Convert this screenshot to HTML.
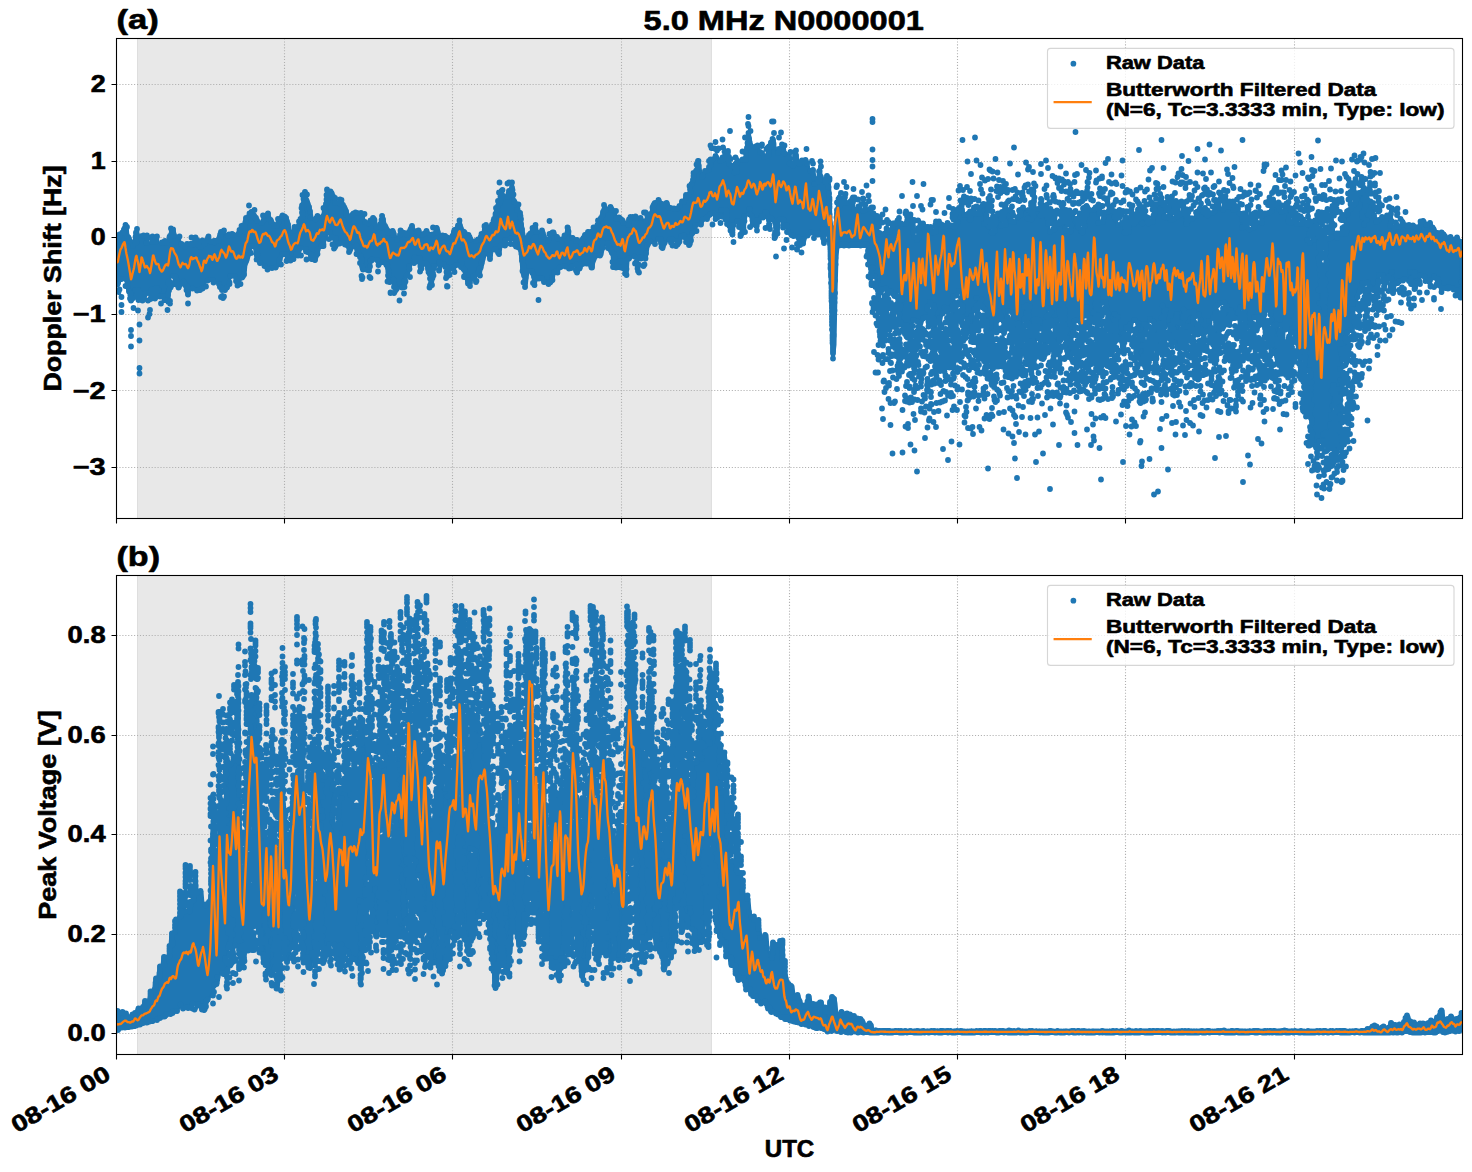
<!DOCTYPE html>
<html><head><meta charset="utf-8"><title>5.0 MHz N0000001</title>
<style>
html,body{margin:0;padding:0;background:#fff}
svg{display:block}
text{font-family:"Liberation Sans",sans-serif;font-weight:bold;fill:#000;stroke:#000;stroke-width:0.6px;stroke-linejoin:round}
.grid{stroke:#b0b0b0;stroke-width:1.1;stroke-dasharray:1.1 1.83;fill:none}
.tick{stroke:#000;stroke-width:1.1;fill:none}
.frame{stroke:#000;stroke-width:1.1;fill:none}
.dots{stroke:#1f77b4;stroke-width:5.8;stroke-linecap:round;fill:none}
.core{fill:#1f77b4;stroke:#1f77b4;stroke-width:2;stroke-linejoin:round}
.filt{stroke:#ff7f0e;stroke-width:2.35;stroke-linejoin:round;stroke-linecap:butt;fill:none}
</style></head><body>
<svg width="1472" height="1172" viewBox="0 0 1472 1172">
<rect width="1472" height="1172" fill="#fff"/>
<defs><clipPath id="ca"><rect x="116.5" y="38.5" width="1346" height="480"/></clipPath>
<clipPath id="cb"><rect x="116.5" y="575.5" width="1346" height="479"/></clipPath></defs>

<rect x="137" y="38.5" width="574.9" height="480.0" fill="#e8e8e8"/>
<path d="M137.5 38.5V518.5M711.4 38.5V518.5" stroke="#dedede" stroke-width="1" fill="none"/>
<path class="grid" d="M284.50 38.5V518.5M452.50 38.5V518.5M621.50 38.5V518.5M789.50 38.5V518.5M957.50 38.5V518.5M1125.50 38.5V518.5M1294.50 38.5V518.5M116.5 84.50H1462.5M116.5 161.50H1462.5M116.5 237.50H1462.5M116.5 314.50H1462.5M116.5 390.50H1462.5M116.5 467.50H1462.5"/>
<g clip-path="url(#ca)"><path class="core" d="M117.5 240.5L118.5 233.5L119.5 233.0L120.5 233.0L121.5 232.0L122.5 229.0L123.5 228.0L124.5 224.0L125.5 223.5L126.5 224.0L127.5 225.0L128.5 236.0L129.5 237.0L130.5 238.0L131.5 240.5L132.5 244.5L133.5 244.5L134.5 233.0L135.5 232.0L136.5 228.0L137.5 227.5L138.5 233.0L139.5 236.5L140.5 236.0L141.5 235.0L142.5 235.0L143.5 234.5L144.5 235.0L145.5 235.5L146.5 235.0L147.5 234.5L148.5 242.5L149.5 243.0L150.5 242.5L151.5 235.5L152.5 235.0L153.5 235.5L154.5 236.5L155.5 236.5L156.5 235.5L157.5 235.5L158.5 242.0L159.5 243.0L160.5 242.5L161.5 241.5L162.5 241.0L163.5 240.5L164.5 240.0L165.5 240.0L166.5 240.5L167.5 240.5L168.5 236.0L169.5 235.0L170.5 227.5L171.5 227.5L172.5 228.0L173.5 228.0L174.5 228.5L175.5 234.5L176.5 236.0L177.5 236.5L178.5 236.0L179.5 235.0L180.5 242.5L181.5 242.5L182.5 243.0L183.5 244.0L184.5 244.5L185.5 244.0L186.5 243.0L187.5 242.5L188.5 243.0L189.5 243.0L190.5 242.5L191.5 242.5L192.5 242.5L193.5 242.0L194.5 236.5L195.5 236.0L196.5 236.5L197.5 237.5L198.5 240.0L199.5 240.5L200.5 245.5L201.5 245.5L202.5 239.5L203.5 239.5L204.5 240.0L205.5 240.0L206.5 236.5L207.5 235.5L208.5 235.0L209.5 235.5L210.5 240.5L211.5 240.5L212.5 240.5L213.5 240.0L214.5 239.5L215.5 239.5L216.5 239.5L217.5 239.5L218.5 234.0L219.5 232.0L220.5 231.0L221.5 230.5L222.5 230.0L223.5 229.0L224.5 229.0L225.5 236.0L226.5 235.5L227.5 234.0L228.5 233.0L229.5 233.0L230.5 233.0L231.5 233.0L232.5 232.5L233.5 233.0L234.5 233.5L235.5 234.5L236.5 234.5L237.5 232.0L238.5 230.0L239.5 229.0L240.5 225.0L241.5 224.5L242.5 230.5L243.5 224.0L244.5 218.0L245.5 217.0L246.5 216.5L247.5 215.5L248.5 213.0L249.5 212.0L250.5 211.0L251.5 210.5L252.5 210.0L253.5 209.0L254.5 214.5L255.5 215.0L256.5 216.0L257.5 218.0L258.5 220.0L259.5 222.5L260.5 222.5L261.5 222.0L262.5 220.0L263.5 214.5L264.5 215.0L265.5 215.0L266.5 213.0L267.5 212.0L268.5 212.0L269.5 213.0L270.5 218.5L271.5 218.5L272.5 219.5L273.5 222.0L274.5 224.0L275.5 224.5L276.5 224.5L277.5 218.0L278.5 217.5L279.5 217.5L280.5 215.5L281.5 214.5L282.5 214.0L283.5 214.5L284.5 215.5L285.5 216.0L286.5 216.5L287.5 217.0L288.5 221.0L289.5 224.0L290.5 229.5L291.5 232.0L292.5 232.0L293.5 227.0L294.5 226.0L295.5 226.0L296.5 226.5L297.5 225.5L298.5 221.0L299.5 219.0L300.5 217.5L301.5 205.0L302.5 203.5L303.5 191.5L304.5 190.5L305.5 190.5L306.5 191.5L307.5 199.5L308.5 200.5L309.5 203.5L310.5 206.5L311.5 211.0L312.5 217.5L313.5 219.5L314.5 218.5L315.5 216.5L316.5 215.5L317.5 215.0L318.5 215.5L319.5 216.5L320.5 216.5L321.5 216.0L322.5 214.0L323.5 206.5L324.5 204.0L325.5 199.5L326.5 189.0L327.5 188.5L328.5 195.0L329.5 190.0L330.5 190.0L331.5 190.5L332.5 191.5L333.5 193.0L334.5 195.5L335.5 196.5L336.5 202.5L337.5 202.5L338.5 200.0L339.5 199.0L340.5 198.5L341.5 199.0L342.5 199.0L343.5 204.0L344.5 205.0L345.5 206.5L346.5 207.5L347.5 210.0L348.5 215.0L349.5 219.0L350.5 215.0L351.5 214.0L352.5 213.5L353.5 212.5L354.5 212.5L355.5 211.5L356.5 211.5L357.5 211.5L358.5 212.5L359.5 212.5L360.5 212.0L361.5 212.0L362.5 213.0L363.5 213.0L364.5 221.0L365.5 221.0L366.5 222.0L367.5 222.0L368.5 222.0L369.5 220.0L370.5 219.0L371.5 218.0L372.5 217.0L373.5 216.5L374.5 217.0L375.5 218.0L376.5 223.0L377.5 226.5L378.5 227.5L379.5 227.5L380.5 219.5L381.5 215.0L382.5 214.5L383.5 215.0L384.5 219.0L385.5 224.0L386.5 225.5L387.5 226.5L388.5 229.0L389.5 230.0L390.5 236.5L391.5 230.5L392.5 229.5L393.5 229.5L394.5 230.5L395.5 233.5L396.5 238.5L397.5 238.5L398.5 235.0L399.5 230.0L400.5 229.0L401.5 229.0L402.5 230.0L403.5 231.5L404.5 231.5L405.5 232.0L406.5 232.0L407.5 232.0L408.5 231.5L409.5 228.0L410.5 225.5L411.5 224.5L412.5 224.5L413.5 225.5L414.5 230.5L415.5 230.5L416.5 230.0L417.5 229.5L418.5 229.0L419.5 229.5L420.5 230.5L421.5 234.0L422.5 234.0L423.5 233.0L424.5 231.5L425.5 230.5L426.5 230.0L427.5 230.5L428.5 231.5L429.5 233.5L430.5 233.5L431.5 233.5L432.5 233.5L433.5 233.5L434.5 232.5L435.5 227.0L436.5 226.5L437.5 226.5L438.5 227.5L439.5 231.5L440.5 235.5L441.5 235.0L442.5 234.0L443.5 234.0L444.5 234.5L445.5 234.5L446.5 235.0L447.5 236.0L448.5 237.0L449.5 237.5L450.5 236.0L451.5 235.0L452.5 230.5L453.5 229.5L454.5 229.0L455.5 228.0L456.5 225.5L457.5 224.5L458.5 224.0L459.5 219.0L460.5 219.0L461.5 225.5L462.5 227.5L463.5 230.0L464.5 230.5L465.5 231.0L466.5 232.0L467.5 234.0L468.5 234.0L469.5 234.5L470.5 235.5L471.5 237.5L472.5 239.5L473.5 240.5L474.5 240.5L475.5 240.0L476.5 239.5L477.5 238.5L478.5 238.0L479.5 235.5L480.5 234.0L481.5 233.0L482.5 232.5L483.5 226.0L484.5 225.0L485.5 224.0L486.5 224.0L487.5 225.0L488.5 226.5L489.5 226.5L490.5 224.5L491.5 223.5L492.5 219.5L493.5 218.5L494.5 213.5L495.5 207.0L496.5 206.5L497.5 205.5L498.5 199.5L499.5 191.5L500.5 190.0L501.5 189.0L502.5 188.5L503.5 194.5L504.5 195.0L505.5 196.0L506.5 196.0L507.5 191.0L508.5 190.0L509.5 189.5L510.5 187.5L511.5 181.5L512.5 181.5L513.5 187.5L514.5 200.0L515.5 201.0L516.5 202.0L517.5 203.0L518.5 203.0L519.5 210.0L520.5 211.5L521.5 212.0L522.5 222.5L523.5 229.0L524.5 235.0L525.5 237.0L526.5 237.0L527.5 235.0L528.5 234.0L529.5 233.5L530.5 232.5L531.5 227.5L532.5 227.0L533.5 227.0L534.5 225.0L535.5 224.0L536.5 224.0L537.5 230.0L538.5 232.5L539.5 234.5L540.5 230.5L541.5 229.5L542.5 229.5L543.5 230.5L544.5 232.5L545.5 236.5L546.5 239.0L547.5 239.0L548.5 238.0L549.5 232.5L550.5 232.5L551.5 232.0L552.5 231.5L553.5 231.5L554.5 232.0L555.5 233.0L556.5 235.5L557.5 235.5L558.5 236.5L559.5 239.0L560.5 239.0L561.5 238.5L562.5 238.5L563.5 235.0L564.5 234.0L565.5 234.0L566.5 227.0L567.5 226.0L568.5 226.0L569.5 227.0L570.5 236.5L571.5 237.0L572.5 236.5L573.5 236.5L574.5 237.5L575.5 238.5L576.5 238.5L577.5 238.5L578.5 239.5L579.5 242.0L580.5 242.0L581.5 239.5L582.5 238.0L583.5 234.5L584.5 233.5L585.5 233.5L586.5 232.0L587.5 231.0L588.5 231.0L589.5 231.0L590.5 230.5L591.5 230.5L592.5 226.5L593.5 226.0L594.5 226.0L595.5 225.5L596.5 224.0L597.5 220.0L598.5 219.5L599.5 218.0L600.5 217.0L601.5 212.5L602.5 210.5L603.5 204.0L604.5 204.0L605.5 205.0L606.5 207.5L607.5 208.5L608.5 208.5L609.5 207.0L610.5 206.0L611.5 206.0L612.5 207.0L613.5 209.0L614.5 210.0L615.5 210.0L616.5 216.5L617.5 217.0L618.5 216.5L619.5 216.0L620.5 216.5L621.5 217.5L622.5 219.0L623.5 219.5L624.5 220.5L625.5 223.0L626.5 224.5L627.5 220.0L628.5 217.5L629.5 216.5L630.5 216.0L631.5 216.0L632.5 216.0L633.5 216.0L634.5 216.0L635.5 215.5L636.5 216.0L637.5 216.5L638.5 217.5L639.5 217.5L640.5 217.0L641.5 217.5L642.5 218.5L643.5 220.5L644.5 220.5L645.5 219.5L646.5 211.5L647.5 212.5L648.5 214.0L649.5 213.5L650.5 213.0L651.5 205.5L652.5 203.5L653.5 202.5L654.5 202.0L655.5 202.0L656.5 202.0L657.5 200.0L658.5 199.0L659.5 199.0L660.5 200.0L661.5 202.5L662.5 202.5L663.5 203.5L664.5 203.5L665.5 202.5L666.5 201.5L667.5 201.5L668.5 202.5L669.5 206.0L670.5 207.0L671.5 207.0L672.5 207.5L673.5 207.0L674.5 207.0L675.5 207.5L676.5 207.5L677.5 206.5L678.5 205.5L679.5 205.0L680.5 201.5L681.5 200.5L682.5 200.5L683.5 200.5L684.5 195.0L685.5 194.0L686.5 194.0L687.5 194.0L688.5 193.0L689.5 184.5L690.5 183.5L691.5 180.5L692.5 173.0L693.5 172.0L694.5 171.0L695.5 170.0L696.5 161.0L697.5 160.0L698.5 160.0L699.5 160.5L700.5 165.5L701.5 175.0L702.5 175.0L703.5 171.0L704.5 170.0L705.5 170.0L706.5 170.0L707.5 167.5L708.5 165.5L709.5 159.5L710.5 158.5L711.5 158.5L712.5 158.5L713.5 158.5L714.5 156.0L715.5 155.0L716.5 155.0L717.5 156.0L718.5 157.5L719.5 159.0L720.5 159.0L721.5 157.5L722.5 156.5L723.5 156.0L724.5 147.0L725.5 151.0L726.5 151.0L727.5 156.5L728.5 150.0L729.5 155.5L730.5 163.5L731.5 164.5L732.5 164.5L733.5 172.0L734.5 171.5L735.5 162.5L736.5 156.5L737.5 157.5L738.5 160.0L739.5 160.5L740.5 159.5L741.5 158.5L742.5 158.0L743.5 158.0L744.5 158.0L745.5 148.0L746.5 143.0L747.5 142.0L748.5 132.0L749.5 131.0L750.5 137.5L751.5 142.5L752.5 145.5L753.5 146.5L754.5 146.0L755.5 145.0L756.5 145.0L757.5 144.5L758.5 144.5L759.5 150.5L760.5 151.0L761.5 152.0L762.5 152.0L763.5 153.0L764.5 155.5L765.5 155.5L766.5 154.5L767.5 146.5L768.5 145.5L769.5 142.0L770.5 141.0L771.5 138.5L772.5 137.5L773.5 137.5L774.5 138.5L775.5 147.5L776.5 152.5L777.5 149.5L778.5 148.5L779.5 148.0L780.5 148.0L781.5 144.0L782.5 143.5L783.5 144.0L784.5 144.0L785.5 152.0L786.5 153.0L787.5 153.5L788.5 152.5L789.5 151.5L790.5 151.0L791.5 163.0L792.5 163.0L793.5 162.5L794.5 150.5L795.5 149.5L796.5 149.5L797.5 155.0L798.5 161.5L799.5 161.5L800.5 161.0L801.5 160.0L802.5 159.5L803.5 160.0L804.5 160.0L805.5 159.0L806.5 159.0L807.5 160.0L808.5 162.5L809.5 170.5L810.5 170.0L811.5 169.5L812.5 168.5L813.5 168.5L814.5 169.5L815.5 182.0L816.5 182.0L817.5 178.0L818.5 170.5L819.5 166.0L820.5 160.0L821.5 175.0L822.5 176.0L823.5 180.0L824.5 180.0L825.5 175.5L826.5 174.5L827.5 174.5L828.5 175.5L829.5 177.0L830.5 192.5L831.5 221.0L832.5 227.0L833.5 228.0L834.5 228.0L835.5 210.0L836.5 209.0L837.5 198.5L838.5 197.5L839.5 193.0L840.5 203.0L841.5 202.5L842.5 198.0L843.5 197.5L844.5 193.5L845.5 193.0L846.5 202.0L847.5 202.0L848.5 202.0L849.5 201.5L850.5 198.5L851.5 197.5L852.5 196.5L853.5 196.0L854.5 208.0L855.5 209.0L856.5 209.0L857.5 206.5L858.5 205.5L859.5 205.5L860.5 204.0L861.5 210.0L862.5 210.0L863.5 209.5L864.5 208.5L865.5 203.0L866.5 208.5L867.5 209.0L868.5 209.0L869.5 208.0L870.5 207.0L871.5 206.0L872.5 212.5L873.5 212.5L874.5 213.0L875.5 214.0L876.5 214.5L877.5 215.0L878.5 232.0L879.5 232.0L880.5 232.5L881.5 232.5L882.5 233.0L883.5 233.0L884.5 232.5L885.5 228.5L886.5 227.5L887.5 227.5L888.5 228.5L889.5 229.5L890.5 229.5L891.5 223.0L892.5 222.5L893.5 222.5L894.5 222.5L895.5 221.0L896.5 220.0L897.5 218.0L898.5 217.0L899.5 216.5L900.5 222.0L901.5 222.0L902.5 222.5L903.5 223.5L904.5 223.5L905.5 220.5L906.5 210.0L907.5 211.0L908.5 213.0L909.5 220.0L910.5 220.0L911.5 213.5L912.5 218.5L913.5 219.0L914.5 236.0L915.5 237.0L916.5 238.0L917.5 238.0L918.5 226.5L919.5 220.0L920.5 221.0L921.5 222.5L922.5 222.0L923.5 222.0L924.5 223.0L925.5 226.0L926.5 226.0L927.5 225.5L928.5 226.0L929.5 226.5L930.5 226.0L931.5 226.0L932.5 231.5L933.5 231.5L934.5 228.5L935.5 220.0L936.5 220.0L937.5 220.5L938.5 220.5L939.5 220.5L940.5 221.5L941.5 223.0L942.5 223.5L943.5 224.5L944.5 225.0L945.5 224.5L946.5 223.0L947.5 222.0L948.5 222.0L949.5 223.0L950.5 224.5L951.5 224.5L952.5 225.5L953.5 225.5L954.5 224.5L955.5 209.0L956.5 208.5L957.5 208.0L958.5 207.0L959.5 206.5L960.5 199.0L961.5 199.0L962.5 196.5L963.5 210.0L964.5 214.0L965.5 214.0L966.5 213.5L967.5 220.0L968.5 220.0L969.5 218.5L970.5 210.5L971.5 210.5L972.5 207.5L973.5 206.5L974.5 206.0L975.5 212.0L976.5 213.0L977.5 213.5L978.5 206.0L979.5 206.0L980.5 206.0L981.5 204.0L982.5 203.0L983.5 202.5L984.5 203.0L985.5 203.5L986.5 227.0L987.5 227.0L988.5 218.5L989.5 218.5L990.5 231.0L991.5 231.0L992.5 231.0L993.5 224.0L994.5 215.5L995.5 215.5L996.5 213.5L997.5 212.5L998.5 212.5L999.5 218.0L1000.5 217.5L1001.5 224.0L1002.5 225.0L1003.5 225.0L1004.5 204.0L1005.5 203.0L1006.5 202.0L1007.5 209.5L1008.5 209.5L1009.5 209.0L1010.5 206.5L1011.5 205.5L1012.5 220.5L1013.5 221.0L1014.5 221.0L1015.5 221.0L1016.5 217.0L1017.5 216.5L1018.5 215.0L1019.5 209.0L1020.5 208.5L1021.5 207.5L1022.5 206.5L1023.5 206.0L1024.5 206.5L1025.5 211.0L1026.5 210.5L1027.5 209.5L1028.5 209.0L1029.5 218.5L1030.5 219.0L1031.5 202.0L1032.5 201.5L1033.5 188.5L1034.5 182.0L1035.5 207.0L1036.5 208.0L1037.5 208.0L1038.5 207.5L1039.5 214.5L1040.5 214.5L1041.5 197.5L1042.5 198.5L1043.5 208.0L1044.5 208.5L1045.5 216.5L1046.5 216.5L1047.5 209.0L1048.5 209.0L1049.5 230.5L1050.5 230.5L1051.5 230.5L1052.5 228.5L1053.5 210.5L1054.5 210.5L1055.5 210.5L1056.5 221.5L1057.5 221.5L1058.5 221.5L1059.5 221.0L1060.5 220.0L1061.5 202.5L1062.5 201.5L1063.5 201.5L1064.5 208.5L1065.5 227.5L1066.5 228.5L1067.5 229.5L1068.5 229.5L1069.5 229.5L1070.5 210.0L1071.5 211.0L1072.5 212.0L1073.5 211.5L1074.5 217.5L1075.5 217.5L1076.5 217.5L1077.5 217.5L1078.5 212.5L1079.5 232.5L1080.5 232.5L1081.5 228.5L1082.5 228.0L1083.5 207.5L1084.5 214.5L1085.5 214.5L1086.5 204.5L1087.5 204.5L1088.5 205.5L1089.5 207.5L1090.5 209.0L1091.5 210.0L1092.5 210.0L1093.5 209.0L1094.5 207.5L1095.5 206.5L1096.5 204.5L1097.5 213.0L1098.5 203.0L1099.5 222.0L1100.5 222.0L1101.5 221.0L1102.5 217.0L1103.5 212.0L1104.5 211.5L1105.5 211.5L1106.5 211.5L1107.5 210.5L1108.5 197.5L1109.5 204.0L1110.5 206.0L1111.5 206.0L1112.5 204.5L1113.5 209.5L1114.5 210.0L1115.5 216.0L1116.5 224.5L1117.5 224.5L1118.5 224.0L1119.5 224.0L1120.5 223.0L1121.5 222.0L1122.5 221.5L1123.5 220.0L1124.5 231.5L1125.5 231.5L1126.5 231.5L1127.5 217.0L1128.5 217.0L1129.5 216.0L1130.5 213.0L1131.5 204.0L1132.5 204.0L1133.5 222.5L1134.5 222.5L1135.5 219.5L1136.5 209.5L1137.5 208.5L1138.5 218.0L1139.5 202.0L1140.5 203.0L1141.5 204.0L1142.5 206.5L1143.5 206.0L1144.5 223.5L1145.5 223.5L1146.5 216.0L1147.5 216.0L1148.5 217.0L1149.5 218.0L1150.5 220.5L1151.5 220.5L1152.5 215.0L1153.5 208.0L1154.5 203.5L1155.5 203.5L1156.5 203.5L1157.5 203.5L1158.5 202.5L1159.5 201.5L1160.5 192.5L1161.5 193.0L1162.5 197.5L1163.5 201.5L1164.5 202.0L1165.5 216.0L1166.5 216.0L1167.5 216.0L1168.5 221.0L1169.5 220.5L1170.5 196.0L1171.5 195.0L1172.5 217.5L1173.5 217.5L1174.5 218.0L1175.5 218.0L1176.5 200.0L1177.5 200.5L1178.5 201.5L1179.5 213.0L1180.5 213.0L1181.5 211.0L1182.5 200.5L1183.5 201.5L1184.5 222.5L1185.5 222.5L1186.5 208.0L1187.5 208.0L1188.5 208.5L1189.5 217.0L1190.5 217.5L1191.5 217.0L1192.5 217.0L1193.5 217.5L1194.5 217.5L1195.5 211.5L1196.5 210.5L1197.5 210.0L1198.5 208.0L1199.5 207.0L1200.5 195.5L1201.5 208.0L1202.5 208.5L1203.5 208.5L1204.5 216.0L1205.5 216.0L1206.5 207.5L1207.5 208.5L1208.5 209.5L1209.5 210.5L1210.5 212.5L1211.5 212.5L1212.5 212.0L1213.5 211.0L1214.5 205.5L1215.5 198.5L1216.5 199.0L1217.5 199.5L1218.5 199.5L1219.5 199.0L1220.5 207.5L1221.5 209.0L1222.5 208.5L1223.5 195.5L1224.5 195.5L1225.5 195.0L1226.5 205.0L1227.5 206.0L1228.5 206.0L1229.5 200.5L1230.5 200.5L1231.5 200.5L1232.5 208.5L1233.5 200.0L1234.5 200.0L1235.5 204.5L1236.5 205.0L1237.5 205.5L1238.5 204.5L1239.5 212.5L1240.5 212.5L1241.5 226.0L1242.5 226.0L1243.5 212.5L1244.5 212.5L1245.5 212.5L1246.5 206.0L1247.5 205.5L1248.5 227.0L1249.5 228.0L1250.5 228.0L1251.5 228.5L1252.5 228.0L1253.5 227.0L1254.5 212.0L1255.5 211.0L1256.5 211.0L1257.5 221.0L1258.5 222.0L1259.5 222.5L1260.5 221.0L1261.5 210.5L1262.5 211.5L1263.5 212.0L1264.5 212.0L1265.5 212.0L1266.5 213.0L1267.5 213.0L1268.5 212.0L1269.5 211.5L1270.5 210.5L1271.5 202.5L1272.5 198.0L1273.5 198.0L1274.5 198.5L1275.5 203.5L1276.5 203.5L1277.5 202.0L1278.5 208.0L1279.5 208.0L1280.5 202.0L1281.5 211.0L1282.5 211.0L1283.5 210.5L1284.5 205.0L1285.5 203.5L1286.5 202.5L1287.5 201.5L1288.5 200.5L1289.5 206.5L1290.5 221.0L1291.5 221.5L1292.5 220.5L1293.5 207.5L1294.5 211.5L1295.5 211.5L1296.5 212.0L1297.5 213.0L1298.5 223.0L1299.5 224.0L1300.5 224.0L1301.5 215.0L1302.5 216.0L1303.5 218.5L1304.5 219.5L1305.5 221.0L1306.5 221.0L1307.5 221.0L1308.5 199.5L1309.5 240.5L1310.5 241.5L1311.5 241.5L1312.5 220.5L1313.5 220.0L1314.5 219.0L1315.5 238.5L1316.5 219.5L1317.5 212.0L1318.5 227.0L1319.5 227.0L1320.5 296.0L1321.5 303.0L1322.5 311.5L1323.5 311.5L1324.5 264.5L1325.5 226.5L1326.5 238.5L1327.5 238.5L1328.5 237.5L1329.5 237.5L1330.5 209.5L1331.5 206.0L1332.5 219.5L1333.5 223.0L1334.5 237.5L1335.5 232.5L1336.5 232.5L1337.5 232.5L1338.5 232.5L1339.5 232.5L1340.5 232.0L1341.5 227.5L1342.5 233.0L1343.5 233.5L1344.5 226.0L1345.5 215.0L1346.5 210.5L1347.5 210.0L1348.5 209.0L1349.5 209.0L1350.5 197.5L1351.5 203.0L1352.5 203.5L1353.5 203.5L1354.5 178.0L1355.5 191.5L1356.5 192.5L1357.5 192.5L1358.5 192.0L1359.5 192.0L1360.5 192.0L1361.5 191.0L1362.5 176.0L1363.5 223.0L1364.5 187.0L1365.5 187.5L1366.5 188.5L1367.5 188.5L1368.5 198.5L1369.5 199.5L1370.5 200.5L1371.5 201.0L1372.5 201.5L1373.5 201.5L1374.5 214.0L1375.5 215.0L1376.5 220.0L1377.5 219.5L1378.5 219.0L1379.5 219.0L1380.5 217.5L1381.5 216.5L1382.5 216.0L1383.5 216.5L1384.5 217.0L1385.5 215.5L1386.5 214.5L1387.5 214.0L1388.5 214.0L1389.5 214.0L1390.5 206.0L1391.5 207.0L1392.5 226.0L1393.5 226.0L1394.5 226.0L1395.5 221.0L1396.5 221.0L1397.5 222.0L1398.5 224.5L1399.5 225.0L1400.5 225.5L1401.5 218.0L1402.5 219.0L1403.5 221.0L1404.5 222.0L1405.5 224.5L1406.5 224.5L1407.5 224.5L1408.5 224.0L1409.5 224.0L1410.5 225.0L1411.5 225.0L1412.5 224.0L1413.5 224.0L1414.5 225.0L1415.5 226.5L1416.5 226.5L1417.5 226.5L1418.5 226.5L1419.5 221.5L1420.5 220.5L1421.5 220.5L1422.5 220.0L1423.5 219.5L1424.5 220.0L1425.5 221.0L1426.5 223.5L1427.5 223.5L1428.5 222.5L1429.5 221.5L1430.5 221.5L1431.5 222.5L1432.5 226.0L1433.5 226.5L1434.5 227.5L1435.5 229.0L1436.5 231.5L1437.5 231.5L1438.5 232.0L1439.5 232.5L1440.5 232.0L1441.5 231.0L1442.5 231.0L1443.5 232.0L1444.5 233.0L1445.5 234.0L1446.5 236.0L1447.5 238.0L1448.5 238.0L1449.5 237.0L1450.5 236.0L1451.5 236.0L1452.5 237.0L1453.5 238.5L1454.5 238.5L1455.5 237.0L1456.5 236.0L1457.5 236.0L1458.5 237.0L1459.5 240.0L1460.5 241.0L1461.5 241.0L1461.5 299.0L1460.5 299.0L1459.5 293.5L1458.5 293.5L1457.5 295.5L1456.5 296.5L1455.5 290.5L1454.5 290.5L1453.5 290.5L1452.5 289.5L1451.5 288.5L1450.5 288.5L1449.5 289.0L1448.5 289.5L1447.5 289.5L1446.5 289.5L1445.5 289.5L1444.5 288.5L1443.5 288.0L1442.5 293.5L1441.5 293.5L1440.5 288.5L1439.5 287.5L1438.5 286.0L1437.5 285.5L1436.5 287.0L1435.5 278.5L1434.5 278.5L1433.5 277.5L1432.5 277.5L1431.5 280.0L1430.5 287.5L1429.5 286.5L1428.5 282.5L1427.5 281.5L1426.5 281.5L1425.5 282.0L1424.5 281.5L1423.5 277.5L1422.5 276.0L1421.5 276.0L1420.5 276.5L1419.5 285.0L1418.5 284.0L1417.5 284.0L1416.5 289.0L1415.5 290.0L1414.5 290.5L1413.5 290.0L1412.5 272.0L1411.5 272.0L1410.5 284.5L1409.5 283.5L1408.5 281.5L1407.5 280.5L1406.5 279.5L1405.5 280.0L1404.5 281.0L1403.5 281.5L1402.5 281.0L1401.5 281.0L1400.5 281.5L1399.5 283.5L1398.5 284.5L1397.5 284.5L1396.5 284.5L1395.5 285.0L1394.5 294.0L1393.5 294.5L1392.5 294.0L1391.5 293.0L1390.5 271.5L1389.5 271.0L1388.5 284.5L1387.5 282.5L1386.5 282.5L1385.5 289.5L1384.5 289.5L1383.5 282.5L1382.5 282.5L1381.5 276.0L1380.5 276.0L1379.5 276.5L1378.5 298.0L1377.5 298.0L1376.5 309.5L1375.5 309.5L1374.5 291.0L1373.5 291.0L1372.5 290.5L1371.5 290.5L1370.5 291.0L1369.5 304.0L1368.5 304.5L1367.5 284.0L1366.5 284.0L1365.5 284.0L1364.5 284.0L1363.5 284.0L1362.5 290.5L1361.5 291.5L1360.5 292.5L1359.5 293.0L1358.5 298.0L1357.5 298.5L1356.5 309.0L1355.5 308.5L1354.5 308.5L1353.5 340.5L1352.5 331.0L1351.5 331.0L1350.5 331.5L1349.5 332.5L1348.5 333.5L1347.5 334.0L1346.5 366.0L1345.5 366.5L1344.5 359.5L1343.5 349.0L1342.5 349.0L1341.5 423.5L1340.5 441.0L1339.5 441.0L1338.5 451.5L1337.5 452.5L1336.5 461.0L1335.5 463.0L1334.5 387.5L1333.5 387.5L1332.5 407.0L1331.5 449.0L1330.5 449.5L1329.5 450.5L1328.5 451.0L1327.5 452.0L1326.5 452.5L1325.5 435.0L1324.5 435.0L1323.5 451.0L1322.5 450.0L1321.5 442.0L1320.5 442.0L1319.5 442.5L1318.5 453.0L1317.5 458.5L1316.5 458.5L1315.5 448.0L1314.5 447.0L1313.5 445.5L1312.5 445.0L1311.5 445.5L1310.5 422.0L1309.5 418.5L1308.5 372.5L1307.5 370.5L1306.5 371.0L1305.5 371.5L1304.5 371.5L1303.5 328.5L1302.5 328.0L1301.5 382.0L1300.5 380.5L1299.5 379.5L1298.5 357.5L1297.5 357.5L1296.5 343.5L1295.5 343.0L1294.5 343.5L1293.5 333.5L1292.5 333.0L1291.5 333.0L1290.5 365.0L1289.5 365.0L1288.5 300.5L1287.5 300.5L1286.5 331.0L1285.5 331.0L1284.5 331.0L1283.5 375.0L1282.5 375.0L1281.5 346.0L1280.5 325.0L1279.5 324.5L1278.5 325.0L1277.5 365.0L1276.5 364.5L1275.5 356.0L1274.5 354.5L1273.5 354.5L1272.5 355.5L1271.5 295.5L1270.5 296.5L1269.5 315.5L1268.5 311.5L1267.5 310.5L1266.5 310.5L1265.5 315.0L1264.5 338.0L1263.5 328.5L1262.5 324.5L1261.5 325.0L1260.5 326.0L1259.5 326.0L1258.5 330.5L1257.5 331.5L1256.5 318.0L1255.5 318.0L1254.5 319.0L1253.5 319.0L1252.5 319.0L1251.5 345.5L1250.5 326.5L1249.5 326.5L1248.5 327.0L1247.5 328.0L1246.5 328.0L1245.5 333.5L1244.5 333.0L1243.5 317.5L1242.5 309.0L1241.5 309.0L1240.5 309.0L1239.5 335.0L1238.5 319.5L1237.5 314.0L1236.5 318.0L1235.5 319.0L1234.5 319.0L1233.5 319.5L1232.5 319.5L1231.5 320.0L1230.5 326.5L1229.5 311.0L1228.5 310.5L1227.5 325.5L1226.5 325.5L1225.5 322.5L1224.5 303.5L1223.5 303.0L1222.5 303.0L1221.5 304.0L1220.5 304.5L1219.5 305.5L1218.5 306.5L1217.5 306.5L1216.5 364.5L1215.5 364.5L1214.5 321.5L1213.5 319.0L1212.5 319.0L1211.5 321.0L1210.5 343.5L1209.5 343.5L1208.5 332.0L1207.5 332.0L1206.5 333.0L1205.5 334.0L1204.5 351.5L1203.5 351.0L1202.5 334.0L1201.5 333.5L1200.5 334.0L1199.5 335.0L1198.5 316.0L1197.5 316.5L1196.5 317.0L1195.5 317.0L1194.5 324.5L1193.5 346.5L1192.5 312.0L1191.5 312.0L1190.5 341.5L1189.5 341.5L1188.5 327.5L1187.5 327.5L1186.5 336.0L1185.5 336.0L1184.5 350.0L1183.5 311.5L1182.5 311.5L1181.5 324.5L1180.5 324.5L1179.5 324.5L1178.5 349.5L1177.5 349.5L1176.5 348.5L1175.5 344.0L1174.5 314.0L1173.5 346.5L1172.5 347.5L1171.5 347.5L1170.5 341.5L1169.5 339.5L1168.5 326.0L1167.5 325.5L1166.5 327.0L1165.5 328.0L1164.5 355.0L1163.5 307.0L1162.5 307.0L1161.5 323.5L1160.5 323.5L1159.5 353.5L1158.5 354.0L1157.5 359.0L1156.5 373.5L1155.5 336.0L1154.5 335.0L1153.5 334.5L1152.5 322.0L1151.5 321.0L1150.5 321.0L1149.5 320.5L1148.5 320.5L1147.5 336.0L1146.5 335.0L1145.5 326.0L1144.5 325.5L1143.5 367.0L1142.5 365.0L1141.5 365.0L1140.5 364.5L1139.5 360.0L1138.5 359.5L1137.5 334.0L1136.5 323.0L1135.5 321.0L1134.5 321.0L1133.5 321.5L1132.5 323.5L1131.5 332.0L1130.5 332.0L1129.5 340.5L1128.5 339.5L1127.5 329.5L1126.5 329.0L1125.5 329.0L1124.5 355.0L1123.5 355.0L1122.5 354.0L1121.5 353.0L1120.5 341.0L1119.5 340.5L1118.5 340.0L1117.5 340.0L1116.5 342.5L1115.5 315.0L1114.5 315.0L1113.5 378.0L1112.5 331.0L1111.5 331.0L1110.5 330.5L1109.5 330.5L1108.5 331.0L1107.5 331.0L1106.5 314.5L1105.5 303.0L1104.5 303.0L1103.5 303.5L1102.5 303.5L1101.5 305.0L1100.5 320.0L1099.5 324.0L1098.5 324.0L1097.5 371.5L1096.5 371.5L1095.5 288.0L1094.5 288.0L1093.5 323.0L1092.5 322.0L1091.5 322.0L1090.5 336.0L1089.5 336.5L1088.5 329.0L1087.5 316.0L1086.5 316.0L1085.5 308.5L1084.5 308.5L1083.5 318.5L1082.5 356.5L1081.5 357.0L1080.5 346.5L1079.5 322.5L1078.5 321.5L1077.5 321.5L1076.5 322.0L1075.5 322.0L1074.5 335.5L1073.5 336.0L1072.5 336.5L1071.5 362.0L1070.5 359.0L1069.5 358.5L1068.5 358.0L1067.5 358.0L1066.5 358.5L1065.5 350.0L1064.5 326.0L1063.5 326.0L1062.5 306.0L1061.5 305.5L1060.5 306.0L1059.5 319.5L1058.5 320.0L1057.5 355.0L1056.5 354.5L1055.5 356.0L1054.5 378.5L1053.5 326.0L1052.5 326.0L1051.5 327.0L1050.5 327.0L1049.5 310.0L1048.5 310.0L1047.5 310.0L1046.5 341.0L1045.5 347.0L1044.5 346.5L1043.5 346.5L1042.5 330.0L1041.5 330.0L1040.5 330.0L1039.5 330.0L1038.5 328.5L1037.5 321.0L1036.5 321.0L1035.5 368.0L1034.5 367.5L1033.5 321.0L1032.5 321.0L1031.5 383.5L1030.5 373.5L1029.5 371.0L1028.5 341.5L1027.5 306.5L1026.5 306.5L1025.5 307.0L1024.5 320.5L1023.5 320.5L1022.5 320.5L1021.5 357.5L1020.5 375.0L1019.5 375.0L1018.5 375.0L1017.5 326.0L1016.5 324.5L1015.5 325.0L1014.5 342.0L1013.5 343.0L1012.5 353.0L1011.5 312.5L1010.5 311.5L1009.5 311.5L1008.5 312.0L1007.5 312.0L1006.5 330.5L1005.5 333.5L1004.5 334.5L1003.5 334.5L1002.5 322.0L1001.5 321.0L1000.5 320.0L999.5 320.0L998.5 313.5L997.5 313.5L996.5 333.5L995.5 333.0L994.5 333.0L993.5 333.5L992.5 370.0L991.5 385.5L990.5 361.5L989.5 361.0L988.5 334.0L987.5 334.0L986.5 379.5L985.5 310.5L984.5 310.5L983.5 309.5L982.5 308.5L981.5 308.0L980.5 308.0L979.5 298.0L978.5 298.0L977.5 331.0L976.5 310.0L975.5 310.0L974.5 311.0L973.5 311.0L972.5 343.0L971.5 342.5L970.5 330.5L969.5 333.0L968.5 334.0L967.5 334.5L966.5 339.5L965.5 318.5L964.5 317.0L963.5 317.5L962.5 326.5L961.5 325.5L960.5 294.0L959.5 292.0L958.5 292.0L957.5 296.5L956.5 297.0L955.5 297.0L954.5 297.5L953.5 379.5L952.5 342.0L951.5 310.0L950.5 308.5L949.5 308.5L948.5 325.0L947.5 313.0L946.5 312.5L945.5 312.0L944.5 309.5L943.5 314.0L942.5 314.5L941.5 318.0L940.5 328.5L939.5 352.0L938.5 322.5L937.5 323.0L936.5 323.5L935.5 385.0L934.5 339.0L933.5 338.0L932.5 336.5L931.5 305.0L930.5 303.5L929.5 303.5L928.5 328.0L927.5 327.5L926.5 318.5L925.5 318.5L924.5 319.5L923.5 320.0L922.5 322.5L921.5 323.5L920.5 332.0L919.5 332.0L918.5 348.5L917.5 323.0L916.5 322.5L915.5 321.5L914.5 321.5L913.5 321.5L912.5 321.5L911.5 364.0L910.5 337.5L909.5 325.0L908.5 325.5L907.5 326.5L906.5 326.5L905.5 337.0L904.5 335.5L903.5 334.5L902.5 331.0L901.5 325.5L900.5 325.5L899.5 292.0L898.5 291.5L897.5 291.5L896.5 298.5L895.5 297.0L894.5 297.0L893.5 296.0L892.5 295.0L891.5 294.0L890.5 293.5L889.5 294.0L888.5 295.0L887.5 328.5L886.5 328.5L885.5 289.5L884.5 289.0L883.5 289.5L882.5 293.5L881.5 293.5L880.5 294.0L879.5 299.5L878.5 299.5L877.5 327.0L876.5 289.5L875.5 278.0L874.5 278.0L873.5 277.5L872.5 278.0L871.5 262.5L870.5 262.5L869.5 269.0L868.5 265.5L867.5 258.0L866.5 246.0L865.5 246.5L864.5 246.5L863.5 246.5L862.5 246.5L861.5 246.5L860.5 246.5L859.5 246.5L858.5 246.5L857.5 246.5L856.5 246.5L855.5 246.5L854.5 246.5L853.5 246.5L852.5 246.5L851.5 246.5L850.5 246.5L849.5 246.5L848.5 246.5L847.5 246.5L846.5 246.5L845.5 246.5L844.5 246.5L843.5 246.5L842.5 246.5L841.5 246.5L840.5 246.5L839.5 246.5L838.5 246.5L837.5 257.5L836.5 293.0L835.5 345.0L834.5 353.5L833.5 359.5L832.5 359.0L831.5 353.5L830.5 312.0L829.5 260.5L828.5 244.5L827.5 235.0L826.5 234.0L825.5 234.0L824.5 244.0L823.5 244.0L822.5 243.0L821.5 229.5L820.5 229.5L819.5 235.0L818.5 235.5L817.5 235.0L816.5 234.5L815.5 234.5L814.5 239.5L813.5 233.0L812.5 233.0L811.5 233.5L810.5 233.5L809.5 235.5L808.5 236.5L807.5 237.0L806.5 237.0L805.5 239.5L804.5 244.5L803.5 245.0L802.5 245.0L801.5 245.5L800.5 240.0L799.5 240.0L798.5 250.5L797.5 239.0L796.5 237.0L795.5 236.5L794.5 237.0L793.5 237.5L792.5 237.0L791.5 236.5L790.5 236.0L789.5 235.0L788.5 233.0L787.5 233.5L786.5 227.0L785.5 227.5L784.5 228.5L783.5 229.0L782.5 228.5L781.5 220.5L780.5 220.5L779.5 220.5L778.5 234.5L777.5 235.5L776.5 238.5L775.5 239.5L774.5 227.5L773.5 222.0L772.5 220.5L771.5 220.5L770.5 220.5L769.5 230.0L768.5 229.0L767.5 220.5L766.5 217.5L765.5 213.5L764.5 213.5L763.5 219.0L762.5 218.5L761.5 217.5L760.5 216.0L759.5 216.0L758.5 225.5L757.5 231.5L756.5 231.0L755.5 226.5L754.5 225.5L753.5 225.5L752.5 226.5L751.5 227.5L750.5 216.5L749.5 215.0L748.5 210.5L747.5 211.0L746.5 215.5L745.5 223.0L744.5 233.0L743.5 233.0L742.5 236.0L741.5 237.0L740.5 229.0L739.5 228.0L738.5 227.5L737.5 222.5L736.5 222.5L735.5 224.5L734.5 225.5L733.5 235.5L732.5 236.0L731.5 235.5L730.5 234.5L729.5 227.0L728.5 226.5L727.5 225.5L726.5 225.0L725.5 221.0L724.5 211.0L723.5 211.0L722.5 217.5L721.5 217.5L720.5 217.5L719.5 217.5L718.5 218.5L717.5 219.0L716.5 220.0L715.5 220.5L714.5 220.5L713.5 214.5L712.5 214.5L711.5 215.0L710.5 216.0L709.5 217.5L708.5 219.0L707.5 220.0L706.5 220.0L705.5 219.0L704.5 219.0L703.5 220.0L702.5 224.5L701.5 225.5L700.5 225.5L699.5 224.5L698.5 224.5L697.5 225.0L696.5 226.0L695.5 232.0L694.5 232.5L693.5 233.5L692.5 236.5L691.5 245.0L690.5 246.0L689.5 246.5L688.5 246.0L687.5 245.0L686.5 243.0L685.5 242.5L684.5 238.0L683.5 237.5L682.5 237.5L681.5 238.0L680.5 243.0L679.5 244.5L678.5 245.5L677.5 246.5L676.5 247.5L675.5 241.5L674.5 240.5L673.5 240.5L672.5 247.0L671.5 246.0L670.5 243.5L669.5 242.5L668.5 240.0L667.5 240.0L666.5 243.5L665.5 244.5L664.5 247.5L663.5 248.5L662.5 249.0L661.5 248.5L660.5 247.5L659.5 243.0L658.5 240.0L657.5 239.5L656.5 239.5L655.5 245.0L654.5 244.5L653.5 243.5L652.5 242.0L651.5 242.5L650.5 243.0L649.5 245.5L648.5 247.0L647.5 254.0L646.5 259.0L645.5 259.5L644.5 259.0L643.5 259.0L642.5 259.5L641.5 260.0L640.5 259.5L639.5 258.5L638.5 258.5L637.5 272.0L636.5 264.5L635.5 258.5L634.5 257.5L633.5 257.0L632.5 256.5L631.5 258.0L630.5 259.0L629.5 259.5L628.5 261.0L627.5 276.0L626.5 276.0L625.5 275.0L624.5 274.5L623.5 269.0L622.5 269.0L621.5 262.0L620.5 262.0L619.5 268.5L618.5 268.0L617.5 268.0L616.5 269.0L615.5 269.0L614.5 268.5L613.5 268.5L612.5 268.5L611.5 254.5L610.5 253.5L609.5 251.5L608.5 249.5L607.5 249.5L606.5 248.5L605.5 243.0L604.5 243.0L603.5 249.0L602.5 255.0L601.5 256.0L600.5 256.5L599.5 256.0L598.5 256.0L597.5 256.5L596.5 257.0L595.5 259.5L594.5 261.0L593.5 267.5L592.5 268.5L591.5 268.5L590.5 268.0L589.5 267.0L588.5 264.5L587.5 264.5L586.5 265.0L585.5 264.5L584.5 264.5L583.5 265.0L582.5 265.0L581.5 268.5L580.5 269.5L579.5 269.5L578.5 273.0L577.5 274.0L576.5 274.0L575.5 265.5L574.5 266.0L573.5 267.0L572.5 268.5L571.5 269.5L570.5 269.5L569.5 270.0L568.5 269.5L567.5 268.5L566.5 267.5L565.5 267.5L564.5 267.5L563.5 267.0L562.5 267.5L561.5 268.5L560.5 268.5L559.5 268.5L558.5 274.0L557.5 274.0L556.5 273.0L555.5 273.0L554.5 274.0L553.5 280.5L552.5 282.5L551.5 283.5L550.5 284.0L549.5 285.0L548.5 285.0L547.5 284.0L546.5 283.0L545.5 283.0L544.5 283.5L543.5 283.0L542.5 282.0L541.5 279.5L540.5 279.5L539.5 280.0L538.5 280.0L537.5 279.5L536.5 280.0L535.5 286.5L534.5 286.5L533.5 285.5L532.5 277.0L531.5 273.5L530.5 272.5L529.5 271.5L528.5 271.5L527.5 278.5L526.5 287.5L525.5 288.0L524.5 287.5L523.5 276.0L522.5 275.0L521.5 272.5L520.5 260.5L519.5 251.0L518.5 248.5L517.5 247.5L516.5 247.5L515.5 247.5L514.5 246.5L513.5 240.0L512.5 238.5L511.5 239.0L510.5 245.0L509.5 239.0L508.5 238.5L507.5 240.0L506.5 245.5L505.5 246.5L504.5 246.5L503.5 245.5L502.5 245.5L501.5 246.0L500.5 254.5L499.5 255.5L498.5 255.5L497.5 254.5L496.5 252.0L495.5 250.5L494.5 250.5L493.5 250.5L492.5 250.5L491.5 259.0L490.5 260.0L489.5 260.0L488.5 259.0L487.5 254.5L486.5 254.5L485.5 255.5L484.5 259.0L483.5 263.5L482.5 267.5L481.5 269.5L480.5 277.0L479.5 276.5L478.5 275.5L477.5 273.0L476.5 275.0L475.5 283.0L474.5 282.0L473.5 279.5L472.5 278.5L471.5 278.5L470.5 287.5L469.5 287.0L468.5 286.0L467.5 284.5L466.5 283.5L465.5 278.0L464.5 278.0L463.5 271.0L462.5 270.0L461.5 268.5L460.5 268.5L459.5 260.0L458.5 260.0L457.5 265.5L456.5 266.0L455.5 267.0L454.5 273.0L453.5 272.0L452.5 269.0L451.5 269.0L450.5 270.0L449.5 276.5L448.5 277.5L447.5 278.5L446.5 279.0L445.5 268.0L444.5 267.0L443.5 265.5L442.5 265.5L441.5 266.5L440.5 271.5L439.5 272.0L438.5 265.5L437.5 263.5L436.5 265.5L435.5 268.5L434.5 269.5L433.5 279.0L432.5 286.5L431.5 287.5L430.5 288.5L429.5 279.5L428.5 274.0L427.5 273.0L426.5 268.5L425.5 264.5L424.5 264.5L423.5 265.5L422.5 269.5L421.5 272.0L420.5 273.0L419.5 273.0L418.5 263.0L417.5 258.0L416.5 258.0L415.5 264.0L414.5 264.5L413.5 264.0L412.5 263.5L411.5 263.5L410.5 270.5L409.5 270.5L408.5 277.0L407.5 277.0L406.5 277.0L405.5 288.0L404.5 288.0L403.5 288.0L402.5 288.5L401.5 288.0L400.5 287.0L399.5 287.0L398.5 289.5L397.5 290.5L396.5 292.5L395.5 293.5L394.5 294.0L393.5 282.0L392.5 282.0L391.5 282.5L390.5 283.5L389.5 283.5L388.5 282.5L387.5 282.5L386.5 268.5L385.5 265.0L384.5 264.0L383.5 263.5L382.5 263.5L381.5 263.5L380.5 265.0L379.5 266.0L378.5 266.0L377.5 265.0L376.5 261.0L375.5 260.0L374.5 260.0L373.5 260.5L372.5 261.5L371.5 262.0L370.5 271.5L369.5 272.0L368.5 271.5L367.5 271.5L366.5 270.5L365.5 270.0L364.5 270.5L363.5 271.0L362.5 270.5L361.5 269.5L360.5 265.5L359.5 258.5L358.5 256.5L357.5 255.5L356.5 255.5L355.5 250.0L354.5 246.0L353.5 246.5L352.5 248.5L351.5 251.5L350.5 252.5L349.5 253.0L348.5 252.5L347.5 248.5L346.5 246.0L345.5 245.5L344.5 245.0L343.5 244.5L342.5 244.0L341.5 244.0L340.5 245.0L339.5 245.0L338.5 244.5L337.5 246.5L336.5 247.5L335.5 249.0L334.5 250.0L333.5 239.0L332.5 239.0L331.5 238.5L330.5 239.0L329.5 234.0L328.5 233.5L327.5 233.5L326.5 239.0L325.5 239.5L324.5 246.5L323.5 247.0L322.5 247.0L321.5 247.0L320.5 247.5L319.5 249.5L318.5 255.0L317.5 257.0L316.5 260.5L315.5 261.5L314.5 261.5L313.5 260.5L312.5 260.0L311.5 260.0L310.5 259.0L309.5 258.5L308.5 253.5L307.5 253.5L306.5 253.0L305.5 252.5L304.5 251.5L303.5 248.0L302.5 248.0L301.5 249.0L300.5 250.5L299.5 256.5L298.5 256.5L297.5 256.0L296.5 255.0L295.5 255.0L294.5 260.5L293.5 260.5L292.5 260.5L291.5 261.5L290.5 261.5L289.5 261.5L288.5 261.5L287.5 262.0L286.5 262.0L285.5 255.0L284.5 255.0L283.5 255.5L282.5 256.0L281.5 259.5L280.5 266.0L279.5 265.0L278.5 265.0L277.5 268.0L276.5 269.0L275.5 269.0L274.5 268.5L273.5 268.5L272.5 269.0L271.5 268.5L270.5 268.5L269.5 269.5L268.5 270.5L267.5 270.5L266.5 269.5L265.5 267.0L264.5 267.0L263.5 266.0L262.5 263.5L261.5 263.5L260.5 264.5L259.5 264.5L258.5 263.5L257.5 261.0L256.5 261.0L255.5 255.0L254.5 250.0L253.5 247.0L252.5 247.0L251.5 247.0L250.5 254.5L249.5 256.0L248.5 260.5L247.5 263.0L246.5 264.0L245.5 275.5L244.5 277.5L243.5 278.5L242.5 279.0L241.5 279.0L240.5 279.0L239.5 285.5L238.5 286.5L237.5 287.0L236.5 286.5L235.5 282.5L234.5 277.0L233.5 276.5L232.5 276.5L231.5 277.5L230.5 277.5L229.5 285.0L228.5 288.0L227.5 289.0L226.5 290.5L225.5 291.5L224.5 291.5L223.5 291.0L222.5 291.0L221.5 291.0L220.5 290.0L219.5 288.5L218.5 287.5L217.5 284.0L216.5 282.5L215.5 282.5L214.5 283.5L213.5 283.5L212.5 282.5L211.5 281.0L210.5 280.5L209.5 281.0L208.5 282.0L207.5 282.0L206.5 281.5L205.5 282.0L204.5 288.5L203.5 289.5L202.5 290.0L201.5 290.5L200.5 291.5L199.5 291.5L198.5 291.5L197.5 291.5L196.5 291.0L195.5 290.0L194.5 289.0L193.5 289.5L192.5 289.5L191.5 288.5L190.5 288.0L189.5 295.0L188.5 296.0L187.5 296.0L186.5 295.0L185.5 290.5L184.5 286.5L183.5 284.0L182.5 284.0L181.5 285.0L180.5 288.0L179.5 289.0L178.5 289.0L177.5 288.0L176.5 287.0L175.5 285.0L174.5 285.0L173.5 277.5L172.5 277.0L171.5 276.0L170.5 276.0L169.5 304.0L168.5 303.0L167.5 302.5L166.5 301.5L165.5 301.0L164.5 301.0L163.5 300.0L162.5 297.5L161.5 297.5L160.5 298.0L159.5 297.5L158.5 297.0L157.5 298.5L156.5 289.5L155.5 289.5L154.5 290.0L153.5 290.0L152.5 290.5L151.5 300.0L150.5 300.0L149.5 294.5L148.5 294.0L147.5 294.0L146.5 295.0L145.5 298.5L144.5 300.5L143.5 301.5L142.5 302.0L141.5 301.5L140.5 301.0L139.5 301.0L138.5 301.0L137.5 291.0L136.5 291.0L135.5 297.0L134.5 298.5L133.5 300.0L132.5 301.0L131.5 301.5L130.5 301.0L129.5 300.0L128.5 293.0L127.5 291.5L126.5 287.5L125.5 280.5L124.5 279.5L123.5 279.5L122.5 280.0L121.5 280.0L120.5 280.5L119.5 284.5L118.5 285.5L117.5 285.5Z"/><path class="dots" transform="scale(0.5)" style="stroke-width:11.6" d="M233 502h0m0 3h0m0 12h0m0 6h0m0 3h0m0 12h0m0 5h0m0 3h0m0 13h0m1-71h0m0 5h0m0 6h0m0 1h0m0 4h0m0 5h0m0 5h0m0 5h0m0 11h0m0 4h0m0 15h0m0 1h0m0 5h0m1-42h0m0 55h0m1-4h0m1 20h0m1-104h0m0 79h0m1-90h0m0 3h0m0 107h0m4-21h0m0 36h0m0 16h0m0 14h0m2-159h0m3-6h0m0 3h0m1-5h0m2-7h0m0 122h0m2-13h0m1-105h0m0 18h0m1 90h0m0 6h0m0 5h0m2-98h0m1 108h0m2-101h0m0 115h0m1-10h0m0 4h0m1 10h0m0 59h0m0 12h0m0 21h0m1-96h0m3-105h0m0 104h0m1 20h0m4-142h0m0 9h0m0 97h0m1-115h0m0 11h0m0 2h0m0 3h0m1 4h0m0 106h0m1-133h0m2 122h0m0 41h0m1-21h0m2-4h0m0 53h0m0 32h0m0 55h0m0 11h0m1-161h0m4-114h0m1 129h0m2-130h0m0 125h0m4-9h0m2-101h0m1-15h0m1 5h0m1 125h0m0 34h0m2-49h0m1 42h0m1-8h0m1-32h0m0 10h0m2-19h0m2-106h0m0 5h0m0 4h0m0 2h0m1-4h0m2 98h0m2 19h0m1-9h0m0 5h0m1-110h0m2-10h0m0 103h0m3 4h0m3 13h0m2 14h0m2-122h0m1 107h0m2-108h0m2 116h0m1-118h0m3 2h0m0 2h0m2 134h0m1-33h0m0 2h0m1-26h0m0 4h0m0 37h0m1-23h0m1-107h0m1-2h0m0 7h0m0 123h0m0 5h0m1-42h0m0 10h0m1-118h0m0 116h0m2-107h0m1 102h0m1-109h0m1 93h0m1-81h0m2 97h0m1-15h0m2 7h0m4 15h0m2-102h0m1 96h0m3-81h0m4 75h0m3-72h0m0 2h0m0 76h0m2 3h0m1 8h0m1-92h0m1 85h0m1 14h0m0 2h0m0 18h0m5-119h0m2-13h0m0 13h0m2 89h0m2-88h0m1-2h0m2-3h0m1-9h0m3 106h0m3-99h0m0 8h0m3 90h0m1-86h0m2 83h0m2-96h0m0 96h0m4-89h0m3 85h0m3-93h0m0 81h0m2-88h0m5 10h0m3 77h0m2 5h0m1-83h0m1 3h0m2-3h0m1 0h0m3-1h0m3 0h0m0 87h0m1-93h0m1 99h0m1-106h0m0 4h0m0 2h0m1-10h0m0 130h0m2-14h0m1 12h0m1 4h0m1-133h0m1-2h0m0 132h0m2-14h0m0 1h0m4-5h0m2-104h0m2-2h0m1 96h0m0 3h0m2-16h0m3-84h0m0 1h0m3 1h0m2 82h0m3 10h0m3 9h0m1-12h0m1-91h0m2-8h0m0 4h0m0 93h0m2 11h0m2-116h0m1 103h0m2-104h0m2 87h0m0 11h0m1-86h0m1-10h0m0 2h0m0 72h0m1-83h0m1-8h0m0 85h0m3-10h0m1-77h0m2-23h0m1 16h0m3 79h0m1-82h0m0 68h0m3-61h0m2 0h0m1-11h0m0 73h0m2-57h0m1 0h0m0 59h0m1 5h0m0 9h0m0 10h0m1-78h0m0 61h0m0 8h0m1-1h0m5 17h0m3-80h0m3-15h0m1 10h0m2 91h0m5-102h0m1 109h0m1-112h0m2 11h0m3 2h0m1 4h0m2 92h0m4-84h0m1-2h0m2 85h0m3-83h0m2-14h0m1 7h0m2 74h0m0 7h0m3 3h0m2-20h0m1-78h0m2 3h0m1 0h0m0 74h0m1-75h0m1 1h0m2 2h0m1 72h0m0 14h0m1-79h0m1 6h0m1 0h0m1 10h0m0 57h0m2 4h0m1-54h0m1 55h0m3-3h0m3 0h0m2-64h0m0 7h0m4 47h0m2-1h0m1 3h0m0 1h0m1-10h0m1-58h0m0 8h0m2-9h0m0 3h0m1-7h0m0 13h0m0 45h0m1 15h0m1-95h0m1-5h0m0 6h0m0 8h0m1-35h0m0 44h0m1-7h0m0 5h0m0 1h0m1-35h0m0 9h0m3-23h0m2 114h0m0 5h0m1-102h0m0 118h0m1-130h0m1 18h0m0 97h0m3-90h0m2 9h0m1 12h0m1 74h0m1 6h0m0 3h0m1-3h0m4 3h0m2 2h0m1-81h0m0 74h0m2-77h0m2-4h0m0 67h0m0 9h0m8-16h0m3-59h0m0 57h0m1-74h0m0 63h0m0 10h0m0 3h0m1-61h0m1-13h0m0 1h0m1 6h0m1-3h0m0 5h0m1-19h0m1-18h0m0 9h0m0 8h0m1-28h0m0 1h0m0 23h0m1-1h0m3 63h0m0 13h0m1-14h0m1-72h0m1-9h0m2 3h0m0 89h0m2 0h0m0 14h0m1-96h0m2 104h0m2-101h0m0 10h0m0 88h0m1-18h0m1 5h0m7-75h0m0 1h0m0 80h0m1-88h0m3 1h0m3 10h0m2 4h0m0 72h0m2 3h0m2-66h0m0 64h0m1-57h0m0 60h0m4 2h0m1-52h0m0 64h0m1-7h0m1 1h0m3-4h0m1-64h0m3-3h0m4-2h0m2 66h0m0 17h0m1-82h0m0 70h0m1 2h0m0 2h0m2 7h0m3 7h0m0 12h0m2-100h0m0 87h0m1 5h0m0 5h0m0 29h0m1-20h0m0 26h0m1-22h0m0 19h0m1-16h0m3-111h0m1 16h0m5 96h0m2-93h0m1 94h0m1 13h0m1-21h0m1-92h0m0 81h0m0 34h0m2-35h0m1-2h0m2-83h0m3 4h0m0 7h0m4 8h0m1 65h0m2 23h0m1-13h0m4-82h0m2-8h0m0 15h0m1-23h0m0 11h0m0 11h0m1 70h0m1-85h0m1 9h0m3 4h0m2 76h0m1 2h0m1-70h0m1 103h0m1-98h0m0 69h0m0 2h0m0 15h0m1-9h0m0 2h0m0 4h0m1-4h0m1 20h0m2 21h0m0 1h0m4-124h0m2 5h0m0 3h0m0 89h0m1 3h0m0 12h0m0 12h0m1-15h0m4 7h0m1-98h0m5 121h0m1-131h0m1-9h0m2 3h0m1 111h0m4-109h0m0 121h0m1-25h0m0 12h0m1-9h0m1-2h0m2-96h0m0 84h0m1-82h0m1 80h0m3-85h0m0 69h0m1 5h0m1 16h0m1-95h0m1 6h0m1-10h0m1-3h0m4 74h0m1-11h0m5-53h0m2 0h0m1-1h0m0 3h0m0 59h0m2-7h0m1 27h0m1-10h0m2-2h0m0 6h0m2-67h0m3 57h0m1-60h0m4-5h0m0 65h0m2 4h0m1 4h0m0 3h0m1 6h0m1 1h0m1 2h0m0 28h0m1-105h0m0 87h0m0 14h0m2-5h0m2 4h0m1-101h0m0 87h0m1-101h0m0 83h0m0 9h0m1-10h0m0 14h0m1-19h0m4-67h0m1-9h0m2 8h0m3 76h0m0 1h0m1-17h0m1 7h0m3-56h0m2-4h0m2 1h0m0 56h0m3-56h0m1 62h0m1 22h0m1-12h0m0 9h0m1-78h0m0 60h0m0 37h0m0 1h0m1 0h0m2-22h0m1-3h0m1 2h0m1-13h0m4-63h0m1-2h0m1 1h0m1-4h0m0 65h0m1-70h0m0 6h0m1-10h0m0 3h0m0 81h0m4-14h0m2-74h0m1-5h0m1 0h0m2-10h0m1 11h0m1 4h0m1 78h0m1-13h0m1 1h0m0 4h0m2-63h0m1 75h0m1-74h0m0 89h0m0 1h0m1-14h0m4-70h0m3 91h0m0 6h0m1-97h0m2 4h0m1 91h0m0 7h0m1-93h0m5 74h0m1 4h0m2-6h0m3-69h0m0 82h0m1-2h0m3-83h0m1 65h0m1-5h0m2-62h0m0 74h0m1-75h0m0 60h0m1-63h0m1-5h0m0 58h0m2-8h0m1-49h0m1 42h0m2-59h0m0 1h0m0 55h0m1-51h0m0 3h0m0 2h0m2-12h0m6 6h0m2 54h0m0 8h0m4-69h0m1 2h0m2-9h0m1-4h0m0 8h0m1 53h0m2-71h0m0 4h0m1-16h0m0 13h0m0 69h0m1-69h0m2-6h0m1-21h0m0 10h0m0 93h0m2-120h0m0 123h0m1-143h0m1 41h0m1-14h0m0 8h0m0 91h0m2-109h0m2-2h0m1 12h0m4 99h0m1-11h0m0 9h0m4-122h0m0 27h0m2-6h0m1-23h0m0 17h0m3 95h0m0 11h0m3-123h0m0 11h0m1 4h0m0 9h0m2 0h0m1 13h0m1 2h0m0 85h0m1-11h0m1 2h0m0 1h0m1-2h0m0 14h0m2-73h0m3-11h0m0 86h0m3-69h0m0 18h0m1-12h0m0 65h0m1-59h0m0 11h0m0 50h0m0 2h0m1 3h0m0 4h0m1-49h0m0 11h0m0 37h0m0 5h0m0 4h0m0 5h0m1-16h0m0 15h0m0 3h0m0 19h0m1-18h0m0 2h0m0 10h0m1-5h0m0 4h0m0 11h0m0 19h0m1-14h0m2 9h0m0 5h0m0 9h0m1-18h0m4-79h0m0 65h0m1-66h0m2-6h0m0 1h0m3-4h0m3 76h0m1-87h0m0 90h0m1 20h0m2-13h0m1 17h0m1-110h0m0 99h0m1-109h0m2 14h0m4 136h0m1-43h0m4-85h0m2-11h0m0 5h0m0 91h0m1-91h0m3 8h0m0 90h0m8-83h0m1-2h0m0 89h0m2-126h0m0 26h0m1 97h0m4-9h0m1-91h0m0 95h0m2-95h0m1 80h0m3-2h0m3-69h0m1 3h0m0 68h0m4-10h0m2-1h0m2-55h0m1 3h0m5-11h0m0 61h0m2 1h0m4-78h0m1 7h0m1 1h0m1 74h0m3-2h0m1 1h0m2-3h0m1-57h0m7 6h0m0 59h0m1-59h0m0 47h0m1-49h0m0 65h0m5-8h0m3-8h0m1-43h0m0 2h0m2-9h0m0 49h0m2-52h0m3-6h0m0 3h0m1 52h0m2-55h0m0 57h0m2-1h0m0 1h0m1-63h0m1 0h0m4 0h0m2 71h0m1-2h0m0 2h0m2-14h0m1-66h0m0 64h0m1-58h0m3 51h0m4-62h0m1-9h0m4 70h0m2-75h0m3-5h0m0 54h0m0 11h0m1-72h0m0 2h0m2-16h0m0 11h0m2-4h0m2 3h0m4 66h0m0 10h0m1-5h0m3 7h0m1-84h0m2 89h0m1-83h0m0 86h0m1 1h0m0 17h0m1 10h0m1-12h0m1-14h0m0 19h0m1-12h0m3-93h0m0 15h0m0 96h0m0 2h0m4-10h0m2-90h0m0 99h0m3-96h0m0 84h0m1 13h0m2-95h0m1 1h0m2 5h0m0 78h0m0 8h0m1-5h0m0 10h0m1-1h0m1 11h0m1-2h0m2-24h0m0 17h0m0 12h0m4-100h0m1-11h0m0 2h0m0 76h0m3-83h0m4 0h0m2 1h0m2 78h0m1 14h0m1-94h0m0 1h0m1 1h0m0 90h0m2-9h0m1 21h0m1 5h0m1-13h0m1 1h0m0 15h0m2-30h0m1-79h0m1 81h0m1-2h0m4 17h0m1-107h0m1 104h0m2-104h0m0 92h0m1-75h0m0 65h0m2-78h0m0 62h0m1-1h0m1-54h0m5-8h0m0 55h0m4-68h0m1-1h0m0 1h0m0 6h0m1-10h0m0 8h0m2-12h0m1-1h0m0 82h0m7-88h0m0 78h0m4 0h0m1 8h0m1 8h0m1-86h0m1 88h0m3-9h0m2-77h0m3-4h0m4 9h0m2 64h0m2-63h0m1 69h0m3-6h0m0 12h0m3-74h0m4 75h0m2-10h0m1-65h0m0 72h0m2-3h0m2-74h0m0 71h0m3-10h0m2-70h0m4 1h0m0 67h0m0 3h0m4-84h0m0 6h0m0 88h0m2-3h0m1-1h0m3-91h0m0 101h0m1-118h0m0 115h0m1-109h0m0 96h0m1-90h0m1 97h0m1-113h0m2 98h0m1-106h0m1-14h0m0 6h0m3 99h0m2-109h0m0 108h0m1-121h0m0 12h0m0 121h0m3-140h0m0 8h0m0 4h0m1-12h0m0 9h0m5 118h0m2-95h0m1 85h0m1-88h0m4-9h0m3 93h0m1 0h0m0 3h0m3-98h0m1-18h0m0 12h0m2 95h0m1-138h0m0 28h0m0 11h0m2-34h0m2 23h0m0 130h0m1-23h0m3-129h0m2-13h0m0 28h0m0 126h0m1-124h0m0 116h0m0 7h0m2-136h0m1 134h0m2-138h0m3 24h0m1 125h0m2-26h0m0 13h0m2-154h0m0 36h0m0 4h0m0 1h0m1-25h0m2 19h0m1-11h0m1 9h0m1 127h0m1-3h0m1-15h0m0 1h0m0 5h0m0 7h0m0 2h0m1-7h0m0 19h0m2-146h0m0 2h0m0 15h0m0 129h0m2-134h0m0 13h0m1 125h0m1-190h0m1 56h0m0 143h0m1-130h0m0 1h0m3 128h0m0 5h0m0 4h0m2-19h0m0 34h0m2-139h0m1-11h0m1-19h0m0 13h0m2-2h0m1 10h0m0 3h0m0 4h0m1-21h0m0 120h0m3 12h0m2-9h0m0 7h0m1 17h0m0 3h0m2-16h0m1 10h0m1-163h0m0 16h0m1 128h0m1 9h0m2-153h0m0 129h0m0 10h0m1-167h0m0 189h0m2-157h0m0 8h0m0 4h0m2-23h0m1-10h0m1-38h0m0 44h0m1-58h0m0 18h0m0 14h0m0 10h0m0 9h0m1-8h0m1 8h0m0 133h0m1-127h0m0 138h0m0 25h0m1-192h0m3 171h0m1 8h0m0 8h0m6-156h0m2 156h0m0 3h0m1-7h0m0 16h0m1-170h0m0 149h0m3 3h0m2-139h0m3-12h0m1-3h0m0 17h0m0 126h0m2 3h0m2-121h0m3 110h0m0 32h0m2-158h0m0 127h0m1-113h0m1-16h0m1-1h0m0 139h0m1-132h0m0 8h0m1-17h0m0 147h0m0 9h0m1 1h0m1 8h0m2-173h0m1 152h0m0 1h0m1-195h0m1 35h0m1 3h0m1-38h0m0 44h0m0 1h0m0 6h0m1-28h0m1 204h0m0 6h0m1-32h0m0 21h0m1 6h0m1-16h0m0 7h0m0 51h0m1-67h0m1 9h0m0 3h0m1 9h0m1-161h0m2-31h0m0 23h0m1 141h0m3-174h0m2 24h0m1 150h0m1 12h0m0 4h0m1-15h0m1 57h0m1-206h0m0 16h0m4 173h0m1-29h0m0 13h0m2-1h0m3-136h0m2-23h0m2 166h0m1 25h0m2-164h0m1 141h0m1-145h0m1-23h0m0 13h0m1-5h0m2-11h0m0 10h0m0 2h0m2 175h0m0 11h0m2-25h0m1-149h0m1 152h0m1-149h0m1 162h0m3 15h0m1-184h0m0 2h0m2 158h0m0 6h0m1-9h0m3-155h0m1-3h0m2-22h0m1 29h0m1 144h0m6-129h0m1 123h0m2-143h0m1 20h0m1-15h0m0 13h0m0 11h0m2 5h0m0 120h0m1-108h0m1 98h0m3 1h0m3-1h0m1-109h0m0 6h0m0 106h0m1-126h0m1-1h0m0 8h0m0 11h0m2-38h0m0 30h0m1-20h0m4 125h0m0 8h0m0 5h0m0 5h0m1-18h0m0 10h0m1-6h0m0 21h0m0 2h0m0 1h0m1-5h0m2-121h0m0 4h0m1-2h0m0 102h0m2-112h0m1 113h0m1-91h0m1 0h0m0 95h0m1-82h0m0 37h0m0 4h0m1-71h0m0 3h0m0 36h0m0 3h0m0 2h0m0 7h0m0 5h0m0 2h0m0 14h0m0 5h0m0 8h0m0 2h0m0 26h0m1 3h0m0 1h0m0 2h0m0 3h0m0 2h0m0 3h0m0 1h0m0 1h0m0 2h0m1 3h0m0 5h0m0 3h0m0 5h0m0 4h0m0 4h0m0 5h0m0 12h0m0 6h0m0 2h0m1-31h0m0 10h0m0 4h0m0 11h0m0 8h0m0 2h0m0 6h0m0 2h0m0 2h0m0 2h0m0 13h0m1-21h0m0 5h0m0 8h0m0 5h0m0 5h0m0 2h0m0 2h0m0 3h0m0 1h0m0 6h0m0 2h0m0 3h0m0 3h0m0 2h0m0 4h0m0 6h0m1-145h0m0 146h0m0 3h0m0 5h0m0 5h0m0 7h0m0 1h0m0 9h0m0 5h0m0 6h0m0 6h0m0 9h0m1-28h0m0 14h0m0 2h0m0 5h0m0 4h0m0 3h0m0 3h0m0 8h0m0 2h0m0 4h0m0 5h0m0 5h0m1-23h0m0 5h0m0 11h0m0 9h0m0 3h0m0 5h0m0 4h0m0 3h0m0 1h0m0 2h0m0 11h0m1-48h0m0 2h0m0 1h0m1-70h0m0 9h0m0 5h0m0 2h0m0 8h0m0 2h0m0 6h0m1-47h0m0 9h0m0 9h0m0 16h0m1-99h0m0 4h0m0 8h0m0 5h0m0 8h0m0 2h0m0 12h0m0 25h0m1-128h0m0 58h0m0 13h0m1-72h0m1-83h0m0 61h0m0 10h0m0 7h0m1-81h0m0 34h0m0 15h0m0 7h0m0 13h0m0 7h0m1-25h0m0 9h0m2-33h0m1 93h0m1-96h0m0 17h0m1 78h0m1 0h0m1-104h0m0 103h0m1 1h0m2-84h0m0 84h0m2-91h0m1-35h0m0 125h0m0 2h0m2-97h0m0 94h0m0 2h0m1-102h0m2-14h0m0 32h0m1 84h0m2 0h0m2 1h0m2-1h0m1-87h0m3 87h0m1-93h0m0 93h0m1-95h0m0 9h0m0 84h0m0 2h0m1-112h0m1 41h0m0 71h0m1-95h0m0 95h0m1-68h0m4 68h0m2-91h0m0 21h0m0 69h0m1-76h0m0 77h0m4 1h0m1-1h0m1-82h0m1-24h0m0 106h0m2-93h0m1 1h0m0 24h0m0 68h0m1-2h0m2-70h0m0 2h0m0 70h0m1-81h0m1 80h0m1-118h0m0 117h0m0 25h0m1-2h0m2-9h0m0 5h0m0 22h0m1-138h0m0 162h0m1-151h0m0 101h0m2-85h0m0 101h0m0 2h0m1 35h0m1-18h0m0 8h0m1-131h0m0 133h0m0 18h0m0 2h0m0 2h0m1 36h0m0 1h0m1-369h0m0 6h0m0 55h0m0 21h0m0 13h0m0 29h0m0 162h0m0 100h0m1-209h0m0 121h0m1-109h0m0 125h0m0 61h0m0 5h0m1-51h0m0 3h0m0 26h0m0 108h0m2-151h0m0 14h0m1 7h0m0 30h0m0 27h0m0 114h0m1-313h0m1 215h0m1-215h0m0 11h0m1 119h0m0 17h0m0 32h0m0 7h0m0 33h0m0 59h0m1-243h0m0 128h0m0 150h0m1-157h0m0 9h0m0 13h0m0 9h0m0 18h0m0 53h0m0 29h0m1-266h0m0 172h0m1-159h0m0 3h0m0 193h0m0 1h0m1-226h0m0 8h0m0 22h0m0 118h0m0 27h0m0 35h0m0 22h0m0 4h0m1-51h0m0 34h0m0 26h0m1-214h0m0 169h0m1-34h0m0 23h0m0 43h0m1-90h0m0 70h0m0 38h0m0 26h0m0 104h0m1-388h0m0 16h0m0 174h0m0 52h0m0 8h0m0 47h0m1-125h0m0 9h0m0 16h0m0 10h0m0 39h0m0 16h0m0 19h0m0 128h0m1-229h0m0 43h0m0 6h0m0 105h0m1-124h0m0 122h0m1-169h0m0 82h0m0 110h0m1-317h0m0 147h0m0 6h0m0 7h0m0 39h0m0 14h0m1-261h0m0 180h0m0 54h0m0 27h0m0 1h0m0 37h0m1-141h0m0 14h0m0 27h0m0 7h0m0 151h0m1-319h0m1-17h0m0 167h0m0 25h0m0 15h0m0 4h0m1-69h0m0 6h0m0 11h0m1-152h0m0 153h0m0 11h0m0 24h0m0 83h0m0 49h0m1-323h0m0 155h0m0 58h0m0 41h0m0 8h0m0 92h0m1-158h0m0 66h0m0 60h0m0 5h0m1-307h0m0 196h0m1-199h0m0 210h0m0 10h0m0 61h0m1-17h0m0 81h0m0 44h0m1-267h0m0 23h0m0 11h0m0 29h0m0 3h0m0 77h0m1-86h0m0 38h0m1-50h0m0 84h0m1-81h0m0 56h0m0 54h0m0 166h0m1-460h0m0 7h0m0 134h0m0 103h0m0 18h0m0 46h0m1-134h0m0 8h0m0 1h0m0 23h0m0 40h0m1-246h0m0 192h0m0 12h0m0 38h0m0 117h0m1-214h0m0 87h0m1-232h0m0 163h0m0 57h0m0 29h0m0 107h0m2-164h0m0 73h0m1-98h0m0 36h0m0 10h0m0 33h0m0 65h0m1-116h0m0 41h0m0 18h0m0 39h0m0 38h0m1-337h0m0 3h0m0 163h0m0 1h0m0 14h0m0 63h0m0 47h0m1-134h0m0 22h0m0 30h0m1 47h0m0 18h0m0 12h0m0 19h0m1-310h0m0 200h0m0 12h0m0 18h0m0 28h0m0 30h0m0 28h0m1-329h0m0 206h0m0 49h0m0 31h0m1-127h0m0 11h0m0 25h0m0 31h0m0 38h0m0 5h0m0 35h0m1-115h0m0 50h0m0 55h0m0 20h0m1-290h0m0 153h0m0 45h0m0 65h0m0 3h0m0 17h0m1 5h0m1-343h0m0 196h0m0 11h0m0 100h0m0 1h0m0 41h0m0 2h0m1 77h0m0 85h0m1-254h0m1 8h0m0 54h0m0 22h0m2 0h0m1-67h0m0 123h0m0 11h0m1-375h0m0 21h0m0 405h0m1-430h0m0 266h0m0 15h0m0 27h0m0 41h0m1-99h0m0 41h0m0 83h0m0 6h0m1-371h0m0 219h0m0 45h0m0 29h0m0 39h0m1-336h0m0 13h0m0 234h0m0 42h0m1 131h0m0 8h0m1-196h0m0 8h0m0 63h0m1-18h0m0 37h0m1-58h0m0 81h0m0 3h0m0 29h0m1-135h0m0 15h0m0 63h0m0 48h0m1-367h0m0 236h0m0 83h0m0 141h0m1-216h0m0 27h0m0 11h0m0 84h0m1-135h0m1-7h0m0 68h0m0 2h0m0 32h0m0 49h0m1-440h0m0 76h0m0 242h0m0 15h0m0 60h0m1-345h0m0 33h0m0 7h0m0 13h0m0 187h0m0 13h0m0 42h0m0 17h0m0 23h0m1-107h0m0 52h0m0 11h0m0 24h0m0 101h0m1-388h0m0 34h0m0 260h0m0 2h0m0 10h0m0 38h0m1-45h0m0 21h0m0 19h0m0 20h0m0 102h0m1-61h0m1-379h0m0 210h0m0 10h0m0 19h0m0 15h0m0 3h0m0 53h0m2-103h0m0 6h0m0 10h0m0 27h0m0 17h0m1-336h0m0 88h0m0 216h0m0 247h0m1-300h0m0 19h0m0 114h0m0 24h0m1-359h0m0 222h0m0 24h0m0 37h0m1-268h0m0 198h0m0 76h0m1-263h0m0 1h0m0 8h0m0 277h0m1-287h0m0 276h0m0 7h0m1-56h0m0 51h0m1-293h0m0 195h0m0 15h0m0 12h0m0 6h0m1-267h0m0 244h0m0 49h0m0 60h0m0 8h0m0 44h0m0 6h0m1-65h0m1-51h0m0 96h0m1-384h0m0 239h0m0 20h0m0 26h0m1-257h0m0 190h0m0 33h0m0 42h0m0 30h0m0 6h0m1-380h0m0 378h0m0 44h0m1-129h0m1 2h0m0 162h0m1-143h0m0 111h0m0 4h0m0 79h0m1-210h0m0 37h0m0 10h0m0 22h0m1-101h0m0 35h0m0 21h0m0 123h0m2-359h0m0 232h0m0 47h0m0 37h0m0 10h0m1-167h0m0 3h0m0 3h0m0 69h0m0 5h0m0 65h0m0 6h0m0 91h0m1-401h0m0 180h0m0 80h0m0 66h0m0 3h0m1-146h0m0 7h0m0 9h0m0 65h0m0 52h0m1-120h0m0 19h0m0 171h0m0 1h0m1-170h0m0 11h0m0 135h0m0 20h0m1-381h0m0 148h0m0 78h0m1-273h0m0 45h0m0 170h0m0 11h0m0 5h0m0 51h0m0 31h0m0 43h0m1-118h0m0 63h0m0 38h0m0 36h0m0 10h0m0 14h0m1-408h0m0 369h0m0 40h0m1-143h0m0 30h0m0 19h0m0 29h0m1-279h0m0 161h0m0 24h0m0 56h0m0 6h0m1-312h0m0 211h0m0 11h0m0 14h0m0 35h0m0 50h0m1-111h0m0 50h0m0 101h0m0 4h0m0 79h0m1-197h0m0 61h0m0 10h0m0 25h0m0 81h0m1-207h0m0 51h0m0 30h0m0 47h0m0 22h0m1-106h0m0 16h0m0 10h0m0 1h0m0 8h0m0 5h0m0 21h0m0 11h0m1-284h0m0 15h0m0 247h0m1-287h0m0 19h0m0 14h0m0 2h0m0 186h0m0 82h0m0 15h0m0 112h0m1-102h0m0 3h0m0 51h0m1-164h0m2 18h0m0 35h0m0 41h0m1-68h0m0 7h0m0 6h0m0 141h0m1-379h0m0 4h0m0 219h0m0 23h0m0 29h0m1-82h0m0 8h0m0 27h0m0 67h0m0 23h0m0 6h0m1-101h0m0 58h0m0 3h0m0 15h0m0 21h0m0 4h0m0 38h0m1-133h0m0 42h0m0 74h0m1-85h0m0 67h0m1-321h0m0 201h0m0 4h0m0 13h0m0 7h0m0 15h0m0 3h0m1-25h0m0 35h0m0 8h0m1-83h0m0 88h0m0 88h0m1-130h0m0 10h0m0 50h0m0 165h0m1-444h0m0 238h0m0 90h0m2-356h0m0 189h0m0 107h0m0 4h0m0 17h0m1-54h0m0 13h0m0 99h0m1-156h0m0 13h0m0 12h0m0 65h0m0 15h0m0 2h0m0 10h0m1-311h0m0 267h0m0 8h0m0 58h0m1-116h0m0 10h0m0 25h0m1-80h0m0 13h0m0 52h0m0 21h0m0 122h0m1-385h0m0 171h0m0 51h0m1-26h0m0 26h0m0 13h0m0 11h0m0 62h0m0 37h0m0 129h0m1-224h0m0 26h0m1-326h0m0 18h0m0 218h0m0 10h0m0 88h0m1-71h0m0 49h0m0 27h0m1-66h0m0 47h0m1-66h0m1-199h0m0 179h0m0 18h0m0 61h0m0 52h0m0 8h0m0 17h0m0 1h0m0 6h0m1-95h0m0 31h0m0 154h0m1-247h0m0 24h0m0 7h0m1-239h0m0 7h0m0 177h0m0 8h0m0 62h0m0 28h0m0 110h0m1-402h0m0 175h0m0 84h0m0 19h0m0 25h0m0 12h0m0 14h0m0 45h0m1-353h0m0 195h0m0 9h0m0 72h0m0 14h0m0 7h0m0 21h0m1-102h0m0 99h0m0 59h0m1-377h0m0 18h0m0 249h0m1-94h0m0 97h0m0 65h0m1-321h0m0 156h0m0 14h0m0 69h0m0 1h0m0 24h0m0 6h0m1-292h0m0 222h0m0 5h0m0 13h0m0 7h0m0 21h0m1-276h0m0 26h0m0 145h0m0 20h0m0 23h0m1-9h0m0 3h0m0 51h0m0 141h0m1-376h0m0 197h0m0 19h0m0 43h0m0 33h0m0 8h0m0 30h0m0 5h0m1-107h0m0 17h0m1-308h0m0 224h0m0 68h0m0 36h0m1-293h0m0 166h0m0 93h0m0 32h0m0 13h0m1-90h0m0 36h0m0 30h0m0 10h0m0 183h0m1-517h0m0 250h0m0 71h0m0 45h0m0 66h0m1-403h0m0 276h0m1-80h0m0 94h0m0 32h0m1-312h0m0 199h0m0 33h0m0 2h0m0 38h0m1-276h0m0 13h0m0 165h0m0 49h0m0 79h0m0 66h0m1-499h0m0 309h0m0 23h0m0 8h0m0 31h0m0 55h0m1-326h0m0 242h0m0 85h0m0 43h0m1-89h0m0 20h0m1-288h0m0 12h0m0 242h0m0 18h0m0 62h0m1-328h0m0 31h0m0 241h0m0 63h0m0 97h0m0 14h0m1-186h0m0 34h0m0 10h0m1-51h0m0 24h0m0 78h0m0 79h0m1-134h0m0 32h0m0 83h0m1-167h0m0 56h0m0 121h0m1-450h0m0 22h0m0 8h0m0 25h0m0 237h0m1-343h0m0 315h0m0 71h0m0 49h0m0 43h0m1-155h0m0 139h0m0 4h0m0 11h0m0 56h0m1-446h0m0 17h0m1 286h0m0 27h0m0 30h0m1 25h0m1-413h0m0 41h0m0 3h0m0 13h0m0 331h0m1-367h0m0 297h0m0 29h0m1-381h0m0 49h0m0 40h0m0 238h0m0 8h0m0 37h0m0 71h0m0 66h0m1-225h0m0 48h0m0 107h0m1-126h0m1-7h0m0 4h0m0 26h0m0 47h0m0 3h0m0 30h0m0 90h0m1-431h0m0 229h0m0 32h0m0 19h0m0 18h0m0 42h0m0 105h0m1-203h0m0 2h0m0 10h0m0 116h0m1-378h0m0 204h0m0 1h0m0 85h0m0 23h0m1-330h0m0 283h0m0 76h0m0 17h0m0 11h0m1-510h0m0 152h0m0 221h0m0 11h0m0 25h0m0 17h0m0 56h0m1-121h0m0 74h0m0 53h0m1-121h0m0 91h0m0 4h0m0 80h0m1-496h0m0 92h0m0 183h0m0 15h0m0 25h0m0 3h0m1-4h0m0 42h0m1-58h0m0 9h0m0 17h0m0 31h0m0 63h0m0 6h0m1-25h0m1-319h0m0 14h0m0 213h0m0 3h0m0 30h0m0 28h0m0 7h0m0 2h0m0 93h0m0 11h0m1-384h0m0 1h0m0 189h0m0 46h0m0 19h0m0 27h0m0 8h0m0 22h0m0 15h0m1-330h0m0 13h0m0 179h0m0 7h0m0 101h0m0 139h0m1-486h0m1-38h0m0 353h0m0 64h0m1-368h0m0 307h0m1-87h0m0 13h0m0 36h0m0 24h0m0 3h0m0 9h0m0 177h0m1-506h0m0 347h0m0 13h0m1-328h0m0 251h0m0 2h0m0 150h0m1-381h0m0 206h0m0 16h0m0 20h0m0 59h0m1-302h0m0 225h0m0 54h0m0 8h0m0 24h0m0 25h0m0 33h0m0 7h0m1-336h0m0 183h0m0 48h0m0 43h0m1-104h0m0 27h0m0 59h0m0 12h0m0 24h0m0 57h0m0 40h0m1-476h0m0 312h0m0 51h0m0 11h0m1-48h0m0 61h0m0 26h0m1-341h0m0 228h0m0 76h0m1-307h0m0 12h0m0 200h0m0 4h0m0 4h0m0 15h0m0 58h0m0 7h0m0 100h0m1-201h0m0 25h0m1-246h0m0 349h0m0 31h0m1-430h0m0 59h0m0 5h0m0 204h0m0 40h0m0 13h0m0 19h0m0 19h0m0 220h0m1-540h0m0 313h0m0 23h0m1-294h0m0 14h0m0 257h0m1-371h0m0 407h0m0 6h0m0 86h0m1-446h0m0 17h0m0 40h0m0 232h0m0 23h0m0 11h0m1-374h0m0 79h0m0 248h0m0 23h0m0 3h0m0 65h0m1-380h0m0 62h0m0 6h0m0 227h0m0 1h0m1-263h0m0 41h0m0 12h0m0 258h0m0 44h0m0 62h0m1-428h0m0 310h0m0 21h0m0 38h0m0 46h0m1-473h0m0 80h0m0 29h0m0 226h0m0 36h0m0 118h0m1-399h0m0 33h0m0 215h0m0 7h0m0 12h0m0 14h0m0 5h0m0 18h0m1-380h0m0 395h0m1-89h0m0 28h0m0 3h0m0 12h0m0 65h0m0 3h0m0 19h0m1-33h0m0 40h0m1-366h0m0 16h0m0 11h0m0 263h0m0 36h0m1-442h0m0 121h0m0 224h0m0 36h0m0 34h0m0 18h0m0 13h0m0 40h0m1-361h0m0 208h0m0 58h0m1-327h0m0 261h0m0 14h0m0 8h0m0 13h0m0 71h0m1-376h0m0 251h0m0 109h0m0 24h0m0 22h0m0 22h0m1-456h0m0 295h0m0 22h0m0 29h0m0 38h0m1-335h0m0 33h0m0 289h0m1 17h0m0 49h0m1-422h0m0 263h0m0 74h0m0 6h0m0 123h0m1-190h0m0 45h0m0 9h0m0 33h0m0 63h0m1-148h0m0 69h0m0 84h0m1-417h0m0 12h0m0 244h0m0 27h0m0 3h0m0 29h0m0 15h0m1-324h0m0 71h0m0 261h0m1-303h0m0 28h0m0 259h0m0 70h0m1-342h0m0 3h0m0 230h0m0 19h0m0 23h0m0 15h0m1-275h0m0 217h0m0 23h0m0 8h0m0 46h0m1-371h0m0 357h0m0 9h0m1-86h0m0 20h0m0 61h0m0 42h0m0 94h0m1-427h0m0 220h0m0 14h0m0 158h0m1-452h0m0 10h0m0 42h0m1-8h0m0 27h0m0 245h0m0 7h0m1-245h0m0 208h0m0 24h0m0 23h0m0 6h0m0 30h0m0 12h0m1-385h0m0 40h0m0 329h0m0 14h0m1-44h0m0 7h0m0 17h0m0 19h0m1-365h0m0 257h0m0 134h0m1-142h0m0 13h0m0 36h0m0 112h0m1-415h0m0 23h0m0 219h0m0 109h0m0 9h0m0 12h0m0 2h0m1-104h0m0 132h0m0 85h0m1-466h0m0 309h0m1-290h0m0 255h0m0 10h0m0 40h0m0 20h0m0 9h0m1-427h0m0 344h0m0 67h0m0 79h0m1-159h0m1-216h0m0 205h0m0 32h0m0 43h0m0 15h0m0 14h0m0 34h0m1-145h0m0 21h0m0 25h0m0 18h0m0 15h0m0 4h0m0 70h0m1-380h0m0 211h0m0 28h0m0 44h0m0 2h0m0 55h0m0 4h0m0 25h0m1-402h0m0 45h0m0 239h0m0 157h0m0 52h0m1-475h0m0 323h0m0 21h0m1-311h0m0 204h0m0 45h0m0 2h0m0 47h0m0 23h0m0 20h0m1-477h0m0 103h0m0 46h0m0 186h0m0 200h0m0 56h0m1-238h0m0 49h0m1-319h0m0 282h0m0 12h0m0 39h0m0 17h0m0 189h0m1-524h0m0 339h0m0 7h0m0 95h0m1-172h0m0 39h0m0 52h0m0 39h0m0 56h0m1-187h0m0 55h0m0 81h0m1-398h0m0 266h0m0 25h0m0 43h0m0 223h0m1-571h0m0 50h0m0 312h0m1-398h0m0 52h0m0 278h0m0 17h0m1-49h0m0 1h0m0 27h0m0 9h0m0 19h0m0 10h0m0 10h0m0 88h0m1-390h0m0 232h0m0 63h0m0 148h0m1-462h0m0 29h0m0 272h0m0 24h0m0 56h0m1-363h0m0 238h0m0 55h0m0 21h0m1-308h0m0 341h0m1-338h0m0 253h0m0 26h0m0 40h0m1-62h0m0 49h0m0 12h0m0 38h0m1-394h0m0 287h0m0 156h0m1-449h0m0 281h0m0 25h0m0 47h0m1-345h0m0 3h0m0 19h0m0 336h0m0 22h0m0 41h0m1-142h0m1-58h0m0 25h0m0 17h0m0 43h0m0 77h0m0 16h0m1-417h0m0 25h0m0 250h0m0 41h0m0 50h0m0 7h0m1-111h0m0 14h0m0 20h0m0 53h0m0 2h0m0 38h0m1-393h0m0 332h0m0 3h0m0 44h0m0 30h0m0 89h0m1-544h0m0 354h0m0 34h0m0 15h0m0 14h0m0 29h0m1-145h0m0 66h0m0 5h0m1-86h0m0 53h0m0 17h0m1-244h0m0 208h0m0 62h0m1-368h0m0 30h0m0 267h0m0 125h0m0 10h0m1-351h0m0 201h0m0 28h0m1-315h0m0 49h0m0 248h0m0 31h0m0 56h0m0 11h0m0 74h0m1-136h0m0 4h0m1-58h0m0 42h0m0 53h0m0 4h0m1 27h0m0 97h0m1-430h0m0 5h0m0 272h0m0 5h0m0 4h0m0 7h0m1-320h0m0 60h0m0 246h0m0 55h0m0 7h0m1-337h0m0 16h0m0 277h0m0 85h0m0 11h0m0 5h0m1-415h0m0 35h0m0 258h0m0 53h0m0 19h0m0 7h0m1-417h0m0 380h0m0 42h0m0 32h0m1-416h0m0 50h0m0 265h0m0 11h0m1-341h0m0 35h0m0 249h0m0 10h0m0 11h0m0 43h0m0 43h0m1-363h0m0 244h0m0 3h0m0 27h0m0 18h0m0 30h0m1-299h0m0 235h0m0 104h0m0 112h0m1-497h0m0 360h0m1 192h0m1-285h0m0 15h0m0 81h0m0 30h0m1-99h0m0 25h0m1-39h0m0 48h0m0 7h0m0 27h0m0 42h0m0 59h0m1-182h0m0 43h0m0 13h0m0 83h0m1-152h0m0 73h0m0 33h0m0 29h0m1-98h0m0 186h0m1-446h0m0 225h0m1 15h0m0 31h0m1-281h0m0 24h0m0 250h0m0 94h0m1-447h0m0 20h0m0 50h0m0 15h0m0 318h0m1-331h0m0 292h0m0 25h0m1-46h0m0 42h0m0 56h0m0 38h0m1-381h0m0 244h0m0 22h0m0 9h0m0 4h0m1-275h0m0 274h0m0 14h0m0 189h0m1-488h0m0 240h0m0 43h0m0 8h0m1-284h0m0 246h0m0 43h0m1-337h0m0 287h0m0 2h0m0 13h0m1 29h0m0 56h0m0 65h0m1-185h0m0 6h0m0 41h0m0 50h0m1-421h0m0 102h0m1-52h0m0 19h0m0 20h0m0 223h0m0 39h0m0 4h0m0 79h0m1-360h0m0 266h0m0 103h0m0 31h0m1-374h0m0 15h0m0 199h0m0 20h0m0 129h0m1-448h0m0 97h0m0 14h0m0 191h0m0 67h0m0 46h0m1-134h0m0 13h0m0 32h0m0 20h0m0 18h0m0 30h0m0 39h0m1-126h0m0 22h0m0 29h0m0 6h0m1-296h0m0 321h0m0 17h0m1-337h0m0 25h0m0 33h0m0 203h0m0 66h0m0 9h0m0 237h0m1-560h0m0 22h0m0 206h0m0 6h0m0 165h0m1-392h0m0 21h0m0 246h0m0 99h0m1-167h0m0 17h0m0 8h0m0 30h0m0 5h0m0 69h0m1-79h0m1-322h0m0 298h0m0 19h0m0 10h0m0 106h0m1-392h0m0 288h0m0 39h0m0 129h0m1-459h0m0 2h0m0 8h0m0 58h0m0 227h0m0 28h0m0 17h0m0 62h0m1-398h0m0 277h0m0 26h0m0 9h0m0 37h0m0 2h0m1-318h0m0 7h0m0 17h0m0 8h0m1-104h0m0 68h0m0 302h0m0 29h0m1-397h0m0 46h0m0 265h0m0 56h0m0 11h0m1-95h0m0 17h0m0 6h0m0 27h0m0 5h0m1-249h0m0 211h0m0 46h0m0 34h0m1-316h0m0 268h0m0 39h0m0 8h0m0 49h0m1-419h0m0 61h0m0 237h0m0 105h0m0 22h0m1-24h0m1-58h0m0 21h0m0 63h0m1-436h0m0 19h0m0 29h0m0 216h0m0 3h0m0 49h0m0 32h0m0 185h0m1-443h0m0 205h0m0 8h0m0 22h0m0 41h0m0 5h0m1-78h0m0 52h0m0 93h0m0 12h0m1-474h0m0 109h0m0 179h0m0 9h0m0 2h0m0 48h0m0 15h0m0 21h0m0 29h0m0 30h0m0 17h0m1-416h0m0 232h0m0 54h0m0 12h0m0 22h0m1-314h0m0 29h0m0 13h0m0 7h0m0 209h0m0 19h0m0 79h0m1-379h0m0 287h0m0 47h0m1-332h0m0 56h0m0 10h0m1-21h0m0 205h0m0 25h0m0 7h0m1-235h0m0 14h0m0 16h0m0 6h0m0 317h0m0 13h0m0 10h0m1-421h0m0 6h0m0 60h0m0 10h0m1 181h0m0 5h0m0 2h0m0 23h0m0 15h0m0 4h0m0 49h0m1-261h0m0 180h0m0 39h0m0 18h0m1-29h0m0 23h0m0 27h0m1-368h0m0 36h0m0 37h0m0 41h0m0 364h0m1-139h0m0 61h0m0 31h0m0 7h0m0 26h0m1-152h0m0 17h0m0 25h0m0 128h0m1-431h0m1-34h0m0 68h0m0 17h0m0 13h0m0 245h0m0 54h0m0 74h0m1-399h0m1-35h0m0 41h0m0 272h0m1-293h0m0 8h0m0 325h0m1-386h0m0 20h0m0 59h0m0 339h0m1-408h0m0 85h0m0 306h0m1-309h0m0 223h0m0 10h0m0 16h0m0 29h0m0 21h0m0 85h0m1-393h0m1 268h0m0 30h0m1-78h0m1-285h0m0 20h0m0 2h0m0 279h0m0 19h0m0 18h0m1-331h0m0 271h0m1-239h0m0 274h0m0 20h0m0 62h0m0 1h0m1-418h0m0 278h0m0 102h0m0 3h0m0 76h0m0 43h0m1-516h0m0 56h0m0 248h0m0 92h0m1-482h0m0 122h0m0 36h0m0 246h0m0 22h0m0 18h0m0 49h0m1-319h0m0 203h0m0 79h0m0 48h0m1-385h0m0 347h0m0 1h0m0 4h0m0 59h0m1-446h0m0 36h0m0 56h0m0 231h0m0 89h0m1-104h0m0 26h0m0 10h0m0 198h0m1-504h0m0 60h0m0 5h0m0 240h0m0 11h0m0 52h0m0 17h0m1-334h0m0 18h0m0 232h0m0 16h0m0 17h0m1-315h0m0 2h0m0 264h0m0 60h0m0 42h0m1-346h0m0 287h0m0 69h0m1-4h0m1-345h0m0 210h0m0 103h0m1-360h0m0 42h0m0 17h0m0 223h0m0 56h0m0 7h0m0 29h0m1-431h0m0 73h0m0 24h0m0 211h0m0 22h0m0 7h0m0 77h0m0 38h0m1-396h0m0 232h0m0 34h0m0 25h0m0 7h0m0 75h0m1-358h0m0 64h0m0 228h0m0 18h0m0 32h0m0 7h0m1-356h0m0 23h0m0 23h0m0 18h0m0 2h0m0 286h0m0 6h0m0 11h0m1-333h0m0 1h0m0 13h0m0 254h0m0 9h0m0 72h0m1-120h0m0 6h0m0 9h0m0 36h0m0 51h0m1-346h0m0 21h0m1-39h0m0 22h0m0 33h0m0 194h0m0 108h0m0 16h0m1-139h0m0 76h0m0 19h0m0 8h0m1-394h0m0 339h0m0 17h0m0 30h0m0 20h0m1-334h0m0 18h0m0 184h0m0 11h0m0 2h0m0 18h0m0 9h0m0 14h0m0 96h0m0 20h0m1-402h0m0 5h0m0 319h0m0 153h0m1-495h0m0 11h0m0 334h0m0 13h0m0 64h0m1-421h0m0 265h0m0 53h0m1-291h0m0 302h0m0 45h0m1-384h0m0 65h0m0 235h0m0 15h0m0 37h0m0 91h0m1-452h0m0 290h0m0 76h0m0 5h0m0 4h0m0 9h0m0 27h0m1-116h0m0 1h0m0 40h0m0 14h0m0 64h0m1-57h0m1-304h0m0 263h0m0 54h0m0 174h0m1-502h0m0 276h0m0 24h0m0 29h0m0 11h0m0 17h0m0 46h0m0 4h0m0 33h0m1-171h0m0 28h0m0 86h0m1-132h0m0 23h0m0 64h0m1-325h0m0 268h0m0 25h0m0 155h0m1-263h0m0 39h0m0 82h0m0 44h0m0 122h0m1-454h0m0 223h0m0 239h0m1-236h0m0 68h0m0 51h0m1-64h0m0 78h0m0 2h0m0 7h0m1-372h0m0 179h0m0 3h0m0 11h0m0 58h0m0 58h0m0 34h0m0 79h0m1-496h0m0 24h0m0 50h0m0 195h0m0 23h0m0 6h0m0 50h0m0 48h0m0 4h0m0 12h0m1-392h0m0 255h0m0 61h0m0 24h0m0 27h0m1-153h0m0 9h0m0 22h0m0 50h0m0 4h0m0 27h0m0 89h0m1-146h0m0 16h0m0 29h0m0 34h0m0 28h0m1-150h0m0 10h0m0 21h0m0 76h0m0 24h0m0 9h0m1-318h0m0 37h0m0 241h0m0 24h0m0 88h0m1-412h0m0 41h0m0 270h0m0 13h0m0 22h0m0 39h0m0 6h0m1-421h0m0 63h0m0 190h0m0 60h0m0 46h0m0 180h0m1-519h0m0 15h0m0 245h0m0 26h0m0 25h0m0 57h0m0 55h0m1-118h0m0 11h0m0 21h0m1-30h0m0 4h0m0 55h0m0 92h0m0 124h0m1-547h0m0 207h0m0 30h0m0 15h0m0 6h0m0 1h0m0 33h0m0 22h0m1-373h0m0 3h0m0 269h0m0 6h0m0 29h0m0 71h0m1-319h0m0 314h0m0 16h0m0 34h0m0 22h0m1-414h0m0 58h0m0 2h0m0 161h0m0 20h0m0 94h0m0 2h0m0 32h0m1-48h0m0 60h0m0 1h0m0 66h0m1-436h0m0 29h0m0 9h0m0 209h0m0 17h0m0 34h0m0 20h0m1-94h0m0 60h0m0 47h0m0 61h0m1-410h0m0 289h0m1-341h0m0 278h0m0 12h0m0 27h0m0 16h0m0 14h0m0 17h0m0 87h0m0 14h0m0 45h0m1-217h0m0 5h0m0 34h0m0 12h0m0 17h0m0 11h0m0 48h0m1-347h0m0 214h0m0 43h0m0 108h0m1-114h0m0 28h0m0 31h0m0 11h0m1-323h0m0 11h0m0 217h0m0 75h0m0 32h0m1-414h0m0 310h0m0 8h0m0 162h0m1-375h0m0 222h0m0 14h0m0 19h0m1-314h0m0 313h0m0 30h0m1-51h0m0 53h0m1-295h0m0 256h0m0 16h0m0 8h0m0 33h0m1-338h0m0 313h0m0 33h0m0 24h0m1-374h0m0 371h0m1-407h0m0 18h0m0 341h0m1-48h0m0 16h0m0 45h0m0 7h0m0 15h0m0 44h0m0 9h0m1-409h0m0 339h0m0 48h0m0 10h0m1-362h0m0 229h0m0 2h0m0 140h0m1-383h0m0 282h0m0 43h0m0 11h0m1-51h0m0 4h0m0 55h0m1-320h0m0 194h0m0 13h0m0 8h0m0 22h0m0 14h0m1-262h0m0 260h0m0 31h0m0 6h0m0 19h0m1-374h0m0 38h0m0 265h0m1-268h0m0 34h0m0 5h0m0 206h0m0 10h0m0 43h0m0 33h0m0 18h0m0 94h0m1-475h0m0 294h0m0 34h0m0 39h0m1-61h0m0 25h0m1-263h0m0 274h0m1-285h0m0 25h0m0 184h0m0 67h0m0 42h0m0 44h0m1-68h0m0 17h0m0 5h0m0 39h0m1-101h0m0 77h0m1-336h0m0 15h0m0 269h0m1-275h0m1-4h0m0 342h0m1-362h0m0 25h0m0 399h0m1-478h0m0 330h0m0 22h0m0 54h0m1-331h0m0 20h0m0 237h0m0 20h0m0 31h0m0 18h0m0 21h0m1-452h0m0 51h0m0 438h0m1-388h0m0 265h0m0 45h0m0 192h0m1-523h0m0 1h0m0 265h0m0 9h0m0 14h0m0 5h0m0 8h0m0 39h0m1-35h0m0 52h0m0 20h0m0 24h0m1-357h0m0 19h0m0 220h0m0 76h0m1-321h0m0 14h0m0 224h0m1-293h0m0 49h0m0 290h0m0 19h0m1-277h0m0 189h0m0 75h0m0 122h0m1-429h0m0 315h0m0 34h0m1-392h0m0 43h0m1 24h0m0 222h0m0 2h0m0 76h0m0 18h0m0 47h0m1-137h0m0 25h0m0 59h0m1-376h0m0 71h0m0 204h0m0 15h0m0 93h0m0 36h0m1-344h0m0 5h0m0 303h0m0 26h0m1-383h0m0 36h0m0 234h0m0 190h0m1-486h0m1 265h0m0 30h0m0 30h0m0 21h0m1-296h0m0 228h0m0 17h0m0 37h0m1-297h0m0 334h0m0 44h0m0 57h0m1-426h0m0 10h0m0 252h0m0 76h0m0 74h0m1-450h0m0 22h0m0 271h0m0 2h0m0 89h0m2-113h0m0 33h0m0 24h0m1-269h0m0 226h0m0 118h0m1-152h0m0 19h0m0 31h0m0 4h0m0 56h0m0 95h0m1-416h0m0 249h0m0 43h0m0 16h0m0 11h0m0 29h0m1-112h0m0 52h0m1-318h0m0 45h0m0 260h0m0 8h0m0 140h0m1-472h0m0 1h0m0 47h0m0 271h0m0 13h0m0 24h0m1-297h0m0 289h0m0 55h0m1-380h0m0 253h0m0 26h0m0 6h0m0 27h0m0 19h0m1-315h0m0 227h0m0 33h0m0 17h0m1 49h0m1-445h0m0 108h0m1 262h0m0 123h0m0 10h0m1-388h0m0 330h0m0 140h0m1-510h0m0 431h0m0 76h0m1-448h0m0 285h0m0 32h0m1-24h0m0 38h0m0 167h0m1-505h0m0 295h0m0 24h0m0 177h0m1-476h0m0 320h0m0 28h0m1-117h0m0 13h0m0 97h0m1-76h0m0 54h0m0 37h0m0 30h0m1-419h0m0 5h0m0 229h0m0 21h0m1-267h0m0 265h0m0 56h0m0 4h0m0 43h0m1-387h0m0 365h0m0 1h0m0 38h0m0 38h0m1-403h0m0 11h0m0 230h0m0 72h0m0 66h0m1-365h0m0 252h0m0 15h0m0 17h0m0 23h0m0 56h0m1-147h0m0 59h0m0 46h0m1-378h0m0 30h0m0 26h0m0 262h0m0 5h0m1-267h0m0 10h0m0 239h0m0 12h0m0 15h0m1-269h0m0 228h0m0 58h0m0 15h0m0 45h0m1-429h0m0 84h0m0 4h0m0 205h0m0 71h0m0 13h0m1-83h0m0 16h0m0 9h0m0 46h0m0 61h0m1-390h0m0 300h0m0 21h0m0 202h0m1-577h0m0 297h0m0 2h0m0 49h0m0 71h0m1-352h0m0 266h0m0 8h0m0 54h0m1-332h0m0 252h0m0 10h0m0 11h0m0 16h0m0 20h0m0 22h0m0 50h0m1-84h0m0 6h0m0 70h0m1-441h0m0 341h0m0 5h0m0 4h0m0 91h0m1-370h0m0 12h0m0 262h0m0 35h0m0 81h0m0 6h0m1-369h0m0 9h0m0 223h0m0 96h0m0 40h0m1-371h0m0 212h0m1 14h0m0 80h0m0 8h0m0 32h0m0 212h0m1-600h0m0 29h0m0 233h0m0 82h0m1-307h0m0 269h0m0 70h0m1-80h0m0 30h0m0 11h0m0 1h0m1-361h0m0 31h0m0 12h0m0 289h0m1-320h0m0 293h0m0 10h0m0 36h0m0 15h0m1-365h0m0 340h0m0 65h0m0 4h0m0 4h0m1-412h0m0 310h0m0 27h0m0 40h0m0 25h0m1-4h0m0 217h0m1-606h0m0 270h0m0 47h0m0 42h0m0 32h0m1-67h0m1-46h0m0 7h0m1-274h0m0 17h0m0 453h0m1-191h0m0 33h0m1-28h0m0 117h0m1-509h0m0 116h0m0 239h0m0 52h0m0 64h0m0 9h0m0 44h0m0 92h0m1-234h0m0 117h0m0 59h0m1-227h0m0 36h0m0 39h0m0 22h0m0 2h0m0 30h0m0 17h0m1-79h0m0 51h0m1-393h0m0 38h0m0 32h0m0 4h0m0 237h0m0 30h0m0 4h0m0 22h0m0 18h0m1-288h0m0 208h0m0 33h0m0 20h0m0 52h0m0 11h0m1-134h0m0 8h0m0 23h0m0 28h0m0 51h0m0 40h0m0 12h0m1-120h0m0 24h0m0 60h0m0 21h0m1-21h0m1-329h0m0 15h0m0 185h0m0 85h0m0 2h0m0 20h0m0 5h0m0 26h0m1-88h0m0 30h0m0 22h0m0 56h0m0 11h0m0 43h0m1-417h0m0 275h0m0 90h0m1-386h0m0 9h0m0 299h0m0 8h0m1 16h0m0 9h0m0 26h0m0 178h0m1-524h0m0 254h0m0 6h0m1-244h0m1-31h0m0 22h0m1 229h0m0 9h0m0 18h0m0 37h0m1-293h0m0 237h0m0 63h0m0 3h0m0 21h0m1-306h0m0 295h0m0 1h0m1-329h0m0 276h0m0 94h0m1-384h0m0 11h0m0 289h0m0 48h0m0 3h0m0 6h0m0 96h0m1-483h0m0 342h0m0 76h0m1-359h0m0 3h0m0 217h0m0 6h0m0 25h0m0 115h0m0 1h0m0 23h0m1-374h0m0 286h0m0 6h0m0 41h0m1-112h0m0 26h0m0 40h0m0 60h0m1-372h0m0 251h0m0 52h0m0 5h0m0 38h0m0 32h0m1-405h0m0 258h0m0 84h0m0 16h0m1-379h0m0 504h0m1-467h0m0 343h0m0 29h0m0 70h0m1-434h0m0 12h0m0 6h0m0 207h0m1-7h0m0 47h0m0 70h0m0 17h0m0 28h0m1-436h0m0 79h0m0 263h0m1-283h0m0 252h0m0 28h0m1-346h0m0 369h0m1-308h0m0 237h0m0 25h0m0 135h0m1-159h0m0 78h0m0 17h0m0 41h0m1-352h0m0 277h0m0 30h0m0 31h0m1-400h0m0 298h0m0 14h0m0 6h0m0 10h0m0 21h0m0 96h0m1-448h0m0 343h0m0 55h0m1-425h0m0 65h0m0 255h0m0 34h0m0 21h0m1-401h0m0 115h0m0 309h0m1-386h0m0 15h0m0 347h0m0 20h0m1-99h0m0 14h0m0 2h0m0 24h0m0 48h0m0 130h0m1-444h0m0 7h0m0 2h0m0 5h0m0 198h0m0 48h0m1-45h0m0 61h0m0 1h0m1-47h0m0 44h0m0 13h0m0 3h0m1-62h0m0 110h0m0 125h0m1-494h0m0 276h0m0 121h0m1-419h0m0 13h0m0 339h0m0 2h0m0 37h0m0 40h0m0 37h0m1-419h0m0 28h0m0 17h0m0 181h0m0 35h0m0 28h0m0 44h0m0 104h0m1-421h0m0 17h0m0 271h0m0 17h0m0 31h0m1-313h0m0 293h0m1-63h0m0 10h0m0 30h0m1-390h0m0 102h0m0 251h0m1-276h0m0 254h0m0 11h0m1-274h0m0 234h0m0 40h0m0 106h0m1-406h0m0 335h0m0 32h0m0 42h0m0 73h0m1-409h0m0 216h0m0 41h0m0 53h0m0 60h0m1-408h0m0 19h0m0 276h0m0 21h0m0 51h0m0 6h0m1-335h0m0 216h0m0 96h0m1-357h0m0 46h0m0 238h0m0 7h0m0 84h0m1-330h0m0 225h0m0 47h0m1-74h0m0 1h0m0 39h0m0 28h0m0 148h0m1-440h0m0 233h0m1-21h0m0 9h0m0 32h0m0 19h0m0 8h0m0 17h0m0 23h0m0 69h0m1-419h0m0 264h0m0 78h0m0 19h0m0 72h0m1-156h0m0 8h0m0 24h0m0 17h0m0 11h0m0 38h0m1-389h0m0 38h0m1 20h0m0 207h0m0 86h0m0 13h0m0 21h0m0 20h0m1-75h0m1-266h0m0 279h0m1-412h0m0 47h0m0 29h0m0 49h0m0 230h0m0 11h0m0 5h0m0 24h0m1-45h0m0 3h0m0 4h0m0 14h0m0 56h0m0 18h0m0 16h0m1-362h0m0 335h0m0 64h0m1-167h0m0 38h0m0 71h0m0 19h0m0 106h0m1-181h0m0 19h0m0 6h0m0 30h0m1-320h0m0 272h0m1-49h0m0 18h0m0 114h0m0 11h0m0 47h0m1-423h0m0 257h0m0 17h0m0 12h0m0 7h0m1-39h0m0 29h0m0 28h0m0 18h0m0 14h0m1-359h0m1 357h0m0 58h0m0 26h0m1-485h0m0 442h0m1-400h0m0 35h0m0 244h0m0 9h0m0 73h0m1-373h0m0 299h0m0 7h0m0 17h0m0 44h0m1 57h0m1-482h0m0 56h0m0 41h0m0 300h0m1-333h0m0 281h0m0 65h0m0 11h0m1-382h0m0 385h0m0 5h0m1-85h0m0 30h0m0 122h0m1-436h0m0 320h0m0 3h0m1-300h0m0 19h0m0 10h0m1-5h0m0 255h0m0 63h0m0 23h0m0 33h0m1-410h0m0 16h0m1 236h0m0 42h0m1-395h0m0 415h0m1-318h0m0 288h0m0 116h0m1-135h0m0 11h0m0 46h0m0 9h0m1-376h0m0 359h0m1-18h0m0 59h0m0 7h0m0 7h0m0 11h0m1-66h0m1-291h0m0 13h0m0 238h0m0 135h0m1-410h0m0 246h0m0 54h0m1-315h0m0 369h0m1-343h0m0 271h0m0 9h0m0 34h0m0 9h0m0 15h0m0 47h0m1-413h0m0 324h0m0 30h0m1-305h0m0 274h0m0 10h0m0 21h0m0 15h0m0 2h0m0 173h0m1-516h0m0 213h0m0 13h0m0 32h0m0 69h0m0 47h0m0 3h0m1-140h0m0 7h0m0 7h0m0 26h0m0 115h0m1-169h0m0 2h0m0 87h0m0 8h0m0 46h0m0 1h0m2-359h0m0 202h0m0 166h0m1-70h0m0 57h0m0 59h0m1-407h0m0 220h0m0 51h0m0 68h0m1-391h0m0 22h0m0 258h0m0 26h0m0 6h0m0 21h0m0 178h0m1-214h0m0 75h0m0 7h0m0 15h0m0 23h0m0 3h0m1-384h0m0 207h0m0 45h0m0 25h0m0 28h0m0 67h0m0 16h0m1-398h0m0 240h0m0 44h0m0 12h0m0 21h0m0 118h0m1-523h0m0 325h0m0 11h0m0 5h0m1 6h0m0 97h0m0 36h0m1-96h0m1-28h0m0 106h0m1-361h0m0 17h0m0 198h0m0 6h0m0 52h0m0 7h0m1-289h0m0 235h0m0 15h0m0 10h0m0 149h0m1-422h0m0 314h0m0 47h0m1-326h0m0 190h0m0 117h0m1-311h0m0 205h0m0 22h0m0 39h0m0 27h0m1-312h0m0 8h0m0 315h0m0 75h0m1-170h0m0 52h0m0 200h0m2-533h0m0 273h0m0 79h0m0 2h0m0 5h0m1-316h0m0 285h0m0 41h0m0 102h0m0 1h0m1-463h0m0 289h0m0 2h0m0 10h0m1 15h0m0 23h0m0 25h0m0 111h0m0 3h0m1-413h0m0 278h0m1-325h0m0 37h0m0 230h0m0 17h0m0 52h0m0 5h0m0 93h0m1-161h0m0 51h0m0 31h0m1-57h0m0 51h0m0 41h0m0 44h0m1-179h0m0 77h0m1-290h0m0 222h0m0 70h0m0 38h0m0 17h0m0 62h0m1-191h0m0 119h0m1-389h0m0 334h0m0 6h0m1-323h0m0 30h0m0 233h0m0 95h0m0 10h0m1-365h0m0 44h0m0 249h0m0 38h0m0 18h0m1-35h0m0 85h0m1-441h0m0 330h0m1-28h0m0 16h0m0 62h0m0 58h0m1-360h0m0 292h0m0 18h0m0 40h0m0 3h0m1-24h0m0 60h0m0 9h0m0 3h0m0 10h0m1-157h0m0 8h0m0 56h0m1-331h0m0 263h0m0 15h0m1 87h0m1-347h0m0 208h0m0 97h0m0 3h0m0 59h0m0 7h0m1-133h0m0 10h0m0 35h0m0 10h0m0 2h0m0 17h0m0 28h0m1-366h0m0 265h0m0 115h0m1-347h0m0 228h0m1-40h0m0 23h0m0 93h0m1-353h0m0 30h0m0 224h0m0 16h0m1-19h0m0 35h0m1 30h0m0 1h0m0 18h0m0 41h0m0 45h0m1-390h0m0 24h0m0 6h0m0 16h0m0 229h0m0 87h0m1-491h0m0 113h0m0 270h0m0 12h0m0 107h0m1-125h0m0 41h0m0 23h0m0 20h0m0 62h0m0 161h0m1-537h0m0 4h0m0 194h0m0 26h0m0 13h0m1-47h0m0 13h0m0 73h0m1-318h0m0 309h0m1-304h0m0 37h0m0 18h0m0 177h0m0 12h0m0 2h0m0 8h0m0 36h0m0 5h0m1 29h0m1-325h0m0 323h0m0 37h0m0 13h0m1-308h0m0 200h0m0 104h0m1-322h0m0 231h0m0 41h0m0 46h0m0 5h0m1-345h0m0 260h0m0 12h0m0 19h0m0 45h0m1-362h0m0 55h0m0 1h0m0 299h0m0 168h0m1-492h0m0 298h0m0 18h0m1-66h0m0 31h0m1-315h0m0 74h0m0 253h0m0 2h0m0 44h0m1-95h0m0 74h0m0 192h0m1-560h0m0 41h0m0 36h0m0 199h0m0 35h0m0 135h0m1-153h0m0 27h0m0 71h0m1-361h0m0 30h0m0 223h0m0 12h0m0 1h0m1-228h0m0 245h0m0 30h0m0 60h0m1-333h0m0 284h0m0 16h0m0 67h0m1-158h0m0 67h0m0 22h0m0 20h0m1-301h0m0 192h0m0 25h0m0 4h0m0 17h0m0 20h0m1-287h0m0 208h0m0 37h0m0 44h0m1-286h0m0 232h0m0 56h0m0 41h0m0 26h0m1-332h0m0 199h0m0 29h0m0 5h0m0 23h0m1-328h0m0 44h0m0 21h0m0 255h0m0 28h0m0 24h0m1-371h0m0 272h0m1-209h0m0 206h0m0 10h0m1-266h0m0 303h0m0 72h0m1-338h0m0 202h0m0 84h0m1-29h0m0 67h0m0 122h0m1-507h0m0 43h0m0 262h0m0 36h0m1-286h0m0 215h0m0 4h0m0 3h0m0 76h0m0 11h0m0 15h0m1-100h0m0 39h0m1-301h0m0 294h0m0 9h0m0 37h0m0 12h0m0 57h0m1-373h0m0 2h0m0 275h0m0 66h0m0 24h0m0 18h0m1-76h0m0 16h0m1-316h0m0 248h0m0 81h0m0 125h0m1-445h0m0 3h0m0 267h0m0 26h0m0 3h0m0 13h0m1-70h0m1 48h0m0 1h0m1-391h0m0 297h0m0 70h0m0 115h0m1-50h0m0 26h0m1-471h0m0 5h0m0 295h0m0 19h0m0 26h0m0 14h0m0 8h0m0 37h0m0 9h0m0 101h0m1-416h0m0 229h0m0 49h0m0 14h0m0 32h0m0 10h0m1-96h0m0 6h0m0 45h0m0 3h0m1-314h0m0 244h0m0 39h0m0 24h0m1-383h0m0 421h0m0 68h0m1-124h0m0 34h0m0 28h0m1-138h0m0 24h0m0 99h0m1-337h0m0 6h0m0 245h0m0 5h0m0 21h0m0 72h0m1-343h0m0 16h0m0 168h0m0 17h0m0 57h0m1 9h0m0 10h0m0 5h0m0 36h0m1-333h0m0 209h0m0 12h0m0 5h0m0 102h0m1-314h0m0 235h0m0 66h0m0 2h0m1-83h0m0 94h0m1-106h0m0 4h0m0 5h0m0 39h0m0 73h0m0 35h0m1-361h0m0 10h0m0 217h0m0 17h0m0 14h0m0 15h0m0 17h0m0 3h0m0 42h0m1-361h0m0 221h0m0 83h0m1-284h0m0 350h0m1-372h0m0 15h0m0 202h0m0 62h0m0 81h0m0 74h0m1-218h0m0 52h0m0 78h0m1-138h0m0 137h0m0 68h0m1-418h0m0 300h0m0 27h0m0 76h0m0 14h0m1-420h0m1-26h0m0 356h0m0 38h0m0 11h0m0 8h0m1-353h0m0 296h0m0 40h0m1-370h0m0 2h0m0 271h0m0 131h0m1-90h0m0 22h0m0 1h0m0 71h0m0 14h0m1-120h0m0 8h0m0 6h0m0 26h0m0 8h0m1 19h0m1-358h0m0 18h0m0 297h0m0 71h0m1-413h0m0 58h0m0 312h0m0 18h0m0 13h0m1-95h0m0 118h0m0 24h0m1-147h0m0 9h0m0 9h0m0 180h0m1-474h0m0 326h0m0 17h0m0 55h0m0 4h0m1-104h0m0 22h0m1-364h0m0 19h0m0 64h0m0 226h0m0 63h0m0 4h0m0 21h0m1-66h0m0 2h0m0 16h0m0 10h0m0 47h0m0 56h0m1-454h0m0 36h0m0 26h0m0 270h0m0 39h0m1-17h0m0 19h0m1 106h0m1-443h0m0 299h0m0 46h0m1-336h0m0 322h0m0 22h0m0 34h0m1-400h0m0 49h0m0 324h0m1-127h0m0 5h0m0 18h0m0 18h0m0 47h0m0 95h0m1-466h0m0 25h0m0 252h0m0 19h0m0 19h0m0 48h0m0 12h0m0 40h0m1-343h0m0 7h0m0 220h0m0 114h0m0 81h0m1-172h0m0 77h0m1-44h0m0 30h0m0 10h0m1-315h0m0 201h0m0 11h0m0 70h0m0 46h0m0 12h0m1-351h0m0 38h0m0 155h0m0 80h0m0 113h0m1-358h0m0 12h0m0 198h0m0 31h0m0 8h0m0 9h0m0 17h0m0 8h0m0 62h0m1-397h0m0 233h0m0 96h0m1-108h0m0 25h0m0 21h0m0 75h0m0 26h0m1-385h0m0 31h0m0 236h0m0 47h0m0 39h0m0 35h0m1-334h0m0 4h0m0 25h0m0 160h0m0 11h0m0 47h0m0 75h0m0 34h0m1-383h0m0 224h0m0 92h0m0 24h0m1-35h0m0 8h0m0 61h0m0 20h0m1-352h0m0 289h0m1-20h0m0 4h0m0 9h0m0 37h0m1-72h0m0 5h0m1-300h0m0 56h0m0 304h0m1-301h0m0 223h0m0 95h0m1-324h0m0 268h0m0 18h0m0 24h0m1-396h0m0 63h0m0 12h0m0 287h0m0 95h0m0 6h0m1-386h0m1-30h0m0 12h0m0 270h0m1-232h0m1-45h0m0 283h0m1-255h0m0 269h0m1-393h0m0 107h0m0 22h0m1 258h0m0 11h0m0 22h0m0 25h0m2-427h0m0 354h0m0 36h0m1-299h0m0 3h0m0 14h0m0 236h0m0 64h0m0 10h0m0 44h0m1-58h0m0 29h0m1-310h0m1-55h0m0 48h0m0 303h0m0 45h0m0 17h0m1-460h0m0 470h0m1-410h0m0 33h0m0 260h0m0 54h0m0 2h0m0 66h0m1-117h0m0 31h0m0 27h0m0 2h0m0 34h0m1-376h0m0 352h0m0 13h0m0 2h0m0 34h0m1-432h0m0 263h0m0 3h0m0 19h0m0 13h0m0 40h0m0 35h0m0 11h0m0 49h0m1-142h0m0 26h0m0 9h0m0 4h0m0 34h0m0 11h0m0 7h0m0 5h0m0 30h0m1-126h0m0 16h0m0 15h0m0 27h0m0 1h0m0 11h0m0 45h0m0 5h0m1-424h0m0 38h0m0 246h0m0 4h0m0 5h0m0 11h0m0 5h0m0 6h0m0 69h0m0 3h0m0 21h0m0 3h0m0 32h0m0 12h0m1-388h0m0 323h0m0 3h0m0 39h0m0 6h0m0 70h0m1-487h0m0 374h0m0 17h0m1-379h0m0 38h0m0 31h0m0 299h0m1-424h0m0 67h0m0 11h0m0 440h0m0 55h0m1-526h0m0 397h0m0 32h0m0 60h0m1-533h0m0 58h0m0 52h0m0 272h0m0 18h0m1-316h0m0 337h0m0 28h0m0 4h0m0 80h0m1-445h0m0 40h0m0 338h0m0 8h0m0 22h0m0 27h0m1-437h0m0 17h0m0 285h0m0 30h0m0 14h0m0 26h0m0 45h0m0 16h0m1-459h0m0 333h0m0 1h0m0 26h0m0 58h0m0 49h0m0 28h0m1-599h0m0 58h0m0 100h0m0 293h0m0 45h0m0 28h0m1-498h0m0 77h0m0 37h0m0 391h0m0 24h0m0 10h0m0 62h0m1-589h0m0 515h0m1-526h0m0 129h0m0 470h0m1-18h0m1-542h0m0 78h0m0 21h0m1-137h0m0 43h0m0 505h0m0 42h0m1-491h0m1-44h0m1 4h0m0 1h0m0 49h0m0 13h0m0 431h0m1 41h0m0 35h0m1-541h0m0 475h0m0 10h0m0 14h0m0 60h0m1-49h0m1-659h0m0 613h0m0 36h0m1-506h0m0 37h0m0 5h0m0 8h0m0 42h0m0 64h0m1-187h0m0 41h0m0 6h0m0 46h0m0 5h0m0 33h0m0 3h0m0 356h0m0 52h0m0 18h0m1-496h0m0 40h0m0 19h0m0 23h0m0 67h0m1-210h0m0 35h0m0 6h0m0 34h0m0 20h0m0 4h0m0 21h0m0 3h0m0 17h0m0 14h0m0 28h0m0 3h0m1-243h0m0 158h0m0 16h0m0 17h0m0 34h0m1-118h0m0 59h0m0 44h0m0 22h0m0 327h0m1-472h0m0 6h0m0 465h0m0 100h0m1-626h0m0 78h0m0 1h0m0 27h0m0 6h0m0 50h0m0 21h0m0 72h0m0 270h0m0 16h0m0 1h0m0 63h0m1-577h0m1 43h0m0 24h0m0 23h0m0 63h0m0 31h0m0 10h0m0 4h0m0 1h0m0 13h0m0 259h0m0 14h0m1-493h0m0 71h0m0 7h0m0 118h0m0 297h0m0 42h0m0 16h0m0 28h0m1-495h0m0 63h0m0 4h0m0 1h0m0 27h0m0 45h0m0 14h0m0 322h0m0 27h0m1-586h0m0 79h0m0 11h0m0 27h0m0 7h0m0 65h0m0 20h0m0 26h0m0 263h0m1-519h0m0 69h0m0 21h0m0 34h0m0 36h0m0 29h0m0 44h0m0 13h0m0 287h0m1-478h0m0 8h0m0 22h0m0 34h0m0 41h0m0 35h0m0 300h0m0 75h0m1-499h0m0 56h0m0 9h0m0 31h0m0 53h0m1-190h0m0 26h0m0 95h0m0 381h0m0 20h0m0 13h0m0 29h0m1-540h0m0 104h0m0 355h0m0 34h0m1-499h0m0 3h0m0 21h0m0 431h0m0 60h0m1-479h0m0 417h0m0 10h0m0 9h0m0 6h0m1-432h0m0 408h0m0 26h0m0 40h0m1-576h0m0 69h0m0 34h0m0 12h0m1 501h0m1-599h0m0 54h0m0 23h0m0 396h0m0 13h0m0 59h0m0 44h0m0 2h0m1-572h0m0 43h0m0 407h0m0 22h0m0 62h0m0 36h0m1-631h0m0 103h0m0 390h0m0 4h0m1-359h0m0 306h0m0 79h0m0 29h0m0 21h0m0 22h0m0 23h0m1-494h0m0 455h0m0 14h0m1-518h0m0 35h0m0 365h0m0 61h0m0 81h0m1-535h0m0 353h0m0 15h0m0 92h0m0 18h0m0 30h0m1-475h0m0 318h0m0 17h0m0 24h0m1-411h0m0 31h0m0 394h0m0 14h0m0 15h0m0 12h0m0 34h0m1-493h0m0 43h0m0 435h0m0 22h0m0 8h0m0 4h0m0 28h0m1-150h0m0 90h0m1-504h0m0 405h0m0 35h0m0 12h0m1-514h0m0 104h0m0 368h0m0 52h0m0 27h0m0 16h0m1-471h0m0 50h0m0 337h0m1-397h0m0 68h0m0 303h0m0 25h0m0 15h0m0 41h0m0 22h0m0 22h0m0 33h0m0 8h0m0 17h0m1-111h0m1-383h0m0 453h0m1-521h0m0 533h0m2-575h0m0 535h0m1-468h0m0 274h0m0 40h0m0 57h0m0 42h0m0 19h0m0 7h0m0 32h0m1-457h0m0 29h0m0 293h0m0 40h0m0 16h0m0 14h0m0 29h0m0 54h0m1-531h0m0 432h0m0 106h0m1-522h0m0 37h0m0 5h0m0 266h0m0 2h0m0 70h0m0 96h0m0 21h0m0 69h0m1-641h0m0 81h0m0 30h0m0 34h0m0 251h0m0 43h0m0 8h0m0 75h0m1-389h0m0 332h0m0 94h0m0 23h0m0 19h0m0 37h0m0 1h0m1-532h0m0 315h0m0 4h0m0 183h0m1-492h0m0 270h0m0 22h0m0 14h0m0 194h0m1-486h0m0 389h0m0 24h0m0 3h0m0 19h0m1-431h0m0 239h0m0 34h0m0 26h0m0 30h0m0 36h0m0 89h0m1-564h0m0 362h0m0 73h0m0 35h0m0 17h0m0 24h0m1-391h0m0 208h0m0 3h0m0 51h0m0 49h0m1-321h0m0 224h0m0 70h0m0 29h0m0 4h0m0 120h0m0 28h0m1-579h0m0 95h0m0 14h0m0 217h0m0 45h0m0 23h0m0 18h0m1-343h0m0 242h0m0 40h0m0 13h0m0 115h0m0 44h0m1-448h0m0 285h0m0 95h0m0 28h0m1-450h0m0 296h0m0 11h0m0 26h0m0 37h0m0 9h0m0 59h0m0 2h0m0 7h0m0 12h0m0 13h0m0 24h0m1-525h0m0 13h0m0 28h0m0 22h0m0 276h0m0 73h0m0 69h0m0 7h0m0 21h0m1-170h0m0 23h0m0 72h0m0 4h0m0 10h0m0 10h0m1-449h0m0 431h0m0 99h0m1-221h0m0 2h0m0 63h0m0 56h0m0 36h0m0 4h0m0 31h0m1-502h0m0 18h0m0 24h0m0 252h0m0 18h0m0 13h0m0 103h0m0 3h0m1-380h0m0 257h0m0 34h0m0 77h0m0 24h0m1-414h0m0 265h0m0 177h0m0 13h0m1-531h0m0 92h0m0 207h0m0 104h0m0 52h0m1-395h0m0 250h0m0 95h0m0 50h0m0 6h0m0 38h0m1-429h0m0 290h0m0 85h0m0 41h0m1-431h0m0 36h0m0 302h0m0 81h0m0 16h0m0 73h0m1-540h0m0 291h0m0 35h0m0 54h0m0 40h0m1-451h0m0 54h0m0 278h0m0 2h0m0 100h0m0 15h0m1-374h0m0 10h0m0 3h0m0 252h0m0 79h0m0 24h0m0 4h0m1-400h0m0 48h0m0 241h0m0 31h0m1-286h0m0 401h0m1-395h0m0 324h0m1-399h0m0 331h0m0 161h0m1-467h0m0 246h0m0 24h0m0 53h0m0 92h0m1-442h0m0 287h0m0 82h0m0 60h0m1-383h0m0 267h0m0 13h0m0 45h0m0 67h0m1-373h0m0 257h0m1-59h0m0 37h0m0 11h0m0 62h0m0 29h0m1-353h0m0 243h0m0 43h0m0 29h0m0 85h0m1-456h0m0 5h0m0 261h0m1-217h0m0 309h0m0 9h0m0 7h0m1-374h0m0 40h0m0 221h0m0 32h0m0 11h0m0 31h0m0 106h0m1-396h0m0 8h0m0 17h0m0 43h0m0 257h0m0 64h0m1-381h0m0 67h0m0 132h0m1-167h0m0 202h0m0 129h0m1-423h0m1 50h0m0 19h0m0 45h0m0 28h0m1-124h0m0 76h0m0 177h0m0 16h0m0 5h0m0 50h0m1-244h0m0 8h0m0 153h0m0 18h0m0 24h0m0 33h0m0 21h0m0 61h0m1-365h0m0 34h0m0 174h0m0 28h0m0 13h0m0 4h0m0 21h0m0 22h0m1-275h0m0 32h0m0 242h0m1-213h0m0 141h0m0 17h0m0 22h0m1-221h0m0 198h0m0 1h0m0 27h0m0 7h0m1-25h0m0 47h0m0 187h0m1-276h0m0 42h0m0 13h0m0 65h0m1-298h0m0 206h0m0 13h0m0 51h0m1-327h0m0 250h0m0 96h0m0 61h0m1-163h0m0 24h0m0 47h0m0 77h0m1-356h0m0 5h0m0 2h0m0 8h0m1-37h0m0 9h0m0 50h0m0 189h0m1-205h0m0 253h0m0 29h0m1-31h0m1-320h0m0 331h0m0 3h0m1-302h0m0 37h0m1 19h0m0 174h0m0 39h0m1-41h0m0 98h0m1-262h0m0 17h0m0 170h0m1-255h0m0 247h0m0 18h0m1-244h0m0 4h0m0 280h0m0 3h0m1-338h0m0 69h0m0 221h0m1-213h0m0 26h0m1 25h0m0 186h0m1-46h0m0 86h0m1-96h0m0 119h0m0 17h0m1-142h0m0 25h0m1-198h0m0 8h0m0 20h0m0 17h0m0 122h0m0 51h0m0 7h0m1-238h0m0 31h0m0 137h0m0 30h0m0 73h0m1-232h0m0 185h0m1-260h0m0 62h0m0 154h0m0 119h0m3-70h0m1-200h0m0 23h0m0 150h0m0 35h0m1-69h0m0 13h0m1 47h0m1-12h0m1-25h0m0 4h0m0 15h0m0 29h0m0 29h0m1-93h0m0 8h0m1 34h0m1 60h0m0 22h0m1-281h0m1 163h0m0 38h0m1-170h0m0 169h0m0 34h0m3-52h0m0 17h0m1-185h0m0 139h0m1-156h0m0 274h0m1-219h0m1 118h0m0 5h0m1-147h0m0 144h0m0 60h0m1-190h0m0 116h0m1-141h0m0 127h0m1-124h0m0 239h0m1-89h0m0 16h0m1-5h0m1-126h0m0 114h0m3-124h0m0 198h0m1-191h0m1-58h0m0 56h0m1-26h0m0 6h0m1-13h0m0 10h0m0 139h0m2 78h0m1-191h0m0 110h0m0 17h0m2 5h0m1-147h0m1 167h0m1 41h0m1-71h0m0 1h0m1-132h0m1 6h0m0 111h0m1 28h0m1-11h0m1-20h0m2-134h0m2 27h0m0 136h0m3-135h0m2-2h0m0 112h0m0 24h0m0 12h0m0 10h0m2-64h0m2 13h0m0 3h0m0 8h0m0 49h0m3-164h0m1-2h0m1 114h0m1 32h0m0 14h0m1-63h0m0 25h0m0 5h0m1-33h0m0 31h0m1-25h0m1-96h0m2 0h0m0 2h0m0 109h0m3-109h0m2 106h0m0 22h0m1-34h0m0 17h0m1-125h0m0 7h0m3 150h0m2-158h0m1 110h0m3 2h0m1 8h0m2-112h0m1 135h0m4-22h0m2-117h0m0 114h0m1 11h0m0 2h0m4-118h0m2 3h0m1 95h0m0 21h0m0 22h0m0 3h0m1-44h0m3-89h0m1 103h0m2-103h0m1 92h0m1 6h0m0 6h0m5 48h0m1-153h0m0 111h0m0 8h0m4-115h0m3 4h0m0 2h0m1 101h0m5 1h0m1-3h0m4-100h0m3 5h0m0 97h0m3 3h0m4 12h0m2-11h0m1-105h0m2 6h0m5 114h0m1-8h0m0 8h0m1-91h0m0 2h0m0 7h0m0 1h0m0 50h0m1-80h0m0 19h0m0 8h0m0 8h0m0 26h0m0 6h0m0 27h0m0 4h0m1-97h0m0 3h0m0 6h0m0 4h0m0 3h0m0 20h0m0 1h0m0 3h0m0 7h0m0 4h0m0 1h0"/><path class="filt" d="M116.5 259.9L117.0 261.4L117.5 262.3L118.0 260.8L118.5 258.3L119.0 255.7L119.5 253.5L120.0 251.5L120.5 249.5L121.0 248.8L121.5 248.0L122.0 246.8L122.5 245.5L123.0 244.3L123.5 243.4L124.0 242.7L124.5 242.2L125.0 244.1L125.5 248.0L126.0 251.3L126.5 254.0L127.0 256.3L127.5 258.6L128.0 261.1L128.5 263.7L129.0 266.7L129.5 269.8L130.0 272.9L130.5 276.1L131.0 279.3L131.5 278.0L132.0 275.9L132.5 273.7L133.0 271.7L133.5 270.0L134.0 267.9L134.5 265.0L135.0 261.7L135.5 258.8L136.0 256.4L136.5 255.8L137.0 258.3L137.5 260.4L138.0 262.6L138.5 265.2L139.0 268.6L139.5 272.1L140.0 269.3L140.5 265.8L141.0 261.6L141.5 257.4L142.0 257.7L142.5 259.5L143.0 261.3L143.5 262.9L144.0 264.4L144.5 266.3L145.0 267.5L145.5 267.3L146.0 266.7L146.5 266.0L147.0 266.1L147.5 267.3L148.0 267.9L148.5 268.4L149.0 269.4L149.5 271.1L150.0 273.1L150.5 271.0L151.0 268.3L151.5 265.3L152.0 262.2L152.5 259.0L153.0 255.7L153.5 255.5L154.0 257.3L154.5 259.4L155.0 261.2L155.5 262.5L156.0 263.6L156.5 264.2L157.0 264.0L157.5 264.0L158.0 264.0L158.5 264.3L159.0 266.3L159.5 268.1L160.0 269.3L160.5 269.8L161.0 270.3L161.5 271.6L162.0 271.6L162.5 271.0L163.0 270.1L163.5 269.1L164.0 268.0L164.5 266.7L165.0 265.7L165.5 265.0L166.0 264.5L166.5 264.2L167.0 264.5L167.5 265.3L168.0 265.5L168.5 263.3L169.0 259.8L169.5 255.8L170.0 252.4L170.5 250.1L171.0 248.2L171.5 248.4L172.0 248.5L172.5 248.4L173.0 248.9L173.5 250.2L174.0 251.6L174.5 252.8L175.0 253.7L175.5 254.3L176.0 255.1L176.5 256.2L177.0 257.7L177.5 259.7L178.0 261.9L178.5 263.8L179.0 264.9L179.5 265.6L180.0 266.3L180.5 267.4L181.0 266.2L181.5 264.9L182.0 263.8L182.5 262.8L183.0 263.4L183.5 264.1L184.0 264.2L184.5 264.2L185.0 264.1L185.5 264.0L186.0 264.3L186.5 265.3L187.0 266.5L187.5 267.6L188.0 268.2L188.5 267.3L189.0 266.0L189.5 263.8L190.0 261.2L190.5 258.8L191.0 257.3L191.5 257.2L192.0 258.3L192.5 259.2L193.0 259.0L193.5 258.3L194.0 258.1L194.5 258.2L195.0 258.2L195.5 257.8L196.0 257.4L196.5 257.7L197.0 259.4L197.5 260.7L198.0 261.6L198.5 262.6L199.0 263.9L199.5 265.4L200.0 266.8L200.5 268.0L201.0 269.3L201.5 271.2L202.0 270.3L202.5 268.4L203.0 265.9L203.5 262.4L204.0 260.6L204.5 260.6L205.0 261.0L205.5 262.3L206.0 262.9L206.5 261.4L207.0 259.8L207.5 258.6L208.0 257.8L208.5 257.0L209.0 255.8L209.5 256.4L210.0 256.5L210.5 256.2L211.0 256.3L211.5 257.4L212.0 259.4L212.5 259.8L213.0 258.8L213.5 257.1L214.0 255.1L214.5 254.3L215.0 255.2L215.5 256.6L216.0 258.5L216.5 260.0L217.0 260.9L217.5 260.9L218.0 259.3L218.5 258.4L219.0 257.7L219.5 256.4L220.0 254.4L220.5 252.3L221.0 250.7L221.5 249.8L222.0 250.6L222.5 251.6L223.0 252.2L223.5 252.7L224.0 253.2L224.5 253.8L225.0 255.0L225.5 256.7L226.0 257.6L226.5 256.5L227.0 255.3L227.5 253.5L228.0 251.1L228.5 248.6L229.0 246.5L229.5 247.3L230.0 248.7L230.5 250.3L231.0 251.4L231.5 251.6L232.0 251.3L232.5 251.2L233.0 251.5L233.5 252.3L234.0 253.7L234.5 255.2L235.0 256.5L235.5 257.6L236.0 258.4L236.5 258.7L237.0 258.6L237.5 258.0L238.0 256.7L238.5 255.7L239.0 255.6L239.5 256.5L240.0 257.6L240.5 257.6L241.0 257.0L241.5 256.5L242.0 256.9L242.5 257.7L243.0 256.7L243.5 254.3L244.0 251.6L244.5 248.9L245.0 246.3L245.5 244.0L246.0 242.6L246.5 242.4L247.0 241.6L247.5 239.8L248.0 237.2L248.5 234.7L249.0 232.7L249.5 231.5L250.0 231.3L250.5 231.9L251.0 232.0L251.5 231.1L252.0 230.0L252.5 229.9L253.0 230.8L253.5 231.9L254.0 232.0L254.5 231.7L255.0 231.7L255.5 232.2L256.0 233.4L256.5 235.0L257.0 236.6L257.5 238.5L258.0 239.8L258.5 241.4L259.0 242.6L259.5 242.8L260.0 242.4L260.5 242.0L261.0 240.3L261.5 238.2L262.0 236.3L262.5 234.8L263.0 234.1L263.5 233.9L264.0 234.1L264.5 234.3L265.0 233.7L265.5 233.0L266.0 232.9L266.5 233.6L267.0 234.4L267.5 235.4L268.0 235.9L268.5 235.9L269.0 235.8L269.5 236.4L270.0 237.4L270.5 238.3L271.0 239.4L271.5 240.8L272.0 242.0L272.5 242.5L273.0 242.4L273.5 242.7L274.0 243.9L274.5 245.4L275.0 246.4L275.5 246.0L276.0 243.9L276.5 241.9L277.0 240.5L277.5 240.0L278.0 239.8L278.5 239.4L279.0 239.2L279.5 238.5L280.0 237.5L280.5 236.7L281.0 236.3L281.5 235.9L282.0 234.9L282.5 233.6L283.0 232.2L283.5 231.2L284.0 230.6L284.5 230.2L285.0 230.4L285.5 231.8L286.0 233.0L286.5 234.6L287.0 236.7L287.5 239.0L288.0 241.2L288.5 242.8L289.0 244.0L289.5 245.1L290.0 246.3L290.5 247.9L291.0 249.7L291.5 249.5L292.0 248.4L292.5 246.9L293.0 245.6L293.5 244.7L294.0 244.1L294.5 243.6L295.0 243.3L295.5 242.9L296.0 242.8L296.5 242.8L297.0 243.0L297.5 243.3L298.0 241.9L298.5 240.3L299.0 237.9L299.5 235.5L300.0 233.6L300.5 232.2L301.0 231.3L301.5 230.4L302.0 229.3L302.5 228.3L303.0 226.8L303.5 225.0L304.0 224.2L304.5 225.2L305.0 227.2L305.5 229.7L306.0 231.3L306.5 231.0L307.0 230.6L307.5 230.3L308.0 230.0L308.5 231.1L309.0 231.5L309.5 232.0L310.0 233.5L310.5 236.2L311.0 239.0L311.5 240.1L312.0 240.1L312.5 240.2L313.0 240.7L313.5 240.4L314.0 239.3L314.5 238.4L315.0 237.8L315.5 236.9L316.0 235.5L316.5 234.0L317.0 233.2L317.5 233.2L318.0 233.9L318.5 233.7L319.0 232.3L319.5 230.7L320.0 229.8L320.5 229.9L321.0 230.2L321.5 230.1L322.0 229.6L322.5 229.3L323.0 229.6L323.5 230.4L324.0 230.3L324.5 228.5L325.0 225.6L325.5 222.4L326.0 219.7L326.5 217.4L327.0 215.9L327.5 217.1L328.0 218.6L328.5 220.1L329.0 221.4L329.5 222.2L330.0 222.6L330.5 221.1L331.0 219.6L331.5 218.6L332.0 217.7L332.5 218.2L333.0 219.5L333.5 220.5L334.0 221.5L334.5 222.7L335.0 224.0L335.5 224.9L336.0 224.8L336.5 225.0L337.0 225.1L337.5 224.8L338.0 224.0L338.5 223.1L339.0 222.0L339.5 221.0L340.0 220.2L340.5 219.4L341.0 220.5L341.5 222.4L342.0 224.2L342.5 225.7L343.0 227.0L343.5 228.3L344.0 229.4L344.5 230.4L345.0 231.5L345.5 232.1L346.0 232.4L346.5 232.7L347.0 233.4L347.5 234.5L348.0 235.3L348.5 235.8L349.0 236.7L349.5 238.3L350.0 239.8L350.5 238.9L351.0 236.7L351.5 234.3L352.0 232.2L352.5 230.0L353.0 227.9L353.5 226.6L354.0 226.3L354.5 226.7L355.0 227.6L355.5 228.6L356.0 229.5L356.5 230.4L357.0 232.2L357.5 232.9L358.0 232.7L358.5 232.3L359.0 232.6L359.5 234.0L360.0 236.1L360.5 238.0L361.0 239.5L361.5 240.5L362.0 241.5L362.5 242.9L363.0 244.5L363.5 245.7L364.0 246.4L364.5 246.5L365.0 246.3L365.5 245.9L366.0 245.9L366.5 246.6L367.0 247.6L367.5 247.2L368.0 246.2L368.5 244.8L369.0 243.6L369.5 242.5L370.0 241.6L370.5 241.0L371.0 241.0L371.5 241.1L372.0 240.6L372.5 239.2L373.0 237.5L373.5 235.7L374.0 234.3L374.5 234.9L375.0 237.9L375.5 240.9L376.0 243.0L376.5 244.3L377.0 244.9L377.5 245.4L378.0 244.3L378.5 243.7L379.0 243.6L379.5 243.8L380.0 243.6L380.5 242.7L381.0 241.9L381.5 241.6L382.0 241.5L382.5 241.1L383.0 240.1L383.5 239.0L384.0 238.9L384.5 240.1L385.0 241.3L385.5 241.8L386.0 241.8L386.5 242.2L387.0 243.2L387.5 245.4L388.0 248.0L388.5 251.0L389.0 253.8L389.5 256.0L390.0 258.0L390.5 257.9L391.0 257.0L391.5 255.7L392.0 254.3L392.5 253.2L393.0 252.7L393.5 252.9L394.0 253.5L394.5 253.8L395.0 253.9L395.5 254.3L396.0 254.8L396.5 255.3L397.0 254.7L397.5 254.8L398.0 255.4L398.5 255.5L399.0 254.5L399.5 252.6L400.0 250.6L400.5 248.7L401.0 247.9L401.5 247.8L402.0 247.9L402.5 248.0L403.0 247.7L403.5 247.8L404.0 248.0L404.5 247.6L405.0 247.3L405.5 246.8L406.0 246.2L406.5 245.2L407.0 243.8L407.5 243.0L408.0 242.2L408.5 241.8L409.0 241.9L409.5 242.0L410.0 241.7L410.5 240.9L411.0 240.2L411.5 239.6L412.0 238.8L412.5 238.0L413.0 238.2L413.5 240.1L414.0 242.5L414.5 244.0L415.0 244.7L415.5 244.6L416.0 243.5L416.5 242.1L417.0 241.0L417.5 240.2L418.0 239.5L418.5 239.4L419.0 241.9L419.5 244.5L420.0 246.6L420.5 247.5L421.0 248.0L421.5 248.9L422.0 248.7L422.5 248.7L423.0 248.5L423.5 247.6L424.0 246.2L424.5 245.0L425.0 244.6L425.5 244.6L426.0 244.5L426.5 244.2L427.0 244.2L427.5 244.9L428.0 246.6L428.5 248.9L429.0 250.4L429.5 250.4L430.0 249.3L430.5 247.9L431.0 247.5L431.5 247.7L432.0 248.2L432.5 248.7L433.0 249.0L433.5 248.3L434.0 247.3L434.5 246.3L435.0 245.2L435.5 243.7L436.0 241.9L436.5 240.8L437.0 241.8L437.5 243.8L438.0 246.9L438.5 250.2L439.0 252.6L439.5 253.4L440.0 251.9L440.5 250.4L441.0 249.3L441.5 248.3L442.0 247.5L442.5 246.8L443.0 246.3L443.5 245.8L444.0 245.6L444.5 245.9L445.0 247.3L445.5 249.1L446.0 250.3L446.5 251.0L447.0 251.4L447.5 251.3L448.0 251.3L448.5 251.9L449.0 252.8L449.5 253.7L450.0 254.2L450.5 252.8L451.0 251.1L451.5 249.4L452.0 247.8L452.5 246.1L453.0 244.2L453.5 243.2L454.0 243.3L454.5 243.6L455.0 243.4L455.5 242.4L456.0 240.9L456.5 239.5L457.0 238.3L457.5 237.1L458.0 235.5L458.5 233.7L459.0 232.1L459.5 231.2L460.0 232.9L460.5 235.2L461.0 237.7L461.5 239.7L462.0 240.5L462.5 240.3L463.0 239.6L463.5 239.4L464.0 240.0L464.5 241.0L465.0 241.9L465.5 242.7L466.0 244.0L466.5 246.1L467.0 248.4L467.5 250.4L468.0 252.2L468.5 253.9L469.0 255.6L469.5 256.2L470.0 256.4L470.5 256.2L471.0 255.6L471.5 255.3L472.0 255.5L472.5 256.0L473.0 256.5L473.5 257.1L474.0 257.3L474.5 256.8L475.0 255.8L475.5 255.1L476.0 254.6L476.5 254.6L477.0 254.4L477.5 254.0L478.0 253.6L478.5 253.2L479.0 252.3L479.5 251.8L480.0 251.1L480.5 249.5L481.0 247.7L481.5 246.0L482.0 244.9L482.5 244.2L483.0 243.5L483.5 242.7L484.0 241.7L484.5 240.4L485.0 238.9L485.5 237.4L486.0 236.3L486.5 236.0L487.0 236.4L487.5 237.6L488.0 238.2L488.5 238.8L489.0 240.0L489.5 240.3L490.0 240.0L490.5 239.1L491.0 237.9L491.5 236.7L492.0 235.7L492.5 235.0L493.0 234.9L493.5 235.3L494.0 235.2L494.5 234.4L495.0 233.1L495.5 232.0L496.0 231.3L496.5 231.5L497.0 232.3L497.5 232.2L498.0 231.7L498.5 231.2L499.0 228.5L499.5 225.5L500.0 222.0L500.5 218.8L501.0 219.5L501.5 221.4L502.0 223.4L502.5 224.9L503.0 225.8L503.5 226.4L504.0 227.1L504.5 228.1L505.0 229.0L505.5 229.2L506.0 228.0L506.5 225.0L507.0 221.9L507.5 218.9L508.0 216.8L508.5 219.9L509.0 222.9L509.5 225.6L510.0 228.3L510.5 226.9L511.0 225.0L511.5 223.2L512.0 221.7L512.5 222.7L513.0 224.8L513.5 226.6L514.0 228.4L514.5 230.1L515.0 231.9L515.5 232.9L516.0 233.0L516.5 233.5L517.0 233.6L517.5 232.8L518.0 233.3L518.5 233.8L519.0 234.8L519.5 236.1L520.0 237.4L520.5 238.8L521.0 241.4L521.5 244.4L522.0 247.0L522.5 249.3L523.0 251.6L523.5 254.2L524.0 255.6L524.5 255.3L525.0 254.5L525.5 253.7L526.0 253.3L526.5 252.7L527.0 252.3L527.5 251.4L528.0 250.0L528.5 248.3L529.0 246.3L529.5 246.5L530.0 247.1L530.5 247.8L531.0 248.3L531.5 247.4L532.0 246.2L532.5 245.2L533.0 244.2L533.5 244.0L534.0 244.4L534.5 245.5L535.0 246.9L535.5 248.3L536.0 249.8L536.5 251.0L537.0 252.2L537.5 253.3L538.0 254.5L538.5 252.8L539.0 250.8L539.5 249.1L540.0 247.5L540.5 246.0L541.0 245.8L541.5 246.2L542.0 246.9L542.5 247.5L543.0 248.8L543.5 250.3L544.0 251.3L544.5 251.9L545.0 252.2L545.5 252.9L546.0 254.2L546.5 255.7L547.0 256.3L547.5 256.5L548.0 257.5L548.5 257.9L549.0 258.5L549.5 258.5L550.0 258.1L550.5 257.6L551.0 257.0L551.5 256.5L552.0 255.7L552.5 255.2L553.0 255.2L553.5 255.7L554.0 256.1L554.5 256.1L555.0 255.8L555.5 254.9L556.0 253.3L556.5 252.0L557.0 251.4L557.5 251.9L558.0 254.3L558.5 256.2L559.0 257.4L559.5 258.3L560.0 257.0L560.5 255.7L561.0 254.5L561.5 253.0L562.0 252.6L562.5 252.6L563.0 253.0L563.5 253.7L564.0 254.6L564.5 255.5L565.0 255.2L565.5 253.2L566.0 251.2L566.5 249.7L567.0 248.4L567.5 247.4L568.0 250.5L568.5 253.5L569.0 255.7L569.5 257.2L570.0 258.5L570.5 257.9L571.0 257.3L571.5 256.8L572.0 255.8L572.5 254.4L573.0 253.1L573.5 252.2L574.0 251.9L574.5 252.0L575.0 252.0L575.5 251.8L576.0 251.3L576.5 250.5L577.0 250.4L577.5 250.5L578.0 251.3L578.5 253.0L579.0 254.0L579.5 254.8L580.0 254.8L580.5 254.2L581.0 253.5L581.5 253.2L582.0 252.8L582.5 252.6L583.0 252.4L583.5 251.5L584.0 249.8L584.5 248.2L585.0 248.2L585.5 249.0L586.0 250.1L586.5 251.1L587.0 251.5L587.5 250.1L588.0 248.6L588.5 247.6L589.0 246.8L589.5 247.4L590.0 248.0L590.5 248.9L591.0 250.8L591.5 251.3L592.0 250.7L592.5 248.5L593.0 245.5L593.5 242.9L594.0 241.2L594.5 240.2L595.0 239.8L595.5 239.5L596.0 239.2L596.5 238.2L597.0 236.3L597.5 234.3L598.0 233.5L598.5 233.7L599.0 234.7L599.5 236.4L600.0 236.8L600.5 236.8L601.0 236.0L601.5 234.4L602.0 232.3L602.5 230.2L603.0 229.0L603.5 228.2L604.0 227.4L604.5 227.1L605.0 227.1L605.5 227.0L606.0 226.6L606.5 226.4L607.0 226.8L607.5 227.5L608.0 227.9L608.5 227.9L609.0 227.4L609.5 227.6L610.0 227.9L610.5 228.7L611.0 230.0L611.5 231.4L612.0 232.5L612.5 233.3L613.0 234.4L613.5 235.8L614.0 237.3L614.5 239.0L615.0 240.4L615.5 241.2L616.0 241.8L616.5 242.9L617.0 244.2L617.5 244.8L618.0 244.7L618.5 244.4L619.0 244.1L619.5 244.5L620.0 245.1L620.5 245.7L621.0 244.2L621.5 242.1L622.0 240.3L622.5 239.0L623.0 240.4L623.5 243.9L624.0 247.4L624.5 250.4L625.0 251.2L625.5 248.6L626.0 246.0L626.5 243.5L627.0 241.2L627.5 239.2L628.0 237.2L628.5 236.8L629.0 236.0L629.5 235.0L630.0 234.2L630.5 233.9L631.0 233.9L631.5 233.6L632.0 232.6L632.5 230.9L633.0 229.3L633.5 228.5L634.0 229.0L634.5 230.0L635.0 230.7L635.5 230.9L636.0 231.9L636.5 233.5L637.0 235.6L637.5 237.6L638.0 239.6L638.5 241.7L639.0 242.7L639.5 242.8L640.0 242.1L640.5 241.4L641.0 240.7L641.5 240.1L642.0 239.0L642.5 237.9L643.0 237.4L643.5 237.4L644.0 237.5L644.5 236.8L645.0 235.5L645.5 234.6L646.0 234.0L646.5 233.7L647.0 232.8L647.5 231.2L648.0 229.4L648.5 228.1L649.0 227.7L649.5 227.6L650.0 227.1L650.5 226.3L651.0 225.7L651.5 224.7L652.0 223.2L652.5 221.1L653.0 218.8L653.5 216.9L654.0 215.6L654.5 214.5L655.0 214.2L655.5 214.8L656.0 215.4L656.5 215.9L657.0 216.4L657.5 216.8L658.0 216.8L658.5 216.4L659.0 216.1L659.5 216.2L660.0 216.9L660.5 218.0L661.0 219.9L661.5 221.8L662.0 223.3L662.5 224.7L663.0 226.3L663.5 227.9L664.0 228.5L664.5 227.7L665.0 226.5L665.5 225.3L666.0 224.4L666.5 223.5L667.0 222.9L667.5 222.9L668.0 222.8L668.5 223.2L669.0 224.4L669.5 226.4L670.0 228.1L670.5 228.3L671.0 227.4L671.5 226.3L672.0 225.8L672.5 225.8L673.0 226.3L673.5 226.8L674.0 226.7L674.5 225.5L675.0 223.9L675.5 223.0L676.0 223.3L676.5 224.3L677.0 224.8L677.5 224.7L678.0 224.3L678.5 224.0L679.0 223.4L679.5 222.4L680.0 221.3L680.5 221.0L681.0 221.3L681.5 222.0L682.0 222.4L682.5 222.3L683.0 221.6L683.5 220.0L684.0 218.1L684.5 217.0L685.0 216.7L685.5 217.0L686.0 217.5L686.5 217.8L687.0 217.9L687.5 218.5L688.0 219.3L688.5 219.5L689.0 219.2L689.5 218.5L690.0 217.0L690.5 214.8L691.0 212.7L691.5 210.0L692.0 207.4L692.5 205.4L693.0 203.4L693.5 202.4L694.0 202.6L694.5 202.8L695.0 202.9L695.5 202.7L696.0 202.5L696.5 202.5L697.0 201.2L697.5 199.7L698.0 198.0L698.5 198.6L699.0 200.3L699.5 202.3L700.0 204.4L700.5 206.4L701.0 206.7L701.5 206.4L702.0 205.9L702.5 204.6L703.0 202.9L703.5 201.3L704.0 200.6L704.5 201.2L705.0 201.8L705.5 201.6L706.0 200.9L706.5 200.2L707.0 200.2L707.5 198.9L708.0 197.9L708.5 196.5L709.0 194.8L709.5 192.5L710.0 192.8L710.5 192.3L711.0 191.8L711.5 192.5L712.0 194.5L712.5 196.0L713.0 196.2L713.5 196.2L714.0 195.9L714.5 194.9L715.0 193.3L715.5 194.4L716.0 195.7L716.5 197.5L717.0 199.6L717.5 198.0L718.0 195.6L718.5 192.9L719.0 189.8L719.5 187.0L720.0 185.9L720.5 185.6L721.0 185.1L721.5 184.1L722.0 182.7L722.5 181.3L723.0 180.3L723.5 181.5L724.0 183.5L724.5 184.9L725.0 186.8L725.5 190.0L726.0 194.1L726.5 196.4L727.0 194.8L727.5 192.7L728.0 191.2L728.5 190.6L729.0 192.3L729.5 193.0L730.0 193.6L730.5 195.4L731.0 198.5L731.5 201.6L732.0 203.4L732.5 204.0L733.0 204.2L733.5 204.5L734.0 202.6L734.5 199.4L735.0 196.8L735.5 194.7L736.0 192.4L736.5 189.3L737.0 186.9L737.5 188.0L738.0 189.5L738.5 191.3L739.0 193.1L739.5 194.8L740.0 196.6L740.5 195.1L741.0 193.6L741.5 192.8L742.0 192.9L742.5 193.7L743.0 194.0L743.5 193.1L744.0 191.2L744.5 189.8L745.0 189.0L745.5 188.5L746.0 187.8L746.5 186.5L747.0 184.4L747.5 182.3L748.0 180.9L748.5 180.4L749.0 181.3L749.5 182.1L750.0 183.3L750.5 185.0L751.0 186.5L751.5 187.6L752.0 187.0L752.5 185.8L753.0 184.6L753.5 183.7L754.0 184.0L754.5 184.9L755.0 186.4L755.5 188.8L756.0 191.6L756.5 193.7L757.0 194.4L757.5 192.7L758.0 191.2L758.5 189.7L759.0 188.0L759.5 185.3L760.0 182.0L760.5 182.5L761.0 183.6L761.5 185.6L762.0 188.9L762.5 189.6L763.0 188.6L763.5 186.5L764.0 184.0L764.5 183.8L765.0 185.1L765.5 185.4L766.0 184.4L766.5 183.2L767.0 182.6L767.5 182.5L768.0 182.0L768.5 182.4L769.0 183.2L769.5 184.3L770.0 185.5L770.5 186.4L771.0 185.1L771.5 182.7L772.0 179.7L772.5 176.9L773.0 174.4L773.5 175.6L774.0 182.0L774.5 188.6L775.0 196.2L775.5 202.2L776.0 199.5L776.5 195.7L777.0 191.2L777.5 186.8L778.0 183.6L778.5 182.0L779.0 181.1L779.5 184.1L780.0 185.4L780.5 186.0L781.0 187.1L781.5 186.2L782.0 185.0L782.5 183.6L783.0 181.7L783.5 181.5L784.0 182.2L784.5 182.9L785.0 184.1L785.5 186.0L786.0 188.5L786.5 190.4L787.0 189.9L787.5 189.1L788.0 187.7L788.5 186.1L789.0 187.3L789.5 189.8L790.0 192.9L790.5 195.4L791.0 198.0L791.5 200.1L792.0 201.9L792.5 203.7L793.0 201.1L793.5 196.5L794.0 193.1L794.5 190.3L795.0 186.7L795.5 186.8L796.0 189.6L796.5 192.7L797.0 196.0L797.5 199.7L798.0 203.7L798.5 203.1L799.0 202.8L799.5 201.9L800.0 200.3L800.5 201.4L801.0 201.8L801.5 201.8L802.0 202.8L802.5 205.2L803.0 208.3L803.5 207.1L804.0 202.2L804.5 196.9L805.0 191.4L805.5 186.5L806.0 183.4L806.5 189.3L807.0 195.0L807.5 200.0L808.0 204.4L808.5 208.9L809.0 208.8L809.5 209.7L810.0 210.6L810.5 210.4L811.0 208.3L811.5 205.0L812.0 201.7L812.5 199.0L813.0 199.4L813.5 202.1L814.0 205.4L814.5 208.9L815.0 212.0L815.5 214.6L816.0 214.9L816.5 211.1L817.0 208.1L817.5 204.9L818.0 201.0L818.5 196.2L819.0 190.9L819.5 193.2L820.0 195.9L820.5 198.5L821.0 201.0L821.5 203.8L822.0 206.7L822.5 210.2L823.0 213.5L823.5 216.3L824.0 218.8L824.5 217.9L825.0 213.8L825.5 210.3L826.0 207.7L826.5 207.0L827.0 210.7L827.5 214.4L828.0 218.5L828.5 222.8L829.0 225.1L829.5 222.3L830.0 218.9L830.5 215.8L831.0 225.9L831.5 238.7L832.0 258.0L832.5 291.6L833.0 287.8L833.5 261.1L834.0 242.5L834.5 231.4L835.0 223.8L835.5 221.0L836.0 218.3L836.5 215.7L837.0 213.1L837.5 210.2L838.0 208.0L838.5 212.6L839.0 217.5L839.5 222.2L840.0 226.8L840.5 231.1L841.0 235.5L841.5 235.6L842.0 234.3L842.5 233.2L843.0 232.6L843.5 232.5L844.0 232.4L844.5 232.3L845.0 232.2L845.5 232.3L846.0 232.8L846.5 233.1L847.0 233.0L847.5 232.4L848.0 231.6L848.5 231.2L849.0 231.1L849.5 230.6L850.0 231.9L850.5 233.3L851.0 234.9L851.5 236.9L852.0 237.2L852.5 236.5L853.0 235.8L853.5 235.5L854.0 235.5L854.5 235.2L855.0 233.2L855.5 228.9L856.0 224.7L856.5 220.8L857.0 217.4L857.5 214.5L858.0 219.0L858.5 224.0L859.0 228.9L859.5 233.6L860.0 238.2L860.5 237.5L861.0 235.7L861.5 233.7L862.0 231.7L862.5 229.8L863.0 227.8L863.5 227.0L864.0 227.4L864.5 228.0L865.0 228.8L865.5 229.7L866.0 230.5L866.5 231.3L867.0 232.0L867.5 232.9L868.0 233.6L868.5 234.1L869.0 234.6L869.5 235.3L870.0 233.5L870.5 231.4L871.0 229.2L871.5 226.9L872.0 224.6L872.5 225.2L873.0 229.5L873.5 233.6L874.0 237.4L874.5 241.0L875.0 243.6L875.5 243.9L876.0 244.6L876.5 245.7L877.0 247.2L877.5 248.7L878.0 250.4L878.5 252.2L879.0 254.0L879.5 256.1L880.0 258.6L880.5 263.4L881.0 267.3L881.5 270.4L882.0 274.0L882.5 273.2L883.0 269.9L883.5 266.4L884.0 262.5L884.5 258.5L885.0 254.0L885.5 248.7L886.0 242.9L886.5 239.3L887.0 243.6L887.5 249.1L888.0 254.0L888.5 257.4L889.0 252.7L889.5 249.0L890.0 246.8L890.5 245.4L891.0 244.1L891.5 245.2L892.0 248.0L892.5 249.7L893.0 250.5L893.5 250.8L894.0 249.7L894.5 247.3L895.0 245.5L895.5 243.8L896.0 242.6L896.5 241.6L897.0 240.0L897.5 238.0L898.0 235.7L898.5 233.3L899.0 230.4L899.5 241.1L900.0 253.3L900.5 266.2L901.0 278.7L901.5 290.5L902.0 294.1L902.5 289.0L903.0 284.7L903.5 280.6L904.0 276.2L904.5 274.9L905.0 278.0L905.5 279.7L906.0 280.4L906.5 278.4L907.0 267.0L907.5 257.4L908.0 249.1L908.5 257.8L909.0 269.1L909.5 279.7L910.0 290.2L910.5 300.9L911.0 297.8L911.5 290.4L912.0 282.9L912.5 275.3L913.0 268.5L913.5 262.9L914.0 265.3L914.5 275.8L915.0 284.5L915.5 292.0L916.0 299.8L916.5 308.6L917.0 298.6L917.5 288.6L918.0 278.6L918.5 268.5L919.0 258.7L919.5 264.2L920.0 271.1L920.5 277.4L921.0 283.2L921.5 274.9L922.0 260.8L922.5 258.7L923.0 264.5L923.5 269.7L924.0 274.4L924.5 278.9L925.0 284.0L925.5 285.4L926.0 275.5L926.5 265.7L927.0 255.9L927.5 245.2L928.0 233.8L928.5 235.7L929.0 241.9L929.5 248.4L930.0 254.0L930.5 259.2L931.0 264.3L931.5 270.3L932.0 276.4L932.5 282.0L933.0 287.4L933.5 293.1L934.0 291.2L934.5 278.9L935.0 266.5L935.5 255.6L936.0 259.6L936.5 262.6L937.0 265.3L937.5 269.3L938.0 274.7L938.5 272.7L939.0 269.2L939.5 264.5L940.0 260.6L940.5 258.5L941.0 256.7L941.5 254.1L942.0 249.8L942.5 244.4L943.0 239.3L943.5 235.8L944.0 236.9L944.5 249.2L945.0 261.5L945.5 272.6L946.0 282.5L946.5 289.6L947.0 283.4L947.5 276.8L948.0 269.0L948.5 261.1L949.0 254.0L949.5 254.2L950.0 257.3L950.5 260.4L951.0 263.5L951.5 266.2L952.0 265.5L952.5 263.7L953.0 263.3L953.5 263.6L954.0 263.9L954.5 263.1L955.0 260.2L955.5 255.6L956.0 252.1L956.5 249.2L957.0 245.9L957.5 244.5L958.0 242.2L958.5 240.2L959.0 238.4L959.5 244.5L960.0 252.4L960.5 261.0L961.0 269.1L961.5 276.2L962.0 283.0L962.5 287.8L963.0 291.4L963.5 295.5L964.0 299.0L964.5 298.7L965.0 292.3L965.5 286.2L966.0 280.5L966.5 277.3L967.0 287.5L967.5 297.2L968.0 291.7L968.5 286.1L969.0 280.5L969.5 275.1L970.0 269.3L970.5 271.2L971.0 272.8L971.5 274.5L972.0 276.5L972.5 279.0L973.0 279.8L973.5 278.6L974.0 277.1L974.5 274.8L975.0 271.7L975.5 267.7L976.0 269.6L976.5 272.5L977.0 276.6L977.5 281.1L978.0 284.8L978.5 279.7L979.0 274.3L979.5 269.5L980.0 264.8L980.5 259.8L981.0 254.6L981.5 249.7L982.0 250.0L982.5 257.6L983.0 265.3L983.5 272.4L984.0 279.2L984.5 282.0L985.0 276.9L985.5 271.3L986.0 266.2L986.5 263.2L987.0 268.1L987.5 273.7L988.0 279.7L988.5 285.6L989.0 290.2L989.5 292.9L990.0 294.3L990.5 296.4L991.0 300.0L991.5 304.2L992.0 307.7L992.5 310.5L993.0 313.1L993.5 315.4L994.0 312.4L994.5 301.4L995.0 290.5L995.5 280.0L996.0 269.9L996.5 260.0L997.0 251.6L997.5 263.2L998.0 274.3L998.5 285.0L999.0 295.9L999.5 294.1L1000.0 289.6L1000.5 284.0L1001.0 278.7L1001.5 282.5L1002.0 292.2L1002.5 301.9L1003.0 304.1L1003.5 289.1L1004.0 274.4L1004.5 260.9L1005.0 249.2L1005.5 257.3L1006.0 264.3L1006.5 270.8L1007.0 277.2L1007.5 283.5L1008.0 277.2L1008.5 271.4L1009.0 266.7L1009.5 262.9L1010.0 259.0L1010.5 283.8L1011.0 294.5L1011.5 292.7L1012.0 280.2L1012.5 263.1L1013.0 252.2L1013.5 253.2L1014.0 262.0L1014.5 270.1L1015.0 274.2L1015.5 279.7L1016.0 291.2L1016.5 305.3L1017.0 314.4L1017.5 311.4L1018.0 294.4L1018.5 272.1L1019.0 259.0L1019.5 262.4L1020.0 276.9L1020.5 287.7L1021.0 286.6L1021.5 279.4L1022.0 274.2L1022.5 273.9L1023.0 279.7L1023.5 289.5L1024.0 293.5L1024.5 282.8L1025.0 264.8L1025.5 254.9L1026.0 258.7L1026.5 269.7L1027.0 275.7L1027.5 271.2L1028.0 262.5L1028.5 259.1L1029.0 266.7L1029.5 283.5L1030.0 298.5L1030.5 299.4L1031.0 287.3L1031.5 272.3L1032.0 258.5L1032.5 245.8L1033.0 238.0L1033.5 239.5L1034.0 250.4L1034.5 266.4L1035.0 281.9L1035.5 292.3L1036.0 293.6L1036.5 287.0L1037.0 280.1L1037.5 279.2L1038.0 283.4L1038.5 285.3L1039.0 278.7L1039.5 264.0L1040.0 248.8L1040.5 242.1L1041.0 248.7L1041.5 267.0L1042.0 287.8L1042.5 301.3L1043.0 306.2L1043.5 305.7L1044.0 298.6L1044.5 283.4L1045.0 265.8L1045.5 253.6L1046.0 250.3L1046.5 255.6L1047.0 267.2L1047.5 280.2L1048.0 288.0L1048.5 286.1L1049.0 275.4L1049.5 263.1L1050.0 257.0L1050.5 261.0L1051.0 274.6L1051.5 292.4L1052.0 304.0L1052.5 299.6L1053.0 280.8L1053.5 259.4L1054.0 246.4L1054.5 245.4L1055.0 255.4L1055.5 272.2L1056.0 289.7L1056.5 300.4L1057.0 300.0L1057.5 291.3L1058.0 281.5L1058.5 275.4L1059.0 272.9L1059.5 273.0L1060.0 277.5L1060.5 284.7L1061.0 284.3L1061.5 269.0L1062.0 248.3L1062.5 236.1L1063.0 237.0L1063.5 249.0L1064.0 267.6L1064.5 287.5L1065.0 300.2L1065.5 297.7L1066.0 284.2L1066.5 271.3L1067.0 264.0L1067.5 261.0L1068.0 261.6L1068.5 266.2L1069.0 272.6L1069.5 277.9L1070.0 281.7L1070.5 285.2L1071.0 288.2L1071.5 291.9L1072.0 296.3L1072.5 296.3L1073.0 286.5L1073.5 270.7L1074.0 258.2L1074.5 254.0L1075.0 256.9L1075.5 261.7L1076.0 265.2L1076.5 270.5L1077.0 281.2L1077.5 293.7L1078.0 300.5L1078.5 298.8L1079.0 289.9L1079.5 277.3L1080.0 270.2L1080.5 277.4L1081.0 298.7L1081.5 320.3L1082.0 323.3L1082.5 305.1L1083.0 281.4L1083.5 265.3L1084.0 258.8L1084.5 259.4L1085.0 266.7L1085.5 279.0L1086.0 288.5L1086.5 286.1L1087.0 271.9L1087.5 256.9L1088.0 252.7L1088.5 262.3L1089.0 278.9L1089.5 290.6L1090.0 293.8L1090.5 294.2L1091.0 295.3L1091.5 294.2L1092.0 287.1L1092.5 274.6L1093.0 259.5L1093.5 245.5L1094.0 237.5L1094.5 238.3L1095.0 246.5L1095.5 257.6L1096.0 266.6L1096.5 272.6L1097.0 275.4L1097.5 277.1L1098.0 281.6L1098.5 286.7L1099.0 283.2L1099.5 270.1L1100.0 259.3L1100.5 258.9L1101.0 267.2L1101.5 275.7L1102.0 278.2L1102.5 276.7L1103.0 277.4L1103.5 282.3L1104.0 287.4L1104.5 286.8L1105.0 278.4L1105.5 266.1L1106.0 256.9L1106.5 254.9L1107.0 261.2L1107.5 274.7L1108.0 289.4L1108.5 295.1L1109.0 289.4L1109.5 281.3L1110.0 280.0L1110.5 286.6L1111.0 294.9L1111.5 295.7L1112.0 285.9L1112.5 272.0L1113.0 262.7L1113.5 261.8L1114.0 268.2L1114.5 277.0L1115.0 283.5L1115.5 287.4L1116.0 289.5L1116.5 287.8L1117.0 281.4L1117.5 274.8L1118.0 272.7L1118.5 276.4L1119.0 284.0L1119.5 290.3L1120.0 289.5L1120.5 283.3L1121.0 278.5L1121.5 277.4L1122.0 278.5L1122.5 280.1L1123.0 282.0L1123.5 282.6L1124.0 281.4L1124.5 280.2L1125.0 281.1L1125.5 284.5L1126.0 289.0L1126.5 291.7L1127.0 289.9L1127.5 283.4L1128.0 274.5L1128.5 266.8L1129.0 263.1L1129.5 263.2L1130.0 265.0L1130.5 266.9L1131.0 269.1L1131.5 272.1L1132.0 275.1L1132.5 278.7L1133.0 282.7L1133.5 285.7L1134.0 286.3L1134.5 285.5L1135.0 284.4L1135.5 283.3L1136.0 281.1L1136.5 276.9L1137.0 272.8L1137.5 270.6L1138.0 272.1L1138.5 278.6L1139.0 287.2L1139.5 290.9L1140.0 287.2L1140.5 280.9L1141.0 275.5L1141.5 271.6L1142.0 270.7L1142.5 274.8L1143.0 283.5L1143.5 293.6L1144.0 300.1L1144.5 298.6L1145.0 289.3L1145.5 277.6L1146.0 269.3L1146.5 266.1L1147.0 266.3L1147.5 268.2L1148.0 273.0L1148.5 282.4L1149.0 292.8L1149.5 296.3L1150.0 291.1L1150.5 284.7L1151.0 282.4L1151.5 282.3L1152.0 279.9L1152.5 274.2L1153.0 268.2L1153.5 264.2L1154.0 263.2L1154.5 265.0L1155.0 269.1L1155.5 274.6L1156.0 280.2L1156.5 283.2L1157.0 282.2L1157.5 278.5L1158.0 275.1L1158.5 274.4L1159.0 276.1L1159.5 278.3L1160.0 278.1L1160.5 274.4L1161.0 270.1L1161.5 268.3L1162.0 268.5L1162.5 267.2L1163.0 264.7L1163.5 265.3L1164.0 271.2L1164.5 278.5L1165.0 280.6L1165.5 276.4L1166.0 271.0L1166.5 270.1L1167.0 275.5L1167.5 284.1L1168.0 289.8L1168.5 289.5L1169.0 285.6L1169.5 283.7L1170.0 287.5L1170.5 295.4L1171.0 299.9L1171.5 295.3L1172.0 285.1L1172.5 277.0L1173.0 273.5L1173.5 271.4L1174.0 268.7L1174.5 267.7L1175.0 270.7L1175.5 275.0L1176.0 275.9L1176.5 273.6L1177.0 271.4L1177.5 270.3L1178.0 270.5L1178.5 273.5L1179.0 277.7L1179.5 277.9L1180.0 274.6L1180.5 274.2L1181.0 277.7L1181.5 278.6L1182.0 274.6L1182.5 272.5L1183.0 276.7L1183.5 283.5L1184.0 286.5L1184.5 285.2L1185.0 285.3L1185.5 289.1L1186.0 291.7L1186.5 287.6L1187.0 281.0L1187.5 279.4L1188.0 281.2L1188.5 280.8L1189.0 278.5L1189.5 278.1L1190.0 279.4L1190.5 279.6L1191.0 278.2L1191.5 276.5L1192.0 275.1L1192.5 273.6L1193.0 272.9L1193.5 275.1L1194.0 280.2L1194.5 284.4L1195.0 284.5L1195.5 282.8L1196.0 283.2L1196.5 287.5L1197.0 294.4L1197.5 301.1L1198.0 303.0L1198.5 298.0L1199.0 289.8L1199.5 284.3L1200.0 281.3L1200.5 275.7L1201.0 266.8L1201.5 260.9L1202.0 263.9L1202.5 275.5L1203.0 288.4L1203.5 294.8L1204.0 295.4L1204.5 295.6L1205.0 296.4L1205.5 294.7L1206.0 287.5L1206.5 275.5L1207.0 263.4L1207.5 256.2L1208.0 256.3L1208.5 263.9L1209.0 277.1L1209.5 289.4L1210.0 294.2L1210.5 290.6L1211.0 284.1L1211.5 279.7L1212.0 277.9L1212.5 275.9L1213.0 272.2L1213.5 269.0L1214.0 269.5L1214.5 274.9L1215.0 284.1L1215.5 292.0L1216.0 290.6L1216.5 277.8L1217.0 262.1L1217.5 252.0L1218.0 248.8L1218.5 250.4L1219.0 255.6L1219.5 263.1L1220.0 268.1L1220.5 266.9L1221.0 262.4L1221.5 258.3L1222.0 257.4L1222.5 261.7L1223.0 271.7L1223.5 281.5L1224.0 281.2L1224.5 269.4L1225.0 254.8L1225.5 245.8L1226.0 244.4L1226.5 250.3L1227.0 260.6L1227.5 272.4L1228.0 276.1L1228.5 264.2L1229.0 246.3L1229.5 238.2L1230.0 246.3L1230.5 264.9L1231.0 278.0L1231.5 275.0L1232.0 263.7L1232.5 257.0L1233.0 258.9L1233.5 265.8L1234.0 274.5L1234.5 281.8L1235.0 281.4L1235.5 269.5L1236.0 254.5L1236.5 248.5L1237.0 254.4L1237.5 265.4L1238.0 273.6L1238.5 278.6L1239.0 284.0L1239.5 288.8L1240.0 287.5L1240.5 279.0L1241.0 268.8L1241.5 261.1L1242.0 255.8L1242.5 253.7L1243.0 259.6L1243.5 276.1L1244.0 296.9L1244.5 308.4L1245.0 301.5L1245.5 281.1L1246.0 261.8L1246.5 255.6L1247.0 265.1L1247.5 283.2L1248.0 297.5L1248.5 300.3L1249.0 293.8L1249.5 285.7L1250.0 282.7L1250.5 287.0L1251.0 294.5L1251.5 297.8L1252.0 292.6L1252.5 281.2L1253.0 270.0L1253.5 263.7L1254.0 262.1L1254.5 264.0L1255.0 271.2L1255.5 283.6L1256.0 291.7L1256.5 288.2L1257.0 281.6L1257.5 282.2L1258.0 288.0L1258.5 291.8L1259.0 293.6L1259.5 299.5L1260.0 309.1L1260.5 311.6L1261.0 299.6L1261.5 283.3L1262.0 277.2L1262.5 282.8L1263.0 291.0L1263.5 291.6L1264.0 284.5L1264.5 277.4L1265.0 273.7L1265.5 269.8L1266.0 263.5L1266.5 258.4L1267.0 258.2L1267.5 262.0L1268.0 267.0L1268.5 271.9L1269.0 275.6L1269.5 275.7L1270.0 272.4L1270.5 268.8L1271.0 265.0L1271.5 257.5L1272.0 248.1L1272.5 243.4L1273.0 247.4L1273.5 258.1L1274.0 268.6L1274.5 274.9L1275.0 281.6L1275.5 294.0L1276.0 306.5L1276.5 304.8L1277.0 286.4L1277.5 266.7L1278.0 258.6L1278.5 260.6L1279.0 263.9L1279.5 263.5L1280.0 262.0L1280.5 263.6L1281.0 268.3L1281.5 271.9L1282.0 271.6L1282.5 270.1L1283.0 273.3L1283.5 284.4L1284.0 301.1L1284.5 314.1L1285.0 312.7L1285.5 296.1L1286.0 275.3L1286.5 263.1L1287.0 262.7L1287.5 266.7L1288.0 266.3L1288.5 261.9L1289.0 262.1L1289.5 271.9L1290.0 285.2L1290.5 290.4L1291.0 286.1L1291.5 282.8L1292.0 286.7L1292.5 293.3L1293.0 295.2L1293.5 291.7L1294.0 289.4L1294.5 291.0L1295.0 292.4L1295.5 291.3L1296.0 289.9L1296.5 286.5L1297.0 277.4L1297.5 267.4L1298.0 268.5L1298.5 288.5L1299.0 322.1L1299.5 348.3L1300.0 347.6L1300.5 324.1L1301.0 295.4L1301.5 274.5L1302.0 262.1L1302.5 255.0L1303.0 253.3L1303.5 262.6L1304.0 287.7L1304.5 323.2L1305.0 348.0L1305.5 346.1L1306.0 324.0L1306.5 299.5L1307.0 283.6L1307.5 280.3L1308.0 289.4L1308.5 303.9L1309.0 314.1L1309.5 319.3L1310.0 326.2L1310.5 334.0L1311.0 334.8L1311.5 326.8L1312.0 318.4L1312.5 315.3L1313.0 316.9L1313.5 316.8L1314.0 313.7L1314.5 312.9L1315.0 317.6L1315.5 326.6L1316.0 338.1L1316.5 350.3L1317.0 359.5L1317.5 359.0L1318.0 345.5L1318.5 326.3L1319.0 314.0L1319.5 316.6L1320.0 334.5L1320.5 359.7L1321.0 377.3L1321.5 377.8L1322.0 365.9L1322.5 352.4L1323.0 341.9L1323.5 333.8L1324.0 328.5L1324.5 327.2L1325.0 329.0L1325.5 331.4L1326.0 333.9L1326.5 337.6L1327.0 341.4L1327.5 342.8L1328.0 342.0L1328.5 339.7L1329.0 341.2L1329.5 342.7L1330.0 338.2L1330.5 327.7L1331.0 317.8L1331.5 314.2L1332.0 317.1L1332.5 321.0L1333.0 320.5L1333.5 315.4L1334.0 309.7L1334.5 311.3L1335.0 319.1L1335.5 330.2L1336.0 338.3L1336.5 339.2L1337.0 333.3L1337.5 323.0L1338.0 314.7L1338.5 310.3L1339.0 315.8L1339.5 326.2L1340.0 332.0L1340.5 325.1L1341.0 307.1L1341.5 289.2L1342.0 280.2L1342.5 280.9L1343.0 287.3L1343.5 294.6L1344.0 300.9L1344.5 308.6L1345.0 316.1L1345.5 315.0L1346.0 301.5L1346.5 283.8L1347.0 270.8L1347.5 264.5L1348.0 263.4L1348.5 266.7L1349.0 272.8L1349.5 279.0L1350.0 281.7L1350.5 279.2L1351.0 270.0L1351.5 256.6L1352.0 246.8L1352.5 246.5L1353.0 253.4L1353.5 259.4L1354.0 259.3L1354.5 256.2L1355.0 253.4L1355.5 250.8L1356.0 247.4L1356.5 244.0L1357.0 241.6L1357.5 239.3L1358.0 236.6L1358.5 235.9L1359.0 237.9L1359.5 241.9L1360.0 246.6L1360.5 249.9L1361.0 249.7L1361.5 245.4L1362.0 240.2L1362.5 237.8L1363.0 238.5L1363.5 240.9L1364.0 241.7L1364.5 240.5L1365.0 238.3L1365.5 237.3L1366.0 237.8L1366.5 238.8L1367.0 239.4L1367.5 239.4L1368.0 238.9L1368.5 238.0L1369.0 237.4L1369.5 237.6L1370.0 238.8L1370.5 240.7L1371.0 242.0L1371.5 241.2L1372.0 239.0L1372.5 237.6L1373.0 237.8L1373.5 238.1L1374.0 237.4L1374.5 236.2L1375.0 235.9L1375.5 237.3L1376.0 240.0L1376.5 242.5L1377.0 243.1L1377.5 242.3L1378.0 241.3L1378.5 241.1L1379.0 241.8L1379.5 243.5L1380.0 244.9L1380.5 244.6L1381.0 242.1L1381.5 239.0L1382.0 237.1L1382.5 237.4L1383.0 240.5L1383.5 245.4L1384.0 249.0L1384.5 248.9L1385.0 245.9L1385.5 242.6L1386.0 240.7L1386.5 240.4L1387.0 240.8L1387.5 240.5L1388.0 238.9L1388.5 236.3L1389.0 233.9L1389.5 232.9L1390.0 233.5L1390.5 235.7L1391.0 238.8L1391.5 241.7L1392.0 243.8L1392.5 244.9L1393.0 244.9L1393.5 244.0L1394.0 242.9L1394.5 241.2L1395.0 239.0L1395.5 236.6L1396.0 235.0L1396.5 234.8L1397.0 235.9L1397.5 237.3L1398.0 238.8L1398.5 240.7L1399.0 243.0L1399.5 244.6L1400.0 244.2L1400.5 241.8L1401.0 239.1L1401.5 237.1L1402.0 236.4L1402.5 236.6L1403.0 237.2L1403.5 237.6L1404.0 237.6L1404.5 238.1L1405.0 239.6L1405.5 241.2L1406.0 241.1L1406.5 239.2L1407.0 236.8L1407.5 235.3L1408.0 235.5L1408.5 237.0L1409.0 238.5L1409.5 239.0L1410.0 238.6L1410.5 238.2L1411.0 238.6L1411.5 239.2L1412.0 239.0L1412.5 237.7L1413.0 236.8L1413.5 237.7L1414.0 240.0L1414.5 241.7L1415.0 241.0L1415.5 238.5L1416.0 236.2L1416.5 235.5L1417.0 236.5L1417.5 238.2L1418.0 239.4L1418.5 239.5L1419.0 239.1L1419.5 238.4L1420.0 237.2L1420.5 235.5L1421.0 234.2L1421.5 234.0L1422.0 234.7L1422.5 235.8L1423.0 237.0L1423.5 237.9L1424.0 239.0L1424.5 240.3L1425.0 241.2L1425.5 240.4L1426.0 238.3L1426.5 236.5L1427.0 236.1L1427.5 236.6L1428.0 236.8L1428.5 236.0L1429.0 234.5L1429.5 233.3L1430.0 233.3L1430.5 235.2L1431.0 237.8L1431.5 239.2L1432.0 238.8L1432.5 237.5L1433.0 236.7L1433.5 237.1L1434.0 238.8L1434.5 240.6L1435.0 241.2L1435.5 240.5L1436.0 239.9L1436.5 240.0L1437.0 241.0L1437.5 242.2L1438.0 242.9L1438.5 243.1L1439.0 243.6L1439.5 245.0L1440.0 247.0L1440.5 247.9L1441.0 246.7L1441.5 244.5L1442.0 243.6L1442.5 243.9L1443.0 243.9L1443.5 242.9L1444.0 242.1L1444.5 242.7L1445.0 244.3L1445.5 246.0L1446.0 247.7L1446.5 249.5L1447.0 250.6L1447.5 250.5L1448.0 250.4L1448.5 251.2L1449.0 252.0L1449.5 250.9L1450.0 248.0L1450.5 245.7L1451.0 245.3L1451.5 246.6L1452.0 248.6L1452.5 250.5L1453.0 251.7L1453.5 252.0L1454.0 251.4L1454.5 250.5L1455.0 250.1L1455.5 250.5L1456.0 250.9L1456.5 250.5L1457.0 250.0L1457.5 249.3L1458.0 248.4L1458.5 247.9L1459.0 248.9L1459.5 251.8L1460.0 255.2L1460.5 256.7L1461.0 255.8L1461.5 253.5L1462.0 251.6L1462.5 250.9"/></g>
<path class="tick" d="M116.50 518.5v5M284.50 518.5v5M452.50 518.5v5M621.50 518.5v5M789.50 518.5v5M957.50 518.5v5M1125.50 518.5v5M1294.50 518.5v5M116.5 84.50h-5M116.5 161.50h-5M116.5 237.50h-5M116.5 314.50h-5M116.5 390.50h-5M116.5 467.50h-5"/>
<rect class="frame" x="116.5" y="38.5" width="1346.0" height="480.0"/>
<text x="105.60" y="92.24" font-size="23.00" text-anchor="end" textLength="14.92" lengthAdjust="spacingAndGlyphs">2</text>
<text x="105.60" y="168.84" font-size="23.00" text-anchor="end" textLength="14.92" lengthAdjust="spacingAndGlyphs">1</text>
<text x="105.60" y="245.44" font-size="23.00" text-anchor="end" textLength="14.92" lengthAdjust="spacingAndGlyphs">0</text>
<text x="105.60" y="322.04" font-size="23.00" text-anchor="end" textLength="32.89" lengthAdjust="spacingAndGlyphs">−1</text>
<text x="105.60" y="398.64" font-size="23.00" text-anchor="end" textLength="32.89" lengthAdjust="spacingAndGlyphs">−2</text>
<text x="105.60" y="475.24" font-size="23.00" text-anchor="end" textLength="32.89" lengthAdjust="spacingAndGlyphs">−3</text>
<rect x="1047.5" y="48.4" width="406.5" height="80" rx="3" ry="3" fill="#fff" fill-opacity="0.8" stroke="#ccc" stroke-opacity="0.8" stroke-width="1.1"/>
<circle cx="1073.4" cy="63.7" r="2.85" fill="#1f77b4"/>
<path d="M1054.6 102.1h36.1" stroke="#ff7f0e" stroke-width="2.08" stroke-linecap="square" fill="none"/>
<text x="1105.90" y="69.00" font-size="18.53" text-anchor="start" textLength="98.54" lengthAdjust="spacingAndGlyphs">Raw Data</text>
<text x="1105.90" y="95.60" font-size="18.53" text-anchor="start" textLength="270.53" lengthAdjust="spacingAndGlyphs">Butterworth Filtered Data</text>
<text x="1105.90" y="116.35" font-size="18.53" text-anchor="start" textLength="338.57" lengthAdjust="spacingAndGlyphs">(N=6, Tc=3.3333 min, Type: low)</text>
<rect x="137" y="575.5" width="574.9" height="479.0" fill="#e8e8e8"/>
<path d="M137.5 575.5V1054.5M711.4 575.5V1054.5" stroke="#dedede" stroke-width="1" fill="none"/>
<path class="grid" d="M284.50 575.5V1054.5M452.50 575.5V1054.5M621.50 575.5V1054.5M789.50 575.5V1054.5M957.50 575.5V1054.5M1125.50 575.5V1054.5M1294.50 575.5V1054.5M116.5 635.50H1462.5M116.5 735.50H1462.5M116.5 834.50H1462.5M116.5 934.50H1462.5M116.5 1033.50H1462.5"/>
<g clip-path="url(#cb)"><path class="core" d="M117.5 1010.0L118.5 1010.0L119.5 1011.0L120.5 1012.0L121.5 1012.0L122.5 1011.0L123.5 1011.0L124.5 1012.0L125.5 1012.5L126.5 1012.5L127.5 1013.5L128.5 1016.0L129.5 1016.0L130.5 1014.5L131.5 1013.5L132.5 1013.0L133.5 1013.0L134.5 1012.0L135.5 1012.0L136.5 1009.0L137.5 1008.0L138.5 1007.5L139.5 1007.5L140.5 1007.5L141.5 1007.0L142.5 1006.0L143.5 1001.0L144.5 1000.0L145.5 1000.0L146.5 1000.5L147.5 1000.0L148.5 999.0L149.5 991.0L150.5 990.0L151.5 990.0L152.5 990.0L153.5 989.0L154.5 978.5L155.5 977.5L156.5 977.5L157.5 977.5L158.5 966.0L159.5 965.0L160.5 965.0L161.5 965.0L162.5 957.0L163.5 956.0L164.5 955.5L165.5 956.0L166.5 956.5L167.5 956.0L168.5 945.5L169.5 945.0L170.5 933.0L171.5 932.0L172.5 932.0L173.5 932.0L174.5 919.5L175.5 918.5L176.5 918.0L177.5 918.0L178.5 916.0L179.5 890.5L180.5 890.0L181.5 890.5L182.5 891.5L183.5 892.0L184.5 891.5L185.5 911.5L186.5 911.5L187.5 910.5L188.5 901.5L189.5 901.5L190.5 901.0L191.5 901.0L192.5 892.0L193.5 885.5L194.5 871.0L195.5 870.5L196.5 871.0L197.5 888.5L198.5 891.0L199.5 890.5L200.5 890.0L201.5 890.5L202.5 891.5L203.5 904.0L204.5 903.5L205.5 903.0L206.5 903.0L207.5 902.0L208.5 901.0L209.5 896.0L210.5 857.0L211.5 831.5L212.5 793.5L213.5 793.0L214.5 901.5L215.5 901.5L216.5 850.0L217.5 850.0L218.5 835.5L219.5 804.5L220.5 785.5L221.5 797.5L222.5 799.5L223.5 833.5L224.5 834.0L225.5 756.5L226.5 727.5L227.5 757.0L228.5 758.0L229.5 762.5L230.5 763.0L231.5 761.0L232.5 753.5L233.5 755.5L234.5 756.0L235.5 756.0L236.5 751.0L237.5 681.5L238.5 681.0L239.5 681.5L240.5 802.5L241.5 866.5L242.5 867.5L243.5 867.5L244.5 848.0L245.5 831.5L246.5 783.5L247.5 761.0L248.5 746.5L249.5 737.5L250.5 737.5L251.5 693.5L252.5 694.0L253.5 694.5L254.5 697.5L255.5 697.0L256.5 687.0L257.5 688.0L258.5 721.0L259.5 820.0L260.5 819.5L261.5 806.0L262.5 807.0L263.5 807.5L264.5 863.5L265.5 863.5L266.5 831.0L267.5 863.5L268.5 840.0L269.5 827.0L270.5 818.5L271.5 819.5L272.5 820.5L273.5 821.5L274.5 822.0L275.5 828.0L276.5 848.5L277.5 860.0L278.5 860.0L279.5 859.5L280.5 803.5L281.5 739.0L282.5 738.5L283.5 770.0L284.5 803.5L285.5 808.5L286.5 833.0L287.5 833.5L288.5 833.5L289.5 838.0L290.5 838.0L291.5 802.0L292.5 790.0L293.5 789.0L294.5 801.5L295.5 774.0L296.5 771.0L297.5 770.0L298.5 769.5L299.5 706.0L300.5 706.0L301.5 747.0L302.5 747.0L303.5 772.0L304.5 807.5L305.5 808.0L306.5 809.0L307.5 809.0L308.5 798.0L309.5 829.0L310.5 829.5L311.5 829.5L312.5 822.0L313.5 792.0L314.5 773.0L315.5 774.0L316.5 774.0L317.5 747.5L318.5 828.0L319.5 818.5L320.5 747.5L321.5 751.5L322.5 771.5L323.5 773.0L324.5 774.0L325.5 775.5L326.5 775.5L327.5 746.0L328.5 746.0L329.5 752.5L330.5 755.5L331.5 755.5L332.5 772.5L333.5 774.0L334.5 821.5L335.5 824.5L336.5 824.5L337.5 853.5L338.5 799.5L339.5 787.0L340.5 787.5L341.5 787.5L342.5 787.5L343.5 778.0L344.5 777.0L345.5 777.0L346.5 743.5L347.5 750.5L348.5 795.0L349.5 776.5L350.5 768.5L351.5 793.0L352.5 793.0L353.5 804.5L354.5 804.5L355.5 804.5L356.5 804.5L357.5 804.5L358.5 804.5L359.5 804.5L360.5 716.0L361.5 716.5L362.5 717.5L363.5 719.5L364.5 744.5L365.5 744.5L366.5 753.0L367.5 764.5L368.5 738.5L369.5 737.5L370.5 771.0L371.5 792.0L372.5 782.0L373.5 781.5L374.5 771.5L375.5 777.0L376.5 777.0L377.5 764.5L378.5 765.0L379.5 758.0L380.5 758.0L381.5 762.0L382.5 762.5L383.5 763.5L384.5 764.0L385.5 731.0L386.5 731.5L387.5 736.0L388.5 737.0L389.5 765.0L390.5 810.5L391.5 799.0L392.5 799.0L392.5 803.0L391.5 804.0L390.5 835.5L389.5 836.0L388.5 961.0L387.5 936.0L386.5 935.5L385.5 936.0L384.5 849.5L383.5 830.0L382.5 830.0L381.5 831.0L380.5 831.0L379.5 831.0L378.5 936.5L377.5 937.5L376.5 937.5L375.5 937.0L374.5 936.0L373.5 933.0L372.5 932.5L371.5 932.5L370.5 787.0L369.5 767.5L368.5 761.0L367.5 878.5L366.5 879.0L365.5 951.5L364.5 951.5L363.5 943.0L362.5 979.5L361.5 902.0L360.5 902.0L359.5 969.5L358.5 964.5L357.5 964.0L356.5 963.0L355.5 961.0L354.5 961.0L353.5 960.5L352.5 961.0L351.5 963.5L350.5 964.5L349.5 955.5L348.5 955.0L347.5 954.0L346.5 951.5L345.5 951.0L344.5 961.0L343.5 962.0L342.5 946.0L341.5 946.0L340.5 971.0L339.5 971.0L338.5 970.0L337.5 965.5L336.5 960.0L335.5 959.5L334.5 955.5L333.5 946.5L332.5 945.5L331.5 944.0L330.5 944.5L329.5 956.0L328.5 955.0L327.5 953.5L326.5 954.0L325.5 962.5L324.5 963.5L323.5 964.0L322.5 963.5L321.5 850.0L320.5 850.0L319.5 948.0L318.5 953.0L317.5 824.0L316.5 824.0L315.5 877.0L314.5 947.0L313.5 947.0L312.5 957.5L311.5 968.5L310.5 969.5L309.5 969.5L308.5 968.5L307.5 968.0L306.5 967.0L305.5 958.5L304.5 963.0L303.5 963.5L302.5 963.0L301.5 934.0L300.5 832.5L299.5 830.5L298.5 830.5L297.5 942.5L296.5 809.5L295.5 797.5L294.5 948.5L293.5 948.0L292.5 948.0L291.5 949.5L290.5 950.5L289.5 958.0L288.5 963.0L287.5 963.5L286.5 963.0L285.5 962.0L284.5 954.0L283.5 938.5L282.5 938.5L281.5 960.5L280.5 836.5L279.5 980.5L278.5 990.0L277.5 970.5L276.5 870.0L275.5 870.0L274.5 976.0L273.5 975.5L272.5 976.0L271.5 976.0L270.5 975.0L269.5 973.5L268.5 973.5L267.5 976.0L266.5 860.0L265.5 966.0L264.5 965.0L263.5 964.0L262.5 963.5L261.5 954.5L260.5 954.0L259.5 954.0L258.5 816.0L257.5 933.0L256.5 926.5L255.5 845.5L254.5 845.5L253.5 927.5L252.5 751.5L251.5 750.5L250.5 838.0L249.5 838.0L248.5 849.5L247.5 850.5L246.5 850.5L245.5 962.5L244.5 962.5L243.5 968.5L242.5 963.0L241.5 969.0L240.5 970.0L239.5 957.0L238.5 946.0L237.5 946.0L236.5 947.0L235.5 947.0L234.5 947.0L233.5 962.5L232.5 965.5L231.5 966.5L230.5 919.5L229.5 919.5L228.5 956.5L227.5 957.5L226.5 989.5L225.5 977.0L224.5 975.0L223.5 975.0L222.5 974.5L221.5 974.0L220.5 973.5L219.5 976.5L218.5 983.5L217.5 984.5L216.5 985.0L215.5 986.0L214.5 986.5L213.5 996.5L212.5 996.0L211.5 995.0L210.5 995.0L209.5 999.5L208.5 1001.5L207.5 1002.5L206.5 1010.0L205.5 1011.0L204.5 1011.5L203.5 1011.0L202.5 1011.0L201.5 1011.0L200.5 1010.0L199.5 1006.5L198.5 1006.5L197.5 1006.5L196.5 1009.5L195.5 1003.5L194.5 1003.5L193.5 1004.5L192.5 1010.0L191.5 1009.5L190.5 1009.0L189.5 1009.0L188.5 1009.5L187.5 1009.0L186.5 1008.5L185.5 1008.5L184.5 1009.0L183.5 1010.0L182.5 1010.0L181.5 1009.0L180.5 1005.5L179.5 1005.5L178.5 1011.5L177.5 1012.5L176.5 1012.5L175.5 1012.5L174.5 1013.0L173.5 1014.0L172.5 1014.0L171.5 1015.0L170.5 1015.5L169.5 1015.0L168.5 1015.0L167.5 1016.0L166.5 1017.0L165.5 1018.0L164.5 1018.0L163.5 1018.0L162.5 1018.0L161.5 1018.5L160.5 1019.0L159.5 1019.0L158.5 1020.0L157.5 1021.0L156.5 1021.0L155.5 1021.0L154.5 1021.5L153.5 1022.5L152.5 1022.5L151.5 1022.0L150.5 1022.5L149.5 1023.0L148.5 1023.5L147.5 1024.0L146.5 1024.0L145.5 1023.5L144.5 1023.5L143.5 1024.5L142.5 1024.5L141.5 1025.5L140.5 1026.0L139.5 1026.0L138.5 1026.0L137.5 1026.5L136.5 1027.0L135.5 1027.0L134.5 1027.5L133.5 1027.5L132.5 1027.5L131.5 1027.5L130.5 1027.5L129.5 1028.0L128.5 1028.0L127.5 1028.5L126.5 1028.5L125.5 1028.5L124.5 1028.5L123.5 1028.5L122.5 1028.5L121.5 1028.5L120.5 1029.0L119.5 1030.0L118.5 1031.0L117.5 1031.0ZM394.5 808.0L395.5 807.5L396.5 737.0L397.5 737.0L398.5 666.5L399.5 724.5L400.5 748.0L401.5 748.0L402.5 748.0L403.5 748.5L404.5 762.0L405.5 780.5L406.5 781.0L407.5 754.0L408.5 689.5L409.5 737.5L410.5 726.0L411.5 726.0L412.5 726.0L413.5 726.0L414.5 707.5L415.5 695.0L416.5 694.5L417.5 772.0L418.5 772.0L419.5 734.5L420.5 755.0L421.5 755.5L422.5 755.5L423.5 753.5L424.5 752.5L425.5 751.5L426.5 788.0L427.5 788.5L428.5 789.5L429.5 873.5L430.5 816.5L431.5 821.0L432.5 821.0L433.5 817.5L434.5 838.5L435.5 839.5L436.5 830.0L437.5 830.0L438.5 829.0L439.5 745.5L440.5 752.0L441.5 753.0L442.5 754.0L443.5 788.5L444.5 788.5L445.5 788.0L446.5 755.5L447.5 735.0L448.5 728.0L449.5 801.0L450.5 800.5L451.5 789.5L452.5 793.5L453.5 793.5L454.5 778.0L455.5 778.0L456.5 778.5L457.5 756.0L458.5 719.0L459.5 648.5L460.5 650.0L461.5 650.0L462.5 741.5L463.5 765.0L464.5 759.0L465.5 752.0L466.5 715.5L467.5 813.5L468.5 813.0L469.5 739.0L470.5 739.5L471.5 729.5L472.5 746.0L473.5 746.0L474.5 715.0L475.5 715.0L476.5 715.0L477.5 708.5L478.5 736.0L479.5 737.0L480.5 738.0L481.5 738.5L482.5 749.5L483.5 737.5L484.5 737.0L485.5 731.0L486.5 783.5L487.5 647.0L488.5 819.5L489.5 819.5L490.5 820.5L491.5 822.0L492.5 822.0L493.5 822.5L494.5 883.5L495.5 883.0L496.5 835.5L497.5 835.5L498.5 815.0L499.5 794.0L500.5 801.5L501.5 802.0L502.5 802.0L503.5 793.5L504.5 825.0L505.5 830.0L506.5 792.0L507.5 772.0L508.5 776.5L509.5 778.0L510.5 777.5L511.5 820.0L512.5 817.5L513.5 748.0L514.5 724.5L515.5 723.5L516.5 784.0L517.5 806.0L518.5 806.0L519.5 805.5L520.5 754.0L521.5 756.5L522.5 757.0L523.5 757.0L524.5 817.0L525.5 767.5L526.5 767.5L527.5 733.0L528.5 629.0L529.5 655.0L530.5 655.0L531.5 654.0L532.5 706.0L533.5 780.0L534.5 784.5L535.5 784.5L536.5 785.5L537.5 792.0L538.5 792.5L539.5 811.0L540.5 811.0L541.5 765.0L542.5 694.0L543.5 639.0L544.5 651.5L545.5 803.0L546.5 804.5L547.5 818.5L548.5 860.0L549.5 843.0L550.5 843.0L551.5 842.5L552.5 835.0L553.5 835.0L554.5 785.5L555.5 785.5L556.5 792.0L557.5 792.0L558.5 823.0L559.5 816.0L560.5 816.0L561.5 777.0L562.5 788.5L563.5 816.0L564.5 840.5L565.5 825.0L566.5 825.5L567.5 840.0L568.5 839.5L569.5 771.5L570.5 780.5L571.5 753.5L572.5 735.0L573.5 735.0L574.5 735.0L575.5 734.5L576.5 794.0L577.5 796.0L578.5 830.0L579.5 861.5L580.5 862.5L581.5 852.5L582.5 825.0L583.5 825.0L584.5 784.0L585.5 799.0L586.5 799.0L587.5 798.5L588.5 778.0L589.5 776.0L590.5 784.0L591.5 729.5L592.5 685.0L593.5 726.5L594.5 726.5L594.5 800.5L593.5 927.0L592.5 927.5L591.5 780.0L590.5 875.0L589.5 958.5L588.5 960.5L587.5 970.5L586.5 970.5L585.5 971.0L584.5 971.5L583.5 981.5L582.5 981.0L581.5 977.0L580.5 976.0L579.5 965.0L578.5 857.5L577.5 858.0L576.5 816.0L575.5 816.0L574.5 817.0L573.5 817.5L572.5 817.5L571.5 943.5L570.5 943.0L569.5 943.5L568.5 955.5L567.5 955.5L566.5 836.0L565.5 836.5L564.5 953.5L563.5 962.5L562.5 960.0L561.5 960.0L560.5 981.0L559.5 981.5L558.5 981.0L557.5 980.0L556.5 963.5L555.5 963.5L554.5 969.0L553.5 969.0L552.5 968.5L551.5 968.5L550.5 967.5L549.5 959.0L548.5 959.0L547.5 959.5L546.5 959.5L545.5 959.5L544.5 911.0L543.5 868.0L542.5 868.0L541.5 868.0L540.5 942.5L539.5 943.0L538.5 943.0L537.5 942.0L536.5 839.0L535.5 839.0L534.5 913.5L533.5 913.5L532.5 765.0L531.5 765.5L530.5 818.5L529.5 819.5L528.5 751.5L527.5 751.5L526.5 873.5L525.5 937.5L524.5 938.5L523.5 939.0L522.5 939.0L521.5 944.5L520.5 945.5L519.5 946.0L518.5 945.5L517.5 944.5L516.5 937.5L515.5 932.5L514.5 932.5L513.5 933.0L512.5 933.0L511.5 952.0L510.5 791.5L509.5 966.5L508.5 977.0L507.5 976.0L506.5 973.0L505.5 972.5L504.5 967.0L503.5 966.5L502.5 874.0L501.5 873.5L500.5 902.0L499.5 971.5L498.5 973.5L497.5 988.0L496.5 989.0L495.5 989.0L494.5 988.0L493.5 985.5L492.5 964.0L491.5 963.0L490.5 953.5L489.5 935.0L488.5 934.0L487.5 910.5L486.5 910.5L485.5 779.0L484.5 780.0L483.5 780.0L482.5 911.0L481.5 911.0L480.5 917.0L479.5 917.5L478.5 917.5L477.5 917.5L476.5 924.0L475.5 934.0L474.5 938.0L473.5 850.5L472.5 850.5L471.5 850.0L470.5 849.5L469.5 955.5L468.5 955.5L467.5 954.5L466.5 952.0L465.5 941.5L464.5 941.0L463.5 940.5L462.5 924.0L461.5 924.0L460.5 793.5L459.5 715.0L458.5 752.0L457.5 774.5L456.5 927.5L455.5 941.0L454.5 941.5L453.5 946.5L452.5 933.0L451.5 933.0L450.5 933.0L449.5 932.0L448.5 932.0L447.5 962.0L446.5 967.5L445.5 967.5L444.5 970.5L443.5 974.5L442.5 975.0L441.5 974.5L440.5 865.0L439.5 865.0L438.5 971.5L437.5 966.5L436.5 963.5L435.5 963.5L434.5 964.0L433.5 964.0L432.5 964.0L431.5 969.0L430.5 969.0L429.5 958.5L428.5 870.0L427.5 872.5L426.5 909.0L425.5 932.0L424.5 932.5L423.5 935.5L422.5 940.5L421.5 937.0L420.5 918.5L419.5 877.0L418.5 876.5L417.5 876.5L416.5 876.5L415.5 912.0L414.5 912.0L413.5 860.5L412.5 860.5L411.5 859.5L410.5 781.0L409.5 781.0L408.5 721.5L407.5 942.5L406.5 924.5L405.5 924.5L404.5 924.5L403.5 938.5L402.5 938.0L401.5 938.0L400.5 937.5L399.5 937.0L398.5 938.0L397.5 803.5L396.5 803.5L395.5 942.5L394.5 949.0ZM596.5 807.0L597.5 825.5L598.5 840.0L599.5 796.0L600.5 797.0L601.5 797.5L602.5 774.5L603.5 719.0L604.5 718.5L605.5 760.0L606.5 760.5L607.5 760.0L608.5 760.0L609.5 759.5L610.5 760.0L611.5 827.5L612.5 830.0L613.5 830.0L614.5 829.5L615.5 845.0L616.5 845.0L617.5 832.0L618.5 819.5L619.5 811.0L620.5 825.5L621.5 825.5L622.5 841.0L623.5 827.0L624.5 827.0L625.5 803.5L626.5 772.5L627.5 707.5L628.5 706.5L629.5 650.0L630.5 682.0L631.5 682.0L632.5 681.5L633.5 652.0L634.5 764.0L635.5 713.0L636.5 744.0L637.5 744.5L638.5 722.0L639.5 727.0L640.5 728.5L641.5 730.5L642.5 730.5L643.5 752.5L644.5 752.5L645.5 817.5L646.5 724.0L647.5 759.5L648.5 760.5L649.5 760.5L650.5 759.5L651.5 770.5L652.5 683.0L653.5 745.5L654.5 746.0L655.5 798.0L656.5 786.5L657.5 787.5L658.5 788.0L659.5 886.5L660.5 835.0L661.5 844.0L662.5 843.5L663.5 843.5L664.5 821.0L665.5 823.5L666.5 857.0L667.5 857.0L668.5 817.5L669.5 818.0L670.5 818.0L671.5 818.0L672.5 813.5L673.5 813.5L674.5 699.0L675.5 769.5L676.5 775.5L677.5 776.5L678.5 665.5L679.5 665.5L680.5 719.0L681.5 770.0L682.5 783.0L683.5 784.0L684.5 784.0L685.5 784.0L686.5 761.0L687.5 761.0L688.5 780.0L689.5 780.0L690.5 779.5L691.5 796.5L692.5 796.5L693.5 762.5L694.5 762.5L695.5 760.0L696.5 759.0L697.5 742.0L698.5 759.0L699.5 759.0L700.5 715.5L701.5 716.0L702.5 717.0L703.5 731.0L704.5 736.5L705.5 736.5L706.5 745.0L707.5 731.0L708.5 729.0L709.5 667.5L710.5 697.0L711.5 697.0L712.5 673.0L713.5 673.0L714.5 691.5L715.5 732.5L716.5 732.5L717.5 732.5L718.5 732.5L719.5 742.5L720.5 774.0L721.5 792.5L722.5 792.5L723.5 791.0L724.5 789.5L725.5 751.0L726.5 760.5L727.5 761.0L728.5 796.5L729.5 861.0L730.5 861.0L731.5 860.0L732.5 859.5L733.5 860.0L734.5 860.0L735.5 818.0L736.5 815.0L737.5 814.0L738.5 869.5L739.5 871.5L740.5 871.5L741.5 871.5L742.5 879.0L743.5 879.0L744.5 892.5L745.5 895.0L746.5 895.0L747.5 894.5L748.5 895.0L749.5 899.5L750.5 911.5L751.5 916.0L752.5 916.0L753.5 915.0L754.5 915.0L755.5 920.0L756.5 920.0L757.5 919.5L758.5 918.5L759.5 918.5L760.5 929.0L761.5 937.0L762.5 937.5L763.5 935.0L764.5 934.0L765.5 933.5L766.5 934.0L767.5 935.0L768.5 948.0L769.5 957.0L770.5 957.0L771.5 942.0L772.5 941.0L773.5 941.0L774.5 942.0L775.5 944.0L776.5 944.0L777.5 944.5L778.5 944.5L779.5 940.5L780.5 940.0L781.5 939.5L782.5 939.0L783.5 939.5L784.5 960.0L785.5 960.0L786.5 974.5L787.5 978.0L788.5 982.5L789.5 982.5L790.5 983.5L791.5 984.5L792.5 985.0L793.5 986.0L794.5 995.0L795.5 995.0L796.5 994.5L797.5 994.0L798.5 994.5L799.5 995.5L800.5 999.5L801.5 1000.5L802.5 1006.0L803.5 1005.5L804.5 1004.5L805.5 1004.0L806.5 1001.5L807.5 996.0L808.5 995.0L809.5 995.0L810.5 996.0L811.5 1003.0L812.5 1003.0L813.5 1002.5L814.5 1003.0L815.5 1003.5L816.5 1003.5L817.5 1003.5L818.5 1002.0L819.5 1001.0L820.5 1001.0L821.5 1001.0L822.5 1002.0L823.5 1006.0L824.5 1006.0L825.5 1006.0L826.5 1012.0L827.5 1015.5L828.5 1002.5L829.5 1001.5L830.5 997.0L831.5 996.0L832.5 995.5L833.5 996.0L834.5 997.0L835.5 998.0L836.5 1003.5L837.5 1014.5L838.5 1014.5L839.5 1012.0L840.5 1011.0L841.5 1010.5L842.5 1010.5L843.5 1011.5L844.5 1013.0L845.5 1013.0L846.5 1012.0L847.5 1012.0L848.5 1013.0L849.5 1013.0L850.5 1013.0L851.5 1014.0L852.5 1015.0L853.5 1015.0L854.5 1015.0L855.5 1016.0L856.5 1017.0L857.5 1017.0L858.5 1017.0L859.5 1018.0L860.5 1018.0L861.5 1018.0L862.5 1019.0L863.5 1020.5L864.5 1021.5L865.5 1025.5L866.5 1025.0L867.5 1024.0L868.5 1023.0L869.5 1022.5L870.5 1023.0L871.5 1023.5L872.5 1024.5L873.5 1029.5L874.5 1029.5L875.5 1029.0L876.5 1029.0L877.5 1029.5L878.5 1029.5L879.5 1029.5L880.5 1029.5L881.5 1029.5L882.5 1029.5L883.5 1029.5L884.5 1029.5L885.5 1029.5L886.5 1029.5L887.5 1029.5L888.5 1029.5L889.5 1029.5L890.5 1030.0L891.5 1030.0L892.5 1030.0L892.5 1034.0L891.5 1034.0L890.5 1034.0L889.5 1034.0L888.5 1034.0L887.5 1033.5L886.5 1033.5L885.5 1033.5L884.5 1033.5L883.5 1033.5L882.5 1033.5L881.5 1033.5L880.5 1033.5L879.5 1034.0L878.5 1034.0L877.5 1034.0L876.5 1034.0L875.5 1034.0L874.5 1034.0L873.5 1034.0L872.5 1034.0L871.5 1034.0L870.5 1034.0L869.5 1034.0L868.5 1033.5L867.5 1033.5L866.5 1033.5L865.5 1033.5L864.5 1034.0L863.5 1034.0L862.5 1033.5L861.5 1033.0L860.5 1033.0L859.5 1033.5L858.5 1034.0L857.5 1033.5L856.5 1033.0L855.5 1033.0L854.5 1033.0L853.5 1032.5L852.5 1032.5L851.5 1033.5L850.5 1033.5L849.5 1033.5L848.5 1033.5L847.5 1033.5L846.5 1033.5L845.5 1033.5L844.5 1032.5L843.5 1032.0L842.5 1032.0L841.5 1033.0L840.5 1033.0L839.5 1032.0L838.5 1032.0L837.5 1032.5L836.5 1032.5L835.5 1031.5L834.5 1031.0L833.5 1031.0L832.5 1032.0L831.5 1032.0L830.5 1031.5L829.5 1031.5L828.5 1032.5L827.5 1032.5L826.5 1032.0L825.5 1031.0L824.5 1030.5L823.5 1030.0L822.5 1029.5L821.5 1029.5L820.5 1029.0L819.5 1029.0L818.5 1029.0L817.5 1029.0L816.5 1029.0L815.5 1028.5L814.5 1028.5L813.5 1028.0L812.5 1027.0L811.5 1026.5L810.5 1026.5L809.5 1027.0L808.5 1027.0L807.5 1026.0L806.5 1025.5L805.5 1025.5L804.5 1025.0L803.5 1025.0L802.5 1025.0L801.5 1025.5L800.5 1025.0L799.5 1024.0L798.5 1024.0L797.5 1023.0L796.5 1023.0L795.5 1023.0L794.5 1023.0L793.5 1022.5L792.5 1022.0L791.5 1022.0L790.5 1022.0L789.5 1022.0L788.5 1021.0L787.5 1020.0L786.5 1020.0L785.5 1020.0L784.5 1019.5L783.5 1018.5L782.5 1018.0L781.5 1018.5L780.5 1018.5L779.5 1017.5L778.5 1016.0L777.5 1015.5L776.5 1015.0L775.5 1014.5L774.5 1013.5L773.5 1013.0L772.5 1013.0L771.5 1013.0L770.5 1013.0L769.5 1012.0L768.5 1009.5L767.5 1009.0L766.5 1008.0L765.5 1004.0L764.5 1003.5L763.5 1003.5L762.5 1004.0L761.5 1004.5L760.5 1004.0L759.5 1003.0L758.5 1002.0L757.5 1002.0L756.5 1001.5L755.5 997.5L754.5 997.0L753.5 997.0L752.5 996.5L751.5 995.5L750.5 994.5L749.5 993.5L748.5 990.5L747.5 990.5L746.5 991.0L745.5 990.5L744.5 986.5L743.5 982.0L742.5 981.0L741.5 979.0L740.5 979.5L739.5 980.5L738.5 981.0L737.5 980.5L736.5 979.5L735.5 974.5L734.5 973.5L733.5 966.5L732.5 966.0L731.5 966.0L730.5 965.5L729.5 964.5L728.5 956.5L727.5 957.0L726.5 958.0L725.5 958.0L724.5 947.5L723.5 943.0L722.5 943.0L721.5 945.5L720.5 946.5L719.5 937.5L718.5 936.5L717.5 932.5L716.5 932.5L715.5 923.5L714.5 868.5L713.5 906.5L712.5 906.5L711.5 844.5L710.5 843.5L709.5 843.5L708.5 948.0L707.5 947.5L706.5 805.0L705.5 805.0L704.5 942.5L703.5 942.5L702.5 943.5L701.5 943.5L700.5 943.0L699.5 943.5L698.5 943.5L697.5 950.5L696.5 951.0L695.5 952.0L694.5 952.5L693.5 945.5L692.5 931.5L691.5 930.0L690.5 929.0L689.5 928.0L688.5 909.0L687.5 928.0L686.5 927.5L685.5 928.0L684.5 928.5L683.5 932.5L682.5 933.5L681.5 778.5L680.5 932.5L679.5 908.0L678.5 908.0L677.5 856.5L676.5 910.0L675.5 910.0L674.5 941.0L673.5 946.5L672.5 958.0L671.5 958.5L670.5 958.0L669.5 957.0L668.5 955.0L667.5 956.0L666.5 967.5L665.5 970.0L664.5 887.0L663.5 887.5L662.5 970.0L661.5 957.0L660.5 956.0L659.5 953.0L658.5 952.0L657.5 950.0L656.5 950.0L655.5 950.0L654.5 943.5L653.5 935.0L652.5 935.0L651.5 938.0L650.5 859.0L649.5 859.0L648.5 826.0L647.5 939.5L646.5 949.0L645.5 949.0L644.5 949.5L643.5 949.5L642.5 962.5L641.5 939.0L640.5 938.5L639.5 939.5L638.5 949.0L637.5 949.0L636.5 949.0L635.5 902.0L634.5 856.0L633.5 850.0L632.5 850.0L631.5 864.5L630.5 813.5L629.5 813.5L628.5 821.5L627.5 769.0L626.5 822.0L625.5 822.0L624.5 961.0L623.5 960.5L622.5 959.5L621.5 959.5L620.5 960.5L619.5 961.5L618.5 961.5L617.5 960.5L616.5 958.5L615.5 958.5L614.5 890.5L613.5 890.5L612.5 890.0L611.5 969.5L610.5 964.0L609.5 956.0L608.5 956.0L607.5 956.5L606.5 957.0L605.5 956.5L604.5 923.5L603.5 762.5L602.5 792.5L601.5 835.0L600.5 847.5L599.5 835.5L598.5 964.5L597.5 830.0L596.5 821.5ZM896.5 1029.5L897.5 1029.5L898.5 1029.5L899.5 1029.5L900.5 1029.5L901.5 1029.5L902.5 1030.0L903.5 1030.0L903.5 1034.0L902.5 1034.0L901.5 1034.0L900.5 1034.0L899.5 1034.0L898.5 1033.5L897.5 1033.5L896.5 1033.5ZM905.5 1029.5L906.5 1030.0L907.5 1030.0L907.5 1034.0L906.5 1034.0L905.5 1033.5ZM910.5 1029.5L911.5 1029.5L911.5 1033.5L910.5 1033.5ZM914.5 1030.0L915.5 1030.0L916.5 1030.0L917.5 1029.5L918.5 1030.0L919.5 1030.0L920.5 1030.0L921.5 1030.0L922.5 1030.0L923.5 1029.5L924.5 1030.0L925.5 1030.0L925.5 1034.0L924.5 1034.0L923.5 1034.0L922.5 1034.0L921.5 1034.0L920.5 1034.0L919.5 1034.0L918.5 1034.0L917.5 1034.0L916.5 1034.0L915.5 1034.0L914.5 1034.0ZM931.5 1029.5L932.5 1029.5L933.5 1029.5L934.5 1029.5L935.5 1030.0L935.5 1034.0L934.5 1034.0L933.5 1033.5L932.5 1033.5L931.5 1033.5ZM938.5 1030.0L939.5 1030.0L940.5 1030.0L941.5 1029.5L942.5 1029.5L942.5 1033.5L941.5 1034.0L940.5 1034.0L939.5 1034.0L938.5 1034.0ZM947.5 1029.5L948.5 1030.0L948.5 1034.0L947.5 1034.0ZM950.5 1029.5L951.5 1030.0L952.5 1030.0L953.5 1030.0L954.5 1030.0L955.5 1030.0L955.5 1034.0L954.5 1034.0L953.5 1034.0L952.5 1034.0L951.5 1034.0L950.5 1033.5ZM960.5 1029.5L961.5 1029.5L962.5 1030.0L963.5 1030.0L964.5 1030.0L965.5 1030.0L966.5 1030.0L967.5 1030.0L968.5 1030.0L969.5 1030.0L970.5 1030.0L971.5 1030.0L972.5 1030.0L973.5 1030.0L974.5 1030.0L975.5 1030.0L975.5 1034.0L974.5 1034.0L973.5 1034.0L972.5 1034.0L971.5 1034.0L970.5 1034.0L969.5 1034.0L968.5 1034.0L967.5 1034.0L966.5 1034.0L965.5 1034.0L964.5 1034.0L963.5 1034.0L962.5 1034.0L961.5 1033.5L960.5 1033.5ZM979.5 1029.5L980.5 1029.5L981.5 1030.0L982.5 1030.0L982.5 1034.0L981.5 1034.0L980.5 1034.0L979.5 1033.5ZM984.5 1029.5L985.5 1029.5L986.5 1029.5L987.5 1030.0L988.5 1030.0L989.5 1029.5L990.5 1029.5L991.5 1029.5L992.5 1029.5L993.5 1029.5L994.5 1029.5L995.5 1029.5L996.5 1030.0L997.5 1030.0L998.5 1030.0L999.5 1030.0L999.5 1034.0L998.5 1034.0L997.5 1034.0L996.5 1034.0L995.5 1033.5L994.5 1033.5L993.5 1033.5L992.5 1033.5L991.5 1033.5L990.5 1033.5L989.5 1033.5L988.5 1034.0L987.5 1034.0L986.5 1034.0L985.5 1034.0L984.5 1033.5ZM1001.5 1029.5L1002.5 1029.5L1003.5 1029.5L1004.5 1030.0L1004.5 1034.0L1003.5 1034.0L1002.5 1033.5L1001.5 1033.5ZM1008.5 1030.0L1009.5 1029.5L1010.5 1029.5L1011.5 1029.5L1012.5 1030.0L1013.5 1030.0L1014.5 1029.5L1015.5 1030.0L1016.5 1030.0L1017.5 1029.5L1018.5 1029.5L1019.5 1029.5L1020.5 1030.0L1021.5 1030.0L1022.5 1030.0L1023.5 1030.0L1024.5 1030.0L1025.5 1030.0L1026.5 1030.0L1027.5 1030.0L1028.5 1030.0L1029.5 1029.5L1030.5 1029.5L1031.5 1029.5L1032.5 1029.5L1032.5 1033.5L1031.5 1033.5L1030.5 1033.5L1029.5 1033.5L1028.5 1034.0L1027.5 1034.0L1026.5 1034.0L1025.5 1034.0L1024.5 1034.0L1023.5 1034.0L1022.5 1034.0L1021.5 1034.0L1020.5 1034.0L1019.5 1034.0L1018.5 1033.5L1017.5 1033.5L1016.5 1034.0L1015.5 1034.0L1014.5 1034.0L1013.5 1034.0L1012.5 1034.0L1011.5 1034.0L1010.5 1034.0L1009.5 1034.0L1008.5 1034.0ZM1039.5 1030.0L1040.5 1030.0L1040.5 1034.0L1039.5 1034.0ZM1043.5 1030.0L1044.5 1030.0L1045.5 1030.0L1046.5 1030.0L1047.5 1030.0L1048.5 1030.0L1049.5 1029.5L1050.5 1029.5L1050.5 1033.5L1049.5 1034.0L1048.5 1034.0L1047.5 1034.0L1046.5 1034.0L1045.5 1034.0L1044.5 1034.0L1043.5 1034.0ZM1054.5 1030.0L1055.5 1030.0L1056.5 1030.0L1057.5 1029.5L1058.5 1030.0L1059.5 1030.0L1060.5 1030.0L1061.5 1030.0L1061.5 1034.0L1060.5 1034.0L1059.5 1034.0L1058.5 1034.0L1057.5 1034.0L1056.5 1034.0L1055.5 1034.0L1054.5 1034.0ZM1063.5 1030.0L1064.5 1030.0L1065.5 1030.0L1065.5 1034.0L1064.5 1034.0L1063.5 1034.0ZM1068.5 1030.0L1069.5 1030.0L1069.5 1034.0L1068.5 1034.0ZM1071.5 1029.5L1072.5 1029.5L1073.5 1029.5L1074.5 1029.5L1075.5 1030.0L1076.5 1030.0L1077.5 1029.5L1078.5 1029.5L1079.5 1029.5L1079.5 1033.5L1078.5 1033.5L1077.5 1033.5L1076.5 1034.0L1075.5 1034.0L1074.5 1033.5L1073.5 1033.5L1072.5 1033.5L1071.5 1033.5ZM1082.5 1030.0L1083.5 1030.0L1083.5 1034.0L1082.5 1034.0ZM1085.5 1030.0L1086.5 1030.0L1087.5 1030.0L1088.5 1030.0L1089.5 1030.0L1090.5 1030.0L1091.5 1030.0L1092.5 1030.0L1093.5 1030.0L1094.5 1030.0L1095.5 1030.0L1095.5 1034.0L1094.5 1034.0L1093.5 1034.0L1092.5 1034.0L1091.5 1034.0L1090.5 1034.0L1089.5 1034.0L1088.5 1034.0L1087.5 1034.0L1086.5 1034.0L1085.5 1034.0ZM1101.5 1029.5L1102.5 1029.5L1102.5 1033.5L1101.5 1033.5ZM1110.5 1030.0L1111.5 1030.0L1112.5 1029.5L1113.5 1029.5L1113.5 1034.0L1112.5 1034.0L1111.5 1034.0L1110.5 1034.0ZM1119.5 1030.0L1120.5 1030.0L1121.5 1029.5L1122.5 1030.0L1123.5 1030.0L1124.5 1030.0L1125.5 1030.0L1126.5 1030.0L1127.5 1030.0L1128.5 1029.5L1129.5 1029.0L1130.5 1029.5L1130.5 1034.0L1129.5 1034.0L1128.5 1034.0L1127.5 1034.0L1126.5 1034.0L1125.5 1034.0L1124.5 1034.0L1123.5 1034.0L1122.5 1034.0L1121.5 1034.0L1120.5 1034.0L1119.5 1034.0ZM1133.5 1030.0L1134.5 1030.0L1134.5 1034.0L1133.5 1034.0ZM1137.5 1030.0L1138.5 1030.0L1139.5 1030.0L1140.5 1029.5L1141.5 1029.5L1141.5 1033.5L1140.5 1033.5L1139.5 1034.0L1138.5 1034.0L1137.5 1034.0ZM1144.5 1030.0L1145.5 1030.0L1146.5 1030.0L1147.5 1030.0L1148.5 1030.0L1149.5 1029.5L1150.5 1029.5L1151.5 1030.0L1152.5 1030.0L1153.5 1029.5L1154.5 1029.5L1154.5 1033.5L1153.5 1034.0L1152.5 1034.0L1151.5 1034.0L1150.5 1034.0L1149.5 1033.5L1148.5 1034.0L1147.5 1034.0L1146.5 1034.0L1145.5 1034.0L1144.5 1034.0ZM1157.5 1029.5L1158.5 1029.5L1158.5 1033.5L1157.5 1033.5ZM1165.5 1030.0L1166.5 1029.5L1167.5 1029.5L1168.5 1029.5L1169.5 1029.5L1170.5 1030.0L1171.5 1030.0L1171.5 1034.0L1170.5 1034.0L1169.5 1033.5L1168.5 1033.5L1167.5 1033.5L1166.5 1033.5L1165.5 1034.0ZM1174.5 1030.0L1175.5 1030.0L1176.5 1030.0L1176.5 1034.0L1175.5 1034.0L1174.5 1034.0ZM1181.5 1030.0L1182.5 1030.0L1183.5 1030.0L1184.5 1030.0L1184.5 1034.0L1183.5 1034.0L1182.5 1034.0L1181.5 1034.0ZM1186.5 1030.0L1187.5 1030.0L1188.5 1030.0L1189.5 1030.0L1190.5 1030.0L1191.5 1030.0L1192.5 1030.0L1193.5 1030.0L1194.5 1030.0L1195.5 1030.0L1196.5 1030.0L1197.5 1030.0L1198.5 1030.0L1199.5 1030.0L1199.5 1034.0L1198.5 1034.0L1197.5 1034.0L1196.5 1034.0L1195.5 1034.0L1194.5 1034.0L1193.5 1034.0L1192.5 1034.0L1191.5 1034.0L1190.5 1034.0L1189.5 1034.0L1188.5 1034.0L1187.5 1034.0L1186.5 1034.0ZM1201.5 1029.5L1202.5 1029.5L1203.5 1030.0L1204.5 1030.0L1205.5 1030.0L1205.5 1034.0L1204.5 1034.0L1203.5 1034.0L1202.5 1034.0L1201.5 1033.5ZM1207.5 1029.5L1208.5 1029.5L1209.5 1029.5L1210.5 1030.0L1210.5 1034.0L1209.5 1034.0L1208.5 1033.5L1207.5 1033.5ZM1218.5 1029.5L1219.5 1029.5L1220.5 1029.5L1221.5 1029.5L1222.5 1029.5L1223.5 1029.0L1224.5 1029.0L1225.5 1030.0L1226.5 1030.0L1226.5 1034.0L1225.5 1034.0L1224.5 1033.5L1223.5 1033.5L1222.5 1033.5L1221.5 1033.5L1220.5 1033.5L1219.5 1033.5L1218.5 1033.5ZM1229.5 1030.0L1230.5 1030.0L1231.5 1029.5L1231.5 1034.0L1230.5 1034.0L1229.5 1034.0ZM1233.5 1030.0L1234.5 1030.0L1235.5 1030.0L1236.5 1029.5L1237.5 1029.5L1238.5 1029.5L1239.5 1030.0L1240.5 1030.0L1240.5 1034.0L1239.5 1034.0L1238.5 1034.0L1237.5 1033.5L1236.5 1033.5L1235.5 1034.0L1234.5 1034.0L1233.5 1034.0ZM1243.5 1030.0L1244.5 1030.0L1245.5 1030.0L1246.5 1030.0L1247.5 1030.0L1248.5 1030.0L1249.5 1030.0L1249.5 1034.0L1248.5 1034.0L1247.5 1034.0L1246.5 1034.0L1245.5 1034.0L1244.5 1034.0L1243.5 1034.0ZM1253.5 1029.5L1254.5 1029.5L1255.5 1029.5L1256.5 1029.5L1257.5 1029.5L1258.5 1029.5L1258.5 1034.0L1257.5 1034.0L1256.5 1034.0L1255.5 1034.0L1254.5 1034.0L1253.5 1033.5ZM1263.5 1030.0L1264.5 1029.5L1265.5 1029.5L1266.5 1030.0L1267.5 1030.0L1267.5 1034.0L1266.5 1034.0L1265.5 1034.0L1264.5 1034.0L1263.5 1034.0ZM1269.5 1029.5L1270.5 1029.5L1271.5 1029.5L1272.5 1030.0L1272.5 1034.0L1271.5 1033.5L1270.5 1033.5L1269.5 1033.5ZM1276.5 1030.0L1277.5 1030.0L1278.5 1030.0L1279.5 1030.0L1280.5 1030.0L1281.5 1030.0L1282.5 1029.5L1283.5 1029.5L1284.5 1029.5L1285.5 1029.5L1286.5 1029.5L1287.5 1030.0L1287.5 1034.0L1286.5 1034.0L1285.5 1034.0L1284.5 1033.5L1283.5 1033.5L1282.5 1033.5L1281.5 1034.0L1280.5 1034.0L1279.5 1034.0L1278.5 1034.0L1277.5 1034.0L1276.5 1034.0ZM1292.5 1030.0L1293.5 1030.0L1293.5 1034.0L1292.5 1034.0ZM1298.5 1030.0L1299.5 1030.0L1300.5 1029.5L1301.5 1029.5L1301.5 1033.5L1300.5 1033.5L1299.5 1034.0L1298.5 1034.0ZM1303.5 1030.0L1304.5 1030.0L1304.5 1034.0L1303.5 1034.0ZM1307.5 1030.0L1308.5 1030.0L1309.5 1030.0L1310.5 1030.0L1311.5 1030.0L1312.5 1030.0L1313.5 1030.0L1314.5 1030.0L1315.5 1030.0L1315.5 1034.0L1314.5 1034.0L1313.5 1034.0L1312.5 1034.0L1311.5 1034.0L1310.5 1034.0L1309.5 1034.0L1308.5 1034.0L1307.5 1034.0ZM1318.5 1030.0L1319.5 1029.5L1320.5 1029.5L1320.5 1033.5L1319.5 1034.0L1318.5 1034.0ZM1322.5 1030.0L1323.5 1029.5L1324.5 1029.5L1325.5 1029.5L1325.5 1033.5L1324.5 1033.5L1323.5 1034.0L1322.5 1034.0ZM1327.5 1030.0L1328.5 1030.0L1328.5 1034.0L1327.5 1034.0ZM1336.5 1029.5L1337.5 1029.5L1338.5 1029.5L1339.5 1029.5L1340.5 1029.5L1341.5 1029.5L1342.5 1030.0L1343.5 1029.5L1344.5 1029.5L1345.5 1029.5L1345.5 1033.5L1344.5 1033.5L1343.5 1033.5L1342.5 1034.0L1341.5 1033.5L1340.5 1033.5L1339.5 1033.5L1338.5 1033.5L1337.5 1033.5L1336.5 1033.5ZM1347.5 1030.0L1348.5 1030.0L1349.5 1030.0L1350.5 1030.0L1350.5 1034.0L1349.5 1034.0L1348.5 1034.0L1347.5 1034.0ZM1355.5 1029.5L1356.5 1029.5L1356.5 1033.5L1355.5 1033.5ZM1359.5 1030.0L1360.5 1030.0L1361.5 1029.5L1362.5 1029.5L1363.5 1029.5L1364.5 1029.5L1365.5 1029.0L1366.5 1028.5L1367.5 1028.0L1368.5 1028.0L1369.5 1028.0L1370.5 1027.0L1371.5 1026.0L1372.5 1025.5L1373.5 1025.5L1374.5 1024.5L1375.5 1024.5L1376.5 1025.5L1377.5 1026.0L1378.5 1027.0L1379.5 1028.0L1380.5 1028.0L1381.5 1027.0L1382.5 1026.0L1383.5 1025.0L1384.5 1025.0L1385.5 1026.0L1386.5 1027.0L1387.5 1027.0L1388.5 1026.5L1389.5 1023.0L1390.5 1022.0L1391.5 1021.5L1392.5 1022.0L1393.5 1023.0L1394.5 1023.5L1395.5 1023.5L1396.5 1024.0L1397.5 1024.0L1398.5 1023.5L1399.5 1023.0L1400.5 1023.5L1401.5 1023.5L1402.5 1021.5L1403.5 1020.5L1404.5 1017.5L1405.5 1015.5L1406.5 1014.5L1407.5 1014.5L1408.5 1015.5L1409.5 1017.5L1410.5 1020.5L1411.5 1021.0L1412.5 1021.5L1413.5 1021.0L1414.5 1021.0L1415.5 1022.0L1416.5 1023.5L1417.5 1024.0L1418.5 1023.5L1419.5 1022.5L1420.5 1022.0L1421.5 1022.5L1422.5 1022.5L1423.5 1022.5L1424.5 1023.5L1425.5 1023.5L1426.5 1022.5L1427.5 1022.0L1428.5 1021.5L1429.5 1021.0L1430.5 1020.0L1431.5 1019.5L1432.5 1020.0L1433.5 1020.5L1434.5 1020.0L1435.5 1017.5L1436.5 1016.5L1437.5 1016.5L1438.5 1015.0L1439.5 1011.5L1440.5 1010.5L1441.5 1009.5L1442.5 1009.5L1443.5 1010.5L1444.5 1019.5L1445.5 1019.5L1446.5 1018.5L1447.5 1018.0L1448.5 1018.0L1449.5 1016.0L1450.5 1015.0L1451.5 1015.0L1452.5 1016.0L1453.5 1017.5L1454.5 1018.0L1455.5 1018.0L1456.5 1017.5L1457.5 1017.5L1458.5 1017.0L1459.5 1016.5L1460.5 1012.5L1461.5 1011.5L1461.5 1031.0L1460.5 1032.0L1459.5 1032.5L1458.5 1032.0L1457.5 1032.0L1456.5 1032.0L1455.5 1032.5L1454.5 1032.0L1453.5 1032.0L1452.5 1031.5L1451.5 1031.5L1450.5 1032.0L1449.5 1032.5L1448.5 1033.0L1447.5 1033.5L1446.5 1033.5L1445.5 1034.0L1444.5 1033.5L1443.5 1033.5L1442.5 1033.5L1441.5 1032.5L1440.5 1031.5L1439.5 1031.5L1438.5 1032.5L1437.5 1033.0L1436.5 1033.5L1435.5 1034.0L1434.5 1034.0L1433.5 1034.0L1432.5 1033.5L1431.5 1033.5L1430.5 1033.5L1429.5 1033.5L1428.5 1033.5L1427.5 1033.5L1426.5 1033.5L1425.5 1034.0L1424.5 1034.0L1423.5 1033.5L1422.5 1033.5L1421.5 1033.5L1420.5 1034.0L1419.5 1034.0L1418.5 1034.0L1417.5 1034.0L1416.5 1034.0L1415.5 1034.0L1414.5 1034.0L1413.5 1034.0L1412.5 1034.0L1411.5 1033.5L1410.5 1033.5L1409.5 1033.0L1408.5 1032.5L1407.5 1032.5L1406.5 1032.5L1405.5 1032.5L1404.5 1032.5L1403.5 1033.5L1402.5 1034.0L1401.5 1034.0L1400.5 1034.0L1399.5 1034.0L1398.5 1034.0L1397.5 1034.0L1396.5 1034.0L1395.5 1034.0L1394.5 1034.0L1393.5 1034.0L1392.5 1034.0L1391.5 1034.0L1390.5 1034.0L1389.5 1034.0L1388.5 1034.0L1387.5 1034.0L1386.5 1034.0L1385.5 1034.0L1384.5 1034.0L1383.5 1034.0L1382.5 1034.0L1381.5 1034.0L1380.5 1034.0L1379.5 1034.0L1378.5 1034.0L1377.5 1034.0L1376.5 1034.0L1375.5 1034.0L1374.5 1034.0L1373.5 1034.0L1372.5 1034.0L1371.5 1034.0L1370.5 1034.0L1369.5 1034.0L1368.5 1033.5L1367.5 1033.5L1366.5 1034.0L1365.5 1034.0L1364.5 1034.0L1363.5 1034.0L1362.5 1033.5L1361.5 1033.5L1360.5 1034.0L1359.5 1034.0Z"/><path class="dots" transform="scale(0.5)" style="stroke-width:11.6" d="M233 2039h0m0 4h0m0 6h0m1-2h0m0 3h0m1-28h0m0 3h0m0 7h0m0 3h0m0 2h0m0 1h0m0 17h0m0 2h0m1-27h0m0 24h0m0 6h0m1-6h0m2 2h0m5-2h0m0 1h0m1-31h0m2 2h0m1 28h0m2 1h0m1-2h0m1-26h0m0 2h0m2 25h0m1-20h0m3 18h0m0 2h0m1-1h0m2-18h0m3 15h0m0 2h0m0 1h0m1-24h0m0 3h0m3-4h0m0 24h0m1-23h0m1-3h0m0 26h0m2-1h0m5-34h0m0 1h0m0 1h0m0 30h0m3 0h0m3-32h0m0 1h0m2 28h0m1-32h0m0 32h0m1-31h0m3-13h0m0 1h0m0 2h0m0 4h0m1 35h0m2 0h0m0 1h0m1-1h0m0 1h0m1-42h0m2 1h0m1 39h0m1-2h0m0 1h0m0 1h0m2-60h0m0 1h0m0 3h0m0 2h0m0 3h0m0 3h0m4 47h0m4-63h0m0 1h0m2-14h0m0 4h0m0 3h0m0 2h0m1-18h0m0 2h0m0 1h0m0 4h0m0 2h0m2 72h0m0 2h0m5-94h0m0 4h0m0 5h0m1-22h0m0 1h0m0 1h0m0 1h0m0 5h0m0 3h0m0 92h0m7-3h0m1-119h0m0 1h0m0 1h0m0 2h0m0 4h0m0 1h0m0 1h0m0 3h0m0 3h0m1 0h0m0 103h0m3-3h0m2-2h0m5-136h0m0 1h0m0 4h0m0 1h0m0 3h0m0 1h0m0 9h0m0 2h0m2 114h0m0 1h0m3-161h0m0 1h0m0 5h0m0 2h0m0 3h0m0 3h0m0 8h0m0 1h0m1-7h0m0 6h0m0 134h0m0 3h0m5-184h0m0 1h0m0 7h0m0 5h0m0 9h0m2-25h0m0 6h0m2 177h0m6-239h0m0 2h0m0 2h0m0 5h0m0 1h0m0 6h0m0 2h0m0 7h0m0 8h0m0 1h0m0 9h0m0 7h0m1 176h0m1-177h0m4 185h0m1-217h0m0 24h0m3-13h0m1-81h0m0 2h0m0 1h0m0 4h0m0 8h0m0 2h0m0 7h0m0 8h0m0 5h0m0 2h0m0 5h0m0 11h0m0 8h0m0 10h0m0 1h0m3 211h0m2 1h0m1-194h0m2 1h0m1-91h0m0 2h0m0 5h0m0 2h0m0 3h0m0 3h0m0 13h0m0 16h0m0 14h0m0 14h0m0 11h0m1-63h0m0 20h0m0 12h0m0 26h0m1-4h0m3 201h0m0 1h0m0 9h0m2-225h0m0 1h0m0 2h0m0 3h0m0 3h0m2 218h0m1-269h0m0 11h0m0 16h0m0 6h0m1-39h0m0 1h0m0 7h0m0 10h0m0 9h0m0 10h0m4 4h0m1 223h0m0 3h0m5-229h0m3 231h0m0 6h0m4 1h0m3-211h0m0 2h0m1 192h0m0 10h0m3-14h0m3-195h0m3-235h0m0 27h0m0 11h0m0 10h0m0 1h0m0 10h0m0 4h0m0 49h0m0 44h0m0 56h0m1-128h0m0 46h0m0 4h0m0 14h0m0 5h0m0 9h0m0 8h0m0 8h0m0 9h0m0 4h0m0 3h0m0 5h0m0 24h0m0 6h0m2-42h0m0 3h0m0 5h0m0 6h0m0 4h0m0 1h0m0 12h0m1-37h0m0 37h0m0 8h0m1-302h0m0 15h0m0 41h0m0 42h0m0 22h0m0 6h0m0 13h0m0 36h0m0 6h0m0 17h0m0 7h0m0 19h0m0 13h0m0 261h0m0 16h0m1-459h0m0 41h0m0 9h0m0 11h0m0 34h0m0 6h0m0 9h0m0 5h0m0 12h0m0 5h0m0 10h0m0 3h0m0 17h0m0 5h0m1 19h0m0 1h0m0 3h0m0 16h0m0 4h0m0 15h0m0 9h0m0 189h0m0 13h0m1-364h0m0 5h0m0 16h0m0 49h0m0 18h0m0 12h0m0 26h0m0 33h0m0 28h0m1-174h0m0 26h0m0 6h0m0 19h0m0 18h0m0 62h0m0 12h0m2 29h0m1 163h0m1-178h0m0 3h0m0 11h0m1-76h0m0 18h0m0 3h0m0 23h0m0 182h0m1-199h0m1-331h0m0 2h0m0 28h0m0 2h0m0 8h0m0 23h0m0 4h0m0 13h0m0 10h0m0 16h0m0 23h0m0 19h0m0 40h0m0 24h0m0 18h0m0 19h0m0 28h0m1-309h0m0 42h0m0 24h0m0 11h0m0 4h0m0 2h0m0 10h0m0 23h0m0 10h0m0 14h0m0 29h0m0 19h0m0 3h0m0 9h0m0 22h0m0 20h0m0 14h0m0 31h0m0 315h0m1-570h0m0 14h0m0 3h0m0 2h0m0 24h0m0 26h0m0 27h0m0 14h0m0 3h0m0 3h0m0 11h0m0 45h0m0 16h0m0 13h0m0 15h0m0 18h0m1-3h0m0 31h0m0 3h0m0 3h0m2-90h0m0 6h0m0 12h0m0 6h0m0 6h0m0 3h0m0 5h0m0 2h0m0 8h0m0 15h0m1-8h0m1-73h0m0 18h0m0 8h0m0 22h0m0 26h0m1-146h0m0 47h0m0 65h0m0 322h0m1-528h0m0 11h0m0 16h0m0 13h0m0 4h0m0 27h0m0 10h0m0 35h0m0 20h0m0 18h0m0 65h0m0 14h0m1-44h0m0 7h0m0 5h0m0 31h0m0 298h0m1-316h0m3-170h0m0 3h0m0 11h0m0 11h0m0 29h0m0 28h0m0 8h0m0 1h0m0 25h0m0 30h0m0 308h0m0 5h0m1-423h0m0 26h0m0 14h0m0 26h0m0 62h0m0 16h0m0 27h0m1-238h0m0 13h0m0 14h0m0 4h0m0 18h0m0 7h0m0 17h0m0 12h0m0 32h0m0 1h0m0 35h0m0 1h0m0 10h0m0 377h0m1-377h0m0 4h0m0 2h0m0 39h0m0 17h0m0 5h0m0 264h0m0 28h0m0 11h0m0 12h0m1-448h0m0 2h0m0 325h0m0 83h0m0 5h0m0 23h0m1-441h0m0 339h0m0 30h0m3-58h0m0 24h0m0 6h0m0 21h0m0 5h0m0 15h0m0 47h0m1-550h0m0 11h0m0 3h0m0 8h0m0 1h0m0 11h0m0 3h0m0 6h0m0 11h0m0 6h0m0 20h0m0 7h0m0 6h0m0 7h0m0 346h0m0 80h0m1-425h0m0 23h0m0 332h0m1-8h0m0 26h0m0 28h0m0 6h0m0 7h0m1-50h0m0 53h0m1-524h0m0 14h0m0 1h0m0 31h0m0 3h0m0 10h0m0 10h0m0 13h0m0 366h0m0 50h0m0 28h0m2-84h0m0 9h0m0 19h0m0 36h0m0 41h0m0 20h0m1-542h0m0 46h0m0 44h0m0 7h0m0 388h0m0 14h0m1-553h0m0 3h0m0 6h0m0 26h0m0 10h0m0 1h0m0 33h0m0 18h0m3 424h0m0 27h0m0 30h0m3-573h0m0 13h0m0 15h0m0 5h0m0 15h0m0 5h0m0 2h0m0 7h0m0 2h0m0 3h0m0 9h0m0 4h0m0 31h0m0 18h0m0 9h0m1-50h0m0 6h0m0 5h0m0 2h0m0 10h0m0 8h0m1-144h0m0 14h0m0 25h0m0 4h0m0 20h0m0 16h0m0 7h0m0 18h0m0 11h0m0 16h0m0 27h0m0 1h0m0 1h0m1-221h0m0 8h0m0 37h0m0 38h0m0 11h0m0 15h0m0 8h0m0 15h0m0 38h0m0 16h0m0 1h0m0 13h0m0 2h0m0 17h0m0 15h0m0 20h0m0 11h0m0 2h0m0 16h0m0 35h0m1-70h0m0 51h0m0 2h0m0 310h0m0 7h0m0 19h0m0 6h0m0 3h0m0 3h0m0 23h0m1-475h0m0 16h0m0 16h0m0 24h0m0 5h0m0 19h0m0 16h0m0 38h0m0 6h0m0 23h0m0 10h0m0 14h0m0 1h0m0 3h0m0 2h0m0 12h0m0 14h0m0 20h0m1-177h0m0 62h0m0 27h0m0 43h0m0 34h0m1-101h0m0 83h0m0 4h0m0 5h0m0 3h0m0 26h0m0 176h0m0 4h0m1-21h0m1 25h0m2-1h0m0 3h0m0 4h0m1-252h0m0 65h0m1-201h0m0 30h0m0 15h0m0 12h0m0 9h0m0 34h0m0 29h0m0 21h0m0 32h0m1 189h0m0 1h0m0 8h0m0 19h0m1-234h0m0 11h0m0 10h0m0 38h0m0 13h0m0 16h0m0 12h0m0 6h0m0 67h0m0 16h0m0 10h0m0 22h0m1-619h0m0 21h0m0 7h0m0 19h0m0 29h0m0 22h0m0 3h0m0 61h0m0 1h0m0 58h0m0 11h0m0 146h0m0 18h0m0 26h0m0 67h0m1-449h0m0 26h0m0 30h0m0 68h0m0 34h0m0 6h0m0 39h0m0 3h0m0 40h0m0 24h0m0 12h0m0 16h0m0 8h0m0 49h0m0 39h0m0 90h0m0 31h0m0 18h0m1-501h0m0 92h0m0 88h0m0 175h0m0 8h0m0 28h0m0 24h0m0 11h0m0 35h0m0 6h0m0 25h0m1-499h0m0 17h0m0 1h0m0 3h0m0 4h0m0 15h0m0 6h0m0 9h0m0 7h0m0 7h0m0 2h0m0 9h0m0 36h0m0 28h0m0 62h0m0 74h0m0 187h0m0 44h0m1-345h0m0 56h0m0 10h0m0 21h0m0 9h0m0 21h0m0 2h0m0 40h0m0 5h0m0 12h0m0 101h0m0 5h0m0 12h0m0 14h0m0 6h0m0 21h0m1-358h0m0 37h0m0 10h0m0 24h0m0 17h0m0 10h0m0 23h0m0 14h0m0 17h0m0 10h0m0 2h0m0 19h0m0 40h0m0 89h0m1-165h0m0 52h0m0 16h0m0 45h0m0 5h0m0 17h0m0 12h0m0 44h0m0 1h0m0 4h0m0 12h0m0 7h0m0 5h0m0 8h0m0 4h0m0 11h0m1-404h0m0 44h0m0 4h0m0 10h0m0 13h0m0 6h0m0 25h0m0 85h0m0 26h0m0 9h0m0 34h0m0 10h0m0 18h0m0 10h0m0 79h0m1-371h0m0 2h0m0 36h0m0 22h0m0 3h0m0 3h0m0 4h0m0 11h0m0 40h0m0 126h0m0 148h0m1-446h0m0 29h0m0 17h0m0 226h0m0 17h0m0 15h0m0 4h0m0 24h0m0 20h0m0 12h0m0 8h0m0 38h0m0 1h0m0 37h0m1-490h0m0 9h0m0 10h0m0 4h0m0 15h0m0 74h0m0 42h0m0 8h0m0 5h0m0 2h0m0 56h0m0 42h0m0 45h0m0 25h0m0 4h0m0 53h0m0 8h0m0 8h0m1-608h0m0 8h0m0 8h0m0 23h0m0 3h0m0 3h0m0 3h0m0 9h0m0 32h0m0 23h0m0 30h0m0 54h0m0 15h0m0 17h0m0 17h0m0 5h0m0 4h0m0 1h0m0 2h0m0 19h0m0 13h0m0 15h0m0 12h0m0 33h0m0 75h0m0 34h0m1-388h0m0 22h0m0 7h0m0 42h0m0 9h0m0 50h0m0 34h0m0 73h0m0 175h0m0 51h0m0 15h0m0 14h0m0 8h0m0 46h0m0 8h0m0 29h0m1-550h0m0 1h0m0 2h0m0 10h0m0 10h0m0 2h0m0 10h0m0 6h0m0 2h0m0 36h0m0 31h0m0 21h0m0 21h0m0 18h0m0 100h0m0 17h0m0 22h0m0 15h0m0 14h0m0 24h0m0 39h0m0 23h0m1-394h0m0 56h0m0 6h0m0 294h0m0 5h0m0 4h0m0 21h0m0 55h0m0 22h0m0 31h0m0 5h0m0 4h0m0 26h0m0 16h0m0 14h0m1-463h0m0 62h0m0 33h0m0 5h0m0 29h0m0 20h0m0 7h0m0 18h0m0 11h0m0 16h0m0 38h0m0 4h0m0 6h0m0 4h0m0 20h0m0 30h0m0 39h0m0 11h0m0 88h0m1-480h0m0 73h0m0 82h0m0 49h0m0 109h0m0 14h0m0 77h0m0 27h0m0 37h0m1-354h0m0 6h0m0 29h0m0 21h0m0 95h0m0 22h0m0 74h0m0 33h0m0 12h0m0 21h0m0 7h0m0 13h0m0 8h0m0 13h0m0 9h0m1-349h0m0 27h0m0 70h0m0 20h0m0 9h0m0 6h0m0 82h0m0 5h0m0 24h0m0 12h0m0 33h0m0 5h0m0 19h0m0 29h0m0 21h0m0 6h0m0 6h0m1-595h0m0 17h0m0 9h0m0 12h0m0 5h0m0 156h0m0 50h0m0 10h0m0 91h0m0 5h0m0 66h0m0 5h0m0 47h0m1-156h0m0 67h0m0 24h0m0 9h0m0 1h0m0 6h0m0 12h0m0 12h0m0 3h0m0 34h0m0 12h0m0 7h0m1-528h0m0 3h0m0 1h0m0 3h0m0 3h0m0 11h0m0 11h0m0 63h0m0 326h0m0 70h0m0 17h0m0 57h0m0 35h0m1-115h0m0 58h0m0 72h0m0 27h0m1-573h0m0 6h0m0 2h0m0 20h0m0 7h0m0 10h0m0 21h0m0 26h0m1 188h0m0 53h0m0 14h0m0 7h0m0 7h0m0 7h0m0 31h0m0 43h0m0 50h0m1-484h0m0 27h0m0 78h0m0 9h0m0 5h0m0 23h0m0 19h0m0 3h0m0 5h0m0 24h0m0 23h0m0 29h0m0 98h0m1-365h0m0 1h0m0 2h0m0 3h0m0 3h0m0 11h0m0 26h0m0 39h0m0 61h0m0 25h0m0 78h0m0 112h0m0 122h0m1-285h0m0 1h0m0 31h0m0 24h0m0 10h0m0 12h0m0 46h0m0 32h0m0 41h0m0 3h0m0 46h0m0 7h0m0 21h0m0 21h0m0 6h0m0 16h0m0 2h0m0 10h0m0 23h0m1-209h0m0 32h0m0 3h0m0 14h0m0 13h0m0 19h0m1-351h0m0 8h0m0 6h0m0 9h0m0 22h0m0 2h0m0 7h0m0 6h0m0 10h0m0 19h0m0 57h0m0 26h0m0 18h0m0 51h0m0 21h0m0 105h0m0 86h0m0 5h0m0 16h0m0 24h0m1-301h0m0 1h0m0 8h0m0 29h0m0 14h0m0 92h0m0 20h0m0 31h0m0 4h0m0 17h0m0 45h0m1 4h0m0 4h0m0 3h0m0 2h0m0 8h0m1-75h0m0 31h0m0 18h0m0 4h0m0 4h0m0 29h0m1-397h0m0 11h0m0 4h0m0 35h0m0 18h0m0 19h0m0 30h0m0 48h0m0 21h0m1-141h0m0 13h0m0 67h0m0 17h0m0 16h0m1-130h0m0 4h0m0 8h0m0 20h0m0 10h0m0 7h0m0 39h0m0 15h0m0 4h0m0 20h0m0 59h0m1 195h0m1 5h0m0 1h0m0 1h0m0 1h0m0 8h0m1-225h0m1-162h0m0 18h0m0 24h0m0 4h0m0 9h0m0 4h0m0 3h0m0 19h0m0 4h0m0 12h0m0 4h0m0 4h0m0 3h0m0 4h0m0 3h0m0 19h0m0 44h0m1 110h0m0 10h0m0 9h0m0 8h0m1 25h0m0 8h0m0 41h0m0 3h0m0 17h0m0 4h0m1-461h0m0 42h0m0 10h0m0 77h0m0 61h0m0 4h0m0 20h0m0 14h0m0 11h0m0 15h0m0 19h0m0 10h0m0 15h0m0 171h0m1-548h0m0 3h0m0 8h0m0 3h0m0 4h0m0 11h0m0 8h0m0 19h0m0 27h0m0 7h0m0 5h0m0 13h0m0 7h0m0 4h0m0 4h0m0 8h0m0 2h0m0 3h0m0 6h0m0 2h0m0 5h0m0 4h0m0 5h0m0 4h0m0 2h0m0 9h0m0 12h0m0 4h0m0 2h0m1 27h0m0 14h0m0 22h0m0 16h0m0 10h0m0 3h0m0 12h0m0 77h0m0 77h0m1-64h0m0 12h0m0 113h0m0 10h0m0 11h0m1-207h0m0 14h0m0 61h0m0 5h0m0 57h0m0 22h0m0 5h0m0 9h0m0 4h0m1-118h0m0 30h0m0 41h0m0 1h0m1-147h0m0 35h0m0 6h0m0 28h0m0 13h0m0 143h0m1-305h0m0 23h0m0 47h0m1 13h0m1-204h0m0 32h0m0 32h0m0 64h0m1-104h0m0 14h0m0 48h0m0 3h0m0 3h0m0 33h0m0 2h0m0 9h0m0 3h0m0 14h0m0 5h0m1-329h0m0 11h0m0 4h0m0 3h0m0 2h0m0 10h0m0 17h0m0 6h0m0 74h0m0 11h0m0 3h0m0 4h0m0 14h0m0 20h0m0 5h0m0 39h0m0 12h0m0 368h0m0 16h0m1-381h0m0 31h0m0 355h0m1-511h0m0 3h0m0 9h0m0 26h0m0 3h0m0 5h0m0 4h0m0 5h0m0 10h0m0 20h0m0 62h0m0 13h0m1-21h0m0 20h0m1 132h0m0 116h0m0 32h0m0 24h0m1-184h0m0 200h0m1-93h0m0 6h0m0 17h0m0 18h0m0 6h0m0 28h0m1-578h0m0 27h0m0 20h0m0 13h0m0 12h0m0 63h0m0 105h0m0 32h0m0 10h0m0 22h0m0 14h0m0 9h0m0 8h0m0 11h0m0 69h0m0 30h0m0 87h0m1-125h0m0 71h0m0 11h0m0 50h0m0 38h0m0 14h0m0 17h0m1-438h0m0 3h0m0 3h0m0 3h0m0 19h0m0 18h0m0 5h0m0 44h0m0 12h0m0 10h0m0 17h0m0 52h0m0 13h0m0 54h0m0 29h0m0 18h0m0 16h0m1-28h0m0 92h0m0 18h0m0 44h0m0 14h0m0 8h0m1-448h0m0 15h0m0 13h0m0 13h0m0 13h0m0 5h0m0 11h0m0 9h0m0 9h0m0 30h0m0 10h0m0 26h0m0 22h0m0 202h0m0 53h0m0 7h0m0 10h0m1-343h0m0 73h0m0 15h0m0 52h0m0 7h0m0 76h0m0 5h0m1-51h0m0 27h0m0 83h0m1-138h0m0 5h0m0 71h0m0 34h0m0 7h0m0 27h0m0 4h0m0 2h0m0 8h0m1-196h0m0 54h0m0 5h0m0 7h0m0 30h0m0 34h0m0 8h0m0 25h0m0 13h0m0 6h0m0 32h0m1-151h0m0 17h0m0 7h0m0 13h0m1-122h0m0 4h0m0 13h0m0 42h0m0 6h0m0 27h0m0 37h0m0 61h0m0 8h0m0 23h0m0 6h0m1-427h0m0 17h0m0 16h0m0 6h0m0 19h0m0 13h0m0 17h0m0 15h0m0 35h0m0 9h0m0 1h0m0 21h0m0 3h0m0 13h0m0 41h0m0 22h0m0 19h0m0 70h0m0 71h0m0 28h0m1-475h0m0 12h0m0 10h0m0 5h0m0 6h0m0 11h0m0 19h0m0 6h0m0 16h0m0 12h0m0 28h0m0 30h0m0 14h0m0 45h0m0 172h0m0 81h0m0 30h0m1-478h0m0 29h0m0 32h0m0 22h0m0 5h0m0 4h0m0 4h0m0 25h0m0 40h0m0 17h0m0 36h0m0 2h0m0 55h0m1-421h0m0 33h0m0 13h0m0 14h0m0 50h0m0 17h0m0 4h0m0 3h0m0 20h0m0 3h0m0 14h0m0 17h0m0 15h0m0 1h0m0 7h0m0 14h0m0 31h0m1-313h0m0 17h0m0 13h0m0 10h0m0 10h0m0 15h0m0 7h0m0 28h0m0 8h0m0 61h0m0 189h0m0 39h0m0 9h0m0 7h0m0 22h0m0 29h0m0 126h0m0 69h0m1-408h0m0 6h0m0 15h0m0 17h0m0 23h0m0 9h0m0 105h0m0 15h0m0 28h0m0 4h0m0 136h0m0 31h0m1-248h0m0 39h0m1-312h0m0 7h0m0 5h0m0 12h0m0 6h0m0 38h0m0 15h0m0 3h0m0 29h0m0 21h0m0 29h0m0 17h0m1 0h0m0 279h0m0 15h0m0 1h0m0 7h0m0 3h0m0 4h0m0 11h0m1-583h0m0 10h0m0 6h0m0 8h0m0 22h0m0 25h0m0 18h0m0 6h0m0 19h0m0 15h0m0 44h0m0 11h0m0 45h0m0 72h0m1-119h0m0 34h0m0 79h0m1 16h0m0 24h0m1-47h0m0 24h0m0 11h0m0 12h0m0 215h0m1 40h0m0 12h0m4-37h0m1-375h0m0 15h0m0 42h0m0 2h0m0 36h0m0 31h0m0 29h0m3-42h0m0 28h0m1 229h0m0 22h0m2-320h0m0 9h0m0 9h0m0 14h0m0 1h0m0 11h0m0 5h0m0 12h0m0 17h0m1-326h0m0 17h0m0 1h0m0 3h0m0 6h0m0 12h0m0 27h0m0 17h0m0 7h0m0 9h0m0 4h0m0 25h0m0 25h0m0 13h0m0 37h0m0 35h0m0 24h0m0 16h0m0 28h0m1-219h0m0 31h0m0 1h0m0 6h0m0 5h0m0 2h0m0 10h0m0 2h0m0 6h0m0 27h0m0 33h0m0 11h0m0 11h0m0 255h0m0 11h0m0 6h0m0 57h0m1-104h0m0 27h0m0 37h0m0 19h0m0 6h0m0 24h0m0 3h0m0 2h0m1-408h0m0 91h0m0 150h0m0 5h0m0 14h0m0 65h0m1-420h0m0 26h0m0 5h0m0 1h0m0 8h0m0 17h0m0 37h0m0 76h0m0 54h0m0 99h0m0 23h0m1-124h0m0 18h0m0 57h0m0 13h0m0 24h0m0 29h0m0 16h0m0 29h0m0 35h0m0 1h0m0 14h0m0 6h0m0 21h0m1-453h0m0 7h0m0 33h0m0 15h0m0 13h0m0 10h0m0 45h0m0 61h0m0 41h0m0 36h0m0 11h0m1-202h0m0 35h0m0 22h0m0 12h0m0 3h0m0 23h0m0 23h0m0 3h0m0 10h0m0 17h0m0 16h0m0 1h0m0 17h0m0 26h0m0 4h0m0 7h0m1-507h0m0 1h0m0 4h0m0 2h0m0 7h0m0 8h0m0 1h0m0 13h0m0 19h0m0 32h0m0 6h0m0 66h0m0 4h0m0 36h0m0 14h0m0 10h0m0 31h0m0 79h0m0 119h0m0 127h0m0 40h0m0 25h0m1-351h0m0 20h0m0 17h0m0 40h0m0 26h0m0 66h0m0 55h0m0 8h0m0 10h0m0 3h0m0 53h0m0 2h0m0 11h0m0 32h0m1-431h0m0 6h0m0 17h0m0 17h0m0 7h0m0 25h0m0 18h0m0 13h0m0 117h0m0 158h0m0 56h0m0 21h0m0 4h0m0 21h0m0 14h0m1-233h0m0 4h0m0 35h0m0 6h0m0 25h0m0 19h0m0 4h0m0 9h0m0 6h0m0 8h0m0 12h0m0 17h0m1-340h0m0 17h0m0 19h0m0 79h0m0 7h0m0 19h0m0 39h0m0 3h0m0 39h0m0 38h0m0 25h0m1-403h0m0 27h0m0 13h0m0 37h0m0 32h0m0 128h0m0 50h0m0 2h0m0 36h0m1-294h0m0 26h0m0 15h0m0 10h0m0 251h0m0 106h0m1-70h0m0 25h0m0 9h0m0 4h0m0 5h0m0 45h0m1-339h0m0 28h0m0 275h0m0 12h0m0 12h0m0 6h0m0 12h0m0 8h0m0 21h0m1-359h0m0 24h0m0 130h0m0 22h0m0 40h0m0 149h0m1-412h0m0 57h0m0 134h0m0 22h0m0 22h0m0 44h0m1-499h0m0 67h0m0 3h0m0 6h0m0 39h0m0 1h0m0 48h0m0 102h0m0 253h0m0 52h0m1-482h0m0 25h0m0 15h0m0 52h0m0 15h0m0 13h0m0 20h0m0 14h0m0 17h0m0 19h0m0 133h0m0 99h0m0 101h0m0 26h0m0 16h0m0 6h0m0 3h0m1-71h0m0 3h0m0 21h0m0 6h0m0 20h0m0 5h0m0 25h0m0 19h0m1-668h0m0 8h0m0 2h0m0 14h0m0 21h0m0 1h0m0 41h0m0 35h0m0 36h0m0 5h0m0 32h0m0 5h0m0 30h0m0 72h0m0 4h0m0 36h0m1-360h0m0 21h0m0 33h0m0 5h0m0 12h0m0 22h0m0 1h0m0 8h0m0 4h0m0 20h0m0 72h0m0 11h0m0 2h0m0 19h0m0 13h0m0 25h0m0 7h0m0 38h0m0 1h0m0 20h0m0 2h0m0 10h0m4 0h0m2 311h0m0 2h0m1-372h0m0 7h0m0 1h0m0 2h0m0 8h0m0 18h0m0 17h0m0 6h0m0 17h0m0 6h0m0 13h0m0 6h0m1 2h0m0 276h0m0 3h0m0 2h0m0 3h0m0 3h0m1-575h0m0 135h0m0 4h0m0 15h0m0 19h0m0 3h0m0 13h0m0 24h0m0 9h0m0 62h0m0 17h0m2-229h0m0 42h0m0 31h0m0 58h0m0 4h0m0 18h0m0 44h0m0 307h0m1-378h0m0 6h0m0 2h0m0 18h0m0 26h0m0 2h0m0 2h0m0 19h0m3 273h0m0 3h0m1-422h0m0 10h0m0 22h0m0 19h0m0 21h0m0 16h0m0 47h0m0 8h0m1 16h0m0 115h0m0 37h0m0 5h0m1-340h0m0 31h0m0 6h0m0 11h0m0 19h0m0 17h0m0 4h0m0 16h0m0 8h0m0 18h0m0 7h0m0 31h0m0 28h0m0 105h0m0 44h0m1-246h0m0 46h0m0 27h0m0 17h0m0 6h0m0 24h0m0 143h0m0 48h0m0 12h0m0 20h0m0 8h0m0 55h0m1-677h0m0 8h0m0 4h0m0 1h0m0 32h0m0 31h0m0 16h0m0 14h0m0 26h0m0 2h0m0 6h0m0 7h0m0 4h0m0 5h0m0 32h0m0 7h0m0 11h0m0 16h0m0 5h0m0 4h0m0 13h0m1-250h0m0 78h0m0 55h0m0 5h0m0 96h0m0 18h0m0 24h0m0 23h0m0 12h0m0 18h0m0 89h0m0 74h0m0 73h0m0 41h0m0 24h0m0 8h0m0 7h0m0 1h0m0 12h0m0 7h0m0 3h0m1-711h0m0 6h0m0 18h0m0 12h0m0 51h0m0 27h0m0 27h0m0 3h0m0 14h0m0 7h0m0 15h0m0 16h0m0 1h0m0 14h0m0 53h0m0 12h0m0 41h0m0 53h0m0 156h0m1-530h0m0 1h0m0 2h0m0 14h0m0 17h0m0 78h0m0 62h0m0 102h0m0 153h0m0 116h0m0 47h0m0 16h0m0 34h0m0 13h0m0 20h0m1-377h0m0 45h0m0 16h0m0 62h0m0 11h0m0 3h0m0 57h0m0 12h0m0 10h0m0 63h0m0 5h0m0 37h0m0 12h0m0 9h0m1-313h0m0 43h0m0 109h0m0 77h0m0 3h0m0 42h0m0 3h0m0 16h0m0 4h0m0 27h0m0 9h0m0 5h0m0 19h0m1-404h0m0 2h0m0 29h0m0 3h0m0 8h0m0 12h0m0 16h0m0 9h0m0 5h0m0 16h0m0 9h0m0 10h0m0 8h0m0 36h0m0 3h0m0 19h0m0 2h0m0 17h0m0 29h0m0 82h0m1-545h0m0 10h0m0 9h0m0 10h0m0 5h0m0 13h0m0 20h0m0 54h0m0 9h0m0 40h0m0 44h0m0 28h0m0 21h0m0 111h0m0 112h0m0 31h0m0 8h0m0 80h0m1-522h0m0 31h0m0 4h0m0 5h0m0 1h0m0 20h0m0 12h0m0 29h0m0 1h0m0 10h0m0 1h0m0 11h0m0 6h0m0 10h0m0 4h0m0 2h0m0 22h0m0 13h0m0 59h0m1-303h0m0 11h0m0 25h0m0 20h0m0 18h0m0 4h0m0 41h0m0 33h0m0 26h0m0 204h0m0 3h0m0 71h0m0 88h0m0 69h0m0 16h0m1-278h0m0 34h0m0 15h0m0 2h0m0 1h0m0 11h0m0 15h0m0 19h0m0 7h0m0 28h0m0 3h0m0 5h0m0 25h0m0 49h0m1-335h0m0 4h0m0 9h0m0 20h0m0 5h0m0 140h0m0 49h0m0 15h0m0 49h0m0 36h0m1-543h0m0 17h0m0 4h0m0 14h0m0 18h0m0 10h0m0 5h0m0 1h0m0 1h0m0 14h0m0 6h0m0 17h0m0 24h0m0 20h0m0 56h0m0 12h0m0 42h0m0 8h0m0 104h0m1-45h0m0 4h0m0 42h0m0 19h0m0 27h0m0 21h0m0 6h0m0 30h0m0 27h0m0 19h0m0 16h0m0 46h0m1-124h0m0 14h0m0 8h0m0 12h0m0 26h0m0 27h0m0 12h0m0 12h0m0 28h0m1-418h0m0 5h0m0 9h0m0 3h0m0 11h0m0 37h0m0 51h0m0 87h0m0 23h0m0 80h0m0 23h0m0 55h0m0 4h0m1-384h0m0 18h0m0 21h0m0 46h0m0 38h0m0 3h0m0 92h0m0 24h0m0 122h0m1-115h0m0 41h0m0 62h0m0 53h0m0 12h0m1-194h0m0 42h0m0 36h0m0 47h0m0 43h0m0 6h0m1-206h0m0 32h0m0 29h0m1 21h0m0 115h0m0 19h0m0 1h0m0 2h0m1-366h0m0 362h0m1-10h0m1-372h0m1-37h0m0 13h0m0 6h0m0 2h0m0 5h0m0 14h0m3-163h0m0 1h0m0 3h0m0 1h0m0 3h0m0 5h0m0 9h0m0 3h0m0 6h0m0 1h0m0 7h0m0 7h0m0 12h0m0 10h0m0 20h0m0 5h0m0 10h0m0 19h0m0 11h0m0 21h0m0 16h0m1 360h0m1-14h0m0 8h0m1-368h0m0 7h0m0 11h0m1 363h0m0 14h0m1-411h0m0 32h0m1 358h0m0 16h0m0 12h0m1-463h0m0 14h0m0 4h0m0 8h0m0 21h0m0 33h0m1-35h0m0 4h0m0 8h0m0 53h0m0 52h0m1 14h0m1-111h0m0 18h0m0 18h0m0 6h0m0 39h0m1 6h0m1-248h0m0 15h0m0 28h0m0 2h0m0 21h0m0 6h0m0 7h0m0 48h0m0 10h0m0 8h0m0 13h0m0 1h0m0 20h0m0 17h0m0 34h0m0 21h0m1-43h0m0 18h0m0 9h0m0 13h0m0 32h0m0 237h0m0 2h0m1 9h0m0 8h0m1-15h0m1 14h0m1-322h0m0 77h0m0 255h0m1-373h0m0 13h0m0 7h0m0 26h0m0 12h0m0 25h0m0 39h0m0 10h0m1 5h0m0 248h0m1-497h0m0 1h0m0 25h0m0 1h0m0 22h0m0 23h0m0 27h0m0 20h0m0 69h0m0 10h0m0 6h0m1-89h0m0 2h0m0 13h0m0 2h0m0 20h0m0 18h0m0 20h0m0 9h0m0 15h0m0 42h0m0 11h0m0 10h0m1-388h0m0 5h0m0 7h0m0 6h0m0 15h0m0 2h0m0 10h0m0 6h0m0 1h0m0 7h0m0 4h0m0 15h0m0 3h0m0 24h0m0 14h0m0 8h0m0 14h0m0 1h0m0 8h0m0 20h0m0 48h0m0 13h0m0 25h0m0 34h0m0 20h0m0 24h0m1 236h0m0 8h0m0 27h0m0 12h0m0 1h0m1-291h0m0 52h0m1 235h0m2-373h0m0 34h0m0 293h0m0 20h0m1-373h0m0 2h0m0 27h0m0 12h0m1 330h0m0 7h0m0 7h0m0 1h0m3-497h0m0 11h0m0 10h0m0 19h0m0 26h0m0 10h0m0 11h0m0 1h0m0 18h0m0 3h0m0 44h0m1-254h0m0 5h0m0 2h0m0 17h0m0 6h0m0 15h0m0 7h0m0 40h0m0 4h0m0 38h0m0 9h0m0 38h0m0 52h0m0 15h0m0 327h0m0 33h0m1-484h0m0 7h0m0 10h0m0 12h0m0 12h0m0 1h0m0 6h0m0 27h0m0 4h0m0 16h0m0 400h0m1-26h0m1-400h0m0 55h0m0 4h0m1-148h0m0 29h0m0 17h0m0 61h0m0 12h0m0 15h0m0 13h0m0 3h0m3-90h0m0 22h0m0 8h0m0 10h0m0 52h0m0 323h0m0 18h0m0 8h0m2-21h0m2-503h0m0 18h0m0 4h0m0 19h0m0 3h0m0 14h0m0 1h0m0 25h0m0 51h0m0 15h0m0 371h0m1-473h0m0 47h0m0 59h0m0 31h0m1-22h0m0 7h0m1-243h0m0 22h0m0 15h0m0 11h0m0 1h0m0 1h0m0 22h0m0 10h0m0 35h0m0 28h0m0 32h0m0 9h0m0 27h0m0 43h0m0 328h0m0 1h0m0 2h0m0 18h0m1-627h0m0 4h0m0 17h0m0 21h0m0 2h0m0 3h0m0 8h0m0 26h0m0 54h0m0 11h0m0 31h0m0 15h0m0 16h0m0 22h0m1 412h0m1-359h0m0 5h0m2-229h0m0 7h0m0 11h0m0 9h0m0 2h0m0 21h0m0 19h0m0 38h0m0 31h0m0 8h0m0 12h0m0 4h0m0 15h0m0 4h0m0 17h0m0 12h0m0 33h0m1-171h0m0 16h0m0 10h0m0 18h0m0 33h0m0 10h0m0 3h0m0 2h0m0 9h0m0 13h0m0 3h0m0 23h0m1 338h0m1-354h0m0 3h0m0 7h0m0 11h0m0 8h0m1-45h0m0 27h0m0 18h0m1-25h0m0 15h0m0 8h0m0 1h0m0 18h0m2 1h0m1 244h0m0 70h0m1-480h0m0 5h0m0 2h0m0 13h0m0 24h0m0 19h0m0 5h0m0 40h0m0 18h0m0 4h0m0 10h0m0 4h0m0 3h0m1-123h0m0 10h0m0 7h0m0 14h0m0 22h0m0 1h0m0 14h0m0 2h0m0 8h0m0 11h0m0 10h0m0 232h0m0 39h0m1-475h0m0 3h0m0 3h0m0 1h0m0 7h0m0 1h0m0 5h0m0 2h0m0 19h0m0 12h0m0 52h0m0 365h0m0 25h0m1-425h0m0 7h0m0 1h0m0 18h0m0 44h0m0 51h0m0 42h0m1-121h0m0 64h0m0 273h0m0 10h0m0 5h0m0 58h0m0 22h0m0 18h0m0 9h0m0 1h0m0 1h0m0 12h0m0 6h0m0 3h0m0 7h0m1-164h0m0 49h0m0 17h0m0 7h0m0 41h0m0 53h0m1-482h0m0 13h0m0 33h0m0 14h0m0 51h0m0 7h0m1-3h0m0 215h0m0 129h0m1-528h0m0 22h0m0 2h0m0 2h0m0 4h0m0 22h0m0 110h0m0 260h0m0 55h0m0 7h0m0 11h0m0 14h0m1-45h0m0 33h0m1-437h0m1 331h0m0 8h0m0 3h0m0 49h0m1-32h0m1-57h0m0 9h0m1-32h0m0 94h0m0 11h0m0 6h0m0 13h0m0 6h0m0 13h0m1-492h0m0 11h0m0 5h0m0 30h0m0 5h0m0 21h0m0 157h0m0 165h0m0 25h0m0 98h0m1-629h0m0 45h0m0 10h0m0 45h0m0 69h0m0 204h0m0 3h0m0 82h0m0 14h0m0 53h0m0 10h0m0 10h0m0 12h0m0 74h0m1-683h0m0 4h0m0 1h0m0 5h0m0 11h0m0 14h0m0 20h0m0 4h0m0 11h0m0 27h0m0 19h0m0 54h0m0 100h0m0 42h0m0 61h0m0 28h0m1-372h0m0 12h0m0 10h0m0 13h0m0 2h0m0 4h0m0 9h0m0 6h0m0 12h0m0 8h0m0 28h0m0 22h0m0 4h0m0 14h0m0 62h0m0 8h0m0 2h0m0 20h0m0 9h0m0 14h0m0 4h0m0 17h0m0 6h0m0 14h0m1-237h0m0 29h0m0 38h0m0 55h0m0 36h0m0 2h0m0 10h0m0 72h0m0 32h0m0 78h0m0 25h0m0 14h0m0 45h0m0 74h0m0 29h0m0 11h0m0 56h0m1-607h0m0 15h0m0 3h0m0 32h0m0 39h0m0 17h0m0 43h0m0 76h0m0 7h0m0 20h0m0 8h0m0 77h0m0 11h0m0 12h0m0 118h0m1-220h0m0 19h0m0 15h0m0 10h0m0 61h0m0 12h0m0 28h0m0 8h0m0 9h0m0 26h0m0 6h0m0 5h0m0 14h0m0 1h0m0 28h0m0 21h0m0 8h0m0 28h0m0 2h0m0 2h0m1-631h0m0 2h0m0 13h0m0 50h0m0 66h0m0 16h0m0 36h0m0 83h0m0 22h0m0 91h0m0 9h0m0 9h0m0 28h0m0 17h0m0 34h0m0 31h0m1-501h0m0 3h0m0 12h0m0 4h0m0 19h0m0 4h0m0 23h0m0 4h0m0 19h0m0 19h0m0 2h0m0 54h0m0 81h0m0 7h0m0 65h0m0 20h0m0 76h0m0 96h0m0 20h0m0 75h0m0 10h0m1-630h0m0 5h0m0 4h0m0 20h0m0 13h0m0 55h0m0 29h0m0 13h0m0 12h0m0 5h0m0 32h0m0 15h0m0 1h0m0 9h0m0 9h0m0 11h0m0 58h0m0 1h0m0 18h0m0 56h0m0 57h0m0 32h0m0 29h0m1-461h0m0 46h0m0 35h0m0 193h0m0 128h0m0 19h0m0 24h0m0 5h0m0 87h0m0 1h0m0 29h0m0 9h0m0 52h0m1-429h0m0 68h0m0 57h0m0 28h0m0 37h0m0 29h0m0 68h0m0 27h0m0 8h0m1-401h0m0 21h0m0 21h0m0 11h0m0 4h0m0 21h0m0 17h0m0 8h0m0 21h0m0 2h0m0 69h0m0 216h0m0 34h0m1-307h0m0 14h0m0 25h0m0 23h0m0 116h0m0 8h0m0 10h0m0 29h0m0 61h0m0 2h0m0 6h0m0 4h0m1-227h0m0 22h0m0 22h0m0 88h0m0 11h0m0 7h0m0 11h0m0 60h0m0 26h0m1-275h0m0 122h0m0 163h0m1-375h0m0 78h0m0 14h0m1-216h0m0 9h0m0 34h0m0 22h0m0 42h0m0 17h0m0 6h0m0 51h0m1-73h0m1 30h0m0 32h0m0 25h0m1-87h0m0 17h0m0 4h0m0 22h0m0 15h0m0 26h0m0 5h0m0 307h0m0 4h0m0 19h0m0 1h0m0 3h0m1-22h0m0 28h0m1-230h0m0 83h0m0 12h0m1-220h0m0 9h0m0 107h0m0 18h0m0 38h0m1-32h0m0 69h0m0 4h0m1-440h0m0 1h0m0 13h0m0 3h0m0 3h0m0 12h0m0 24h0m0 29h0m0 4h0m0 22h0m0 74h0m0 15h0m0 22h0m0 244h0m0 7h0m0 33h0m0 29h0m0 4h0m1-502h0m0 54h0m0 24h0m0 3h0m0 45h0m0 4h0m0 189h0m0 3h0m0 22h0m0 14h0m1-264h0m0 31h0m0 4h0m0 223h0m0 35h0m0 6h0m0 14h0m0 3h0m0 38h0m0 29h0m0 1h0m0 2h0m1-392h0m0 18h0m0 6h0m0 1h0m0 24h0m0 8h0m0 159h0m0 24h0m0 64h0m0 27h0m0 17h0m0 23h0m1-431h0m0 37h0m0 3h0m0 5h0m0 24h0m0 17h0m0 190h0m0 33h0m0 44h0m0 24h0m0 67h0m1-367h0m0 69h0m0 153h0m0 20h0m0 5h0m0 101h0m0 30h0m0 8h0m0 1h0m0 5h0m0 7h0m1-599h0m0 3h0m0 9h0m0 6h0m0 4h0m0 14h0m0 2h0m0 42h0m0 10h0m0 75h0m0 100h0m0 162h0m0 9h0m0 24h0m0 45h0m0 15h0m0 30h0m0 12h0m1-96h0m0 2h0m0 6h0m0 35h0m0 32h0m0 2h0m0 41h0m0 18h0m0 5h0m0 2h0m0 14h0m1-540h0m0 3h0m0 9h0m0 31h0m0 5h0m0 5h0m0 11h0m0 3h0m0 96h0m0 24h0m0 222h0m0 36h0m1-506h0m0 2h0m0 50h0m0 58h0m0 7h0m0 49h0m0 5h0m0 19h0m0 10h0m0 20h0m0 10h0m0 229h0m1-478h0m0 5h0m0 5h0m0 61h0m0 44h0m0 43h0m0 45h0m0 206h0m0 22h0m0 100h0m0 54h0m0 13h0m0 22h0m0 16h0m0 3h0m0 2h0m0 1h0m0 10h0m0 22h0m1-694h0m0 2h0m0 3h0m0 16h0m0 2h0m0 12h0m0 20h0m0 3h0m0 63h0m0 2h0m0 70h0m0 56h0m0 190h0m0 26h0m0 8h0m0 62h0m0 10h0m0 41h0m0 11h0m1-402h0m0 41h0m0 16h0m0 15h0m0 212h0m0 40h0m0 64h0m0 31h0m0 12h0m1-522h0m0 26h0m0 2h0m0 16h0m0 48h0m0 11h0m0 14h0m0 20h0m0 11h0m0 193h0m0 8h0m0 58h0m0 31h0m0 22h0m0 11h0m0 16h0m0 15h0m1-191h0m0 7h0m0 28h0m0 2h0m0 12h0m0 12h0m0 26h0m1-374h0m0 2h0m0 4h0m0 34h0m0 6h0m0 98h0m0 179h0m0 17h0m0 1h0m0 4h0m0 13h0m0 39h0m1-294h0m0 189h0m0 42h0m0 33h0m0 3h0m0 34h0m0 13h0m0 26h0m1-529h0m0 30h0m0 36h0m0 8h0m0 1h0m0 56h0m0 110h0m0 268h0m1-483h0m0 23h0m0 5h0m0 29h0m0 1h0m0 9h0m0 25h0m0 12h0m0 35h0m0 29h0m0 43h0m0 168h0m0 9h0m0 95h0m1-125h0m0 11h0m0 5h0m0 37h0m0 28h0m0 12h0m0 30h0m0 22h0m0 49h0m0 19h0m0 17h0m0 4h0m0 15h0m1-355h0m0 14h0m0 35h0m0 8h0m0 191h0m1-275h0m0 5h0m0 19h0m0 32h0m0 6h0m0 22h0m0 233h0m0 19h0m0 15h0m0 7h0m0 1h0m0 8h0m0 6h0m0 1h0m0 9h0m0 26h0m1-704h0m0 2h0m0 10h0m0 36h0m0 4h0m0 14h0m0 3h0m0 63h0m0 20h0m0 68h0m0 32h0m0 46h0m0 13h0m0 22h0m0 23h0m0 280h0m1-377h0m0 20h0m0 12h0m0 51h0m0 122h0m0 6h0m0 5h0m0 8h0m0 15h0m0 20h0m0 28h0m1-515h0m0 16h0m0 51h0m0 46h0m0 67h0m0 53h0m0 11h0m0 89h0m0 46h0m0 45h0m0 81h0m0 19h0m0 38h0m0 9h0m0 24h0m0 2h0m1-602h0m0 2h0m0 3h0m0 4h0m0 3h0m0 7h0m0 32h0m0 14h0m0 12h0m0 140h0m0 62h0m0 8h0m0 73h0m0 106h0m0 7h0m0 60h0m0 63h0m1-121h0m0 10h0m0 17h0m0 24h0m0 23h0m0 8h0m0 8h0m0 21h0m0 11h0m0 8h0m0 11h0m0 2h0m0 14h0m0 17h0m1-613h0m0 1h0m0 6h0m0 4h0m0 6h0m0 4h0m0 42h0m0 34h0m0 56h0m0 4h0m0 6h0m0 1h0m0 53h0m0 52h0m0 95h0m0 14h0m0 62h0m0 22h0m0 60h0m0 47h0m0 2h0m0 18h0m1-566h0m0 29h0m0 31h0m0 46h0m0 31h0m0 20h0m0 30h0m0 27h0m0 28h0m0 99h0m0 19h0m0 120h0m0 10h0m0 27h0m0 69h0m0 12h0m0 4h0m0 11h0m1-588h0m0 8h0m0 32h0m0 5h0m0 5h0m0 10h0m0 11h0m0 6h0m0 9h0m0 1h0m0 28h0m0 20h0m0 4h0m0 17h0m0 12h0m0 7h0m0 56h0m0 52h0m0 60h0m0 20h0m0 26h0m0 82h0m0 61h0m1-338h0m0 53h0m0 35h0m0 21h0m0 24h0m0 13h0m0 9h0m0 76h0m0 7h0m0 15h0m0 10h0m0 30h0m1-478h0m0 13h0m0 68h0m0 4h0m0 46h0m0 41h0m0 26h0m0 26h0m0 5h0m0 36h0m0 15h0m0 1h0m0 19h0m0 1h0m0 10h0m0 25h0m0 89h0m0 98h0m0 35h0m1-634h0m0 18h0m0 2h0m0 6h0m0 7h0m0 2h0m0 25h0m0 54h0m0 34h0m0 59h0m0 163h0m0 54h0m0 13h0m0 15h0m0 16h0m0 9h0m0 42h0m1-392h0m0 11h0m0 27h0m0 8h0m0 17h0m0 14h0m0 29h0m0 11h0m0 9h0m0 6h0m0 10h0m0 30h0m0 7h0m0 76h0m0 15h0m0 1h0m0 13h0m0 31h0m0 97h0m0 43h0m1-249h0m0 3h0m0 11h0m0 9h0m0 4h0m0 44h0m0 9h0m0 6h0m0 80h0m0 34h0m0 40h0m1-147h0m0 16h0m0 12h0m0 36h0m0 17h0m0 18h0m0 33h0m0 6h0m0 27h0m0 6h0m0 58h0m1-371h0m0 15h0m0 20h0m0 17h0m0 29h0m0 9h0m0 30h0m0 181h0m0 25h0m0 31h0m1-611h0m0 19h0m0 6h0m0 41h0m0 42h0m0 17h0m0 60h0m0 50h0m0 28h0m0 25h0m0 27h0m0 96h0m0 24h0m0 3h0m0 12h0m1-405h0m0 3h0m0 7h0m0 15h0m0 1h0m0 21h0m0 3h0m0 6h0m0 15h0m0 30h0m0 23h0m0 99h0m0 16h0m0 34h0m0 41h0m0 8h0m0 55h0m1-387h0m0 39h0m0 8h0m0 5h0m0 15h0m0 4h0m0 18h0m0 11h0m0 32h0m0 27h0m0 20h0m0 88h0m0 58h0m0 46h0m0 71h0m0 4h0m0 9h0m1-110h0m0 11h0m0 17h0m0 51h0m0 12h0m0 21h0m0 10h0m0 12h0m0 64h0m1-437h0m0 208h0m0 35h0m0 42h0m0 85h0m0 9h0m0 23h0m0 9h0m0 27h0m0 18h0m1-571h0m0 2h0m0 19h0m0 15h0m0 1h0m0 22h0m0 26h0m0 6h0m0 21h0m0 14h0m0 7h0m0 141h0m0 5h0m0 92h0m0 128h0m1-179h0m1-437h0m0 1h0m0 2h0m0 7h0m0 2h0m0 14h0m0 13h0m0 13h0m0 3h0m0 1h0m0 80h0m0 18h0m0 8h0m0 49h0m0 23h0m0 25h0m0 128h0m0 128h0m1-240h0m0 374h0m0 15h0m0 12h0m0 4h0m0 13h0m0 3h0m0 2h0m0 6h0m2-639h0m0 8h0m0 5h0m0 24h0m0 30h0m0 16h0m0 31h0m0 10h0m1 61h0m0 11h0m0 13h0m0 5h0m0 1h0m0 12h0m0 9h0m1-61h0m0 16h0m0 392h0m0 18h0m0 28h0m1-663h0m0 15h0m0 8h0m0 27h0m0 16h0m0 4h0m0 27h0m0 29h0m0 5h0m0 23h0m0 39h0m0 58h0m0 33h0m1-138h0m0 17h0m0 13h0m0 5h0m0 38h0m0 27h0m0 25h0m0 2h0m0 9h0m1 309h0m0 19h0m1-301h0m0 312h0m1-14h0m0 44h0m1-335h0m0 46h0m0 132h0m0 92h0m0 3h0m0 27h0m1-274h0m0 17h0m0 26h0m0 4h0m0 4h0m0 36h0m0 7h0m0 5h0m0 7h0m0 15h0m0 6h0m0 15h0m1-545h0m0 5h0m0 6h0m0 1h0m0 10h0m0 2h0m0 1h0m0 5h0m0 5h0m0 17h0m0 41h0m0 26h0m0 8h0m0 8h0m0 32h0m0 32h0m0 67h0m0 1h0m0 14h0m0 1h0m0 66h0m0 7h0m0 19h0m0 25h0m0 57h0m0 121h0m1-219h0m0 25h0m0 12h0m0 8h0m0 12h0m0 4h0m0 3h0m0 12h0m0 36h0m0 7h0m0 50h0m0 117h0m0 45h0m0 26h0m1-521h0m0 34h0m0 7h0m0 10h0m0 2h0m0 11h0m0 12h0m0 20h0m0 8h0m0 6h0m0 12h0m0 8h0m0 10h0m0 72h0m0 77h0m0 84h0m0 33h0m0 63h0m0 13h0m0 10h0m0 59h0m1-673h0m0 2h0m0 2h0m0 5h0m0 1h0m0 1h0m0 6h0m0 2h0m0 6h0m0 3h0m0 7h0m0 26h0m0 13h0m0 2h0m0 2h0m0 8h0m0 9h0m0 21h0m0 42h0m0 1h0m0 279h0m0 179h0m1-611h0m0 39h0m0 6h0m0 75h0m0 40h0m0 26h0m0 21h0m0 19h0m0 36h0m0 4h0m0 6h0m0 93h0m0 48h0m0 60h0m0 40h0m0 27h0m0 37h0m0 35h0m0 63h0m1-710h0m0 3h0m0 7h0m0 5h0m0 3h0m0 3h0m0 7h0m0 27h0m0 42h0m0 5h0m0 66h0m0 12h0m0 102h0m0 9h0m0 32h0m0 30h0m0 2h0m0 8h0m0 7h0m0 18h0m0 64h0m0 66h0m0 23h0m1-378h0m0 11h0m0 32h0m0 20h0m0 51h0m0 11h0m0 54h0m0 65h0m0 12h0m0 3h0m0 8h0m0 42h0m0 20h0m0 3h0m0 17h0m0 61h0m0 98h0m0 9h0m0 14h0m1-538h0m0 27h0m0 86h0m0 53h0m0 124h0m0 33h0m0 20h0m0 55h0m0 39h0m0 10h0m0 34h0m0 7h0m0 13h0m0 24h0m0 25h0m1-488h0m0 10h0m0 79h0m0 17h0m0 49h0m0 28h0m0 61h0m0 61h0m0 1h0m0 44h0m0 16h0m0 2h0m0 29h0m0 7h0m0 9h0m0 10h0m0 5h0m0 2h0m1-234h0m0 37h0m0 50h0m0 31h0m0 30h0m0 3h0m0 20h0m0 7h0m0 3h0m0 16h0m0 22h0m0 12h0m0 18h0m1-328h0m0 61h0m0 14h0m0 2h0m0 46h0m0 50h0m0 29h0m0 12h0m0 12h0m0 21h0m0 34h0m1-422h0m0 10h0m0 142h0m0 35h0m0 60h0m0 41h0m0 69h0m0 14h0m0 16h0m0 32h0m0 2h0m1-250h0m0 18h0m0 8h0m0 31h0m0 7h0m0 6h0m0 33h0m0 31h0m0 8h0m0 7h0m0 34h0m0 47h0m0 50h0m1-294h0m0 39h0m0 26h0m0 65h0m0 13h0m0 2h0m0 81h0m0 23h0m0 3h0m0 34h0m1-634h0m0 9h0m0 11h0m0 14h0m0 18h0m0 15h0m0 69h0m0 4h0m0 24h0m0 26h0m0 25h0m0 328h0m0 21h0m0 18h0m1-487h0m0 5h0m0 4h0m0 30h0m0 2h0m0 22h0m0 22h0m0 15h0m0 318h0m0 8h0m0 58h0m0 40h0m0 39h0m1-497h0m0 15h0m0 11h0m0 16h0m0 329h0m0 67h0m0 24h0m0 16h0m0 42h0m0 5h0m0 13h0m0 19h0m1-676h0m0 14h0m0 26h0m0 2h0m0 14h0m0 5h0m0 13h0m0 11h0m0 26h0m0 4h0m0 54h0m0 6h0m0 57h0m0 21h0m0 228h0m1-300h0m0 5h0m0 16h0m0 239h0m1-492h0m0 4h0m0 3h0m0 2h0m0 1h0m0 7h0m0 7h0m0 4h0m0 36h0m0 8h0m0 24h0m0 3h0m0 11h0m0 15h0m0 10h0m0 8h0m0 27h0m0 8h0m0 111h0m0 258h0m0 36h0m0 8h0m1-35h0m0 22h0m0 40h0m0 7h0m0 2h0m0 27h0m0 16h0m0 4h0m0 16h0m1-717h0m0 1h0m0 8h0m0 56h0m0 72h0m0 133h0m0 24h0m0 297h0m0 12h0m0 14h0m0 25h0m0 2h0m0 3h0m0 13h0m0 6h0m1-663h0m0 5h0m0 12h0m0 33h0m0 16h0m0 14h0m0 51h0m0 13h0m0 38h0m0 34h0m0 10h0m0 18h0m0 71h0m0 25h0m1-244h0m0 53h0m0 15h0m0 69h0m0 62h0m0 8h0m0 21h0m1 220h0m0 16h0m0 34h0m0 26h0m0 38h0m1-630h0m0 66h0m0 34h0m0 13h0m0 93h0m0 50h0m0 283h0m0 6h0m1-569h0m0 11h0m0 67h0m0 101h0m0 81h0m0 8h0m0 65h0m0 249h0m0 3h0m0 6h0m0 25h0m0 1h0m0 19h0m1-489h0m0 23h0m0 30h0m0 6h0m0 13h0m0 53h0m0 1h0m0 9h0m0 2h0m0 4h0m0 17h0m0 3h0m0 16h0m0 244h0m0 36h0m0 6h0m0 9h0m1-516h0m0 8h0m0 11h0m0 55h0m0 21h0m0 14h0m0 1h0m0 24h0m0 4h0m0 328h0m0 69h0m0 22h0m0 32h0m1-465h0m0 317h0m0 29h0m0 24h0m0 10h0m0 17h0m0 1h0m0 10h0m0 45h0m0 9h0m1-536h0m0 14h0m0 22h0m0 70h0m0 25h0m0 268h0m0 35h0m0 48h0m0 9h0m2-463h0m0 21h0m0 19h0m0 10h0m0 12h0m0 3h0m0 12h0m1 393h0m0 18h0m0 36h0m0 3h0m0 29h0m1-666h0m0 5h0m0 24h0m0 3h0m0 20h0m0 58h0m0 4h0m0 34h0m0 8h0m0 26h0m0 47h0m0 1h0m0 40h0m1-324h0m0 4h0m0 4h0m0 3h0m0 6h0m0 15h0m0 38h0m0 5h0m0 27h0m0 13h0m0 11h0m0 24h0m0 4h0m0 22h0m0 15h0m0 2h0m0 10h0m0 21h0m0 4h0m0 12h0m0 1h0m0 18h0m0 3h0m1-93h0m0 52h0m0 45h0m0 12h0m0 14h0m0 5h0m0 304h0m0 72h0m0 12h0m0 7h0m0 14h0m1-96h0m0 13h0m0 33h0m0 10h0m0 36h0m1-185h0m0 8h0m1-561h0m0 2h0m0 3h0m0 3h0m0 5h0m0 36h0m0 10h0m0 7h0m0 6h0m0 39h0m0 58h0m0 8h0m0 43h0m0 79h0m0 13h0m0 16h0m0 59h0m0 227h0m0 36h0m0 13h0m0 47h0m1-387h0m0 20h0m0 15h0m0 9h0m0 2h0m0 20h0m0 41h0m0 59h0m0 59h0m0 136h0m0 4h0m1-553h0m0 3h0m0 15h0m0 81h0m0 16h0m0 15h0m0 59h0m0 48h0m0 18h0m0 47h0m0 34h0m0 16h0m0 19h0m0 145h0m0 53h0m1-423h0m0 70h0m0 1h0m0 41h0m0 1h0m0 29h0m0 18h0m0 26h0m0 11h0m0 12h0m1-341h0m0 19h0m0 23h0m0 1h0m0 10h0m0 5h0m0 20h0m0 59h0m0 2h0m0 20h0m0 4h0m0 13h0m0 43h0m0 32h0m0 8h0m0 6h0m0 16h0m0 5h0m0 14h0m0 66h0m0 58h0m1 30h0m0 14h0m0 11h0m0 32h0m0 7h0m0 4h0m0 1h0m0 1h0m0 3h0m0 1h0m0 20h0m0 8h0m1-170h0m0 28h0m0 17h0m0 7h0m0 6h0m0 1h0m0 10h0m0 19h0m0 16h0m0 2h0m0 68h0m0 11h0m1-564h0m0 6h0m0 3h0m0 52h0m0 5h0m0 9h0m0 9h0m0 5h0m0 5h0m0 5h0m0 23h0m0 40h0m0 28h0m0 11h0m0 6h0m0 38h0m0 56h0m0 45h0m0 5h0m0 54h0m0 12h0m0 43h0m0 17h0m1-32h0m0 41h0m0 22h0m0 27h0m0 28h0m0 5h0m0 11h0m0 8h0m1-198h0m0 9h0m0 108h0m0 10h0m0 3h0m0 39h0m1-285h0m0 53h0m0 42h0m1-4h0m1-67h0m0 31h0m0 10h0m1-18h0m1-65h0m0 19h0m0 331h0m1-343h0m0 32h0m0 13h0m0 270h0m2-300h0m0 9h0m1-354h0m0 9h0m0 10h0m0 8h0m0 15h0m0 14h0m0 13h0m0 22h0m0 8h0m0 2h0m0 3h0m0 18h0m0 43h0m0 14h0m0 13h0m0 6h0m0 20h0m0 27h0m0 15h0m0 23h0m0 39h0m0 18h0m0 17h0m0 25h0m0 21h0m1-307h0m0 13h0m0 10h0m0 8h0m0 56h0m0 40h0m0 41h0m0 39h0m0 50h0m0 48h0m1-216h0m0 34h0m0 14h0m0 21h0m0 2h0m0 4h0m0 16h0m0 22h0m0 3h0m0 11h0m0 53h0m1-14h0m0 17h0m0 15h0m0 8h0m0 298h0m1-491h0m0 18h0m0 4h0m0 3h0m0 3h0m0 3h0m0 3h0m0 23h0m0 30h0m0 15h0m0 69h0m0 137h0m0 45h0m0 21h0m1-304h0m0 61h0m0 12h0m0 188h0m0 17h0m0 11h0m0 6h0m0 3h0m0 65h0m1-249h0m0 13h0m0 64h0m0 44h0m0 15h0m0 34h0m0 65h0m0 33h0m0 2h0m1-499h0m0 1h0m0 31h0m0 8h0m0 3h0m0 18h0m0 11h0m0 14h0m0 7h0m0 21h0m0 12h0m0 7h0m0 8h0m0 21h0m0 9h0m0 8h0m0 2h0m0 46h0m1 93h0m0 16h0m0 18h0m0 14h0m0 24h0m0 18h0m0 7h0m0 12h0m0 5h0m0 18h0m0 18h0m0 10h0m0 6h0m0 6h0m0 17h0m1-657h0m0 6h0m0 2h0m0 32h0m0 32h0m0 2h0m0 4h0m0 9h0m0 11h0m0 8h0m0 19h0m0 13h0m0 7h0m0 9h0m0 29h0m0 6h0m0 42h0m0 68h0m0 57h0m0 3h0m0 8h0m1-160h0m0 73h0m0 7h0m0 19h0m0 8h0m0 13h0m0 128h0m0 17h0m0 51h0m0 8h0m1-214h0m0 45h0m0 6h0m0 75h0m0 21h0m0 18h0m1-232h0m0 4h0m0 11h0m0 6h0m0 11h0m0 60h0m0 146h0m0 91h0m0 65h0m1-59h0m0 3h0m0 6h0m0 15h0m0 9h0m0 2h0m0 21h0m0 8h0m0 13h0m1-216h0m0 31h0m0 15h0m0 1h0m0 5h0m0 8h0m0 33h0m0 52h0m0 14h0m1-421h0m0 42h0m0 3h0m0 22h0m0 8h0m0 7h0m0 191h0m0 32h0m0 84h0m0 83h0m5-420h0m0 3h0m0 13h0m0 4h0m0 22h0m0 15h0m0 354h0m1-58h0m0 41h0m0 8h0m1-23h0m1-540h0m0 2h0m0 5h0m0 1h0m0 6h0m0 5h0m0 3h0m0 21h0m0 34h0m0 8h0m0 28h0m0 2h0m0 12h0m0 14h0m0 49h0m0 7h0m1-66h0m0 5h0m0 17h0m0 21h0m0 28h0m0 9h0m0 22h0m0 281h0m0 6h0m0 3h0m0 6h0m0 13h0m0 7h0m2-425h0m0 2h0m0 1h0m0 7h0m0 11h0m0 19h0m0 6h0m0 9h0m1-65h0m0 4h0m0 2h0m0 9h0m0 12h0m0 14h0m0 4h0m0 15h0m0 9h0m0 5h0m0 6h0m0 320h0m1-496h0m0 23h0m0 5h0m0 7h0m0 44h0m0 28h0m0 106h0m1-147h0m0 16h0m0 8h0m0 29h0m0 64h0m0 18h0m0 7h0m0 19h0m0 306h0m0 7h0m1-602h0m0 7h0m0 1h0m0 5h0m0 28h0m0 8h0m0 3h0m0 9h0m0 17h0m0 13h0m0 43h0m0 19h0m0 76h0m0 350h0m0 10h0m1-450h0m0 47h0m0 16h0m0 28h0m0 10h0m0 13h0m0 34h0m0 260h0m3-505h0m0 20h0m0 10h0m0 7h0m0 37h0m0 14h0m0 2h0m0 15h0m0 28h0m1 399h0m0 17h0m1-429h0m0 38h0m0 2h0m0 9h0m0 4h0m0 65h0m0 280h0m2-336h0m0 18h0m0 19h0m0 276h0m0 14h0m0 4h0m0 10h0m1-433h0m0 90h0m0 9h0m0 12h0m0 5h0m0 13h0m0 1h0m0 10h0m0 11h0m0 10h0m1-397h0m0 10h0m0 18h0m0 23h0m0 29h0m0 25h0m0 1h0m0 8h0m0 19h0m0 62h0m0 24h0m0 26h0m0 28h0m0 28h0m0 21h0m0 28h0m0 11h0m0 6h0m0 21h0m0 33h0m0 114h0m1-85h0m0 40h0m0 10h0m0 43h0m0 7h0m0 59h0m1-229h0m0 21h0m0 21h0m0 23h0m0 94h0m0 6h0m0 1h0m0 21h0m0 4h0m0 9h0m0 7h0m1-535h0m0 39h0m0 55h0m0 8h0m0 17h0m0 57h0m0 7h0m0 8h0m0 63h0m0 49h0m0 41h0m0 47h0m0 93h0m0 4h0m0 4h0m0 29h0m0 18h0m0 16h0m0 19h0m1-454h0m0 2h0m0 82h0m0 54h0m0 6h0m0 30h0m0 6h0m0 23h0m0 73h0m0 2h0m0 25h0m0 64h0m0 22h0m0 14h0m0 11h0m0 12h0m0 64h0m1-632h0m0 11h0m0 8h0m0 4h0m0 3h0m0 4h0m0 25h0m0 3h0m0 2h0m0 4h0m0 1h0m0 16h0m0 16h0m0 3h0m0 12h0m0 15h0m0 35h0m0 9h0m0 82h0m0 195h0m0 3h0m0 31h0m0 7h0m0 38h0m0 17h0m1-458h0m0 9h0m0 25h0m0 8h0m0 3h0m0 23h0m0 164h0m0 46h0m0 16h0m0 24h0m0 29h0m0 5h0m0 33h0m0 7h0m0 73h0m0 21h0m0 18h0m0 16h0m0 5h0m0 11h0m0 2h0m1-614h0m0 2h0m0 17h0m0 157h0m0 41h0m0 10h0m0 54h0m0 4h0m0 3h0m0 84h0m0 7h0m0 10h0m0 67h0m0 33h0m0 22h0m0 81h0m0 12h0m0 9h0m1-595h0m0 2h0m0 7h0m0 6h0m0 43h0m0 25h0m0 54h0m0 12h0m0 58h0m0 4h0m0 8h0m0 12h0m0 22h0m0 27h0m0 19h0m0 3h0m0 12h0m0 69h0m0 42h0m0 11h0m0 17h0m1-308h0m0 30h0m0 59h0m0 7h0m0 48h0m0 21h0m0 18h0m0 53h0m0 11h0m0 62h0m0 11h0m0 26h0m0 8h0m0 42h0m0 10h0m0 25h0m0 14h0m0 8h0m0 18h0m0 5h0m0 6h0m0 11h0m0 25h0m1-630h0m0 1h0m0 7h0m0 5h0m0 3h0m0 7h0m0 14h0m0 85h0m0 37h0m0 21h0m0 11h0m0 18h0m0 156h0m0 113h0m0 47h0m1-603h0m0 8h0m0 1h0m0 10h0m0 11h0m0 8h0m0 7h0m0 14h0m0 23h0m0 5h0m0 15h0m0 2h0m0 29h0m0 21h0m0 30h0m0 29h0m0 17h0m0 54h0m0 41h0m0 2h0m0 63h0m1-403h0m0 1h0m0 4h0m0 15h0m0 3h0m0 10h0m0 30h0m0 44h0m0 16h0m0 9h0m0 36h0m0 24h0m0 45h0m0 47h0m0 26h0m0 27h0m0 58h0m0 74h0m0 66h0m1-410h0m0 32h0m0 21h0m0 6h0m0 34h0m0 5h0m0 25h0m0 2h0m0 171h0m0 32h0m0 110h0m0 25h0m0 2h0m0 29h0m0 9h0m0 31h0m1-314h0m0 9h0m0 28h0m0 1h0m0 5h0m0 86h0m0 30h0m0 1h0m0 36h0m0 27h0m0 6h0m0 9h0m0 17h0m1-280h0m0 63h0m0 6h0m0 52h0m0 68h0m0 6h0m0 63h0m1-418h0m0 4h0m0 24h0m0 23h0m0 51h0m0 228h0m0 14h0m0 45h0m1-346h0m0 51h0m0 19h0m0 2h0m0 33h0m0 337h0m0 9h0m1-10h0m0 22h0m0 40h0m1-695h0m0 2h0m0 2h0m0 5h0m0 6h0m0 11h0m0 11h0m0 40h0m0 67h0m0 21h0m0 65h0m0 399h0m0 22h0m1-461h0m0 21h0m0 7h0m0 37h0m0 96h0m0 306h0m1-613h0m0 14h0m0 20h0m0 5h0m0 23h0m0 3h0m0 15h0m0 16h0m0 11h0m0 13h0m0 5h0m0 9h0m0 18h0m0 2h0m0 28h0m0 20h0m0 2h0m0 14h0m0 23h0m0 91h0m1-61h0m0 29h0m0 45h0m1-197h0m0 45h0m0 22h0m0 14h0m0 9h0m0 10h0m0 6h0m0 24h0m0 339h0m0 6h0m0 12h0m0 19h0m1-417h0m0 4h0m0 46h0m0 36h0m1 160h0m0 148h0m1-606h0m0 28h0m0 2h0m0 14h0m0 11h0m0 19h0m0 65h0m0 11h0m0 17h0m0 20h0m0 52h0m0 32h0m0 10h0m0 5h0m0 12h0m0 218h0m0 9h0m0 37h0m1-248h0m0 192h0m0 22h0m0 9h0m0 6h0m0 8h0m0 13h0m0 23h0m0 9h0m0 20h0m0 20h0m1-688h0m0 2h0m0 5h0m0 8h0m0 9h0m0 10h0m0 20h0m0 13h0m0 5h0m0 8h0m0 11h0m0 46h0m0 12h0m0 16h0m0 81h0m0 227h0m0 68h0m0 109h0m1-342h0m0 47h0m0 31h0m0 71h0m0 32h0m0 8h0m0 9h0m0 9h0m0 9h0m0 14h0m0 29h0m0 16h0m0 13h0m1-496h0m0 5h0m0 16h0m0 18h0m0 7h0m0 47h0m0 13h0m0 37h0m0 29h0m0 31h0m0 78h0m0 90h0m0 93h0m0 41h0m1-424h0m0 23h0m0 20h0m0 29h0m0 5h0m0 2h0m0 115h0m0 4h0m0 97h0m0 44h0m0 30h0m0 11h0m0 63h0m0 18h0m0 26h0m1-603h0m0 26h0m0 36h0m0 19h0m0 36h0m0 60h0m0 122h0m1-263h0m0 5h0m0 12h0m0 31h0m0 33h0m0 17h0m0 11h0m0 1h0m0 11h0m0 6h0m0 4h0m0 11h0m1 215h0m0 23h0m0 14h0m0 26h0m0 21h0m0 33h0m0 9h0m0 26h0m0 21h0m0 5h0m0 26h0m0 3h0m1-637h0m0 13h0m0 8h0m0 30h0m0 20h0m0 10h0m0 5h0m0 33h0m0 19h0m0 8h0m0 3h0m0 13h0m0 14h0m0 283h0m0 21h0m0 82h0m0 1h0m0 73h0m1-160h0m0 8h0m0 19h0m0 15h0m1-329h0m0 12h0m0 265h0m0 60h0m0 2h0m0 19h0m1-590h0m0 49h0m0 19h0m0 5h0m0 17h0m0 44h0m0 3h0m0 4h0m0 126h0m0 1h0m0 227h0m0 122h0m0 6h0m0 7h0m0 2h0m0 6h0m1-520h0m0 49h0m0 41h0m0 3h0m0 13h0m0 4h0m0 256h0m1-259h0m0 32h0m0 220h0m0 90h0m0 14h0m0 6h0m0 49h0m1-136h0m0 70h0m0 8h0m1-514h0m0 48h0m0 25h0m0 15h0m0 12h0m0 10h0m0 35h0m0 38h0m0 6h0m2-89h0m0 30h0m0 12h0m0 5h0m0 9h0m0 10h0m1-161h0m0 2h0m0 26h0m0 1h0m0 29h0m0 41h0m0 14h0m0 68h0m1 358h0m0 35h0m1-540h0m0 16h0m0 16h0m0 50h0m0 6h0m0 7h0m1 400h0m0 24h0m0 27h0m1-561h0m0 15h0m0 20h0m0 2h0m0 33h0m0 24h0m0 5h0m0 38h0m0 11h0m0 18h0m2-13h0m0 153h0m0 142h0m1-106h0m0 11h0m0 36h0m0 31h0m0 4h0m0 41h0m1-176h0m0 41h0m0 5h0m0 48h0m0 23h0m0 5h0m0 20h0m0 20h0m0 22h0m0 21h0m0 12h0m1-216h0m0 24h0m0 7h0m0 9h0m0 18h0m0 49h0m0 4h0m0 102h0m1-237h0m0 10h0m0 3h0m0 40h0m0 30h0m0 8h0m0 10h0m0 9h0m0 58h0m1-527h0m0 1h0m0 1h0m0 4h0m0 4h0m0 11h0m0 22h0m0 11h0m0 1h0m0 24h0m0 31h0m0 10h0m0 3h0m0 12h0m0 7h0m0 65h0m0 51h0m0 197h0m0 97h0m0 59h0m0 7h0m1-609h0m0 2h0m0 1h0m0 12h0m0 2h0m0 9h0m0 28h0m0 37h0m0 36h0m0 1h0m0 38h0m0 11h0m0 16h0m0 19h0m0 44h0m0 15h0m0 57h0m0 40h0m0 35h0m0 170h0m0 11h0m1-322h0m0 21h0m0 4h0m0 72h0m0 25h0m0 46h0m0 4h0m0 87h0m0 41h0m1-485h0m0 22h0m0 2h0m0 17h0m0 6h0m0 5h0m0 27h0m0 3h0m0 4h0m0 22h0m0 8h0m0 26h0m0 123h0m0 45h0m0 93h0m0 14h0m0 108h0m1-460h0m0 47h0m0 9h0m0 52h0m0 120h0m0 28h0m0 97h0m0 43h0m0 13h0m0 16h0m0 6h0m0 18h0m1-514h0m0 4h0m0 19h0m0 7h0m0 9h0m0 3h0m0 20h0m0 10h0m0 23h0m0 66h0m0 8h0m0 165h0m0 14h0m0 39h0m0 10h0m0 27h0m0 27h0m0 1h0m1-342h0m0 37h0m0 55h0m0 24h0m0 9h0m0 65h0m0 48h0m0 19h0m0 14h0m0 26h0m0 19h0m0 3h0m0 6h0m0 57h0m0 67h0m1-626h0m0 2h0m0 1h0m0 3h0m0 6h0m0 8h0m0 5h0m0 38h0m0 15h0m0 24h0m0 17h0m0 72h0m0 6h0m0 3h0m0 81h0m0 284h0m1-343h0m0 34h0m0 1h0m0 20h0m0 13h0m0 5h0m0 40h0m0 142h0m0 34h0m0 24h0m0 2h0m0 24h0m1-311h0m0 33h0m0 23h0m0 10h0m0 13h0m0 11h0m0 2h0m0 12h0m0 23h0m0 4h0m0 9h0m0 1h0m0 15h0m0 78h0m0 87h0m0 25h0m1-366h0m0 3h0m0 6h0m0 6h0m0 26h0m0 5h0m0 77h0m0 5h0m0 235h0m0 15h0m0 3h0m1-556h0m0 11h0m0 3h0m0 3h0m0 7h0m0 14h0m0 31h0m0 28h0m0 14h0m0 23h0m0 14h0m0 12h0m0 30h0m0 11h0m0 16h0m0 41h0m0 1h0m0 10h0m0 47h0m0 32h0m0 187h0m1-612h0m0 20h0m0 3h0m0 11h0m0 17h0m0 14h0m0 19h0m0 81h0m0 17h0m0 36h0m0 67h0m0 76h0m0 23h0m0 220h0m1 23h0m0 10h0m0 2h0m0 3h0m0 9h0m0 10h0m0 17h0m0 3h0m1-432h0m0 27h0m0 45h0m0 27h0m0 20h0m0 60h0m0 196h0m1-462h0m0 29h0m0 3h0m0 50h0m0 41h0m0 70h0m0 20h0m0 19h0m1 274h0m0 3h0m0 16h0m0 2h0m0 12h0m0 19h0m1-311h0m0 29h0m0 230h0m1-268h0m0 3h0m0 26h0m0 2h0m0 16h0m0 40h0m0 8h0m0 19h0m0 23h0m0 127h0m0 13h0m1-504h0m0 23h0m0 5h0m0 4h0m0 4h0m0 16h0m0 8h0m0 15h0m0 12h0m0 2h0m0 54h0m0 17h0m0 6h0m0 10h0m0 4h0m0 10h0m0 23h0m0 11h0m0 62h0m0 5h0m0 233h0m1-485h0m0 8h0m0 22h0m0 15h0m0 13h0m0 25h0m0 54h0m0 30h0m0 125h0m0 195h0m0 11h0m0 15h0m1-238h0m1-41h0m0 9h0m0 17h0m0 7h0m0 1h0m0 44h0m0 10h0m0 220h0m1-43h0m0 5h0m0 2h0m0 2h0m0 19h0m0 5h0m0 1h0m0 4h0m1-17h0m0 2h0m0 25h0m2-29h0m0 11h0m1-249h0m0 9h0m0 3h0m0 17h0m0 8h0m0 3h0m0 17h0m1-107h0m0 3h0m0 11h0m0 2h0m0 4h0m0 40h0m0 11h0m0 14h0m0 16h0m0 7h0m0 175h0m0 27h0m1-542h0m0 6h0m0 14h0m0 5h0m0 8h0m0 3h0m0 27h0m0 5h0m0 7h0m0 5h0m0 30h0m0 9h0m0 44h0m0 6h0m0 14h0m0 22h0m0 8h0m0 42h0m0 46h0m0 2h0m1 75h0m0 25h0m0 108h0m0 4h0m1-75h0m0 44h0m0 10h0m1-154h0m0 16h0m0 78h0m0 21h0m0 30h0m1-137h0m0 6h0m0 10h0m0 22h0m0 28h0m0 35h0m0 21h0m0 21h0m0 2h0m1-314h0m0 9h0m0 8h0m0 7h0m0 16h0m0 4h0m0 4h0m0 2h0m0 229h0m0 43h0m0 2h0m1-107h0m0 2h0m0 6h0m0 21h0m0 5h0m0 22h0m0 22h0m0 12h0m1-499h0m0 10h0m0 32h0m0 17h0m0 11h0m0 82h0m1-129h0m0 1h0m0 13h0m0 2h0m0 1h0m0 19h0m0 2h0m0 28h0m0 4h0m0 4h0m0 7h0m0 1h0m0 7h0m0 1h0m0 4h0m0 4h0m0 7h0m0 3h0m0 1h0m0 2h0m0 6h0m0 7h0m0 2h0m0 3h0m0 78h0m1-37h0m0 34h0m0 206h0m0 48h0m0 35h0m0 26h0m1-199h0m0 36h0m0 20h0m0 48h0m0 5h0m0 37h0m0 4h0m0 37h0m1-198h0m0 15h0m0 27h0m0 11h0m0 8h0m0 3h0m0 61h0m0 8h0m0 35h0m0 8h0m0 22h0m1-355h0m0 6h0m0 25h0m0 14h0m0 135h0m1 1h0m0 33h0m0 1h0m0 14h0m0 66h0m1-107h0m0 4h0m0 20h0m0 35h0m1-399h0m0 28h0m0 4h0m0 9h0m0 8h0m0 2h0m0 43h0m0 13h0m0 12h0m0 30h0m0 347h0m1-494h0m0 86h0m0 37h0m0 68h0m1-346h0m0 14h0m0 2h0m0 3h0m0 5h0m0 20h0m0 4h0m0 11h0m0 3h0m0 5h0m0 22h0m0 25h0m0 16h0m0 82h0m0 16h0m0 5h0m0 36h0m0 48h0m0 13h0m0 36h0m1-284h0m0 14h0m0 7h0m0 25h0m0 109h0m0 85h0m0 333h0m0 6h0m1-474h0m0 30h0m0 21h0m0 37h0m0 1h0m0 14h0m0 33h0m0 13h0m0 2h0m0 38h0m1-18h0m0 250h0m1-428h0m0 33h0m0 16h0m0 18h0m0 32h0m0 5h0m0 13h0m0 44h0m0 13h0m0 9h0m0 81h0m0 18h0m0 2h0m0 43h0m1-200h0m0 38h0m0 11h0m0 36h0m0 6h0m0 19h0m0 26h0m0 155h0m1-240h0m0 16h0m0 140h0m0 99h0m0 3h0m0 5h0m0 11h0m0 8h0m0 6h0m0 17h0m0 6h0m1-696h0m0 13h0m0 1h0m0 23h0m0 18h0m0 5h0m0 5h0m0 29h0m0 18h0m0 44h0m0 3h0m0 7h0m0 28h0m0 9h0m0 10h0m0 12h0m0 4h0m0 9h0m0 11h0m0 7h0m0 9h0m0 2h0m0 48h0m0 141h0m1-367h0m0 24h0m0 2h0m0 2h0m0 14h0m0 13h0m0 7h0m0 59h0m0 47h0m0 44h0m0 22h0m0 24h0m0 7h0m0 123h0m0 29h0m0 44h0m0 58h0m0 12h0m1-349h0m0 8h0m0 21h0m0 3h0m0 6h0m0 55h0m0 28h0m0 20h0m0 22h0m0 51h0m0 42h0m0 40h0m0 65h0m0 33h0m1-279h0m0 22h0m0 152h0m1-110h0m0 11h0m0 35h0m0 89h0m0 11h0m0 4h0m1-89h0m0 7h0m0 5h0m0 14h0m0 39h0m0 11h0m1-246h0m0 27h0m0 56h0m0 172h0m1-454h0m0 9h0m0 67h0m0 90h0m0 41h0m0 100h0m0 120h0m0 37h0m1-521h0m0 78h0m0 45h0m0 2h0m0 17h0m0 18h0m0 30h0m0 19h0m0 33h0m0 52h0m1-220h0m0 18h0m0 22h0m0 24h0m0 4h0m0 14h0m0 1h0m0 13h0m0 8h0m0 1h0m0 16h0m0 4h0m0 4h0m0 30h0m0 19h0m0 5h0m1-49h0m0 63h0m0 18h0m1-182h0m0 18h0m0 23h0m0 6h0m0 20h0m0 41h0m0 45h0m0 10h0m1-87h0m0 67h0m0 2h0m1-98h0m0 47h0m2 37h0m0 288h0m0 6h0m1-505h0m0 10h0m0 3h0m0 3h0m0 3h0m0 4h0m0 5h0m0 9h0m0 3h0m0 6h0m0 4h0m0 3h0m0 11h0m0 2h0m0 10h0m0 8h0m0 8h0m0 9h0m0 5h0m0 12h0m0 42h0m0 4h0m0 36h0m1-261h0m0 5h0m0 9h0m0 7h0m0 2h0m0 2h0m0 5h0m0 3h0m0 4h0m0 7h0m0 4h0m0 18h0m0 4h0m0 1h0m0 14h0m0 7h0m0 29h0m0 71h0m0 7h0m0 14h0m0 26h0m0 24h0m0 18h0m1 25h0m0 2h0m0 267h0m0 5h0m0 2h0m1-10h0m0 43h0m1-22h0m1-444h0m0 30h0m0 27h0m0 41h0m0 4h0m0 20h0m0 12h0m0 25h0m1-282h0m0 11h0m0 56h0m0 6h0m0 7h0m0 21h0m0 13h0m0 2h0m0 11h0m0 3h0m0 10h0m0 20h0m0 3h0m0 35h0m0 4h0m0 4h0m1 25h0m0 36h0m0 4h0m1-75h0m0 15h0m0 2h0m0 48h0m3-260h0m0 4h0m0 31h0m0 16h0m0 62h0m0 49h0m0 19h0m0 359h0m0 13h0m1-503h0m0 86h0m0 15h0m0 343h0m0 18h0m0 4h0m0 2h0m0 5h0m0 3h0m0 7h0m1-292h0m0 31h0m0 12h0m0 6h0m0 168h0m0 43h0m0 4h0m0 17h0m0 13h0m1-628h0m0 36h0m0 32h0m0 115h0m0 8h0m0 36h0m0 14h0m0 6h0m0 12h0m0 15h0m0 3h0m0 5h0m0 16h0m0 20h0m0 4h0m0 5h0m0 30h0m0 84h0m1-460h0m0 4h0m0 56h0m0 70h0m0 54h0m0 34h0m0 206h0m0 1h0m0 3h0m0 149h0m1-540h0m0 20h0m0 13h0m0 7h0m0 4h0m0 14h0m0 9h0m0 10h0m0 2h0m0 3h0m0 11h0m0 4h0m0 45h0m0 18h0m0 118h0m0 237h0m0 5h0m0 2h0m0 23h0m0 45h0m1-587h0m0 8h0m0 44h0m0 5h0m0 3h0m0 39h0m0 15h0m0 3h0m0 11h0m0 12h0m0 70h0m0 22h0m0 6h0m0 13h0m0 5h0m0 59h0m0 9h0m0 31h0m1-350h0m0 7h0m0 58h0m0 10h0m0 53h0m0 22h0m0 16h0m0 35h0m0 83h0m0 16h0m0 27h0m0 8h0m0 55h0m0 47h0m1-378h0m0 39h0m0 42h0m0 46h0m0 105h0m0 72h0m0 81h0m0 14h0m0 14h0m0 5h0m0 13h0m0 1h0m0 2h0m0 6h0m0 25h0m0 4h0m0 3h0m0 9h0m0 11h0m0 10h0m0 10h0m1-569h0m0 6h0m0 2h0m0 13h0m0 83h0m0 65h0m0 13h0m0 32h0m0 118h0m0 96h0m0 1h0m0 75h0m1-438h0m0 11h0m0 3h0m0 2h0m0 3h0m0 68h0m0 33h0m0 72h0m0 38h0m0 98h0m0 12h0m0 32h0m0 75h0m0 8h0m0 23h0m1-428h0m0 14h0m0 12h0m0 30h0m0 23h0m0 19h0m0 9h0m0 26h0m0 20h0m0 4h0m0 39h0m0 24h0m0 30h0m0 23h0m0 9h0m0 20h0m1-430h0m0 3h0m0 26h0m0 6h0m0 175h0m0 82h0m0 27h0m0 17h0m0 5h0m1-313h0m0 6h0m0 21h0m0 78h0m0 5h0m0 9h0m0 19h0m0 39h0m0 67h0m0 49h0m0 26h0m0 10h0m0 2h0m0 8h0m0 26h0m0 21h0m0 32h0m0 32h0m0 10h0m0 24h0m1-433h0m0 8h0m0 56h0m0 3h0m0 102h0m0 8h0m0 31h0m0 1h0m0 16h0m0 27h0m0 98h0m0 8h0m0 34h0m1-468h0m0 36h0m0 23h0m0 12h0m0 18h0m0 7h0m0 9h0m0 15h0m0 31h0m0 149h0m0 10h0m0 155h0m0 122h0m1-396h0m0 26h0m0 2h0m0 13h0m0 31h0m0 5h0m0 34h0m0 15h0m0 4h0m0 11h0m0 8h0m0 10h0m0 14h0m0 3h0m0 4h0m0 20h0m0 30h0m0 36h0m0 6h0m0 38h0m0 16h0m0 42h0m0 19h0m0 4h0m1-574h0m0 3h0m0 2h0m0 6h0m0 6h0m0 24h0m0 32h0m1 32h0m0 7h0m0 16h0m0 34h0m0 11h0m0 26h0m0 13h0m0 28h0m0 4h0m0 2h0m0 27h0m0 131h0m0 60h0m0 21h0m0 3h0m0 16h0m0 8h0m0 9h0m0 1h0m0 6h0m0 11h0m0 17h0m1-202h0m0 83h0m0 7h0m0 2h0m0 8h0m0 1h0m0 10h0m0 1h0m0 15h0m0 31h0m1-79h0m0 4h0m0 48h0m0 9h0m0 5h0m0 12h0m0 30h0m1-611h0m0 15h0m0 16h0m0 3h0m0 8h0m0 35h0m0 60h0m0 9h0m0 8h0m0 6h0m0 95h0m0 15h0m0 18h0m0 55h0m0 99h0m0 119h0m0 13h0m0 9h0m1-271h0m0 61h0m0 11h0m0 9h0m0 44h0m0 9h0m0 17h0m0 24h0m0 7h0m0 2h0m0 28h0m0 19h0m0 23h0m0 9h0m0 18h0m0 15h0m1-150h0m0 12h0m0 55h0m0 22h0m0 31h0m0 4h0m0 18h0m0 1h0m0 25h0m0 19h0m1-581h0m0 2h0m0 1h0m0 2h0m0 3h0m0 2h0m0 7h0m0 4h0m0 32h0m0 62h0m0 11h0m0 67h0m0 3h0m0 41h0m0 74h0m0 20h0m0 221h0m1-276h0m0 18h0m0 16h0m0 102h0m0 43h0m0 8h0m0 15h0m0 48h0m0 13h0m0 38h0m0 6h0m1-550h0m0 2h0m0 2h0m0 2h0m0 7h0m0 7h0m0 11h0m0 31h0m0 4h0m0 59h0m0 49h0m0 22h0m0 11h0m0 4h0m0 14h0m0 26h0m0 39h0m0 123h0m0 14h0m1-331h0m0 23h0m0 2h0m0 9h0m0 8h0m0 25h0m0 8h0m0 16h0m0 77h0m0 34h0m0 97h0m1-274h0m0 14h0m0 36h0m0 16h0m0 4h0m0 3h0m0 52h0m0 14h0m0 40h0m0 27h0m1-250h0m0 8h0m0 8h0m0 2h0m0 29h0m0 10h0m0 5h0m0 46h0m0 78h0m0 30h0m0 115h0m0 31h0m0 21h0m0 9h0m0 44h0m1-17h0m0 40h0m0 2h0m0 20h0m0 4h0m0 1h0m0 4h0m0 5h0m0 3h0m0 4h0m0 8h0m1-197h0m0 26h0m0 20h0m0 11h0m0 7h0m0 58h0m0 32h0m0 3h0m0 4h0m0 4h0m1-170h0m0 148h0m1-72h0m0 17h0m0 4h0m0 11h0m0 5h0m0 14h0m0 1h0m0 17h0m0 10h0m0 2h0m0 15h0m1-100h0m0 8h0m0 38h0m0 24h0m1-314h0m0 8h0m0 2h0m0 14h0m0 4h0m0 5h0m0 10h0m0 2h0m0 9h0m0 5h0m0 2h0m0 1h0m0 8h0m0 6h0m0 19h0m0 149h0m0 51h0m1-306h0m0 79h0m0 25h0m0 12h0m0 9h0m0 142h0m0 8h0m1-320h0m0 44h0m0 70h0m0 166h0m0 1h0m0 25h0m0 17h0m0 9h0m0 21h0m0 10h0m0 15h0m0 12h0m0 11h0m0 9h0m0 18h0m0 2h0m0 14h0m0 16h0m0 15h0m1-648h0m0 1h0m0 4h0m0 2h0m0 2h0m0 1h0m0 6h0m0 11h0m0 4h0m0 5h0m0 2h0m0 4h0m0 8h0m0 12h0m0 3h0m0 1h0m0 3h0m0 8h0m0 5h0m0 4h0m0 43h0m0 12h0m0 13h0m1-15h0m0 20h0m0 16h0m0 5h0m0 7h0m0 15h0m0 31h0m0 8h0m0 10h0m0 43h0m0 14h0m0 2h0m0 2h0m0 3h0m0 1h0m1-223h0m0 1h0m0 6h0m0 14h0m0 2h0m0 2h0m0 7h0m0 2h0m0 38h0m0 18h0m0 11h0m0 5h0m0 86h0m0 6h0m0 21h0m0 6h0m0 2h0m0 6h0m1-252h0m0 75h0m0 11h0m0 11h0m0 16h0m0 2h0m0 10h0m0 32h0m0 29h0m0 262h0m0 46h0m0 16h0m0 7h0m0 15h0m0 4h0m0 9h0m0 11h0m0 2h0m0 6h0m1-586h0m0 4h0m0 4h0m0 47h0m0 28h0m0 8h0m0 68h0m0 34h0m0 219h0m0 8h0m0 32h0m0 10h0m1-488h0m0 4h0m0 9h0m0 4h0m0 2h0m0 24h0m0 17h0m0 26h0m0 25h0m0 82h0m0 50h0m0 3h0m0 1h0m0 9h0m0 68h0m0 207h0m0 57h0m0 13h0m0 6h0m0 3h0m1-380h0m0 11h0m0 36h0m0 27h0m0 159h0m0 42h0m0 2h0m0 25h0m0 37h0m1-230h0m0 21h0m0 93h0m0 4h0m0 14h0m0 45h0m0 10h0m0 32h0m0 2h0m0 33h0m1-137h0m0 45h0m0 25h0m0 12h0m0 4h0m0 23h0m0 3h0m1-22h0m0 7h0m0 1h0m0 4h0m0 16h0m0 14h0m0 23h0m1-446h0m0 15h0m0 38h0m0 88h0m0 8h0m0 20h0m0 25h0m0 10h0m0 4h0m0 18h0m0 125h0m1-424h0m0 57h0m0 1h0m0 4h0m0 50h0m0 50h0m0 61h0m1 52h0m0 15h0m0 13h0m0 10h0m4-222h0m0 19h0m0 12h0m0 1h0m0 9h0m0 24h0m0 9h0m0 15h0m0 5h0m0 30h0m0 44h0m0 13h0m0 4h0m0 15h0m0 6h0m0 26h0m1-136h0m0 6h0m0 2h0m0 7h0m0 23h0m0 8h0m0 11h0m0 6h0m0 7h0m0 18h0m0 25h0m0 13h0m0 205h0m1-370h0m0 45h0m0 14h0m0 2h0m0 27h0m0 27h0m0 27h0m0 240h0m0 6h0m0 20h0m1-31h0m0 2h0m1-329h0m0 30h0m0 31h0m0 18h0m1-367h0m0 1h0m0 4h0m0 3h0m0 33h0m0 34h0m0 12h0m0 34h0m0 6h0m0 37h0m0 1h0m0 2h0m0 27h0m0 6h0m0 3h0m0 60h0m0 4h0m0 5h0m0 62h0m0 293h0m1-594h0m0 83h0m0 12h0m0 19h0m0 25h0m0 26h0m0 32h0m0 97h0m0 3h0m0 298h0m1-277h0m1-217h0m0 55h0m0 5h0m0 10h0m0 32h0m0 30h0m0 16h0m0 10h0m0 56h0m0 27h0m1-67h0m0 6h0m0 25h0m0 14h0m0 10h0m1-180h0m0 117h0m0 62h0m1-335h0m0 2h0m0 16h0m0 28h0m0 19h0m0 30h0m0 37h0m0 17h0m0 64h0m1 38h0m0 338h0m0 26h0m1-599h0m0 22h0m0 22h0m0 37h0m0 12h0m0 29h0m0 47h0m0 35h0m0 8h0m0 53h0m0 13h0m0 7h0m3 296h0m0 4h0m0 3h0m0 6h0m0 10h0m1-14h0m1-337h0m0 8h0m0 320h0m0 29h0m2-514h0m0 10h0m0 27h0m0 17h0m0 30h0m0 2h0m0 28h0m0 1h0m0 6h0m0 22h0m0 2h0m0 5h0m0 21h0m0 301h0m1-285h0m0 283h0m0 19h0m0 15h0m1-384h0m0 2h0m0 10h0m0 6h0m0 1h0m0 29h0m0 26h0m0 5h0m1-23h0m1-39h0m1-190h0m0 21h0m0 67h0m0 34h0m0 19h0m0 9h0m0 9h0m0 206h0m0 135h0m0 2h0m1-260h0m0 22h0m0 8h0m0 34h0m0 11h0m0 4h0m0 6h0m0 2h0m0 6h0m0 39h0m1-270h0m0 30h0m0 3h0m0 12h0m0 73h0m0 19h0m0 16h0m0 3h0m0 41h0m0 8h0m0 66h0m0 3h0m0 73h0m0 31h0m1-85h0m0 32h0m0 10h0m0 17h0m0 7h0m0 9h0m0 17h0m0 2h0m0 31h0m0 3h0m0 1h0m0 1h0m0 3h0m0 8h0m1-343h0m0 9h0m0 26h0m0 45h0m0 1h0m0 14h0m0 6h0m0 37h0m0 31h0m1-464h0m0 7h0m0 3h0m0 25h0m0 24h0m0 10h0m0 24h0m0 6h0m0 2h0m0 3h0m0 14h0m0 4h0m0 23h0m0 19h0m0 7h0m0 4h0m0 33h0m0 7h0m0 5h0m0 2h0m0 92h0m0 77h0m0 46h0m0 50h0m1-454h0m0 8h0m0 10h0m0 6h0m0 9h0m0 7h0m0 15h0m0 23h0m0 4h0m0 5h0m0 7h0m0 15h0m0 5h0m0 78h0m0 44h0m0 6h0m0 9h0m0 40h0m0 23h0m0 19h0m0 203h0m1-328h0m0 10h0m0 18h0m0 10h0m0 14h0m0 46h0m0 64h0m0 15h0m0 27h0m0 11h0m0 38h0m0 16h0m1-150h0m0 101h0m0 21h0m0 25h0m0 12h0m0 18h0m0 12h0m0 18h0m0 16h0m0 6h0m0 12h0m0 1h0m0 8h0m0 18h0m1-668h0m0 12h0m0 3h0m0 4h0m0 19h0m0 13h0m0 42h0m0 17h0m0 7h0m0 16h0m0 13h0m0 30h0m0 28h0m0 23h0m0 25h0m0 2h0m0 4h0m0 40h0m0 6h0m0 13h0m0 6h0m0 1h0m0 13h0m0 2h0m0 7h0m0 25h0m1-62h0m0 150h0m0 48h0m0 21h0m0 40h0m0 17h0m0 8h0m0 8h0m0 13h0m0 19h0m0 8h0m0 14h0m0 16h0m1-244h0m0 39h0m0 15h0m0 25h0m0 2h0m1-182h0m0 24h0m0 6h0m0 30h0m0 19h0m0 12h0m0 78h0m0 2h0m0 19h0m0 14h0m1-132h0m0 4h0m0 193h0m1-408h0m0 22h0m0 7h0m0 3h0m0 2h0m0 13h0m0 34h0m0 3h0m0 25h0m0 13h0m0 40h0m0 63h0m0 2h0m1-50h0m0 12h0m0 86h0m0 3h0m0 25h0m1-293h0m0 36h0m0 28h0m0 9h0m0 18h0m0 172h0m0 92h0m0 34h0m0 61h0m1-291h0m0 13h0m0 34h0m0 17h0m0 36h0m0 28h0m0 11h0m0 29h0m0 11h0m0 10h0m0 62h0m0 11h0m0 7h0m0 6h0m0 24h0m1-395h0m0 4h0m0 7h0m0 6h0m0 102h0m0 19h0m0 15h0m0 14h0m0 18h0m0 24h0m1-497h0m0 1h0m0 1h0m0 3h0m0 3h0m0 1h0m0 3h0m0 2h0m0 26h0m0 28h0m0 25h0m0 7h0m0 29h0m0 5h0m0 87h0m0 221h0m0 24h0m1-330h0m0 27h0m0 4h0m0 9h0m0 4h0m0 4h0m0 5h0m0 5h0m0 5h0m0 6h0m0 2h0m0 2h0m0 4h0m0 1h0m0 5h0m0 13h0m0 3h0m0 12h0m0 3h0m0 13h0m0 4h0m0 7h0m0 7h0m0 17h0m0 5h0m1-38h0m0 18h0m0 2h0m0 33h0m0 14h0m0 75h0m0 61h0m0 24h0m0 38h0m0 8h0m0 4h0m0 11h0m0 2h0m0 34h0m0 35h0m0 44h0m0 18h0m0 21h0m1-572h0m0 9h0m0 2h0m0 2h0m0 3h0m0 2h0m0 12h0m0 24h0m0 2h0m0 261h0m0 4h0m0 57h0m0 88h0m0 10h0m0 30h0m0 18h0m1-499h0m0 8h0m0 27h0m0 3h0m0 6h0m0 82h0m0 46h0m0 30h0m0 57h0m0 14h0m0 69h0m0 59h0m0 14h0m0 14h0m1-264h0m0 135h0m0 106h0m0 2h0m0 18h0m0 12h0m0 5h0m0 3h0m0 12h0m0 14h0m0 50h0m0 19h0m1-692h0m0 10h0m0 19h0m0 5h0m0 48h0m0 64h0m0 8h0m0 18h0m0 31h0m0 259h0m0 9h0m0 8h0m0 9h0m0 11h0m0 12h0m0 10h0m0 14h0m1-535h0m0 5h0m0 7h0m0 3h0m0 9h0m0 65h0m0 4h0m0 17h0m0 38h0m0 97h0m0 58h0m0 25h0m0 121h0m0 12h0m0 68h0m0 39h0m0 44h0m0 40h0m0 36h0m1-671h0m0 6h0m0 18h0m0 44h0m0 2h0m0 20h0m0 14h0m0 23h0m0 44h0m0 30h0m0 4h0m0 13h0m0 15h0m0 8h0m0 18h0m0 18h0m0 15h0m0 15h0m0 8h0m0 28h0m0 12h0m0 36h0m0 8h0m0 20h0m0 43h0m0 17h0m0 10h0m0 6h0m1-299h0m0 68h0m0 3h0m0 55h0m0 92h0m0 135h0m0 10h0m0 13h0m0 13h0m0 20h0m0 4h0m1-124h0m0 27h0m0 13h0m0 65h0m0 4h0m0 22h0m0 2h0m0 3h0m0 2h0m0 3h0m0 4h0m0 4h0m0 5h0m0 8h0m1-507h0m0 9h0m0 23h0m0 11h0m0 5h0m0 37h0m0 25h0m0 46h0m0 74h0m0 2h0m0 7h0m0 41h0m0 4h0m0 27h0m0 22h0m0 29h0m0 54h0m1-307h0m0 37h0m0 8h0m0 29h0m0 5h0m0 22h0m0 34h0m0 5h0m0 44h0m0 49h0m0 50h0m0 7h0m0 13h0m0 29h0m0 11h0m0 6h0m1-230h0m0 43h0m0 108h0m0 3h0m0 1h0m0 9h0m0 6h0m0 25h0m0 80h0m0 19h0m0 1h0m0 6h0m1-423h0m0 28h0m0 33h0m0 49h0m0 3h0m0 72h0m0 14h0m0 106h0m0 96h0m0 9h0m0 11h0m1-441h0m0 153h0m0 12h0m0 9h0m0 24h0m0 13h0m0 1h0m0 52h0m0 93h0m1 42h0m0 9h0m0 5h0m0 3h0m0 9h0m0 21h0m1-208h0m0 46h0m0 8h0m0 84h0m1 77h0m0 5h0m0 6h0m1-373h0m0 56h0m0 27h0m0 10h0m0 4h0m0 42h0m0 1h0m0 3h0m0 237h0m0 3h0m1-356h0m0 3h0m0 126h0m2-256h0m0 36h0m0 15h0m0 15h0m0 9h0m0 32h0m0 32h0m0 12h0m0 85h0m0 255h0m1-329h0m0 40h0m0 270h0m1-328h0m0 2h0m0 23h0m1-150h0m0 20h0m0 21h0m0 2h0m0 11h0m0 7h0m0 9h0m0 23h0m0 4h0m0 2h0m0 14h0m0 37h0m1-81h0m0 25h0m0 4h0m0 22h0m0 32h0m0 7h0m1 275h0m0 6h0m0 2h0m1-629h0m0 50h0m0 10h0m0 50h0m0 8h0m0 19h0m0 2h0m0 23h0m0 11h0m0 20h0m0 81h0m1 364h0m0 29h0m1-431h0m0 26h0m0 5h0m0 3h0m0 11h0m0 18h0m1 223h0m1 41h0m0 2h0m0 4h0m0 2h0m0 24h0m0 1h0m0 7h0m0 8h0m0 1h0m0 1h0m0 21h0m1-425h0m0 48h0m0 14h0m0 199h0m0 47h0m0 2h0m0 35h0m0 6h0m0 28h0m0 2h0m1-486h0m0 4h0m0 2h0m0 7h0m0 3h0m0 9h0m0 10h0m0 29h0m0 2h0m0 1h0m0 10h0m0 2h0m0 26h0m0 5h0m0 27h0m0 58h0m0 167h0m0 60h0m0 2h0m1-235h0m0 7h0m0 9h0m0 13h0m0 1h0m0 16h0m0 14h0m0 54h0m0 23h0m0 68h0m1-587h0m0 5h0m0 5h0m0 3h0m0 9h0m0 7h0m0 26h0m0 74h0m0 2h0m0 86h0m0 6h0m0 8h0m0 5h0m0 62h0m0 132h0m0 135h0m0 2h0m0 86h0m1-372h0m0 13h0m0 15h0m0 31h0m0 113h0m0 28h0m0 9h0m0 33h0m0 27h0m0 12h0m0 39h0m1-410h0m0 89h0m0 46h0m0 4h0m0 37h0m0 18h0m0 12h0m0 73h0m0 62h0m0 48h0m0 40h0m0 45h0m0 2h0m0 3h0m0 58h0m0 16h0m1-705h0m0 26h0m0 1h0m0 10h0m0 20h0m0 73h0m0 7h0m0 7h0m0 48h0m0 18h0m0 5h0m0 5h0m0 13h0m0 45h0m0 45h0m0 13h0m0 43h0m0 118h0m0 94h0m0 11h0m1-376h0m0 18h0m0 2h0m0 12h0m0 32h0m0 17h0m0 11h0m0 20h0m0 60h0m0 62h0m1-497h0m0 1h0m0 3h0m0 2h0m0 3h0m0 9h0m0 6h0m0 21h0m0 42h0m0 2h0m0 57h0m0 12h0m0 19h0m0 14h0m0 98h0m1-140h0m0 20h0m0 40h0m0 32h0m0 45h0m0 52h0m0 68h0m0 15h0m0 9h0m0 2h0m0 10h0m0 9h0m0 9h0m0 16h0m0 31h0m0 21h0m0 62h0m1-406h0m0 16h0m0 5h0m0 25h0m0 12h0m0 54h0m0 76h0m0 32h0m0 14h0m0 18h0m0 12h0m0 10h0m0 82h0m0 5h0m0 18h0m0 7h0m0 22h0m0 18h0m1-352h0m0 9h0m0 22h0m0 36h0m0 39h0m0 94h0m0 34h0m0 14h0m0 8h0m0 13h0m0 6h0m0 82h0m0 10h0m0 10h0m0 58h0m0 33h0m1-707h0m0 8h0m0 5h0m0 12h0m0 5h0m0 9h0m0 6h0m0 3h0m0 33h0m0 16h0m0 7h0m0 38h0m0 1h0m0 41h0m0 18h0m0 52h0m0 63h0m0 77h0m0 94h0m0 62h0m0 88h0m0 28h0m1-640h0m0 9h0m0 3h0m0 4h0m0 1h0m0 3h0m0 7h0m0 6h0m0 11h0m0 1h0m0 15h0m0 62h0m0 22h0m0 4h0m0 216h0m0 15h0m0 49h0m0 40h0m0 60h0m0 2h0m0 38h0m0 54h0m1-656h0m0 6h0m0 9h0m0 22h0m0 17h0m0 13h0m0 34h0m0 11h0m0 14h0m0 10h0m0 80h0m0 23h0m0 51h0m0 10h0m0 4h0m0 3h0m0 29h0m0 209h0m0 84h0m0 9h0m0 13h0m0 2h0m0 40h0m1-572h0m0 32h0m0 7h0m0 2h0m0 2h0m0 11h0m0 8h0m0 2h0m0 37h0m0 69h0m0 29h0m0 2h0m0 1h0m0 13h0m0 2h0m0 3h0m0 33h0m0 42h0m0 17h0m0 24h0m0 15h0m0 125h0m0 68h0m0 20h0m1-294h0m0 81h0m0 14h0m0 26h0m0 20h0m0 9h0m0 5h0m0 2h0m0 3h0m0 19h0m0 2h0m0 12h0m0 5h0m0 26h0m0 46h0m1-408h0m0 58h0m0 37h0m0 2h0m0 9h0m0 133h0m0 111h0m0 1h0m0 6h0m0 13h0m0 29h0m0 18h0m1-422h0m0 45h0m0 54h0m0 84h0m0 103h0m0 51h0m0 1h0m0 12h0m0 21h0m0 5h0m0 3h0m0 2h0m0 17h0m0 8h0m0 16h0m0 11h0m0 11h0m0 4h0m1-616h0m0 25h0m0 2h0m0 24h0m0 6h0m0 29h0m0 14h0m0 51h0m0 36h0m0 102h0m0 1h0m0 5h0m0 8h0m0 7h0m0 17h0m0 11h0m0 9h0m0 16h0m0 26h0m0 13h0m0 37h0m0 7h0m0 32h0m0 17h0m1-95h0m0 2h0m0 8h0m0 11h0m0 10h0m0 7h0m0 19h0m0 9h0m0 21h0m0 11h0m0 17h0m0 7h0m0 12h0m0 16h0m0 34h0m0 23h0m0 16h0m1-519h0m0 11h0m0 20h0m0 5h0m0 49h0m0 35h0m0 67h0m0 2h0m0 23h0m0 47h0m0 20h0m0 58h0m0 81h0m0 33h0m0 3h0m0 7h0m1-503h0m0 2h0m0 44h0m0 14h0m0 23h0m0 2h0m0 7h0m0 59h0m0 7h0m0 4h0m0 10h0m0 14h0m0 97h0m0 11h0m0 19h0m0 87h0m0 20h0m0 19h0m1-564h0m0 16h0m0 30h0m0 32h0m0 12h0m0 39h0m0 37h0m0 21h0m0 39h0m0 21h0m0 83h0m0 43h0m0 65h0m0 41h0m0 8h0m0 42h0m0 21h0m0 1h0m1-195h0m0 24h0m0 16h0m0 4h0m0 4h0m0 69h0m0 1h0m0 28h0m0 8h0m0 29h0m0 6h0m0 13h0m0 9h0m0 2h0m0 11h0m1-525h0m0 61h0m0 28h0m0 112h0m0 139h0m0 29h0m0 38h0m0 69h0m0 22h0m0 52h0m0 23h0m0 5h0m0 25h0m1-665h0m0 4h0m0 3h0m0 18h0m0 7h0m0 13h0m0 11h0m0 9h0m0 11h0m0 2h0m0 3h0m0 16h0m0 12h0m0 30h0m0 9h0m0 4h0m0 16h0m0 18h0m0 24h0m0 15h0m0 19h0m0 15h0m0 5h0m0 5h0m0 5h0m1-264h0m0 5h0m0 1h0m0 5h0m0 3h0m0 11h0m0 10h0m0 28h0m0 61h0m0 28h0m0 113h0m0 25h0m0 98h0m0 57h0m0 5h0m0 47h0m0 15h0m0 4h0m0 19h0m0 18h0m0 48h0m0 35h0m1-614h0m0 1h0m0 2h0m0 2h0m0 4h0m0 3h0m0 30h0m0 17h0m0 99h0m0 40h0m0 6h0m0 29h0m0 17h0m0 1h0m0 42h0m0 4h0m0 19h0m0 32h0m0 69h0m0 141h0m0 6h0m0 55h0m1-581h0m0 9h0m0 58h0m0 50h0m0 181h0m0 27h0m0 142h0m0 50h0m0 8h0m0 7h0m0 19h0m0 16h0m0 2h0m0 1h0m0 19h0m0 4h0m0 7h0m0 41h0m0 10h0m1-517h0m0 16h0m0 36h0m0 8h0m0 22h0m0 3h0m0 25h0m0 11h0m0 94h0m0 50h0m0 6h0m0 21h0m0 8h0m1-264h0m0 58h0m0 41h0m0 9h0m0 9h0m0 2h0m0 76h0m0 7h0m0 27h0m0 20h0m0 38h0m0 54h0m0 12h0m0 36h0m1-455h0m0 17h0m0 15h0m0 8h0m0 15h0m0 20h0m0 53h0m0 31h0m0 71h0m0 3h0m0 4h0m0 10h0m0 7h0m0 3h0m0 29h0m0 3h0m0 44h0m1-196h0m0 42h0m0 10h0m0 8h0m0 10h0m0 4h0m0 29h0m0 32h0m0 51h0m0 17h0m0 38h0m0 26h0m1-480h0m0 22h0m0 12h0m0 35h0m0 3h0m0 2h0m0 9h0m0 47h0m0 43h0m0 21h0m0 95h0m0 182h0m0 13h0m0 71h0m0 4h0m0 11h0m0 8h0m1-284h0m1 220h0m0 9h0m0 19h0m0 61h0m0 1h0m0 8h0m1-609h0m0 21h0m0 11h0m0 86h0m1-93h0m0 20h0m0 50h0m0 55h0m0 36h0m2-47h0m0 17h0m0 1h0m0 28h0m0 53h0m1 73h0m1-68h0m0 16h0m0 2h0m0 26h0m0 4h0m0 5h0m0 14h0m0 10h0m1-375h0m0 20h0m0 4h0m0 17h0m0 2h0m0 4h0m0 16h0m0 24h0m0 28h0m0 17h0m0 25h0m0 25h0m0 40h0m0 5h0m0 19h0m0 41h0m0 6h0m0 19h0m0 9h0m0 6h0m0 23h0m1 213h0m0 3h0m0 1h0m0 8h0m0 15h0m0 41h0m0 9h0m0 6h0m1-448h0m0 24h0m0 28h0m0 12h0m0 24h0m0 19h0m0 54h0m0 1h0m0 153h0m0 8h0m0 28h0m0 11h0m0 96h0m0 13h0m1-129h0m0 38h0m1-228h0m0 2h0m0 6h0m0 189h0m1-393h0m0 27h0m0 9h0m0 34h0m0 4h0m0 31h0m0 13h0m0 6h0m0 9h0m0 36h0m0 37h0m0 194h0m0 29h0m0 53h0m1-139h0m0 29h0m0 13h0m0 19h0m0 44h0m0 54h0m1-295h0m0 20h0m0 20h0m0 109h0m0 19h0m0 67h0m0 21h0m0 10h0m0 8h0m1-118h0m0 87h0m1-93h0m0 75h0m0 26h0m0 2h0m0 5h0m1-424h0m0 1h0m0 12h0m0 61h0m0 65h0m0 175h0m0 15h0m0 41h0m0 5h0m1-71h0m0 19h0m0 17h0m1-36h0m0 44h0m1-27h0m0 34h0m0 4h0m0 2h0m0 6h0m0 2h0m0 13h0m1-210h0m1-190h0m0 9h0m0 10h0m0 19h0m0 7h0m0 44h0m0 41h0m0 4h0m0 15h0m0 38h0m0 30h0m0 1h0m0 14h0m1-60h0m0 12h0m0 44h0m0 234h0m1-348h0m0 68h0m0 15h0m0 11h0m0 4h0m0 8h0m1 257h0m2-341h0m0 1h0m0 3h0m0 26h0m0 36h0m0 13h0m1-329h0m0 25h0m0 159h0m0 18h0m0 29h0m0 23h0m1-151h0m0 3h0m0 47h0m0 49h0m0 13h0m0 12h0m0 53h0m0 7h0m0 22h0m0 3h0m2-16h0m1 216h0m0 35h0m0 18h0m0 5h0m1-170h0m0 4h0m0 5h0m0 15h0m0 96h0m0 7h0m0 29h0m0 3h0m1-305h0m0 30h0m0 42h0m0 19h0m0 23h0m0 112h0m0 43h0m0 10h0m0 5h0m0 4h0m0 16h0m0 18h0m1-194h0m0 32h0m0 2h0m0 44h0m0 31h0m0 3h0m0 3h0m0 6h0m0 11h0m0 4h0m0 9h0m0 2h0m0 26h0m0 1h0m1-235h0m0 38h0m0 27h0m0 34h0m0 21h0m0 3h0m0 2h0m0 19h0m0 1h0m0 4h0m0 40h0m0 3h0m1-303h0m0 13h0m0 13h0m0 1h0m0 2h0m0 7h0m0 7h0m0 18h0m0 26h0m0 15h0m0 20h0m0 4h0m0 55h0m0 2h0m0 14h0m0 2h0m0 20h0m0 4h0m0 30h0m0 39h0m0 28h0m0 2h0m0 17h0m0 1h0m1-403h0m0 15h0m0 8h0m0 3h0m0 7h0m0 36h0m0 7h0m0 9h0m0 34h0m0 5h0m0 22h0m0 2h0m0 3h0m0 14h0m0 60h0m0 6h0m0 54h0m0 22h0m0 58h0m0 29h0m0 13h0m1-550h0m0 3h0m0 23h0m0 56h0m0 9h0m0 1h0m0 18h0m0 9h0m0 3h0m0 15h0m0 62h0m0 74h0m0 8h0m0 27h0m0 14h0m0 15h0m0 16h0m0 68h0m0 52h0m0 8h0m0 7h0m0 34h0m1-657h0m0 11h0m0 3h0m0 4h0m0 4h0m0 3h0m0 6h0m0 8h0m0 33h0m0 42h0m0 58h0m0 9h0m0 69h0m0 71h0m0 20h0m0 74h0m0 27h0m0 22h0m0 32h0m0 22h0m1-492h0m0 12h0m0 3h0m0 35h0m0 39h0m0 14h0m0 9h0m0 11h0m0 34h0m0 22h0m0 58h0m0 19h0m0 8h0m0 67h0m0 22h0m0 71h0m0 11h0m0 25h0m1-477h0m0 1h0m0 2h0m0 4h0m0 5h0m0 3h0m0 8h0m0 3h0m0 23h0m0 11h0m0 8h0m0 11h0m0 8h0m0 9h0m0 36h0m0 44h0m1-19h0m0 36h0m0 19h0m0 19h0m0 99h0m0 7h0m0 43h0m0 10h0m0 26h0m0 3h0m0 34h0m0 16h0m0 81h0m0 25h0m0 5h0m0 29h0m0 28h0m0 52h0m0 7h0m1-671h0m0 12h0m0 17h0m0 2h0m0 6h0m0 38h0m0 11h0m0 7h0m0 25h0m0 5h0m0 18h0m0 36h0m0 70h0m0 6h0m0 38h0m1-136h0m0 45h0m0 73h0m0 27h0m0 33h0m0 26h0m0 46h0m0 29h0m0 12h0m0 9h0m0 11h0m0 10h0m0 14h0m0 6h0m0 1h0m0 14h0m0 8h0m0 31h0m0 45h0m0 50h0m1-641h0m0 2h0m0 1h0m0 15h0m0 2h0m0 17h0m0 47h0m0 70h0m0 9h0m0 130h0m0 106h0m0 194h0m0 68h0m0 50h0m1-607h0m0 36h0m0 188h0m0 45h0m0 35h0m0 61h0m0 7h0m0 30h0m0 7h0m0 4h0m0 20h0m0 4h0m0 24h0m0 20h0m0 2h0m0 45h0m1-473h0m1-117h0m0 36h0m0 349h0m0 10h0m0 25h0m0 11h0m0 16h0m0 8h0m0 5h0m0 13h0m0 27h0m0 33h0m1-520h0m0 11h0m0 35h0m0 128h0m0 167h0m0 17h0m0 2h0m0 30h0m0 15h0m0 15h0m0 43h0m0 8h0m0 9h0m0 11h0m1-491h0m0 329h0m0 39h0m0 146h0m0 66h0m0 47h0m1-688h0m0 1h0m0 17h0m0 4h0m0 20h0m0 23h0m0 16h0m0 4h0m0 9h0m0 1h0m0 29h0m0 3h0m0 6h0m0 7h0m0 5h0m0 8h0m0 28h0m1-161h0m0 9h0m0 6h0m0 9h0m0 57h0m0 18h0m0 24h0m0 38h0m0 11h0m0 36h0m0 11h0m0 9h0m0 162h0m1-340h0m0 29h0m0 9h0m0 13h0m0 8h0m0 3h0m0 2h0m0 37h0m0 49h0m0 36h0m0 223h0m0 14h0m1-509h0m0 2h0m0 2h0m0 4h0m0 15h0m0 1h0m0 19h0m0 65h0m0 31h0m0 25h0m0 52h0m0 4h0m0 251h0m0 7h0m1-424h0m0 1h0m0 48h0m0 8h0m0 5h0m0 6h0m0 3h0m0 11h0m0 42h0m0 66h0m0 16h0m0 267h0m0 22h0m0 41h0m0 22h0m0 16h0m0 8h0m0 26h0m0 29h0m0 3h0m0 2h0m1-621h0m0 25h0m0 11h0m0 19h0m0 1h0m0 46h0m0 9h0m0 18h0m0 25h0m0 54h0m0 6h0m0 11h0m0 195h0m0 15h0m0 2h0m0 8h0m0 15h0m0 51h0m0 22h0m0 21h0m0 18h0m0 35h0m1-199h0m0 47h0m0 5h0m0 5h0m0 20h0m0 4h0m0 6h0m0 14h0m0 4h0m0 7h0m0 48h0m0 39h0m1-192h0m0 11h0m0 6h0m0 67h0m0 40h0m0 29h0m0 13h0m0 5h0m0 5h0m0 42h0m1-177h0m0 25h0m0 28h0m0 9h0m0 9h0m0 13h0m0 7h0m0 17h0m0 58h0m0 1h0m1-194h0m0 47h0m0 26h0m0 17h0m0 57h0m1-433h0m0 10h0m0 1h0m0 5h0m0 13h0m1-2h0m0 5h0m0 12h0m2 405h0m0 13h0m0 35h0m0 3h0m1-461h0m3 410h0m0 11h0m0 7h0m0 9h0m1-49h0m0 1h0m0 17h0m1-585h0m0 8h0m0 35h0m0 12h0m0 3h0m0 2h0m0 2h0m0 7h0m0 18h0m0 10h0m0 5h0m0 5h0m0 30h0m0 2h0m0 26h0m0 7h0m1-40h0m0 25h0m0 20h0m0 7h0m0 4h0m0 392h0m1-321h0m1-81h0m0 23h0m0 8h0m0 13h0m0 392h0m1-41h0m0 16h0m0 28h0m1-380h0m0 67h0m1-135h0m0 36h0m0 41h0m0 49h0m1-23h0m0 43h0m0 256h0m0 17h0m0 13h0m0 3h0m0 2h0m1-426h0m0 8h0m0 26h0m0 3h0m0 6h0m0 32h0m0 29h0m0 30h0m0 57h0m0 35h0m0 85h0m0 37h0m1-169h0m0 8h0m0 21h0m0 5h0m0 5h0m0 11h0m0 5h0m0 21h0m0 10h0m0 3h0m1-331h0m0 16h0m0 9h0m0 2h0m0 5h0m0 4h0m0 3h0m0 8h0m0 22h0m0 8h0m0 72h0m0 114h0m0 40h0m0 42h0m0 36h0m0 34h0m0 31h0m1-333h0m0 83h0m0 13h0m0 95h0m0 47h0m0 2h0m0 14h0m1-409h0m0 26h0m0 7h0m0 15h0m0 58h0m0 15h0m0 128h0m0 46h0m0 53h0m0 24h0m0 8h0m0 39h0m0 15h0m0 14h0m0 7h0m0 11h0m1-592h0m0 3h0m0 2h0m0 1h0m0 13h0m0 4h0m0 5h0m0 17h0m0 43h0m0 12h0m0 17h0m0 38h0m0 7h0m0 40h0m0 18h0m0 31h0m0 190h0m0 31h0m0 31h0m0 25h0m0 35h0m1-498h0m0 22h0m0 22h0m0 3h0m0 7h0m0 4h0m0 7h0m0 10h0m0 3h0m0 24h0m0 40h0m1 286h0m0 34h0m0 4h0m0 21h0m0 16h0m0 4h0m0 3h0m0 26h0m0 2h0m0 2h0m0 14h0m0 14h0m0 1h0m0 9h0m1-635h0m0 1h0m0 8h0m0 4h0m0 47h0m0 50h0m0 36h0m0 29h0m0 40h0m0 4h0m0 181h0m0 20h0m0 90h0m0 67h0m1-534h0m0 30h0m0 132h0m0 14h0m0 26h0m0 20h0m0 123h0m0 5h0m0 52h0m1-275h0m0 19h0m0 6h0m0 6h0m0 25h0m0 7h0m0 1h0m0 23h0m0 194h0m0 24h0m0 67h0m0 60h0m0 1h0m0 46h0m1-520h0m0 5h0m0 7h0m0 15h0m0 12h0m0 14h0m0 21h0m0 8h0m0 37h0m0 10h0m0 10h0m0 186h0m0 76h0m0 5h0m1-75h0m0 24h0m0 8h0m0 10h0m1-37h0m0 43h0m1-500h0m0 7h0m0 2h0m0 18h0m0 1h0m0 9h0m0 59h0m0 47h0m0 95h0m0 43h0m0 15h0m0 13h0m0 248h0m1-506h0m0 7h0m0 18h0m0 35h0m0 50h0m0 5h0m0 62h0m0 41h0m0 44h0m0 311h0m1-402h0m0 15h0m0 9h0m0 3h0m0 18h0m0 23h0m0 13h0m1-79h0m0 22h0m0 2h0m0 5h0m0 17h0m0 17h0m0 15h0m0 10h0m1 286h0m0 27h0m1-21h0m1-4h0m0 9h0m0 3h0m0 3h0m2-422h0m0 13h0m0 41h0m0 13h0m0 7h0m0 8h0m0 49h0m0 34h0m0 70h0m1-122h0m0 14h0m0 48h0m0 13h0m0 11h0m0 7h0m0 2h0m0 6h0m0 5h0m0 34h0m0 8h0m0 37h0m1-233h0m0 95h0m0 23h0m1-145h0m0 49h0m0 33h0m0 56h0m0 39h0m0 65h0m0 9h0m2 148h0m0 2h0m1-304h0m0 9h0m0 82h0m0 17h0m0 30h0m0 6h0m1-197h0m0 14h0m0 88h0m0 109h0m0 16h0m0 49h0m1-395h0m0 5h0m0 51h0m0 11h0m0 3h0m0 32h0m0 25h0m0 28h0m0 33h0m0 41h0m0 52h0m0 21h0m0 45h0m0 134h0m1-112h0m0 61h0m0 9h0m0 22h0m0 8h0m0 16h0m1-363h0m0 20h0m0 17h0m0 1h0m0 9h0m0 14h0m0 12h0m0 4h0m0 7h0m0 9h0m0 2h0m0 14h0m0 12h0m0 4h0m0 15h0m0 47h0m0 17h0m0 14h0m0 55h0m1-405h0m0 99h0m0 23h0m0 1h0m0 21h0m0 10h0m0 31h0m0 15h0m0 10h0m0 5h0m0 23h0m0 14h0m0 6h0m0 151h0m0 10h0m0 78h0m1-488h0m0 32h0m0 10h0m0 1h0m0 22h0m0 35h0m0 51h0m0 48h0m0 221h0m0 50h0m0 23h0m0 7h0m0 9h0m1-45h0m0 8h0m0 9h0m0 4h0m0 3h0m0 8h0m0 3h0m0 6h0m0 4h0m0 3h0m1-451h0m0 4h0m0 35h0m0 6h0m0 27h0m0 6h0m0 94h0m0 28h0m0 119h0m0 11h0m0 14h0m0 18h0m1-158h0m0 22h0m0 70h0m0 2h0m0 7h0m0 11h0m0 114h0m1-286h0m0 53h0m0 88h0m0 91h0m0 7h0m0 9h0m1-376h0m0 2h0m0 4h0m0 31h0m0 38h0m0 16h0m0 22h0m0 51h0m0 118h0m0 48h0m0 11h0m0 11h0m1-307h0m0 25h0m0 11h0m0 25h0m0 39h0m0 18h0m0 15h0m0 4h0m0 17h0m0 164h0m0 36h0m1-462h0m0 34h0m0 21h0m0 8h0m0 8h0m0 9h0m0 25h0m0 45h0m0 5h0m0 6h0m0 22h0m0 206h0m0 1h0m0 43h0m0 28h0m1 5h0m0 20h0m1-424h0m0 83h0m0 76h0m0 13h0m0 22h0m0 227h0m1-525h0m0 7h0m0 2h0m0 40h0m0 13h0m0 6h0m0 43h0m0 32h0m0 11h0m0 85h0m1 308h0m1-321h0m0 30h0m0 16h0m0 23h0m0 1h0m0 3h0m0 9h0m0 4h0m1-92h0m0 20h0m0 13h0m1-43h0m0 34h0m0 67h0m1 184h0m0 7h0m0 3h0m0 4h0m0 4h0m0 3h0m1-444h0m0 28h0m0 5h0m0 10h0m0 6h0m0 22h0m0 65h0m0 31h0m2-255h0m0 20h0m0 5h0m0 8h0m0 11h0m0 3h0m0 4h0m0 11h0m0 5h0m0 14h0m0 15h0m0 17h0m0 8h0m0 23h0m0 4h0m0 9h0m0 6h0m0 27h0m1-154h0m0 24h0m0 8h0m0 28h0m0 3h0m0 8h0m0 53h0m0 10h0m0 19h0m0 3h0m0 14h0m0 12h0m0 1h0m1-62h0m0 22h0m0 3h0m0 9h0m0 20h0m0 8h0m0 251h0m1-297h0m0 39h0m0 21h0m0 17h0m0 232h0m0 1h0m0 13h0m0 24h0m1-359h0m0 7h0m0 32h0m0 34h0m0 11h0m0 213h0m0 28h0m1-143h0m0 90h0m0 13h0m0 7h0m0 5h0m0 3h0m0 3h0m0 19h0m1-247h0m0 111h0m0 37h0m0 31h0m0 6h0m0 14h0m0 16h0m0 20h0m0 11h0m0 6h0m0 2h0m1-609h0m0 3h0m0 15h0m0 4h0m0 10h0m0 12h0m0 2h0m0 7h0m0 6h0m0 6h0m0 26h0m0 17h0m0 4h0m0 5h0m0 17h0m0 6h0m0 53h0m0 7h0m0 2h0m0 20h0m1-118h0m0 12h0m0 6h0m0 6h0m0 14h0m0 13h0m0 13h0m0 3h0m0 16h0m0 24h0m0 25h0m0 7h0m0 10h0m0 4h0m0 46h0m1-305h0m0 1h0m0 3h0m0 1h0m0 4h0m0 1h0m0 14h0m0 5h0m0 12h0m0 1h0m0 28h0m0 7h0m0 7h0m0 15h0m0 5h0m0 29h0m0 20h0m0 9h0m0 18h0m1-121h0m0 13h0m0 4h0m0 55h0m0 55h0m0 6h0m0 23h0m0 53h0m0 205h0m0 15h0m0 21h0m0 26h0m0 17h0m0 37h0m0 31h0m1-372h0m0 201h0m0 29h0m0 23h0m0 21h0m0 9h0m0 17h0m1-399h0m0 20h0m0 43h0m0 16h0m0 3h0m0 11h0m0 39h0m0 12h0m1-273h0m0 14h0m0 7h0m0 9h0m0 5h0m0 28h0m0 18h0m0 23h0m0 11h0m0 5h0m0 131h0m0 193h0m0 9h0m0 19h0m1-487h0m0 1h0m0 10h0m0 28h0m0 28h0m0 148h0m0 15h0m0 20h0m0 41h0m0 23h0m0 15h0m0 2h0m0 10h0m0 3h0m0 15h0m0 52h0m1-276h0m0 51h0m0 61h0m0 17h0m0 12h0m0 3h0m0 45h0m0 14h0m0 66h0m0 57h0m1-339h0m0 21h0m0 65h0m0 98h0m0 86h0m0 60h0m0 22h0m0 8h0m0 17h0m0 19h0m1-467h0m0 32h0m0 3h0m0 18h0m0 11h0m0 12h0m0 46h0m0 61h0m0 3h0m0 38h0m0 173h0m0 9h0m0 65h0m1-168h0m0 18h0m0 24h0m0 27h0m0 52h0m0 13h0m0 15h0m0 49h0m0 4h0m0 2h0m0 8h0m0 2h0m0 9h0m0 7h0m0 4h0m0 5h0m0 2h0m0 2h0m0 21h0m1-614h0m0 1h0m0 4h0m0 3h0m0 11h0m0 10h0m0 9h0m0 21h0m0 69h0m0 61h0m0 3h0m0 37h0m0 15h0m0 16h0m0 14h0m0 24h0m0 76h0m1-302h0m0 13h0m0 8h0m0 41h0m0 14h0m0 7h0m0 52h0m0 108h0m0 133h0m0 58h0m0 31h0m0 19h0m0 22h0m1-402h0m0 49h0m0 27h0m0 25h0m0 86h0m0 61h0m0 35h0m0 72h0m1-467h0m0 42h0m0 26h0m0 11h0m0 72h0m0 13h0m0 25h0m0 27h0m0 3h0m0 89h0m0 11h0m0 28h0m0 18h0m0 36h0m0 56h0m1-473h0m0 10h0m0 8h0m0 14h0m0 27h0m0 25h0m0 28h0m0 37h0m0 39h0m0 19h0m0 119h0m0 58h0m0 3h0m0 101h0m0 47h0m1-472h0m0 3h0m0 79h0m0 64h0m0 81h0m0 52h0m0 33h0m0 61h0m0 4h0m1-506h0m0 3h0m0 3h0m0 6h0m0 9h0m0 7h0m0 110h0m0 64h0m0 10h0m0 72h0m0 22h0m1-218h0m0 3h0m0 29h0m0 12h0m0 10h0m0 24h0m0 29h0m0 5h0m1 9h0m0 24h0m0 10h0m0 41h0m0 3h0m0 13h0m1-228h0m0 19h0m0 9h0m0 3h0m0 11h0m0 9h0m0 25h0m0 34h0m0 1h0m0 10h0m0 23h0m0 7h0m0 18h0m0 31h0m0 14h0m0 21h0m0 9h0m1-146h0m0 3h0m0 19h0m0 49h0m0 17h0m0 1h0m0 38h0m0 283h0m0 52h0m1-49h0m0 3h0m0 15h0m1-375h0m0 14h0m0 39h0m0 314h0m0 25h0m0 32h0m2-379h0m0 62h0m1-227h0m0 34h0m0 6h0m0 15h0m0 4h0m0 1h0m0 5h0m0 15h0m0 8h0m0 9h0m0 6h0m0 4h0m0 10h0m0 12h0m0 5h0m0 10h0m0 10h0m0 4h0m0 60h0m1-297h0m0 6h0m0 4h0m0 4h0m0 6h0m0 1h0m0 28h0m0 48h0m0 35h0m0 18h0m0 14h0m0 81h0m0 291h0m1 9h0m1-228h0m1-116h0m0 11h0m0 6h0m0 10h0m0 9h0m0 12h0m0 6h0m0 14h0m0 11h0m0 18h0m1-154h0m0 6h0m0 7h0m0 15h0m0 8h0m0 27h0m0 9h0m0 30h0m0 12h0m0 320h0m0 18h0m0 10h0m2-322h0m0 5h0m1-24h0m0 6h0m0 4h0m0 28h0m0 10h0m2 269h0m0 1h0m0 9h0m0 10h0m0 7h0m0 13h0m1-35h0m0 2h0m0 5h0m1 15h0m0 7h0m1-568h0m0 37h0m0 7h0m0 7h0m0 11h0m0 7h0m0 17h0m0 8h0m0 13h0m0 5h0m0 51h0m0 17h0m1-22h0m0 15h0m0 24h0m1-5h0m1-11h0m2-106h0m0 19h0m0 25h0m0 15h0m0 1h0m0 1h0m0 11h0m0 15h0m0 13h0m1 381h0m0 16h0m2-580h0m0 31h0m0 11h0m0 43h0m0 33h0m0 16h0m0 54h0m1-196h0m0 28h0m0 36h0m0 57h0m0 7h0m1-39h0m0 11h0m0 7h0m0 30h0m0 6h0m0 2h0m0 28h0m0 10h0m1 389h0m1-416h0m0 18h0m0 8h0m0 22h0m0 1h0m2 155h0m0 71h0m0 34h0m1-91h0m0 25h0m0 9h0m0 11h0m0 104h0m0 28h0m1-255h0m0 11h0m0 250h0m0 13h0m1-457h0m0 18h0m0 1h0m0 8h0m0 221h0m0 31h0m0 10h0m0 17h0m1-268h0m0 12h0m0 17h0m0 243h0m0 25h0m0 26h0m1-153h0m0 12h0m0 11h0m0 33h0m0 4h0m1-85h0m0 18h0m0 9h0m0 18h0m0 121h0m0 30h0m0 6h0m0 8h0m0 9h0m0 3h0m1-164h0m0 36h0m0 39h0m0 1h0m0 16h0m0 6h0m0 11h0m0 7h0m1-58h0m0 26h0m0 45h0m0 19h0m0 25h0m0 9h0m0 34h0m0 8h0m1-210h0m0 14h0m0 138h0m0 15h0m0 17h0m0 21h0m1-501h0m0 47h0m0 17h0m0 32h0m0 139h0m0 2h0m0 89h0m0 8h0m0 39h0m0 57h0m0 1h0m0 3h0m0 30h0m1-453h0m0 25h0m0 12h0m0 36h0m0 148h0m0 28h0m0 8h0m0 99h0m0 55h0m0 28h0m0 27h0m0 19h0m0 10h0m0 4h0m1-517h0m0 9h0m0 12h0m0 5h0m0 8h0m0 3h0m0 2h0m0 6h0m0 12h0m0 10h0m0 23h0m0 6h0m0 342h0m0 17h0m0 10h0m0 13h0m0 2h0m0 16h0m1-536h0m0 19h0m0 15h0m0 26h0m0 43h0m0 21h0m0 23h0m0 4h0m0 221h0m0 118h0m0 1h0m0 6h0m0 32h0m1-567h0m0 15h0m0 9h0m0 19h0m0 11h0m0 13h0m0 1h0m0 56h0m0 35h0m0 226h0m0 54h0m0 45h0m0 23h0m0 8h0m1-114h0m0 1h0m0 1h0m0 24h0m0 67h0m0 5h0m1-65h0m0 3h0m0 30h0m0 15h0m1-67h0m0 3h0m0 26h0m0 5h0m0 5h0m0 4h0m0 13h0m0 7h0m0 3h0m2-386h0m1-45h0m0 1h0m0 3h0m0 9h0m0 7h0m0 5h0m0 12h0m0 14h0m1-32h0m0 17h0m0 9h0m0 295h0m0 9h0m0 66h0m0 25h0m1 4h0m1-425h0m0 2h0m0 16h0m0 20h0m0 12h0m0 36h0m0 277h0m0 4h0m1-372h0m0 44h0m0 39h0m0 327h0m0 29h0m0 7h0m0 25h0m1-84h0m0 34h0m0 27h0m0 5h0m0 2h0m0 6h0m0 12h0m0 4h0m1-513h0m0 2h0m0 1h0m0 2h0m0 1h0m0 4h0m0 1h0m0 6h0m0 15h0m0 52h0m0 17h0m0 22h0m0 17h0m0 292h0m1-414h0m0 2h0m0 1h0m0 10h0m0 2h0m0 15h0m0 15h0m0 24h0m0 21h0m0 5h0m0 364h0m0 42h0m0 14h0m0 2h0m0 53h0m1-135h0m0 4h0m0 40h0m1-339h0m0 258h0m0 110h0m0 1h0m0 5h0m1-428h0m0 2h0m0 16h0m0 19h0m0 6h0m0 3h0m3 11h0m0 1h0m0 14h0m0 10h0m0 9h0m0 17h0m0 10h0m1 322h0m0 2h0m0 13h0m0 4h0m1-508h0m0 11h0m0 4h0m0 20h0m0 25h0m0 56h0m0 36h0m0 31h0m0 2h0m0 7h0m0 12h0m1-190h0m0 5h0m0 40h0m0 26h0m0 24h0m0 63h0m0 17h0m2 309h0m4-374h0m0 5h0m0 7h0m0 3h0m0 8h0m0 23h0m0 3h0m0 14h0m1-64h0m0 16h0m0 13h0m0 7h0m0 3h0m0 13h0m0 25h0m2 305h0m1-308h0m0 306h0m0 8h0m0 1h0m0 8h0m0 8h0m0 3h0m1-381h0m0 25h0m0 6h0m0 3h0m0 18h0m0 2h0m0 7h0m1 17h0m0 3h0m0 5h0m0 3h0m0 11h0m0 24h0m0 53h0m1-184h0m0 3h0m0 12h0m0 1h0m0 9h0m0 23h0m0 30h0m0 12h0m0 52h0m0 5h0m3-34h0m0 11h0m0 7h0m0 17h0m0 5h0m3 16h0m0 3h0m0 13h0m1 205h0m1-360h0m0 43h0m0 7h0m0 6h0m0 17h0m0 5h0m0 45h0m0 8h0m0 8h0m0 6h0m0 4h0m0 213h0m0 1h0m0 5h0m0 4h0m0 3h0m1-335h0m0 12h0m0 8h0m0 8h0m0 24h0m0 4h0m0 18h0m0 2h0m0 9h0m0 15h0m0 27h0m3-163h0m0 12h0m0 8h0m0 5h0m0 12h0m0 18h0m0 4h0m0 25h0m0 14h0m1 273h0m1-315h0m0 24h0m0 12h0m0 13h0m0 11h0m0 7h0m2 249h0m0 8h0m0 4h0m0 4h0m2-282h0m0 39h0m0 3h0m0 6h0m0 8h0m0 6h0m0 13h0m1-49h0m0 5h0m0 3h0m0 1h0m0 2h0m0 2h0m0 5h0m0 1h0m0 7h0m0 1h0m0 14h0m2-103h0m0 4h0m0 1h0m0 3h0m0 2h0m0 6h0m0 7h0m0 4h0m0 11h0m0 6h0m0 3h0m0 12h0m0 4h0m0 7h0m0 8h0m0 3h0m0 1h0m0 34h0m1 207h0m0 5h0m0 2h0m0 1h0m5-276h0m0 29h0m0 1h0m0 5h0m0 3h0m0 8h0m0 16h0m2 38h0m2-38h0m0 15h0m0 2h0m0 7h0m0 5h0m1 181h0m0 3h0m2 3h0m2 0h0m0 8h0m1 3h0m0 6h0m3-188h0m0 7h0m3 26h0m1 154h0m3 7h0m0 3h0m1-154h0m3 158h0m2-159h0m0 7h0m3 152h0m4 9h0m2-161h0m0 1h0m0 4h0m0 1h0m0 2h0m0 3h0m0 7h0m3 18h0m2 131h0m8-137h0m0 133h0m2 4h0m2-111h0m1 117h0m1 4h0m3-2h0m3 8h0m1 1h0m1-110h0m0 2h0m1 107h0m1-138h0m0 3h0m0 3h0m0 2h0m0 7h0m0 2h0m0 3h0m0 1h0m6 121h0m1-137h0m3 138h0m0 1h0m4-147h0m0 6h0m2 146h0m2-142h0m0 4h0m0 11h0m0 5h0m0 7h0m1-38h0m0 3h0m0 2h0m0 3h0m0 11h0m0 10h0m5 12h0m0 4h0m0 2h0m0 5h0m0 1h0m0 8h0m0 8h0m0 88h0m1-82h0m0 78h0m2 4h0m2-2h0m2-68h0m0 1h0m3 72h0m2-69h0m0 1h0m3 69h0m3 1h0m1 0h0m2-50h0m0 2h0m1 49h0m3-54h0m0 1h0m0 1h0m2 53h0m1-44h0m3 44h0m2 2h0m0 1h0m5-1h0m1-36h0m0 3h0m2 35h0m4-46h0m0 5h0m0 2h0m2-17h0m0 1h0m0 2h0m0 2h0m1 54h0m3-2h0m3-1h0m1 1h0m1-42h0m1 1h0m0 45h0m3 0h0m2 2h0m1-47h0m2 47h0m4-1h0m1-50h0m0 1h0m2-1h0m0 51h0m2 0h0m3-1h0m0 1h0m0 1h0m1-1h0m0 2h0m2-43h0m0 9h0m3 35h0m0 1h0m1 1h0m1 1h0m0 1h0m1-2h0m4-57h0m0 3h0m0 6h0m0 2h0m0 2h0m0 3h0m0 3h0m0 7h0m1-4h0m2 36h0m1-68h0m0 4h0m4 0h0m0 8h0m5 52h0m0 3h0m1 1h0m1-1h0m1-1h0m4-29h0m2 33h0m1-40h0m0 2h0m6 35h0m3 2h0m0 1h0m2-37h0m0 2h0m1 34h0m1-1h0m0 3h0m4-36h0m0 2h0m2 31h0m0 2h0m0 1h0m6-33h0m2 31h0m1 0h0m1 0h0m3-26h0m1 28h0m5-27h0m2 26h0m1-22h0m1 21h0m2 1h0m0 1h0m4-2h0m1 1h0m1-1h0m1-12h0m1 13h0m1-13h0m2-1h0m1-3h0m0 3h0m1 15h0m1-15h0m0 1h0m1 14h0m2 0h0m2-3h0m1 3h0m1 0h0m1-2h0m0 2h0m1-1h0m1-3h0m0 1h0m1-1h0m0 2h0m0 1h0m0 1h0m1-2h0m0 2h0m1-2h0m0 1h0m2-1h0m1 2h0m1-3h0m0 2h0m2-2h0m1 2h0m1-1h0m1 0h0m1-1h0m1 2h0m2-2h0m1 3h0m1-3h0m2 0h0m0 2h0m1 0h0m1-1h0m1-1h0m0 3h0m1-2h0m1-1h0m1 3h0m1-3h0m1 0h0m1 2h0m1-1h0m1 1h0m0 1h0m2-2h0m1 0h0m0 2h0m1-1h0m1 0h0m1-1h0m1 1h0m1-2h0m1 1h0m1-1h0m0 2h0m1-1h0m1 0h0m2 1h0m1-2h0m2 1h0m0 1h0m0 1h0m2-2h0m0 2h0m1-3h0m0 1h0m1 1h0m0 1h0m2-2h0m0 1h0m2 1h0m1-2h0m0 1h0m1-1h0m1-1h0m0 1h0m1 1h0m1-1h0m2 0h0m0 1h0m0 1h0m1-1h0m2-1h0m0 1h0m2 0h0m1-2h0m1 1h0m2 1h0m1-1h0m0 1h0m1 0h0m1 0h0m2-1h0m0 1h0m0 1h0m1-2h0m2 0h0m0 1h0m2 1h0m1-3h0m0 1h0m0 1h0m0 1h0m1 0h0m1-2h0m2 0h0m0 1h0m0 1h0m1-2h0m1 1h0m0 1h0m1-1h0m1-1h0m1 0h0m0 2h0m2-1h0m1-1h0m1-1h0m0 2h0m1-1h0m1 1h0m0 1h0m1-2h0m1 1h0m2-1h0m1 1h0m1-1h0m1 0h0m1 1h0m0 1h0m1-1h0m0 1h0m1-2h0m2 0h0m0 1h0m2-2h0m0 1h0m1 0h0m1 0h0m1 1h0m2-2h0m0 1h0m0 1h0m2-1h0m0 1h0m0 1h0m2-2h0m2 0h0m0 1h0m1-1h0m0 1h0m1-1h0m1 1h0m0 1h0m1-2h0m1 1h0m2-2h0m1 2h0m0 1h0m1-3h0m1 1h0m0 2h0m1-1h0m1-2h0m2 2h0m1-1h0m1 0h0m1 1h0m1-1h0m2-1h0m0 1h0m0 1h0m1 0h0m1 1h0m1-3h0m2 2h0m1-1h0m0 1h0m1-2h0m1 1h0m1 0h0m0 1h0m1 0h0m0 1h0m2 0h0m1-1h0m1-1h0m1 0h0m0 1h0m0 1h0m2-1h0m0 1h0m1-2h0m0 1h0m2-2h0m2 1h0m1 1h0m1-1h0m1 1h0m1 0h0m1-2h0m3 2h0m0 1h0m1-2h0m1 0h0m1 1h0m1 1h0m1-2h0m1 1h0m1 0h0m0 1h0m1-1h0m1 0h0m2-1h0m1 2h0m3-2h0m0 1h0m2 0h0m0 1h0m1-2h0m1 0h0m0 1h0m1-1h0m1 1h0m0 1h0m2-2h0m0 2h0m1 0h0m1-1h0m0 1h0m1-2h0m0 1h0m1 0h0m2-2h0m1 1h0m0 1h0m1 0h0m2 0h0m1-1h0m0 1h0m1-2h0m0 1h0m3-1h0m0 2h0m0 1h0m1 0h0m1-2h0m1 0h0m1 0h0m1 1h0m1-2h0m0 2h0m1-2h0m0 2h0m1-1h0m0 1h0m0 1h0m1-3h0m3 1h0m2 2h0m1-3h0m0 1h0m1-1h0m2 2h0m1-2h0m0 1h0m2 1h0m1-1h0m1-1h0m1 1h0m1 1h0m1 0h0m2-2h0m0 1h0m1 0h0m0 1h0m2 0h0m0 1h0m2-2h0m0 2h0m1-1h0m2 1h0m1-3h0m0 1h0m0 1h0m1-2h0m0 1h0m1 0h0m0 1h0m2-1h0m1-1h0m1 1h0m0 1h0m1-2h0m1 2h0m1 1h0m1-1h0m1 0h0m1-1h0m2 0h0m1 1h0m1-1h0m1 0h0m0 2h0m1-2h0m1-2h0m0 3h0m1 1h0m2-2h0m0 1h0m1-2h0m1 1h0m1 2h0m1-1h0m1 0h0m1-1h0m1-1h0m0 3h0m1-1h0m2-1h0m0 2h0m1 0h0m1-1h0m0 1h0m2-2h0m0 1h0m1-1h0m1-2h0m1 1h0m0 2h0m2 1h0m1 0h0m1 0h0m1-2h0m0 1h0m1 0h0m1-1h0m1 0h0m0 1h0m1 0h0m1 1h0m2-2h0m1 2h0m1-1h0m1-1h0m0 1h0m0 1h0m2-1h0m1-1h0m0 1h0m0 1h0m2-2h0m1-1h0m1 2h0m1 0h0m1-1h0m1 1h0m1-2h0m1 1h0m0 1h0m1-1h0m0 1h0m1 0h0m1 0h0m2-1h0m0 1h0m2-1h0m1 0h0m1 0h0m0 1h0m1 0h0m2 0h0m1-1h0m1 0h0m1 2h0m2-2h0m0 1h0m1 0h0m2-1h0m0 1h0m1 1h0m2 0h0m1-2h0m0 1h0m1 0h0m1 1h0m1-2h0m1 1h0m1 1h0m2-2h0m0 2h0m1-1h0m1-1h0m0 1h0m0 1h0m1-3h0m0 1h0m1 0h0m0 1h0m2-2h0m0 2h0m3-1h0m0 1h0m2-1h0m1 1h0m1 0h0m1 1h0m2-2h0m1 1h0m1 1h0m1-3h0m3 2h0m2 1h0m1-1h0m1-1h0m0 1h0m0 1h0m1-1h0m2 0h0m1 1h0m1-2h0m2 1h0m0 1h0m1-2h0m1 1h0m1-1h0m1 1h0m1-1h0m2 1h0m2 0h0m0 1h0m1-2h0m2 0h0m0 1h0m1-1h0m1 0h0m1-1h0m0 2h0m1-1h0m1 0h0m1 2h0m1-3h0m0 1h0m1 1h0m2 0h0m0 1h0m1-1h0m0 1h0m3-2h0m0 1h0m1-2h0m1 0h0m0 1h0m1 0h0m0 2h0m2-1h0m2-1h0m1 0h0m1 0h0m1 0h0m0 2h0m1-2h0m0 1h0m2-2h0m1 1h0m2 0h0m1 2h0m1-2h0m1 1h0m1 1h0m1-1h0m1-1h0m0 1h0m1 0h0m0 1h0m1-2h0m1 1h0m1 1h0m2-1h0m1-1h0m0 1h0m0 1h0m2-2h0m2 0h0m0 2h0m1 0h0m1-1h0m1-1h0m2 1h0m1-1h0m0 1h0m3-1h0m2 1h0m0 1h0m2-2h0m0 1h0m1 0h0m3-2h0m0 1h0m0 2h0m1-2h0m0 1h0m2 0h0m2-1h0m0 1h0m1 1h0m2 0h0m1-2h0m0 1h0m1 0h0m0 1h0m2-1h0m0 1h0m2-2h0m1 0h0m0 1h0m1 1h0m1 0h0m1-1h0m2-1h0m0 1h0m0 1h0m1-3h0m2 2h0m0 1h0m2-2h0m0 1h0m1 0h0m2-2h0m0 1h0m1 0h0m0 1h0m2-1h0m0 1h0m1 0h0m2 0h0m0 1h0m2-1h0m0 1h0m1-1h0m0 1h0m1-3h0m1 2h0m1 0h0m0 1h0m2-2h0m2 1h0m2 0h0m0 1h0m1-2h0m1 2h0m1-2h0m0 1h0m1-1h0m0 1h0m1 1h0m1-2h0m1-2h0m0 1h0m0 2h0m1 0h0m1-1h0m0 1h0m0 1h0m2 0h0m1-1h0m1-1h0m0 1h0m2-1h0m0 1h0m1 0h0m1 0h0m0 1h0m1-2h0m1 1h0m1 1h0m1-3h0m1 2h0m1-1h0m1 1h0m1 1h0m1-2h0m0 1h0m2-1h0m0 2h0m1-1h0m1-2h0m0 1h0m0 1h0m2 0h0m1-1h0m0 1h0m1 0h0m1-1h0m0 1h0m2-1h0m2 0h0m0 2h0m1 0h0m1-2h0m1 1h0m0 1h0m1-2h0m2 1h0m0 1h0m1-1h0m2-2h0m0 2h0m1-1h0m0 2h0m2 0h0m1-1h0m2 0h0m0 1h0m1-3h0m1 0h0m0 1h0m2 1h0m1-1h0m0 1h0m1 0h0m2-2h0m1 2h0m1-1h0m0 1h0m1-2h0m0 1h0m0 1h0m1 0h0m1 0h0m1 0h0m1-1h0m1 0h0m1 1h0m2-2h0m0 2h0m1-1h0m0 2h0m1-2h0m0 1h0m2-1h0m1 1h0m2 1h0m1-1h0m1-2h0m0 2h0m1-2h0m2 0h0m0 1h0m0 1h0m1-1h0m1-1h0m1 1h0m0 1h0m1-1h0m1 2h0m1-2h0m1 1h0m0 1h0m1-1h0m1 0h0m2 0h0m0 1h0m1-2h0m0 1h0m1 1h0m1-1h0m1 0h0m0 1h0m1-1h0m1-1h0m2 1h0m1-1h0m1 2h0m1-2h0m0 1h0m1-1h0m1 1h0m1-1h0m1 2h0m1-2h0m1-1h0m0 2h0m0 1h0m2-2h0m1 1h0m1 1h0m2-3h0m1 2h0m1-1h0m1 0h0m0 1h0m1 1h0m1 0h0m1-1h0m1-2h0m1 2h0m0 1h0m2-2h0m0 1h0m0 1h0m2-2h0m1 0h0m0 1h0m1 0h0m1 1h0m1-2h0m0 1h0m2-1h0m0 1h0m2-1h0m0 2h0m2 0h0m1-2h0m1 0h0m2 1h0m0 1h0m1-1h0m0 1h0m1-2h0m1 1h0m1-1h0m1 0h0m1 1h0m2-2h0m1 1h0m0 2h0m1-2h0m1 1h0m0 1h0m2-2h0m2 0h0m0 1h0m0 1h0m1-2h0m0 1h0m2 0h0m1-2h0m0 1h0m1 1h0m1-2h0m0 1h0m1 1h0m1 1h0m1-1h0m1-1h0m1 1h0m3-1h0m1 1h0m1 0h0m1 0h0m1-1h0m2 1h0m1-1h0m3 1h0m1-2h0m0 1h0m2 0h0m1 1h0m0 1h0m1-2h0m1 0h0m0 1h0m1-2h0m2 1h0m0 1h0m2 0h0m1-2h0m1-1h0m0 1h0m1 1h0m1 2h0m1-1h0m1-1h0m1 0h0m0 2h0m3-1h0m1-1h0m0 1h0m1 1h0m1-1h0m1-1h0m1 2h0m1-2h0m0 1h0m0 1h0m1-3h0m0 2h0m2-2h0m2 2h0m0 1h0m2-2h0m0 2h0m3-2h0m0 1h0m1-2h0m2 0h0m2 1h0m0 2h0m1-1h0m0 1h0m2-2h0m0 1h0m0 1h0m1 0h0m1-2h0m1 1h0m1-1h0m2 0h0m0 2h0m1-1h0m1 1h0m1-2h0m2 0h0m0 2h0m2 0h0m2-2h0m0 2h0m1-1h0m2-1h0m0 1h0m0 1h0m1-2h0m1 0h0m1 0h0m2 1h0m1-1h0m1 0h0m0 1h0m2 0h0m1-2h0m2 2h0m0 1h0m1-2h0m0 1h0m1-2h0m0 3h0m1-1h0m2 0h0m0 1h0m1-3h0m0 1h0m1 1h0m1 0h0m1-1h0m1 1h0m1-1h0m1 1h0m1 0h0m2-1h0m0 2h0m1-1h0m1 0h0m0 1h0m1-2h0m1 2h0m1-3h0m1 2h0m2-1h0m0 2h0m1-1h0m1-2h0m2 2h0m2 0h0m0 1h0m1-3h0m0 1h0m1-1h0m1 2h0m2-1h0m0 2h0m1-1h0m0 1h0m1-2h0m1-1h0m0 2h0m2-2h0m1 1h0m1 1h0m1 1h0m1-2h0m0 1h0m1 0h0m1 0h0m1-1h0m0 2h0m1-1h0m1-1h0m1 1h0m1-1h0m0 1h0m1-1h0m0 2h0m1-1h0m0 1h0m1-2h0m1 2h0m1-3h0m1 1h0m1 0h0m1 1h0m1-3h0m2 3h0m1 1h0m1-3h0m0 1h0m1 1h0m1 0h0m0 1h0m1-1h0m2-1h0m0 1h0m1 1h0m2-2h0m1 1h0m1-1h0m1 0h0m1 0h0m0 1h0m2 0h0m0 1h0m1-1h0m1-1h0m0 1h0m1-2h0m1 2h0m1-1h0m1 1h0m3-1h0m0 1h0m2 1h0m1-2h0m0 2h0m1-2h0m1 1h0m0 1h0m1-3h0m3 1h0m0 1h0m1 0h0m1 1h0m1-2h0m0 1h0m1 0h0m1 0h0m1 0h0m1 1h0m1 0h0m1-1h0m2-2h0m0 3h0m2-2h0m1 1h0m1 1h0m1-2h0m0 2h0m1 0h0m2-2h0m0 1h0m1 0h0m1 0h0m1 1h0m1-2h0m0 1h0m1 0h0m1 1h0m1-2h0m0 1h0m2 0h0m1-2h0m0 2h0m1 0h0m2-1h0m1 1h0m0 1h0m2-3h0m2 2h0m2 0h0m1-1h0m1 1h0m0 1h0m1-3h0m0 1h0m0 2h0m2-3h0m1 2h0m1-2h0m1 1h0m0 1h0m2-1h0m1 1h0m0 1h0m2 0h0m1-2h0m0 1h0m1 0h0m2-2h0m0 2h0m1-1h0m1 0h0m1 1h0m1-2h0m0 1h0m1 2h0m1-2h0m1 0h0m0 1h0m1 0h0m2-1h0m1 1h0m1-2h0m1 1h0m1 1h0m2 0h0m1-1h0m1-1h0m2 1h0m0 2h0m1-3h0m2 2h0m1 0h0m0 1h0m1-3h0m0 1h0m1-1h0m2 0h0m0 1h0m0 2h0m1-2h0m2 1h0m1-1h0m0 1h0m1 1h0m1-1h0m1 1h0m3-2h0m1 0h0m0 2h0m1-1h0m2-1h0m0 1h0m1 0h0m1-1h0m1 0h0m1 1h0m1-1h0m1 2h0m2-2h0m0 1h0m1-2h0m2 1h0m1 1h0m2-1h0m0 1h0m2 1h0m1-1h0m0 1h0m1-2h0m1 1h0m1-2h0m0 1h0m1 1h0m1-2h0m1 1h0m1 0h0m0 1h0m0 1h0m2-3h0m0 1h0m1-1h0m0 3h0m1-1h0m1-1h0m0 1h0m1-3h0m0 4h0m2-7h0m0 7h0m1-6h0m0 2h0m3 4h0m1-2h0m0 2h0m1-8h0m1 8h0m2-1h0m1-11h0m1 10h0m0 2h0m1-10h0m0 9h0m2-13h0m0 3h0m0 1h0m1 10h0m2-1h0m0 1h0m1-12h0m2 12h0m2-8h0m1 8h0m2 0h0m2 0h0m2-10h0m0 2h0m0 1h0m1 7h0m2-12h0m0 1h0m2 11h0m1-1h0m1 1h0m2 0h0m1-7h0m3 0h0m0 7h0m1-10h0m2 10h0m2-19h0m0 1h0m0 3h0m0 1h0m4 14h0m1 0h0m3-15h0m0 1h0m1 0h0m2 14h0m3-1h0m0 1h0m3-16h0m0 3h0m5 13h0m3-3h0m1-18h0m2 18h0m1-26h0m0 2h0m0 1h0m3-8h0m0 4h0m0 1h0m0 26h0m1-28h0m5 30h0m1-21h0m0 1h0m1 20h0m3 0h0m0 1h0m2 0h0m1-20h0m0 1h0m1 18h0m3-1h0m0 2h0m2-14h0m0 14h0m4 0h0m1 0h0m1-18h0m2 2h0m0 14h0m0 2h0m3-16h0m1-2h0m1 16h0m3 2h0m1-2h0m4-16h0m0 17h0m1-16h0m1-2h0m0 1h0m2 16h0m1 1h0m2-23h0m0 3h0m0 1h0m0 19h0m2 0h0m2-1h0m1 2h0m4 0h0m2-25h0m0 23h0m1-28h0m0 3h0m0 1h0m2 23h0m3-31h0m0 1h0m2-8h0m2-3h0m0 2h0m0 2h0m1 37h0m2 2h0m4 1h0m5-27h0m0 1h0m1 24h0m4-1h0m2-29h0m0 4h0m1-2h0m3 26h0m1 0h0m4 0h0m0 2h0m2-25h0m1 23h0m3-2h0m1-22h0m0 25h0m1-26h0m2-2h0m2-8h0m0 5h0m0 6h0m0 9h0m0 1h0m0 1h0m0 9h0m0 2h0m1-26h0m0 1h0m0 3h0m0 17h0m1-14h0m0 2h0m0 2h0m0 2h0m0 3h0m0 1h0"/><path class="filt" d="M116.5 1024.3L117.0 1024.2L117.5 1024.4L118.0 1024.5L118.5 1024.3L119.0 1024.1L119.5 1024.0L120.0 1024.0L120.5 1024.0L121.0 1023.8L121.5 1023.4L122.0 1022.9L122.5 1022.3L123.0 1021.9L123.5 1021.6L124.0 1021.2L124.5 1020.8L125.0 1020.6L125.5 1020.6L126.0 1020.7L126.5 1021.0L127.0 1021.7L127.5 1022.1L128.0 1022.2L128.5 1022.1L129.0 1022.2L129.5 1022.4L130.0 1022.6L130.5 1022.6L131.0 1022.3L131.5 1021.8L132.0 1021.5L132.5 1021.5L133.0 1021.6L133.5 1021.1L134.0 1020.2L134.5 1019.2L135.0 1018.5L135.5 1018.5L136.0 1018.9L136.5 1019.4L137.0 1019.9L137.5 1020.2L138.0 1020.2L138.5 1019.8L139.0 1019.0L139.5 1018.1L140.0 1017.3L140.5 1016.7L141.0 1016.1L141.5 1015.5L142.0 1015.3L142.5 1015.4L143.0 1015.3L143.5 1014.9L144.0 1014.4L144.5 1014.0L145.0 1013.7L145.5 1013.6L146.0 1013.5L146.5 1013.2L147.0 1013.0L147.5 1012.8L148.0 1012.5L148.5 1012.2L149.0 1012.1L149.5 1011.8L150.0 1010.9L150.5 1009.7L151.0 1008.8L151.5 1008.1L152.0 1007.2L152.5 1006.5L153.0 1006.1L153.5 1005.8L154.0 1005.4L154.5 1004.2L155.0 1002.3L155.5 1000.9L156.0 1000.5L156.5 1000.9L157.0 1001.0L157.5 999.7L158.0 997.8L158.5 996.6L159.0 996.3L159.5 995.9L160.0 994.5L160.5 992.8L161.0 991.2L161.5 990.0L162.0 988.8L162.5 988.1L163.0 987.6L163.5 986.9L164.0 985.8L164.5 984.4L165.0 983.5L165.5 983.2L166.0 983.0L166.5 982.4L167.0 982.1L167.5 982.4L168.0 982.7L168.5 982.0L169.0 980.1L169.5 978.3L170.0 977.7L170.5 978.7L171.0 979.1L171.5 978.2L172.0 977.0L172.5 976.3L173.0 976.1L173.5 976.2L174.0 976.8L174.5 977.7L175.0 978.4L175.5 978.5L176.0 977.9L176.5 975.0L177.0 971.0L177.5 967.5L178.0 965.2L178.5 964.0L179.0 962.9L179.5 961.7L180.0 960.3L180.5 959.9L181.0 959.5L181.5 958.2L182.0 956.3L182.5 954.5L183.0 953.3L183.5 952.6L184.0 952.5L184.5 952.8L185.0 953.2L185.5 952.9L186.0 952.1L186.5 951.7L187.0 952.4L187.5 953.7L188.0 954.3L188.5 953.3L189.0 951.9L189.5 951.5L190.0 952.1L190.5 952.5L191.0 951.8L191.5 949.6L192.0 946.9L192.5 944.8L193.0 943.6L193.5 943.2L194.0 945.3L194.5 946.8L195.0 948.0L195.5 949.4L196.0 951.7L196.5 954.6L197.0 958.0L197.5 961.5L198.0 965.1L198.5 965.8L199.0 963.8L199.5 961.2L200.0 958.5L200.5 955.9L201.0 953.7L201.5 952.1L202.0 950.8L202.5 949.1L203.0 946.9L203.5 949.4L204.0 952.4L204.5 955.3L205.0 958.4L205.5 962.1L206.0 966.0L206.5 969.4L207.0 972.3L207.5 975.0L208.0 971.7L208.5 968.5L209.0 963.4L209.5 957.2L210.0 951.8L210.5 942.5L211.0 928.1L211.5 913.0L212.0 897.3L212.5 881.4L213.0 866.0L213.5 877.2L214.0 892.6L214.5 907.0L215.0 920.1L215.5 932.4L216.0 944.0L216.5 955.5L217.0 944.7L217.5 922.1L218.0 899.7L218.5 877.3L219.0 855.3L219.5 836.5L220.0 849.0L220.5 861.0L221.0 869.7L221.5 876.0L222.0 882.1L222.5 888.6L223.0 894.8L223.5 900.7L224.0 907.3L224.5 915.3L225.0 923.4L225.5 903.4L226.0 877.6L226.5 854.5L227.0 835.0L227.5 840.0L228.0 848.2L228.5 852.1L229.0 852.8L229.5 852.4L230.0 854.0L230.5 854.8L231.0 850.4L231.5 845.2L232.0 838.5L232.5 830.0L233.0 820.4L233.5 812.1L234.0 817.6L234.5 825.5L235.0 834.3L235.5 842.8L236.0 849.1L236.5 848.3L237.0 837.8L237.5 827.8L238.0 817.4L238.5 817.6L239.0 840.2L239.5 864.1L240.0 887.4L240.5 902.7L241.0 906.0L241.5 911.0L242.0 916.5L242.5 920.9L243.0 924.8L243.5 916.9L244.0 904.4L244.5 892.4L245.0 881.1L245.5 870.8L246.0 860.8L246.5 849.3L247.0 836.1L247.5 822.2L248.0 808.2L248.5 795.4L249.0 785.9L249.5 778.4L250.0 770.0L250.5 759.6L251.0 748.1L251.5 736.9L252.0 741.3L252.5 747.7L253.0 753.0L253.5 757.1L254.0 760.5L254.5 762.6L255.0 760.8L255.5 760.1L256.0 757.7L256.5 758.0L257.0 771.7L257.5 785.7L258.0 800.0L258.5 814.4L259.0 829.1L259.5 844.4L260.0 859.5L260.5 873.2L261.0 886.9L261.5 902.3L262.0 904.1L262.5 903.2L263.0 903.8L263.5 905.5L264.0 904.5L264.5 892.9L265.0 879.5L265.5 866.8L266.0 854.4L266.5 848.2L267.0 864.6L267.5 883.8L268.0 902.9L268.5 915.3L269.0 905.7L269.5 896.1L270.0 884.8L270.5 870.6L271.0 856.5L271.5 860.4L272.0 877.5L272.5 894.1L273.0 909.7L273.5 926.4L274.0 921.0L274.5 906.2L275.0 886.2L275.5 864.1L276.0 845.7L276.5 861.0L277.0 880.2L277.5 899.6L278.0 917.7L278.5 927.3L279.0 899.3L279.5 870.8L280.0 843.7L280.5 818.5L281.0 793.3L281.5 792.5L282.0 814.7L282.5 836.6L283.0 857.3L283.5 876.8L284.0 878.4L284.5 873.5L285.0 870.3L285.5 870.2L286.0 873.1L286.5 876.9L287.0 887.3L287.5 895.4L288.0 901.0L288.5 904.7L289.0 905.3L289.5 898.2L290.0 894.9L290.5 890.6L291.0 881.1L291.5 865.7L292.0 848.4L292.5 835.1L293.0 829.0L293.5 824.7L294.0 818.3L294.5 809.0L295.0 798.5L295.5 789.1L296.0 781.7L296.5 776.1L297.0 784.3L297.5 791.6L298.0 798.2L298.5 805.0L299.0 812.0L299.5 814.8L300.0 811.5L300.5 808.4L301.0 807.2L301.5 807.1L302.0 805.9L302.5 802.6L303.0 797.6L303.5 792.5L304.0 799.7L304.5 815.6L305.0 831.3L305.5 845.2L306.0 858.5L306.5 873.5L307.0 883.0L307.5 891.2L308.0 898.1L308.5 906.1L309.0 915.6L309.5 919.5L310.0 913.9L310.5 908.8L311.0 902.8L311.5 894.7L312.0 879.5L312.5 859.9L313.0 840.8L313.5 822.4L314.0 804.2L314.5 786.4L315.0 773.6L315.5 781.7L316.0 789.5L316.5 797.0L317.0 805.5L317.5 815.1L318.0 823.6L318.5 829.3L319.0 830.8L319.5 831.6L320.0 834.1L320.5 838.5L321.0 842.8L321.5 845.2L322.0 846.7L322.5 849.2L323.0 853.8L323.5 858.8L324.0 864.0L324.5 870.0L325.0 876.9L325.5 880.9L326.0 878.4L326.5 877.0L327.0 874.3L327.5 868.8L328.0 861.6L328.5 853.6L329.0 845.9L329.5 840.0L330.0 836.3L330.5 833.3L331.0 838.9L331.5 843.6L332.0 848.0L332.5 854.5L333.0 862.8L333.5 870.9L334.0 878.5L334.5 887.7L335.0 899.1L335.5 909.6L336.0 909.3L336.5 897.0L337.0 885.1L337.5 875.3L338.0 867.2L338.5 860.7L339.0 854.6L339.5 849.3L340.0 850.9L340.5 850.6L341.0 850.3L341.5 851.8L342.0 857.0L342.5 865.3L343.0 865.1L343.5 858.7L344.0 848.0L344.5 836.9L345.0 843.9L345.5 858.7L346.0 873.6L346.5 886.0L347.0 880.6L347.5 870.8L348.0 862.2L348.5 855.5L349.0 848.4L349.5 848.9L350.0 847.9L350.5 846.7L351.0 846.7L351.5 848.5L352.0 850.7L352.5 851.7L353.0 850.5L353.5 848.0L354.0 846.1L354.5 846.6L355.0 848.8L355.5 851.3L356.0 853.6L356.5 855.3L357.0 853.1L357.5 849.4L358.0 846.3L358.5 844.3L359.0 842.0L359.5 837.6L360.0 832.4L360.5 829.2L361.0 831.7L361.5 834.7L362.0 835.0L362.5 833.7L363.0 832.8L363.5 832.8L364.0 824.7L364.5 817.7L365.0 810.0L365.5 802.0L366.0 794.2L366.5 786.1L367.0 776.5L367.5 765.7L368.0 758.2L368.5 761.2L369.0 765.2L369.5 769.1L370.0 772.5L370.5 775.8L371.0 786.7L371.5 800.8L372.0 815.3L372.5 832.6L373.0 852.5L373.5 871.3L374.0 873.3L374.5 871.1L375.0 867.8L375.5 867.2L376.0 870.1L376.5 875.4L377.0 872.8L377.5 863.8L378.0 852.4L378.5 839.4L379.0 826.1L379.5 814.7L380.0 811.6L380.5 810.3L381.0 808.4L381.5 804.0L382.0 796.7L382.5 788.1L383.0 780.6L383.5 774.9L384.0 781.3L384.5 790.1L385.0 800.3L385.5 808.6L386.0 813.7L386.5 816.9L387.0 820.6L387.5 825.5L388.0 830.9L388.5 836.4L389.0 834.8L389.5 827.6L390.0 820.9L390.5 816.4L391.0 812.8L391.5 808.1L392.0 802.6L392.5 803.4L393.0 804.3L393.5 806.9L394.0 810.5L394.5 813.3L395.0 811.1L395.5 806.3L396.0 803.2L396.5 801.3L397.0 800.5L397.5 800.3L398.0 799.1L398.5 795.3L399.0 794.5L399.5 796.9L400.0 799.2L400.5 803.5L401.0 810.2L401.5 818.2L402.0 811.7L402.5 802.6L403.0 791.9L403.5 781.6L404.0 775.8L404.5 794.7L405.0 810.9L405.5 825.1L406.0 836.0L406.5 812.0L407.0 788.8L407.5 765.2L408.0 742.2L408.5 723.1L409.0 724.7L409.5 744.4L410.0 759.9L410.5 772.8L411.0 785.8L411.5 800.0L412.0 794.0L412.5 783.4L413.0 771.4L413.5 759.7L414.0 749.4L414.5 741.2L415.0 741.5L415.5 749.6L416.0 755.4L416.5 760.5L417.0 765.9L417.5 772.3L418.0 779.4L418.5 789.9L419.0 800.7L419.5 811.1L420.0 818.9L420.5 823.2L421.0 827.1L421.5 834.3L422.0 844.4L422.5 831.7L423.0 817.8L423.5 803.8L424.0 791.0L424.5 779.5L425.0 777.4L425.5 789.1L426.0 800.5L426.5 812.2L427.0 823.1L427.5 833.3L428.0 844.5L428.5 857.3L429.0 867.3L429.5 871.3L430.0 874.2L430.5 877.3L431.0 881.0L431.5 884.5L432.0 887.7L432.5 891.8L433.0 894.8L433.5 892.7L434.0 888.8L434.5 882.1L435.0 873.4L435.5 862.8L436.0 851.4L436.5 843.4L437.0 841.4L437.5 843.4L438.0 844.1L438.5 848.3L439.0 847.6L439.5 843.9L440.0 842.1L440.5 846.3L441.0 854.5L441.5 861.9L442.0 867.2L442.5 872.1L443.0 878.1L443.5 884.3L444.0 881.3L444.5 872.7L445.0 864.6L445.5 858.3L446.0 852.9L446.5 847.4L447.0 842.0L447.5 836.5L448.0 829.7L448.5 821.8L449.0 814.6L449.5 810.4L450.0 807.5L450.5 806.4L451.0 806.5L451.5 806.3L452.0 805.5L452.5 803.8L453.0 801.5L453.5 800.2L454.0 804.3L454.5 808.5L455.0 809.4L455.5 809.7L456.0 800.3L456.5 786.8L457.0 775.2L457.5 763.4L458.0 749.5L458.5 733.9L459.0 718.6L459.5 704.3L460.0 710.1L460.5 728.1L461.0 746.3L461.5 766.0L462.0 785.7L462.5 803.5L463.0 816.9L463.5 815.5L464.0 812.9L464.5 810.2L465.0 808.7L465.5 808.6L466.0 809.4L466.5 814.5L467.0 820.0L467.5 825.1L468.0 831.3L468.5 825.4L469.0 815.4L469.5 804.9L470.0 795.2L470.5 799.8L471.0 803.8L471.5 806.1L472.0 805.9L472.5 803.9L473.0 803.7L473.5 807.9L474.0 814.2L474.5 819.7L475.0 824.0L475.5 827.4L476.0 829.5L476.5 819.3L477.0 808.9L477.5 798.6L478.0 789.2L478.5 781.7L479.0 777.8L479.5 777.7L480.0 775.9L480.5 775.7L481.0 777.1L481.5 778.3L482.0 779.2L482.5 777.2L483.0 775.6L483.5 773.5L484.0 771.0L484.5 769.5L485.0 771.7L485.5 778.8L486.0 783.8L486.5 787.3L487.0 792.0L487.5 799.2L488.0 809.0L488.5 817.9L489.0 824.8L489.5 831.0L490.0 837.5L490.5 844.8L491.0 853.4L491.5 862.7L492.0 872.0L492.5 881.6L493.0 891.0L493.5 894.2L494.0 890.6L494.5 887.0L495.0 886.0L495.5 887.9L496.0 889.8L496.5 892.0L497.0 892.7L497.5 893.1L498.0 895.0L498.5 898.5L499.0 900.1L499.5 895.3L500.0 887.8L500.5 879.9L501.0 873.8L501.5 870.2L502.0 868.7L502.5 870.1L503.0 871.7L503.5 872.9L504.0 874.6L504.5 876.2L505.0 874.0L505.5 864.2L506.0 854.7L506.5 842.8L507.0 834.6L507.5 851.2L508.0 871.5L508.5 856.9L509.0 832.1L509.5 806.3L510.0 780.7L510.5 793.1L511.0 814.5L511.5 837.8L512.0 865.3L512.5 873.5L513.0 872.7L513.5 866.7L514.0 857.5L514.5 854.5L515.0 854.7L515.5 856.5L516.0 859.7L516.5 852.9L517.0 844.9L517.5 838.4L518.0 831.5L518.5 822.1L519.0 813.3L519.5 819.6L520.0 827.0L520.5 834.1L521.0 838.5L521.5 841.3L522.0 847.3L522.5 853.1L523.0 858.5L523.5 860.5L524.0 859.8L524.5 858.6L525.0 854.5L525.5 831.1L526.0 807.4L526.5 784.2L527.0 761.0L527.5 739.1L528.0 721.4L528.5 706.2L529.0 691.6L529.5 681.1L530.0 682.8L530.5 684.7L531.0 686.0L531.5 685.8L532.0 684.8L532.5 711.9L533.0 752.2L533.5 793.6L534.0 836.4L534.5 838.4L535.0 818.6L535.5 797.5L536.0 777.0L536.5 783.4L537.0 803.3L537.5 821.9L538.0 839.7L538.5 858.5L539.0 877.5L539.5 864.1L540.0 851.8L540.5 839.3L541.0 825.7L541.5 812.9L542.0 801.6L542.5 791.4L543.0 779.8L543.5 772.4L544.0 788.0L544.5 804.0L545.0 821.1L545.5 838.7L546.0 855.9L546.5 868.2L547.0 878.0L547.5 888.6L548.0 899.8L548.5 910.1L549.0 904.9L549.5 896.3L550.0 888.8L550.5 881.8L551.0 874.2L551.5 867.0L552.0 866.5L552.5 865.3L553.0 865.3L553.5 864.1L554.0 850.8L554.5 838.1L555.0 827.5L555.5 823.4L556.0 841.7L556.5 857.6L557.0 870.3L557.5 876.0L558.0 856.5L558.5 839.5L559.0 827.7L559.5 819.7L560.0 811.5L560.5 816.8L561.0 834.4L561.5 852.3L562.0 869.3L562.5 884.8L563.0 899.7L563.5 887.2L564.0 870.6L564.5 853.3L565.0 837.5L565.5 835.4L566.0 836.3L566.5 837.7L567.0 838.0L567.5 838.3L568.0 847.5L568.5 856.8L569.0 865.5L569.5 871.2L570.0 853.9L570.5 837.4L571.0 821.0L571.5 803.3L572.0 784.7L572.5 767.4L573.0 753.2L573.5 759.8L574.0 766.6L574.5 770.4L575.0 775.1L575.5 783.1L576.0 792.9L576.5 804.9L577.0 820.1L577.5 835.4L578.0 848.6L578.5 858.6L579.0 867.0L579.5 870.6L580.0 874.6L580.5 880.3L581.0 887.3L581.5 894.4L582.0 892.7L582.5 891.3L583.0 889.1L583.5 885.1L584.0 878.8L584.5 870.3L585.0 861.7L585.5 855.6L586.0 851.2L586.5 847.3L587.0 844.5L587.5 843.1L588.0 841.4L588.5 835.1L589.0 823.3L589.5 811.0L590.0 799.6L590.5 789.1L591.0 778.9L591.5 768.4L592.0 775.3L592.5 782.4L593.0 789.8L593.5 796.4L594.0 801.8L594.5 803.7L595.0 800.8L595.5 799.0L596.0 799.1L596.5 805.1L597.0 817.5L597.5 828.2L598.0 836.7L598.5 838.9L599.0 830.7L599.5 821.7L600.0 813.5L600.5 807.1L601.0 801.8L601.5 795.2L602.0 784.9L602.5 773.4L603.0 764.7L603.5 760.2L604.0 770.1L604.5 777.7L605.0 780.2L605.5 781.0L606.0 785.1L606.5 794.2L607.0 805.3L607.5 815.3L608.0 821.1L608.5 824.5L609.0 827.7L609.5 832.9L610.0 840.2L610.5 848.4L611.0 856.2L611.5 862.0L612.0 864.8L612.5 866.1L613.0 869.0L613.5 874.8L614.0 882.0L614.5 886.3L615.0 883.0L615.5 877.5L616.0 870.2L616.5 864.9L617.0 867.3L617.5 873.4L618.0 876.5L618.5 874.0L619.0 870.3L619.5 872.0L620.0 877.0L620.5 882.8L621.0 890.8L621.5 900.2L622.0 904.5L622.5 906.4L623.0 906.8L623.5 904.9L624.0 882.7L624.5 858.2L625.0 837.5L625.5 817.7L626.0 795.4L626.5 772.9L627.0 759.0L627.5 748.3L628.0 740.3L628.5 730.7L629.0 716.1L629.5 710.2L630.0 714.0L630.5 722.1L631.0 733.6L631.5 745.1L632.0 747.3L632.5 746.3L633.0 746.5L633.5 747.6L634.0 758.2L634.5 771.5L635.0 785.0L635.5 798.5L636.0 811.1L636.5 820.9L637.0 820.0L637.5 818.8L638.0 817.4L638.5 818.0L639.0 825.0L639.5 833.0L640.0 839.8L640.5 844.7L641.0 848.9L641.5 847.7L642.0 841.4L642.5 835.2L643.0 830.5L643.5 826.7L644.0 826.3L644.5 828.3L645.0 831.5L645.5 834.7L646.0 837.4L646.5 839.2L647.0 836.2L647.5 832.1L648.0 825.5L648.5 816.5L649.0 807.8L649.5 802.2L650.0 800.2L650.5 799.2L651.0 796.9L651.5 793.1L652.0 790.5L652.5 791.6L653.0 804.6L653.5 815.6L654.0 823.0L654.5 828.1L655.0 833.2L655.5 840.5L656.0 849.9L656.5 860.5L657.0 872.7L657.5 886.0L658.0 892.3L658.5 895.3L659.0 898.1L659.5 898.2L660.0 894.8L660.5 889.9L661.0 885.3L661.5 883.5L662.0 883.1L662.5 882.7L663.0 882.3L663.5 880.9L664.0 877.3L664.5 872.7L665.0 869.0L665.5 867.9L666.0 869.1L666.5 870.9L667.0 873.4L667.5 875.3L668.0 872.4L668.5 866.7L669.0 862.8L669.5 864.5L670.0 871.7L670.5 876.8L671.0 880.5L671.5 885.5L672.0 883.5L672.5 874.2L673.0 862.8L673.5 849.9L674.0 837.7L674.5 827.9L675.0 821.0L675.5 811.8L676.0 799.5L676.5 788.6L677.0 783.1L677.5 783.6L678.0 788.0L678.5 790.6L679.0 790.7L679.5 787.6L680.0 783.8L680.5 780.7L681.0 779.2L681.5 780.2L682.0 782.5L682.5 784.5L683.0 788.9L683.5 793.1L684.0 796.7L684.5 800.8L685.0 805.7L685.5 808.3L686.0 804.3L686.5 798.9L687.0 793.0L687.5 788.5L688.0 790.4L688.5 798.5L689.0 807.0L689.5 814.3L690.0 820.7L690.5 826.8L691.0 833.0L691.5 837.5L692.0 841.2L692.5 845.6L693.0 851.7L693.5 859.3L694.0 860.2L694.5 852.3L695.0 843.0L695.5 832.2L696.0 828.2L696.5 833.7L697.0 840.6L697.5 850.0L698.0 855.1L698.5 852.0L699.0 847.9L699.5 843.2L700.0 838.2L700.5 832.7L701.0 831.9L701.5 832.2L702.0 833.3L702.5 835.0L703.0 835.2L703.5 830.6L704.0 819.3L704.5 808.4L705.0 802.7L705.5 802.0L706.0 799.0L706.5 793.2L707.0 784.0L707.5 773.7L708.0 774.0L708.5 791.5L709.0 808.9L709.5 826.1L710.0 835.1L710.5 830.1L711.0 825.3L711.5 820.3L712.0 814.7L712.5 809.3L713.0 811.4L713.5 817.9L714.0 825.6L714.5 831.5L715.0 824.5L715.5 811.6L716.0 798.5L716.5 786.9L717.0 793.3L717.5 807.6L718.0 821.9L718.5 834.6L719.0 837.8L719.5 838.8L720.0 841.2L720.5 843.6L721.0 850.3L721.5 857.5L722.0 864.4L722.5 871.8L723.0 879.6L723.5 885.7L724.0 878.8L724.5 870.7L725.0 862.7L725.5 855.4L726.0 852.8L726.5 861.9L727.0 872.4L727.5 883.1L728.0 892.9L728.5 904.2L729.0 914.2L729.5 921.8L730.0 925.0L730.5 925.1L731.0 925.8L731.5 928.1L732.0 928.9L732.5 924.8L733.0 921.2L733.5 918.5L734.0 915.1L734.5 911.4L735.0 909.7L735.5 909.9L736.0 910.7L736.5 910.8L737.0 909.6L737.5 906.6L738.0 903.1L738.5 901.9L739.0 908.0L739.5 917.1L740.0 923.6L740.5 928.0L741.0 933.1L741.5 939.3L742.0 944.8L742.5 948.5L743.0 947.8L743.5 945.1L744.0 943.2L744.5 941.9L745.0 940.7L745.5 939.0L746.0 936.7L746.5 935.6L747.0 939.8L747.5 947.5L748.0 954.7L748.5 961.3L749.0 967.8L749.5 973.5L750.0 969.9L750.5 965.0L751.0 960.0L751.5 955.2L752.0 951.6L752.5 953.8L753.0 958.1L753.5 963.5L754.0 967.9L754.5 970.2L755.0 969.8L755.5 968.5L756.0 966.9L756.5 964.3L757.0 961.4L757.5 959.8L758.0 959.8L758.5 962.6L759.0 964.8L759.5 966.7L760.0 969.2L760.5 971.4L761.0 971.9L761.5 970.8L762.0 970.2L762.5 971.9L763.0 975.0L763.5 977.0L764.0 977.1L764.5 977.1L765.0 978.8L765.5 981.5L766.0 983.3L766.5 983.4L767.0 981.8L767.5 979.9L768.0 979.4L768.5 980.6L769.0 982.1L769.5 982.5L770.0 981.2L770.5 978.5L771.0 975.4L771.5 972.8L772.0 972.0L772.5 975.0L773.0 978.5L773.5 981.7L774.0 984.7L774.5 986.8L775.0 987.8L775.5 988.6L776.0 988.1L776.5 988.4L777.0 988.5L777.5 987.3L778.0 985.5L778.5 983.8L779.0 982.2L779.5 980.9L780.0 980.0L780.5 979.7L781.0 979.6L781.5 979.7L782.0 979.8L782.5 979.9L783.0 982.2L783.5 987.7L784.0 993.0L784.5 996.8L785.0 998.8L785.5 1000.2L786.0 1000.8L786.5 1003.3L787.0 1006.3L787.5 1007.7L788.0 1007.5L788.5 1006.9L789.0 1006.3L789.5 1006.3L790.0 1007.5L790.5 1009.8L791.0 1011.8L791.5 1012.3L792.0 1011.9L792.5 1011.1L793.0 1010.7L793.5 1010.8L794.0 1011.1L794.5 1011.2L795.0 1010.7L795.5 1009.6L796.0 1009.4L796.5 1009.9L797.0 1010.1L797.5 1010.1L798.0 1010.8L798.5 1012.5L799.0 1014.5L799.5 1016.4L800.0 1018.1L800.5 1019.7L801.0 1020.7L801.5 1020.8L802.0 1020.2L802.5 1019.7L803.0 1019.8L803.5 1019.9L804.0 1019.4L804.5 1018.7L805.0 1017.1L805.5 1015.8L806.0 1014.9L806.5 1013.8L807.0 1013.0L807.5 1012.4L808.0 1011.8L808.5 1013.1L809.0 1014.8L809.5 1016.1L810.0 1017.1L810.5 1017.8L811.0 1018.6L811.5 1019.8L812.0 1019.5L812.5 1018.6L813.0 1017.6L813.5 1016.8L814.0 1016.7L814.5 1017.0L815.0 1017.2L815.5 1017.5L816.0 1017.6L816.5 1017.7L817.0 1017.9L817.5 1018.1L818.0 1018.2L818.5 1018.7L819.0 1019.2L819.5 1019.2L820.0 1018.7L820.5 1018.3L821.0 1018.8L821.5 1020.0L822.0 1021.7L822.5 1023.3L823.0 1024.6L823.5 1025.3L824.0 1025.6L824.5 1025.3L825.0 1024.9L825.5 1025.1L826.0 1026.4L826.5 1028.2L827.0 1029.6L827.5 1030.2L828.0 1029.1L828.5 1027.0L829.0 1024.9L829.5 1023.5L830.0 1022.5L830.5 1021.3L831.0 1019.5L831.5 1017.8L832.0 1016.7L832.5 1016.7L833.0 1018.4L833.5 1020.0L834.0 1021.6L834.5 1023.0L835.0 1024.3L835.5 1025.8L836.0 1027.4L836.5 1029.0L837.0 1030.1L837.5 1028.8L838.0 1027.6L838.5 1026.5L839.0 1025.0L839.5 1023.2L840.0 1021.1L840.5 1019.5L841.0 1020.3L841.5 1021.6L842.0 1023.1L842.5 1024.1L843.0 1024.6L843.5 1025.2L844.0 1026.1L844.5 1027.2L845.0 1027.9L845.5 1027.1L846.0 1026.2L846.5 1025.5L847.0 1024.9L847.5 1024.2L848.0 1023.7L848.5 1023.4L849.0 1023.6L849.5 1023.7L850.0 1024.2L850.5 1024.2L851.0 1023.8L851.5 1023.9L852.0 1024.6L852.5 1025.7L853.0 1026.8L853.5 1027.6L854.0 1028.4L854.5 1029.2L855.0 1030.0L855.5 1030.3L856.0 1029.5L856.5 1028.3L857.0 1027.3L857.5 1026.7L858.0 1026.7L858.5 1027.0L859.0 1027.4L859.5 1027.5L860.0 1027.1L860.5 1026.7L861.0 1026.8L861.5 1027.2L862.0 1027.7L862.5 1028.2L863.0 1028.7L863.5 1029.1L864.0 1029.5L864.5 1029.8L865.0 1030.2L865.5 1030.5L866.0 1030.7L866.5 1030.7L867.0 1030.6L867.5 1030.3L868.0 1030.1L868.5 1030.2L869.0 1030.4L869.5 1030.7L870.0 1031.1L870.5 1031.5L871.0 1031.8L871.5 1032.0L872.0 1032.1L872.5 1032.0L873.0 1032.2L873.5 1032.2L874.0 1032.2L874.5 1032.2L875.0 1032.2L875.5 1032.2L876.0 1032.0L876.5 1031.7L877.0 1031.7L877.5 1031.8L878.0 1031.9L878.5 1031.8L879.0 1031.8L879.5 1031.7L880.0 1031.7L880.5 1031.6L881.0 1031.6L881.5 1031.6L882.0 1031.6L882.5 1031.6L883.0 1031.6L883.5 1031.7L884.0 1031.7L884.5 1031.7L885.0 1031.7L885.5 1031.7L886.0 1031.8L886.5 1031.8L887.0 1031.8L887.5 1031.9L888.0 1031.9L888.5 1031.9L889.0 1032.0L889.5 1032.0L890.0 1031.9L890.5 1031.9L891.0 1031.9L891.5 1031.8L892.0 1031.8L892.5 1031.8L893.0 1031.9L893.5 1031.9L894.0 1031.8L894.5 1031.8L895.0 1031.7L895.5 1031.7L896.0 1031.6L896.5 1031.6L897.0 1031.7L897.5 1031.7L898.0 1031.8L898.5 1031.8L899.0 1031.8L899.5 1031.8L900.0 1031.8L900.5 1031.8L901.0 1031.9L901.5 1031.9L902.0 1031.9L902.5 1031.9L903.0 1031.8L903.5 1031.8L904.0 1031.7L904.5 1031.8L905.0 1031.8L905.5 1031.8L906.0 1031.9L906.5 1031.9L907.0 1031.8L907.5 1031.8L908.0 1031.8L908.5 1031.9L909.0 1031.8L909.5 1031.7L910.0 1031.6L910.5 1031.6L911.0 1031.7L911.5 1031.8L912.0 1031.9L912.5 1031.9L913.0 1031.9L913.5 1031.9L914.0 1031.9L914.5 1031.9L915.0 1031.9L915.5 1031.8L916.0 1031.8L916.5 1031.9L917.0 1031.9L917.5 1032.0L918.0 1032.0L918.5 1032.0L919.0 1032.0L919.5 1032.1L920.0 1032.1L920.5 1032.0L921.0 1032.0L921.5 1032.0L922.0 1032.0L922.5 1031.9L923.0 1031.8L923.5 1031.8L924.0 1031.8L924.5 1031.8L925.0 1031.9L925.5 1031.9L926.0 1031.9L926.5 1031.9L927.0 1031.9L927.5 1031.9L928.0 1031.9L928.5 1031.8L929.0 1031.8L929.5 1031.8L930.0 1031.8L930.5 1031.8L931.0 1031.7L931.5 1031.7L932.0 1031.7L932.5 1031.7L933.0 1031.8L933.5 1031.8L934.0 1031.8L934.5 1031.9L935.0 1031.9L935.5 1031.8L936.0 1031.7L936.5 1031.7L937.0 1031.8L937.5 1031.9L938.0 1031.9L938.5 1031.9L939.0 1031.9L939.5 1031.9L940.0 1031.9L940.5 1031.8L941.0 1031.8L941.5 1031.9L942.0 1031.9L942.5 1031.9L943.0 1031.8L943.5 1031.8L944.0 1031.7L944.5 1031.7L945.0 1031.8L945.5 1031.8L946.0 1031.8L946.5 1031.7L947.0 1031.6L947.5 1031.7L948.0 1031.7L948.5 1031.7L949.0 1031.7L949.5 1031.6L950.0 1031.7L950.5 1031.7L951.0 1031.7L951.5 1031.7L952.0 1031.7L952.5 1031.7L953.0 1031.8L953.5 1031.9L954.0 1031.9L954.5 1032.0L955.0 1031.9L955.5 1031.9L956.0 1031.8L956.5 1031.8L957.0 1031.7L957.5 1031.6L958.0 1031.6L958.5 1031.7L959.0 1031.8L959.5 1031.8L960.0 1031.8L960.5 1031.8L961.0 1031.8L961.5 1031.8L962.0 1031.8L962.5 1031.8L963.0 1031.9L963.5 1032.0L964.0 1032.0L964.5 1031.9L965.0 1031.9L965.5 1032.0L966.0 1032.1L966.5 1032.1L967.0 1032.0L967.5 1032.0L968.0 1031.9L968.5 1031.8L969.0 1031.8L969.5 1031.7L970.0 1031.8L970.5 1031.8L971.0 1031.8L971.5 1031.8L972.0 1031.8L972.5 1031.8L973.0 1031.9L973.5 1032.0L974.0 1032.0L974.5 1032.0L975.0 1032.0L975.5 1031.8L976.0 1031.8L976.5 1031.7L977.0 1031.7L977.5 1031.8L978.0 1031.8L978.5 1031.8L979.0 1031.8L979.5 1031.8L980.0 1031.8L980.5 1031.8L981.0 1031.8L981.5 1031.9L982.0 1031.9L982.5 1031.8L983.0 1031.8L983.5 1031.8L984.0 1031.7L984.5 1031.7L985.0 1031.7L985.5 1031.8L986.0 1031.7L986.5 1031.7L987.0 1031.8L987.5 1031.8L988.0 1031.8L988.5 1031.8L989.0 1031.8L989.5 1031.8L990.0 1031.8L990.5 1031.8L991.0 1031.7L991.5 1031.6L992.0 1031.6L992.5 1031.7L993.0 1031.8L993.5 1031.8L994.0 1031.8L994.5 1031.8L995.0 1031.7L995.5 1031.7L996.0 1031.8L996.5 1031.9L997.0 1032.0L997.5 1031.9L998.0 1031.9L998.5 1032.0L999.0 1031.9L999.5 1031.8L1000.0 1031.8L1000.5 1031.8L1001.0 1031.8L1001.5 1031.8L1002.0 1031.8L1002.5 1031.9L1003.0 1031.8L1003.5 1031.8L1004.0 1031.8L1004.5 1031.8L1005.0 1031.8L1005.5 1031.8L1006.0 1031.8L1006.5 1031.9L1007.0 1032.0L1007.5 1031.9L1008.0 1031.9L1008.5 1031.9L1009.0 1031.9L1009.5 1031.9L1010.0 1031.8L1010.5 1031.8L1011.0 1031.8L1011.5 1031.8L1012.0 1031.8L1012.5 1031.9L1013.0 1031.8L1013.5 1031.8L1014.0 1031.7L1014.5 1031.7L1015.0 1031.8L1015.5 1031.9L1016.0 1031.9L1016.5 1031.9L1017.0 1031.7L1017.5 1031.6L1018.0 1031.5L1018.5 1031.5L1019.0 1031.6L1019.5 1031.7L1020.0 1031.8L1020.5 1031.9L1021.0 1031.9L1021.5 1031.9L1022.0 1031.9L1022.5 1031.9L1023.0 1031.8L1023.5 1031.8L1024.0 1031.8L1024.5 1031.9L1025.0 1032.0L1025.5 1032.1L1026.0 1032.1L1026.5 1032.1L1027.0 1032.0L1027.5 1031.9L1028.0 1031.8L1028.5 1031.7L1029.0 1031.7L1029.5 1031.7L1030.0 1031.8L1030.5 1031.8L1031.0 1031.7L1031.5 1031.7L1032.0 1031.7L1032.5 1031.7L1033.0 1031.7L1033.5 1031.7L1034.0 1031.6L1034.5 1031.6L1035.0 1031.7L1035.5 1031.7L1036.0 1031.7L1036.5 1031.8L1037.0 1031.8L1037.5 1031.8L1038.0 1031.8L1038.5 1031.9L1039.0 1031.9L1039.5 1031.9L1040.0 1031.9L1040.5 1031.9L1041.0 1031.9L1041.5 1031.9L1042.0 1031.9L1042.5 1031.9L1043.0 1031.9L1043.5 1031.9L1044.0 1031.9L1044.5 1032.0L1045.0 1032.0L1045.5 1032.0L1046.0 1032.1L1046.5 1032.0L1047.0 1032.0L1047.5 1031.9L1048.0 1031.9L1048.5 1031.9L1049.0 1031.9L1049.5 1031.8L1050.0 1031.8L1050.5 1031.8L1051.0 1031.8L1051.5 1031.8L1052.0 1031.8L1052.5 1031.8L1053.0 1031.9L1053.5 1032.0L1054.0 1032.1L1054.5 1032.1L1055.0 1032.1L1055.5 1032.1L1056.0 1032.0L1056.5 1032.0L1057.0 1031.9L1057.5 1031.8L1058.0 1031.8L1058.5 1031.9L1059.0 1031.9L1059.5 1031.9L1060.0 1031.9L1060.5 1031.9L1061.0 1031.9L1061.5 1031.9L1062.0 1031.9L1062.5 1032.0L1063.0 1032.0L1063.5 1031.9L1064.0 1031.9L1064.5 1031.8L1065.0 1031.8L1065.5 1031.8L1066.0 1031.8L1066.5 1031.8L1067.0 1031.7L1067.5 1031.8L1068.0 1031.9L1068.5 1032.0L1069.0 1032.1L1069.5 1032.1L1070.0 1032.0L1070.5 1031.8L1071.0 1031.7L1071.5 1031.6L1072.0 1031.6L1072.5 1031.6L1073.0 1031.6L1073.5 1031.6L1074.0 1031.7L1074.5 1031.9L1075.0 1032.1L1075.5 1032.1L1076.0 1032.0L1076.5 1031.8L1077.0 1031.7L1077.5 1031.7L1078.0 1031.7L1078.5 1031.7L1079.0 1031.7L1079.5 1031.8L1080.0 1031.8L1080.5 1031.9L1081.0 1032.0L1081.5 1032.0L1082.0 1032.0L1082.5 1032.0L1083.0 1032.0L1083.5 1031.9L1084.0 1031.9L1084.5 1031.9L1085.0 1032.0L1085.5 1032.0L1086.0 1032.0L1086.5 1032.0L1087.0 1031.9L1087.5 1031.9L1088.0 1032.0L1088.5 1032.0L1089.0 1032.0L1089.5 1032.1L1090.0 1032.0L1090.5 1031.9L1091.0 1031.9L1091.5 1031.9L1092.0 1032.0L1092.5 1032.1L1093.0 1032.1L1093.5 1032.1L1094.0 1032.0L1094.5 1032.0L1095.0 1031.9L1095.5 1031.9L1096.0 1031.9L1096.5 1031.8L1097.0 1031.8L1097.5 1031.8L1098.0 1031.9L1098.5 1031.9L1099.0 1031.9L1099.5 1031.9L1100.0 1031.9L1100.5 1031.9L1101.0 1031.9L1101.5 1031.8L1102.0 1031.7L1102.5 1031.6L1103.0 1031.7L1103.5 1031.8L1104.0 1031.9L1104.5 1031.9L1105.0 1031.9L1105.5 1031.9L1106.0 1031.8L1106.5 1031.8L1107.0 1031.9L1107.5 1031.9L1108.0 1031.9L1108.5 1031.9L1109.0 1031.8L1109.5 1031.8L1110.0 1031.9L1110.5 1032.0L1111.0 1032.1L1111.5 1032.1L1112.0 1032.0L1112.5 1031.9L1113.0 1031.9L1113.5 1031.8L1114.0 1031.9L1114.5 1031.9L1115.0 1031.8L1115.5 1031.8L1116.0 1031.8L1116.5 1031.8L1117.0 1031.7L1117.5 1031.7L1118.0 1031.7L1118.5 1031.8L1119.0 1031.9L1119.5 1032.0L1120.0 1032.0L1120.5 1032.0L1121.0 1032.0L1121.5 1032.0L1122.0 1031.9L1122.5 1031.9L1123.0 1031.8L1123.5 1031.8L1124.0 1031.8L1124.5 1031.8L1125.0 1031.8L1125.5 1031.8L1126.0 1031.8L1126.5 1031.9L1127.0 1031.9L1127.5 1031.9L1128.0 1031.9L1128.5 1031.8L1129.0 1031.6L1129.5 1031.5L1130.0 1031.5L1130.5 1031.7L1131.0 1031.8L1131.5 1031.9L1132.0 1031.9L1132.5 1031.9L1133.0 1031.9L1133.5 1031.9L1134.0 1031.8L1134.5 1031.8L1135.0 1031.8L1135.5 1031.8L1136.0 1031.8L1136.5 1031.8L1137.0 1031.8L1137.5 1031.8L1138.0 1031.8L1138.5 1031.8L1139.0 1031.8L1139.5 1031.8L1140.0 1031.8L1140.5 1031.8L1141.0 1031.8L1141.5 1031.8L1142.0 1031.7L1142.5 1031.7L1143.0 1031.7L1143.5 1031.8L1144.0 1031.8L1144.5 1031.9L1145.0 1032.0L1145.5 1032.0L1146.0 1031.9L1146.5 1031.8L1147.0 1031.9L1147.5 1031.9L1148.0 1031.8L1148.5 1031.8L1149.0 1031.8L1149.5 1031.8L1150.0 1031.8L1150.5 1031.8L1151.0 1031.8L1151.5 1031.8L1152.0 1031.8L1152.5 1031.8L1153.0 1031.8L1153.5 1031.7L1154.0 1031.7L1154.5 1031.7L1155.0 1031.8L1155.5 1031.9L1156.0 1031.9L1156.5 1031.9L1157.0 1031.8L1157.5 1031.8L1158.0 1031.7L1158.5 1031.7L1159.0 1031.7L1159.5 1031.7L1160.0 1031.7L1160.5 1031.8L1161.0 1031.9L1161.5 1031.9L1162.0 1031.9L1162.5 1031.8L1163.0 1031.8L1163.5 1031.9L1164.0 1031.9L1164.5 1031.9L1165.0 1031.8L1165.5 1031.8L1166.0 1031.8L1166.5 1031.7L1167.0 1031.7L1167.5 1031.7L1168.0 1031.7L1168.5 1031.8L1169.0 1031.8L1169.5 1031.8L1170.0 1031.9L1170.5 1031.9L1171.0 1032.0L1171.5 1032.1L1172.0 1032.1L1172.5 1032.1L1173.0 1032.1L1173.5 1032.0L1174.0 1031.9L1174.5 1031.9L1175.0 1031.9L1175.5 1032.0L1176.0 1032.1L1176.5 1032.0L1177.0 1032.0L1177.5 1031.9L1178.0 1031.8L1178.5 1031.8L1179.0 1031.8L1179.5 1031.8L1180.0 1031.8L1180.5 1031.8L1181.0 1031.8L1181.5 1031.7L1182.0 1031.7L1182.5 1031.7L1183.0 1031.7L1183.5 1031.8L1184.0 1031.8L1184.5 1031.8L1185.0 1031.9L1185.5 1031.9L1186.0 1031.9L1186.5 1031.9L1187.0 1031.8L1187.5 1031.8L1188.0 1031.9L1188.5 1031.9L1189.0 1031.9L1189.5 1031.9L1190.0 1031.9L1190.5 1031.9L1191.0 1032.0L1191.5 1032.0L1192.0 1032.1L1192.5 1032.1L1193.0 1032.0L1193.5 1032.0L1194.0 1031.9L1194.5 1031.9L1195.0 1031.9L1195.5 1031.9L1196.0 1031.8L1196.5 1031.9L1197.0 1031.9L1197.5 1032.0L1198.0 1032.0L1198.5 1032.0L1199.0 1032.0L1199.5 1031.9L1200.0 1031.9L1200.5 1031.9L1201.0 1031.9L1201.5 1031.9L1202.0 1032.0L1202.5 1032.0L1203.0 1032.0L1203.5 1031.9L1204.0 1031.9L1204.5 1032.0L1205.0 1032.0L1205.5 1032.0L1206.0 1031.8L1206.5 1031.7L1207.0 1031.7L1207.5 1031.8L1208.0 1031.8L1208.5 1031.9L1209.0 1031.9L1209.5 1031.9L1210.0 1031.9L1210.5 1031.8L1211.0 1031.8L1211.5 1031.7L1212.0 1031.7L1212.5 1031.8L1213.0 1031.8L1213.5 1031.8L1214.0 1031.8L1214.5 1031.8L1215.0 1031.8L1215.5 1031.8L1216.0 1031.8L1216.5 1031.8L1217.0 1031.9L1217.5 1031.9L1218.0 1031.9L1218.5 1031.9L1219.0 1031.9L1219.5 1031.9L1220.0 1031.9L1220.5 1031.9L1221.0 1031.8L1221.5 1031.8L1222.0 1031.7L1222.5 1031.6L1223.0 1031.5L1223.5 1031.5L1224.0 1031.6L1224.5 1031.8L1225.0 1031.9L1225.5 1031.9L1226.0 1031.9L1226.5 1031.9L1227.0 1031.9L1227.5 1031.9L1228.0 1031.9L1228.5 1031.9L1229.0 1031.9L1229.5 1031.9L1230.0 1031.8L1230.5 1031.8L1231.0 1031.8L1231.5 1031.8L1232.0 1031.8L1232.5 1031.8L1233.0 1031.9L1233.5 1031.9L1234.0 1032.0L1234.5 1031.9L1235.0 1031.8L1235.5 1031.7L1236.0 1031.6L1236.5 1031.6L1237.0 1031.7L1237.5 1031.7L1238.0 1031.8L1238.5 1031.9L1239.0 1032.1L1239.5 1032.1L1240.0 1032.0L1240.5 1031.9L1241.0 1031.8L1241.5 1031.8L1242.0 1031.8L1242.5 1031.8L1243.0 1031.8L1243.5 1031.8L1244.0 1031.8L1244.5 1032.0L1245.0 1032.1L1245.5 1032.2L1246.0 1032.2L1246.5 1032.1L1247.0 1032.0L1247.5 1032.0L1248.0 1032.0L1248.5 1032.0L1249.0 1031.9L1249.5 1031.9L1250.0 1031.9L1250.5 1031.9L1251.0 1031.8L1251.5 1031.8L1252.0 1031.8L1252.5 1031.8L1253.0 1031.9L1253.5 1031.9L1254.0 1031.9L1254.5 1031.9L1255.0 1031.8L1255.5 1031.7L1256.0 1031.7L1256.5 1031.7L1257.0 1031.7L1257.5 1031.8L1258.0 1031.8L1258.5 1031.7L1259.0 1031.7L1259.5 1031.7L1260.0 1031.8L1260.5 1031.9L1261.0 1032.0L1261.5 1032.0L1262.0 1032.0L1262.5 1032.0L1263.0 1032.1L1263.5 1032.1L1264.0 1032.1L1264.5 1032.0L1265.0 1031.9L1265.5 1031.8L1266.0 1031.8L1266.5 1031.8L1267.0 1031.8L1267.5 1031.7L1268.0 1031.7L1268.5 1031.7L1269.0 1031.7L1269.5 1031.7L1270.0 1031.7L1270.5 1031.8L1271.0 1031.9L1271.5 1031.9L1272.0 1031.9L1272.5 1031.9L1273.0 1031.8L1273.5 1031.8L1274.0 1031.8L1274.5 1031.8L1275.0 1031.8L1275.5 1031.8L1276.0 1031.8L1276.5 1031.8L1277.0 1031.8L1277.5 1031.8L1278.0 1031.8L1278.5 1031.9L1279.0 1031.9L1279.5 1032.0L1280.0 1032.0L1280.5 1032.1L1281.0 1032.0L1281.5 1031.9L1282.0 1031.7L1282.5 1031.6L1283.0 1031.7L1283.5 1031.7L1284.0 1031.8L1284.5 1031.7L1285.0 1031.6L1285.5 1031.6L1286.0 1031.6L1286.5 1031.7L1287.0 1031.8L1287.5 1031.9L1288.0 1031.9L1288.5 1031.9L1289.0 1031.9L1289.5 1031.9L1290.0 1031.9L1290.5 1031.8L1291.0 1031.7L1291.5 1031.7L1292.0 1031.8L1292.5 1031.9L1293.0 1031.9L1293.5 1031.9L1294.0 1031.8L1294.5 1031.7L1295.0 1031.7L1295.5 1031.7L1296.0 1031.7L1296.5 1031.8L1297.0 1031.9L1297.5 1031.9L1298.0 1031.9L1298.5 1031.8L1299.0 1031.9L1299.5 1031.9L1300.0 1032.0L1300.5 1031.9L1301.0 1031.9L1301.5 1031.8L1302.0 1031.8L1302.5 1031.8L1303.0 1031.8L1303.5 1031.8L1304.0 1031.8L1304.5 1031.8L1305.0 1031.8L1305.5 1031.9L1306.0 1032.0L1306.5 1032.1L1307.0 1032.0L1307.5 1032.0L1308.0 1032.0L1308.5 1032.0L1309.0 1032.0L1309.5 1032.0L1310.0 1031.9L1310.5 1031.9L1311.0 1031.9L1311.5 1031.9L1312.0 1031.9L1312.5 1031.9L1313.0 1031.9L1313.5 1031.9L1314.0 1031.9L1314.5 1031.9L1315.0 1031.9L1315.5 1031.8L1316.0 1031.8L1316.5 1031.7L1317.0 1031.7L1317.5 1031.6L1318.0 1031.6L1318.5 1031.6L1319.0 1031.7L1319.5 1031.9L1320.0 1031.9L1320.5 1032.0L1321.0 1032.0L1321.5 1032.0L1322.0 1031.9L1322.5 1031.8L1323.0 1031.7L1323.5 1031.7L1324.0 1031.7L1324.5 1031.7L1325.0 1031.7L1325.5 1031.7L1326.0 1031.8L1326.5 1031.8L1327.0 1031.9L1327.5 1031.9L1328.0 1032.0L1328.5 1032.0L1329.0 1032.0L1329.5 1032.0L1330.0 1031.9L1330.5 1031.8L1331.0 1031.7L1331.5 1031.7L1332.0 1031.8L1332.5 1031.9L1333.0 1032.0L1333.5 1032.0L1334.0 1031.9L1334.5 1031.8L1335.0 1031.8L1335.5 1031.7L1336.0 1031.6L1336.5 1031.5L1337.0 1031.6L1337.5 1031.7L1338.0 1031.7L1338.5 1031.7L1339.0 1031.7L1339.5 1031.7L1340.0 1031.8L1340.5 1031.9L1341.0 1031.9L1341.5 1031.9L1342.0 1031.9L1342.5 1031.9L1343.0 1031.8L1343.5 1031.8L1344.0 1031.7L1344.5 1031.7L1345.0 1031.7L1345.5 1031.7L1346.0 1031.8L1346.5 1031.9L1347.0 1031.9L1347.5 1032.0L1348.0 1032.1L1348.5 1032.1L1349.0 1032.1L1349.5 1032.0L1350.0 1031.9L1350.5 1031.8L1351.0 1031.8L1351.5 1031.9L1352.0 1031.9L1352.5 1031.9L1353.0 1031.9L1353.5 1031.9L1354.0 1031.8L1354.5 1031.8L1355.0 1031.7L1355.5 1031.6L1356.0 1031.5L1356.5 1031.5L1357.0 1031.6L1357.5 1031.7L1358.0 1031.8L1358.5 1031.9L1359.0 1032.0L1359.5 1032.0L1360.0 1031.9L1360.5 1031.9L1361.0 1031.8L1361.5 1031.9L1362.0 1031.9L1362.5 1031.9L1363.0 1031.9L1363.5 1031.8L1364.0 1031.7L1364.5 1031.7L1365.0 1031.7L1365.5 1031.8L1366.0 1031.9L1366.5 1031.6L1367.0 1031.3L1367.5 1031.1L1368.0 1031.1L1368.5 1031.3L1369.0 1031.4L1369.5 1031.5L1370.0 1031.3L1370.5 1031.1L1371.0 1030.7L1371.5 1030.1L1372.0 1029.5L1372.5 1029.4L1373.0 1029.9L1373.5 1030.5L1374.0 1030.8L1374.5 1030.5L1375.0 1030.2L1375.5 1030.0L1376.0 1030.2L1376.5 1030.7L1377.0 1031.3L1377.5 1031.6L1378.0 1031.6L1378.5 1031.4L1379.0 1031.3L1379.5 1031.5L1380.0 1032.1L1380.5 1032.2L1381.0 1032.2L1381.5 1031.9L1382.0 1031.3L1382.5 1030.8L1383.0 1030.2L1383.5 1029.7L1384.0 1029.4L1384.5 1029.5L1385.0 1029.9L1385.5 1030.5L1386.0 1030.9L1386.5 1031.3L1387.0 1031.7L1387.5 1032.0L1388.0 1031.8L1388.5 1031.2L1389.0 1030.6L1389.5 1030.1L1390.0 1029.7L1390.5 1029.3L1391.0 1029.2L1391.5 1029.4L1392.0 1029.8L1392.5 1030.1L1393.0 1029.8L1393.5 1029.2L1394.0 1028.6L1394.5 1028.5L1395.0 1028.9L1395.5 1029.4L1396.0 1029.7L1396.5 1029.8L1397.0 1029.7L1397.5 1029.4L1398.0 1029.3L1398.5 1029.2L1399.0 1029.4L1399.5 1029.5L1400.0 1029.5L1400.5 1029.2L1401.0 1029.0L1401.5 1029.4L1402.0 1030.0L1402.5 1030.0L1403.0 1029.1L1403.5 1027.9L1404.0 1026.6L1404.5 1026.0L1405.0 1025.7L1405.5 1025.2L1406.0 1024.5L1406.5 1023.6L1407.0 1023.3L1407.5 1024.3L1408.0 1025.5L1408.5 1026.5L1409.0 1026.9L1409.5 1027.0L1410.0 1027.2L1410.5 1027.6L1411.0 1027.9L1411.5 1028.4L1412.0 1028.9L1412.5 1029.4L1413.0 1029.5L1413.5 1029.1L1414.0 1028.8L1414.5 1028.8L1415.0 1029.2L1415.5 1029.6L1416.0 1029.7L1416.5 1029.6L1417.0 1029.2L1417.5 1028.7L1418.0 1028.6L1418.5 1028.6L1419.0 1028.6L1419.5 1028.7L1420.0 1028.9L1420.5 1029.3L1421.0 1029.3L1421.5 1029.1L1422.0 1028.8L1422.5 1028.4L1423.0 1027.8L1423.5 1027.3L1424.0 1027.6L1424.5 1028.5L1425.0 1029.4L1425.5 1029.8L1426.0 1029.9L1426.5 1029.9L1427.0 1029.6L1427.5 1029.0L1428.0 1028.7L1428.5 1028.7L1429.0 1028.9L1429.5 1029.0L1430.0 1029.2L1430.5 1028.6L1431.0 1027.6L1431.5 1026.3L1432.0 1025.6L1432.5 1026.0L1433.0 1027.2L1433.5 1027.6L1434.0 1027.4L1434.5 1027.2L1435.0 1027.2L1435.5 1027.1L1436.0 1026.5L1436.5 1025.2L1437.0 1023.7L1437.5 1022.6L1438.0 1022.5L1438.5 1022.7L1439.0 1022.4L1439.5 1021.7L1440.0 1021.4L1440.5 1021.6L1441.0 1022.3L1441.5 1023.3L1442.0 1024.0L1442.5 1024.4L1443.0 1025.2L1443.5 1026.2L1444.0 1027.0L1444.5 1027.2L1445.0 1027.3L1445.5 1027.5L1446.0 1027.8L1446.5 1027.2L1447.0 1026.3L1447.5 1025.6L1448.0 1025.5L1448.5 1025.7L1449.0 1025.5L1449.5 1024.7L1450.0 1023.7L1450.5 1023.0L1451.0 1022.5L1451.5 1022.2L1452.0 1022.4L1452.5 1023.4L1453.0 1023.9L1453.5 1023.8L1454.0 1023.9L1454.5 1024.7L1455.0 1025.8L1455.5 1026.5L1456.0 1026.0L1456.5 1025.1L1457.0 1024.4L1457.5 1024.3L1458.0 1024.5L1458.5 1024.6L1459.0 1024.8L1459.5 1024.7L1460.0 1024.1L1460.5 1023.1L1461.0 1022.4L1461.5 1022.3L1462.0 1022.4L1462.5 1022.2"/></g>
<path class="tick" d="M116.50 1054.5v5M284.50 1054.5v5M452.50 1054.5v5M621.50 1054.5v5M789.50 1054.5v5M957.50 1054.5v5M1125.50 1054.5v5M1294.50 1054.5v5M116.5 635.50h-5M116.5 735.50h-5M116.5 834.50h-5M116.5 934.50h-5M116.5 1033.50h-5"/>
<rect class="frame" x="116.5" y="575.5" width="1346.0" height="479.0"/>
<text x="105.60" y="643.24" font-size="23.00" text-anchor="end" textLength="37.98" lengthAdjust="spacingAndGlyphs">0.8</text>
<text x="105.60" y="742.74" font-size="23.00" text-anchor="end" textLength="37.98" lengthAdjust="spacingAndGlyphs">0.6</text>
<text x="105.60" y="842.24" font-size="23.00" text-anchor="end" textLength="37.98" lengthAdjust="spacingAndGlyphs">0.4</text>
<text x="105.60" y="941.74" font-size="23.00" text-anchor="end" textLength="37.98" lengthAdjust="spacingAndGlyphs">0.2</text>
<text x="105.60" y="1041.24" font-size="23.00" text-anchor="end" textLength="37.98" lengthAdjust="spacingAndGlyphs">0.0</text>
<rect x="1047.5" y="585.4" width="406.5" height="80" rx="3" ry="3" fill="#fff" fill-opacity="0.8" stroke="#ccc" stroke-opacity="0.8" stroke-width="1.1"/>
<circle cx="1073.4" cy="600.7" r="2.85" fill="#1f77b4"/>
<path d="M1054.6 639.1h36.1" stroke="#ff7f0e" stroke-width="2.08" stroke-linecap="square" fill="none"/>
<text x="1105.90" y="606.00" font-size="18.53" text-anchor="start" textLength="98.54" lengthAdjust="spacingAndGlyphs">Raw Data</text>
<text x="1105.90" y="632.60" font-size="18.53" text-anchor="start" textLength="270.53" lengthAdjust="spacingAndGlyphs">Butterworth Filtered Data</text>
<text x="1105.90" y="653.35" font-size="18.53" text-anchor="start" textLength="338.57" lengthAdjust="spacingAndGlyphs">(N=6, Tc=3.3333 min, Type: low)</text>
<text transform="translate(112.10 1078.60) rotate(-30)" font-size="23.00" text-anchor="end" textLength="109.72" lengthAdjust="spacingAndGlyphs">08-16 00</text>
<text transform="translate(280.10 1078.60) rotate(-30)" font-size="23.00" text-anchor="end" textLength="109.72" lengthAdjust="spacingAndGlyphs">08-16 03</text>
<text transform="translate(448.10 1078.60) rotate(-30)" font-size="23.00" text-anchor="end" textLength="109.72" lengthAdjust="spacingAndGlyphs">08-16 06</text>
<text transform="translate(617.10 1078.60) rotate(-30)" font-size="23.00" text-anchor="end" textLength="109.72" lengthAdjust="spacingAndGlyphs">08-16 09</text>
<text transform="translate(785.10 1078.60) rotate(-30)" font-size="23.00" text-anchor="end" textLength="109.72" lengthAdjust="spacingAndGlyphs">08-16 12</text>
<text transform="translate(953.10 1078.60) rotate(-30)" font-size="23.00" text-anchor="end" textLength="109.72" lengthAdjust="spacingAndGlyphs">08-16 15</text>
<text transform="translate(1121.10 1078.60) rotate(-30)" font-size="23.00" text-anchor="end" textLength="109.72" lengthAdjust="spacingAndGlyphs">08-16 18</text>
<text transform="translate(1290.10 1078.60) rotate(-30)" font-size="23.00" text-anchor="end" textLength="109.72" lengthAdjust="spacingAndGlyphs">08-16 21</text>
<text x="643.60" y="29.50" font-size="27.60" text-anchor="start" textLength="280.22" lengthAdjust="spacingAndGlyphs">5.0 MHz N0000001</text>
<text x="116.50" y="28.70" font-size="27.60" text-anchor="start" textLength="42.38" lengthAdjust="spacingAndGlyphs">(a)</text>
<text x="116.50" y="565.70" font-size="27.60" text-anchor="start" textLength="43.47" lengthAdjust="spacingAndGlyphs">(b)</text>
<text transform="translate(60.6 278.5) rotate(-90)" font-size="23.00" text-anchor="middle" textLength="226.20" lengthAdjust="spacingAndGlyphs">Doppler Shift [Hz]</text>
<text transform="translate(56.2 815) rotate(-90)" font-size="23.00" text-anchor="middle" textLength="209.56" lengthAdjust="spacingAndGlyphs">Peak Voltage [V]</text>
<text x="789.50" y="1157.40" font-size="23.00" text-anchor="middle" textLength="49.51" lengthAdjust="spacingAndGlyphs">UTC</text>
</svg>
</body></html>
